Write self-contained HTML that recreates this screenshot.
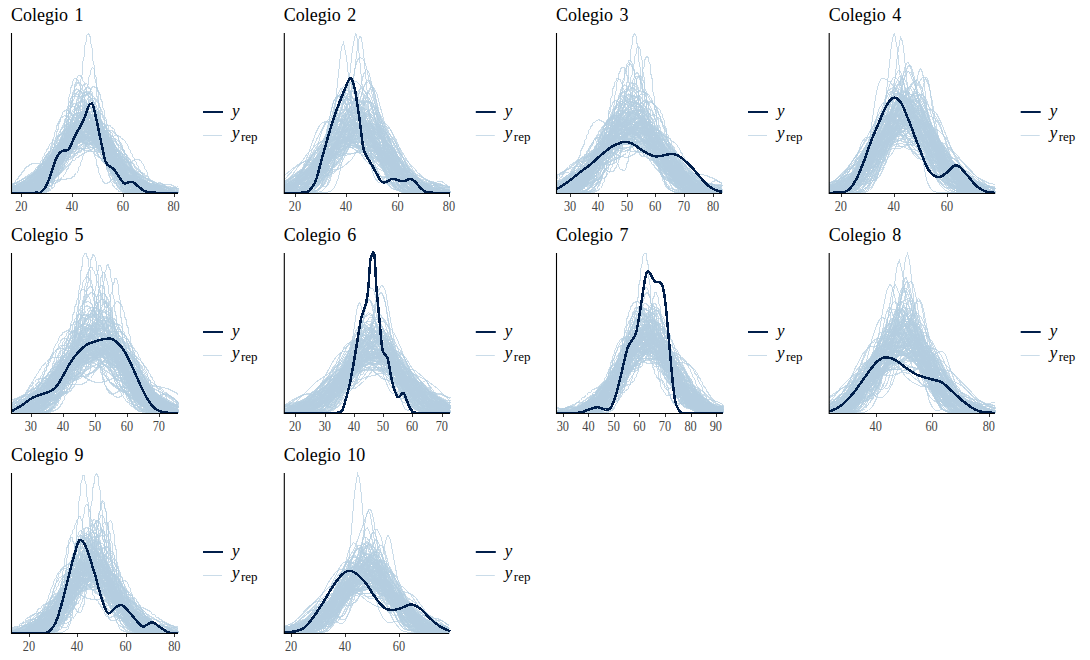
<!DOCTYPE html>
<html><head><meta charset="utf-8"><style>
html,body{margin:0;padding:0;background:#fff;width:1090px;height:660px;overflow:hidden}
svg{position:absolute;left:0;top:0}
.ti{font-family:"Liberation Serif",serif;font-size:18px;fill:#000;word-spacing:2px}
.tk{font-family:"Liberation Serif",serif;font-size:14.7px;fill:#444;text-anchor:middle;letter-spacing:0px}
.ly{font-family:"Liberation Serif",serif;font-style:italic;font-size:17px;fill:#000}
.lr{font-family:"Liberation Serif",serif;font-size:13px;fill:#000}
</style></head><body>
<svg width="1090" height="660" viewBox="0 0 1090 660">
<g fill="none" stroke="#b3cde0" stroke-opacity="0.7" stroke-width="1" shape-rendering="crispEdges" transform="translate(0.5 0.5)">
<path d="M12 186l8-3 0 1 6 0 2 1 2-1 4 0 0-1 6-1 0-1 6 0 0-1 2 0 6-3 8-12 0-3 2-2 0-3 2-3 0-4 2-3 0-3 2-4 0-4 2-4 0-3 2-5 0-4 2-5 0-5 2-7 0-6 2-8 0-8 2-9 0-9 2-9 0-8 2-6 0-5 2-2 2 4 0 5 2 7 0 9 2 9 0 9 2 9 0 9 2 8 0 6 2 6 0 6 2 4 0 4 2 4 0 4 2 3 0 3 2 3 0 3 2 3 0 3 2 2 0 3 2 2 0 3 2 2 0 2 2 2 0 2 2 2 0 2 6 9 2 1 2 3 2 0 0 1 2 0 0 1 4 0 0 1 40 0"/>
<path d="M12 192l12 0 0-1 4 0 0-1 2 0 4-2 0-1 6-4 0-2 2-1 6-9 0-2 2-1 0-2 4-6 0-3 2-2 0-2 2-2 0-2 2-2 0-2 2-2 0-2 2-2 0-2 2-2 0-2 2-1 0-2 2-3 2-1 0-2 4-3 0-2 2-1 0-2 4-6 0-4 2-3 0-5 2-5 0-5 2-5 0-5 2-5 0-3 2-3 2 2 0 4 2 5 0 7 2 8 0 8 2 8 0 9 2 8 0 7 2 6 0 6 2 5 0 5 2 4 0 4 2 3 0 3 2 2 0 3 2 2 0 2 2 1 2 3 4 0 8-4 6 0 0 1 2 0 0 1 2 1 0 1 2 1 2 3 4 2 0 1 4 1 0 1 4 0 2 1 20 0"/>
<path d="M12 192l26 0 4-1 0-1 2-1 2-3 0-2 2-2 0-3 2-3 0-3 2-3 0-4 2-3 0-3 2-3 0-3 2-3 0-3 2-4 0-4 2-4 0-4 2-5 0-5 2-6 0-4 2-5 0-4 2-3 0-2 2-2 10 0 4-2 0-1 2 0 0-1 2 1 2 3 0 3 2 4 0 4 2 4 0 4 2 3 0 2 2 2 4 1 2 3 0 3 2 4 0 4 2 6 0 5 2 6 0 5 2 5 0 5 2 4 0 4 2 3 0 3 2 2 0 2 2 1 2 3 2 0 0 1 52 0"/>
<path d="M12 192l10 0 0-1 4 0 0-1 2 0 4-2 0-1 2 0 2-3 2 0 2-3 2 0 0-1 8-7 0-2 2-1 6-10 4-3 0-2 4-3 6-9 0-2 4-8 0-3 2-3 0-3 4-8 0-3 2-3 0-2 2-4 2-2 0-2 2-1 0-1 4 0 2 1 0 2 2 1 0 2 4 8 0 4 2 4 0 4 2 4 0 5 2 4 0 5 2 5 0 4 2 5 0 4 2 4 0 4 2 4 0 3 2 3 0 2 2 2 0 2 2 3 2 1 0 1 4 2 2 0 0 1 48 0"/>
<path d="M12 191l8-1 0-1 10-3 0-1 4 0 0-1 4 0 4-1 0-1 2 0 0-1 2 0 0-1 4-3 0-2 2-1 0-2 2-2 0-2 2-2 0-2 4-6 2-7 2-2 2-7 2-2 0-2 2-1 0-2 4-6 2-1 2-3 6-3 2 0 0-1 4 0 4 1 0 1 2 0 0 1 4 3 0 2 2 1 0 2 2 2 0 2 6 13 0 3 2 3 0 2 2 3 2 7 2 2 0 2 4 6 2 1 2 3 6 3 2 0 0 1 16 0 4 1 0 1 8 2 0 1 10 2 6 0"/>
<path d="M12 192l12-3 0-1 2 0 0-1 2 0 0-1 2 0 0-1 4-1 0-1 4-2 0-1 4-3 0-2 2-1 0-2 4-8 0-3 2-3 0-3 2-3 0-3 2-3 0-3 2-3 2-7 6-8 4-2 0-1 2 0 0-1 2-1 2-3 2 0 0-1 2-1 2 0 4 2 2 3 0 2 2 1 0 3 2 2 0 2 2 3 0 2 2 3 0 2 2 3 2 7 2 2 0 2 2 2 0 2 2 1 0 2 2 1 0 2 2 1 0 1 2 1 2 3 4 2 0 1 2 1 0 1 2 1 0 1 2 1 0 1 2 1 0 1 2 1 0 1 2 1 2 3 2 0 0 1 6 3 4 0 0 1 36 0"/>
<path d="M12 192l6 0 0-1 8-1 0-1 2 0 0-1 4-2 0-1 4-3 0-2 2-1 4-7 2-1 0-2 2-1 0-2 2-1 6-9 2-1 0-1 2 0 2-3 4-2 0-1 6-4 2-4 2-1 0-2 2-1 0-2 6-9 2-1 2-3 4 0 2 1 0 1 4 3 0 2 2 1 0 2 2 2 0 3 2 2 2 7 2 2 0 3 2 2 0 3 2 2 0 3 2 2 0 2 2 2 0 2 4 6 2 1 2 3 4 2 0 1 6 1 0 1 4 0 0 1 12 0 0 1 6 0 0 1 6 1 0 1 2 0 0 1 8 2 4 0 0 1 4 0"/>
<path d="M12 189l14-4 4 0 0-1 2 0 6-3 0-1 6-5 0-2 2-1 0-2 2-1 0-2 2-2 0-2 2-2 0-2 2-2 0-2 2-2 0-2 2-2 0-2 2-1 0-2 2-1 0-2 2-1 0-1 2-1 2-3 6-3 8 0 0 1 4 1 2 3 2 0 0 1 6 5 0 2 2 1 0 1 2 1 0 1 2 1 0 1 2 1 0 1 2 1 2 3 4 2 0 1 2 0 0 1 6 3 0 1 4 1 2 3 2 0 0 1 2 1 0 1 2 1 0 1 2 1 0 1 2 1 0 1 2 1 0 1 2 1 0 1 2 1 2 3 8 4 2 0 0 1 4 0 2 1 18 0"/>
<path d="M12 192l8 0 0-1 4 0 0-1 4-1 0-1 4-2 2-3 2 0 0-1 8-7 0-2 2-1 0-2 4-6 0-3 2-2 2-7 2-2 0-2 2-2 0-2 4-6 0-3 2-2 0-2 4-8 0-3 2-3 2-7 2-2 0-2 2-1 0-2 4-2 6 1 6 8 0 3 2 3 0 3 2 3 0 4 2 4 0 4 2 5 0 4 2 5 0 4 2 5 0 4 2 4 0 4 2 3 0 3 2 3 0 3 2 2 0 2 2 1 0 1 4 3 0 1 4 0 0 1 56 0"/>
<path d="M12 191l2 0 0-1 2 0 2-1 0-1 2 0 0-1 8-7 2-4 2-1 6-9 4-3 0-2 2-1 0-2 2-1 0-2 2-1 0-2 2-2 0-2 2-1 0-2 6-9 2-1 0-1 2-1 0-1 2-1 2-3 4-2 2-3 2 0 0-1 2 0 0-1 6 0 6 5 6 9 0 2 2 2 0 2 4 6 0 3 2 2 0 3 2 2 0 3 2 3 2 7 2 2 0 3 2 2 0 2 2 1 0 2 2 1 0 2 2 1 2 3 2 0 0 1 2 0 0 1 4 0 0 1 50 0"/>
<path d="M12 189l6-3 2 0 0-1 2 0 0-1 2 0 0-1 6-1 0-1 8-2 0-1 4-2 0-1 6-5 0-2 2-1 0-2 2-2 0-2 4-6 0-2 2-3 0-2 2-2 0-2 2-2 0-2 6-8 6-3 2 0 0-1 4 0 0-1 4-1 8 0 0 1 2 0 0 1 4 3 0 2 4 5 0 3 2 2 0 2 2 3 0 3 2 2 0 3 2 3 0 3 2 2 0 3 2 3 0 2 2 2 0 2 2 2 0 2 6 8 4 2 2 0 0 1 8 0 8-2 0-1 2 0 0-1 4-1 10 0 4 1 0 1 2 0 0 1 6 1 0 1 4 0"/>
<path d="M12 192l14 0 0-1 4-1 0-1 6-5 0-2 2-1 0-2 2-1 0-2 4-2 4 0 0 1 4 1 0-1 2 0 2-3 0-2 2-4 0-4 2-4 0-5 2-6 0-5 2-6 0-6 2-6 0-6 2-5 0-5 2-5 0-4 2-4 0-3 2-3 0-3 2-1 0-2 2-1 2 1 2 3 0 3 2 4 0 4 2 5 0 6 2 6 0 6 2 6 0 6 2 6 0 6 2 6 0 5 2 5 0 4 2 4 0 4 2 3 0 2 2 2 0 2 2 1 0 1 2 0 4-2 0-1 4-3 4-6 0-2 2-2 0-2 2-2 0-2 2-1 0-1 2 0 2 1 0 2 2 2 0 3 2 3 0 4 2 3 0 3 2 2 0 3 2 1 0 2 2 1 0 1 4 1 0 1 34 0"/>
<path d="M12 192l10-1 0-1 2 0 0-1 2 0 0-1 2 0 0-1 2 0 0-1 2 0 0-1 4-1 0-1 8-2 0-1 4-3 0-2 4-5 0-3 4-6 0-3 2-2 2-7 4-5 0-2 2-1 0-2 2-1 0-2 2-1 6-9 0-2 2-1 0-2 2-2 0-2 2-1 0-2 2-3 2-1 0-2 2 0 0-1 4 0 6 9 0 3 2 3 0 3 2 3 0 3 2 4 2 10 2 3 0 4 2 3 0 3 2 3 0 3 2 2 2 7 6 9 2 1 0 1 4 3 0 1 10 4 40 0"/>
<path d="M12 191l8-1 0-1 4-1 2-3 2 0 4-6 2-1 4-7 2-1 0-2 2-1 2-4 2-1 0-1 2-1 2-3 2 0 0-1 2 0 0-1 4-1 12-1 0-1 2 0 4-2 0-1 2 0 12-17 0-2 2-1 2-3 4-2 4 2 4 6 0 2 2 2 0 3 2 2 0 3 2 2 0 3 2 3 0 2 2 3 2 7 2 2 0 2 2 2 0 2 2 1 0 2 2 1 0 1 2 1 2 3 4 2 0 1 4 1 0 1 16 5 4 0 2 1 18 0"/>
<path d="M12 192l8-1 8-4 2-3 2 0 0-2 6-5 2-4 2-1 0-1 2-1 0-1 2-1 0-1 10-9 6-9 0-2 4-5 0-2 2-2 0-2 2-2 0-2 2-1 0-2 2-1 0-2 6-4 2 0 4 2 0 1 6 5 0 2 2 1 2 4 2 1 0 2 2 1 2 4 2 1 0 2 2 1 0 2 2 1 0 2 2 1 0 2 6 9 2 1 0 2 2 1 0 1 2 1 0 1 2 1 2 3 4 2 0 1 4 2 0 1 2 0 0 1 4 2 0 1 2 0 0 1 2 0 0 1 6 1 0 1 4 0 2 1 22 0"/>
<path d="M12 190l16-5 8 0 0-1 4 0 0-1 2 0 0-1 8-7 0-2 2-1 0-2 2-1 0-2 6-8 0-2 2-1 0-2 2-1 0-2 2-1 8-12 2-1 2-3 4-2 0-1 2 0 0-1 2 0 0-1 2 0 0-1 4 0 2-1 2 1 4 0 0 1 4 1 0 1 6 5 0 2 6 9 0 2 2 3 0 2 2 2 2 7 2 2 2 7 4 5 0 2 2 1 0 2 2 1 0 1 2 1 2 3 2 0 0 1 4 1 0 1 4 0 2 1 28 0"/>
<path d="M12 192l26 0 10-4 0-1 4-3 0-2 2-1 0-2 4-6 0-3 2-2 0-3 2-2 0-3 2-3 0-3 2-3 0-3 2-3 0-3 2-3 0-3 2-2 0-3 2-3 0-2 2-2 0-2 2-2 0-2 2-1 0-2 4-2 4 1 0 1 4 3 0 2 4 5 0 2 6 9 0 2 2 1 2 4 6 5 0 2 4 3 0 2 2 1 0 2 2 1 0 2 2 1 2 4 2 1 0 1 2 1 2 3 2 0 0 1 4 2 0 1 2 0 0 1 2 1 0 1 2 0 0 1 2 1 2 3 4 2 0 1 6 3 2 0 0 1 4 0 0 1 16 0"/>
<path d="M12 192l18 0 0-1 4 0 0-1 2 0 2-3 2 0 2-3 4-2 6 0 0 1 2 0 6-3 0-2 2-1 4-6 0-2 2-1 0-2 2-2 0-2 2-2 0-2 2-3 0-3 2-4 0-4 2-4 0-4 2-5 0-4 2-5 0-5 2-4 0-5 2-4 0-4 2-3 0-3 4-8 4 1 4 8 0 3 2 4 0 4 2 5 0 4 2 5 0 6 2 5 0 5 2 5 0 5 2 4 0 5 2 4 2 10 2 3 0 2 2 2 0 2 2 1 2 3 10 0 4 2 0 1 4 2 0 1 2 0 0 1 4 0 0-1 2 0 0-1 4-2 0-1 4-1 0-1 2 0 0 1 4 1 0 1 6 4 0 1 8 2"/>
<path d="M12 190l6-1 0-1 2 0 0-1 2 0 2-1 0-1 2 0 0-1 4-2 0-1 6-5 2-4 2-1 0-2 2-1 0-2 2-1 0-2 2-1 0-2 2-1 0-2 2-1 2-4 2-1 2-3 2 0 0-1 4-1 4 0 0 1 10 0 10-5 0-1 2 0 0-1 4 0 0-1 2 0 0 1 2 0 4 2 0 1 6 5 0 2 2 1 2 4 2 1 0 2 2 1 0 2 4 3 0 2 2 1 0 1 2 1 2 3 2 0 2 3 2 0 0 1 8 4 2 0 0 1 2 0 0 1 2 0 0 1 2 0 0 1 10 3 0 1 6 1 0 1 4 0 0 1 12 1"/>
<path d="M12 192l0-1 6 0 0-1 2 0 10-6 0-1 2-1 0-2 4-3 0-2 2-1 0-2 2-1 0-2 2-1 0-2 2-1 0-2 2-1 2-4 2-1 2-3 6-3 4-1 10 0 0-1 4-1 0-1 6-4 2-4 2-1 0-1 2-1 2-3 2 0 0-1 4-1 0 1 2 0 4 2 2 4 2 1 0 2 2 1 0 2 4 5 0 2 4 5 0 2 2 1 0 2 4 6 2 1 0 2 2 1 2 4 2 1 0 1 2 1 0 1 2 1 0 1 2 1 2 3 2 0 0 1 8 4 8 1 0 1 22 0"/>
<path d="M12 192l12 0 0-1 4 0 8-4 0-1 4-3 8-12 0-2 6-9 0-2 8-11 4-2 0-1 2 0 0-1 2 0 8-4 0-1 2 0 0-1 6-3 2 0 0-1 8 0 4-1 0-1 2 0 0-1 6 0 4 3 0 2 4 6 0 3 2 2 0 3 2 3 0 3 2 4 0 3 4 8 0 3 2 2 0 2 2 4 6 8 2 0 0 1 2 0 0 1 4 0 0 1 34 0"/>
<path d="M12 184l24-12 0-1 2 0 0-1 4-2 0-1 4-2 0-1 2 0 0-1 4-2 0-1 2 0 0-1 4-2 0-1 4-1 2-3 2 0 0-1 4-2 2-3 2 0 2-3 2 0 0-1 6-3 2 0 0-1 6 0 4 1 0 1 2 0 0 1 4 2 0 1 6 5 0 2 2 1 10 16 2 1 0 2 4 3 2 4 2 0 0 1 6 4 0 1 2 0 0 1 2 0 0 1 2 0 0 1 14 4 6 0 2 1 14 0"/>
<path d="M12 192l8 0 8-2 0-1 6-5 12-21 2-1 2-3 8-2 4-2 0-1 2 0 0-2 2-1 14-23 2-1 2-3 2 0 0-1 4 0 0 1 4 3 0 2 2 2 2 4 0 2 2 2 2 7 2 2 0 2 2 2 0 2 2 1 2 4 2 0 0 1 2 0 0 1 4 0 4 1 0 1 2 0 4 6 2 1 0 2 6 9 2 1 0 2 2 1 2 3 2 0 0 1 4 1 0 1 4 0 0 1 26 0"/>
<path d="M12 192l12-1 0-1 4-1 0-1 6-4 0-2 4-3 0-2 2-1 0-2 2-1 0-2 4-3 0-2 2-1 0-1 2-1 2-3 4-2 2-4 2-1 0-2 2-1 0-2 4-5 0-2 2-2 0-2 2-2 0-2 6-8 6 0 0 1 8 7 2 4 4 3 0 2 4 3 2 4 2 1 2 4 2 1 0 2 2 1 0 2 2 1 0 1 2 1 0 1 2 1 0 1 2 1 2 3 4 2 0 1 2 0 0 1 6 3 0 1 2 0 0 1 2 0 0 1 2 0 0 1 2 0 0 1 12 3 0 1 8 2 0 1 2 0 0 1 10 1 0 1 6 0"/>
<path d="M12 185l4-6 2-1 0-2 2-1 2-4 2-1 0-2 2-1 0-1 2 0 0-1 4-2 14 1 4-2 0-1 2 0 2-4 2-1 0-2 2-1 0-2 2-2 0-2 2-1 0-2 2-2 0-2 2-2 0-2 2-1 0-2 2-1 2-3 4-1 4 1 0 1 4 3 0 2 2 1 4 6 0 2 2 1 0 2 2 1 0 2 2 1 0 2 2 1 0 2 2 1 2 4 2 1 0 1 2 1 0 1 2 1 2 3 2 0 0 1 2 1 2 3 2 0 2 3 2 0 0 1 4 2 0 1 2 0 0 1 2 0 0 1 2 0 0 1 2 0 0 1 2 0 0 1 2 0 0 1 2 0 0 1 2 0 0 1 8 2 4 0 2 1 22 0"/>
<path d="M12 189l8-2 0-1 4 0 0-1 10-1 0-1 4-1 0-1 6-5 2-3 0-2 2-2 0-2 2-2 0-2 2-2 0-3 2-2 0-3 2-2 0-3 2-3 2-7 4-6 0-2 4-3 4 0 0 1 4 3 4 7 2 1 0 2 6 3 6-3 0-1 2 0 0-1 4-1 0-1 2 0 0 1 4 1 6 9 0 2 4 6 2 7 2 2 0 2 2 2 0 2 2 2 0 2 2 1 0 2 2 3 2 1 2 4 2 0 2 3 2 0 0 1 4 1 4 0 0 1 32 0"/>
<path d="M12 191l6-1 0-1 2 0 0-1 2 0 8-4 2 0 0-1 2 0 0-1 4-2 4-6 0-2 2-2 0-3 2-3 0-3 2-3 0-4 2-3 0-4 2-4 0-4 2-3 0-4 2-3 0-3 4-8 4-3 4 2 0 1 4 3 0 2 4 3 0 2 8 7 0 2 2 1 0 1 2 1 0 1 2 1 0 1 2 1 2 3 2 0 2 3 2 0 0 1 4 2 0 1 4 3 0 2 2 1 0 2 2 1 0 2 4 5 0 2 2 2 0 2 2 1 0 2 2 3 2 1 0 2 6 4 0 1 8 2 40 0"/>
<path d="M12 192l12-1 0-1 2 0 6-3 0-1 6-5 4-6 0-2 2-1 0-2 2-2 0-2 2-2 0-2 2-2 0-2 2-2 0-2 6-9 2-1 0-1 2-1 0-1 2-1 2-3 2 0 0-1 2 0 0-1 4-1 0-1 10-1 0-1 2 0 4-2 6 0 4 3 4 6 0 2 2 2 0 2 2 2 0 2 2 2 0 2 2 2 0 2 2 1 0 2 2 2 0 2 2 1 0 2 6 8 0 2 2 1 0 2 2 1 2 4 2 1 2 3 2 0 0 1 2 0 0 1 2 0 0 1 4 0 0 1 34 0"/>
<path d="M12 192l10 0 4-1 0-1 2 0 6-8 2-7 2-2 0-3 2-2 0-3 2-2 0-2 2-3 4-3 2 0 4 2 4 0 2-2 4-8 0-3 2-4 0-3 2-4 0-4 2-3 0-4 2-3 0-3 2-3 0-2 2-4 4-3 0 1 2 0 2 3 0 2 2 2 0 3 2 3 0 4 2 3 0 4 2 4 0 3 2 3 0 3 2 3 0 2 2 2 0 2 2 1 0 1 4 3 0 1 2 1 0 1 2 1 0 1 2 1 0 1 2 1 0 1 2 1 2 3 2 1 0 2 2 1 0 2 2 1 0 2 8 11 8 3 40 0"/>
<path d="M12 190l6-1 0-1 2 0 0-1 2 0 0-1 2 0 0-1 4-1 2-3 2 0 0-1 10-9 2-4 2-1 2-4 2-1 0-2 2-1 2-4 2-1 0-1 2-1 0-1 2-1 2-3 2 0 0-1 10-5 4-1 8 0 0 1 2 0 0 1 4 1 0 1 4 2 0 1 2 0 0 1 22 10 0 1 4 3 0 2 2 1 12 18 2 1 2 3 4 2 0 1 12 3 20 0"/>
<path d="M12 192l18 0 6-3 6-9 0-2 2-3 2-1 2-3 2 0 0-1 4 0 0-1 4-3 0-2 2-3 0-3 2-3 0-4 2-4 0-5 2-5 0-5 2-6 0-6 2-6 0-7 2-6 0-6 2-5 0-5 2-4 0-3 2-3 2 0 0 1 2 1 0 3 2 2 0 3 4 11 0 4 4 14 0 5 2 5 0 4 2 5 0 4 2 4 0 4 2 3 0 3 2 2 0 2 2 2 0 2 2 2 0 2 2 2 0 2 2 1 0 3 2 2 0 2 2 2 0 3 2 2 0 2 2 1 0 2 2 1 2 3 4 1 52 0"/>
<path d="M12 191l2 0 0-1 4 0 0-1 2 0 0-1 8-2 0-1 2 0 0-1 2 0 0-1 2 0 0-1 2 0 0-1 2 0 0-1 2 0 0-1 2 0 8-4 0-1 2 0 0-1 8-7 0-2 2-1 0-2 4-5 0-2 2-2 0-2 2-2 0-2 2-2 0-2 2-1 0-2 4-6 2-1 2-3 2 0 0-1 2 0 0-1 8 0 0 1 4 0 0 1 2 0 0 1 6 4 2 4 2 1 0 2 2 2 0 2 2 2 0 2 4 6 0 3 4 6 0 3 2 2 0 2 2 2 0 2 2 1 0 2 2 3 2 1 0 2 2 1 0 1 2 0 0 1 4 2 2 0 0 1 8 0 0-1 4 0 6-2 14 0 0 1 4 0 0 1"/>
<path d="M12 192l12 0 2-1 4 0 0-1 2 0 4-2 0-1 2 0 0-1 4-3 0-2 2-1 4-6 0-2 2-1 0-2 2-2 0-2 2-1 0-2 6-9 2-1 0-1 2-1 0-1 2-1 2-3 2 0 2-3 2 0 2-3 2 0 2-3 2 0 0-1 4-1 0-1 2 0 6 3 0 1 2 1 2 4 2 1 2 4 2 1 2 3 2 0 0 1 4 0 0 1 10 0 0 1 2 0 0 1 6 5 0 2 2 1 6 10 2 1 0 2 2 1 0 1 2 1 0 1 2 1 0 1 2 1 2 3 2 0 0 1 10 4 4 0 2 1 10 0"/>
<path d="M12 191l2 0 0-1 2 0 8-4 0-1 6-5 2-4 2-1 0-2 2-1 0-2 2-1 0-2 4-5 0-2 2-1 0-2 2-1 0-2 2-1 4-6 2 0 0-1 4-2 8-1 0-1 4 0 0-1 2 0 0-1 2 0 0-1 2 0 0-1 8-2 4 1 6 3 0 1 2 0 0 1 4 3 2 4 2 1 8 13 2 1 0 2 2 1 0 1 2 1 0 1 2 1 0 1 2 1 2 3 2 0 0 1 4 2 0 1 2 0 0 1 4 2 0 1 2 0 0 1 2 0 0 1 6 3 2 0 0 1 4 1 4 0 2 1 20 0"/>
<path d="M12 191l6-1 0-1 2 0 0-1 4-2 0-1 4-3 0-2 2-1 2-4 2-1 0-2 2-1 0-1 2-1 0-1 2-1 2-3 4-2 0-1 2 0 0-1 4-2 0-1 4-3 6-9 0-2 4-5 0-2 2-2 0-2 2-1 0-2 2-3 2-1 2-3 4-1 0 1 2 0 0 1 4 3 2 3 0 2 4 5 0 2 4 5 0 2 2 1 0 2 2 1 0 2 4 3 0 2 2 1 2 4 2 1 0 2 2 1 2 4 2 1 0 1 2 1 0 1 2 1 2 3 4 2 0 1 4 2 0 1 2 0 0 1 2 0 0 1 10 5 2 0 0 1 4 0 2 1 26 0"/>
<path d="M12 191l8-1 0-1 8-2 0-1 8-2 0-1 2 0 0-1 4-1 10-15 0-3 2-2 0-2 2-3 0-2 2-3 2-7 4-6 0-2 2-3 2-1 0-1 4-2 2 0 14 8 4 0 0-1 2 0 6-3 4 1 0 1 4 3 0 2 2 2 0 2 6 13 0 3 2 2 0 3 2 2 0 2 2 2 0 2 6 8 2 0 0 1 12 6 2 0 0 1 6 1 0 1 6 0 0 1 22 0"/>
<path d="M12 191l6-1 0-1 2 0 0-1 2 0 0-1 2 0 0-1 8-1 0-1 8 0 6-4 2-3 0-2 2-2 0-2 2-2 0-3 2-2 0-3 4-8 0-3 4-8 0-3 2-2 0-2 2-2 0-2 2-2 0-2 2-1 2-3 6 0 0 1 8 5 12-1 0 1 2 1 0 2 2 1 0 2 2 3 0 3 2 3 0 3 2 3 0 3 2 3 0 3 2 3 0 3 2 2 0 2 4 6 2 0 0 1 4 0 0 1 4 0 6 3 0 1 2 1 2 3 2 0 2 3 2 0 0 1 4 1 0 1 4 0 0 1 26 0"/>
<path d="M12 189l0-1 2 0 0-1 2 0 0-1 2 0 0-1 2 0 0-1 2 0 0-1 2 0 0-1 4-2 0-1 2-1 0-1 10-9 0-2 4-3 0-2 2-1 2-4 2-1 0-1 2-1 0-1 2-1 2-3 4-2 0-1 2 0 0-1 16-8 4 0 0-1 2 0 0 1 4 0 0 1 2 0 0 1 4 2 0 1 4 3 0 2 2 1 14 22 2 1 0 2 2 1 0 1 2 1 2 3 2 0 0 1 6 3 8 2 4 0 12 3 0 1 8 2 4 0 0 1 12 1"/>
<path d="M12 184l0-1 4 0 2-1 10 0 8-3 0-1 6-5 6-9 0-2 4-5 0-2 8-12 2-1 0-1 6-3 4 0 4 1 0 1 2 0 0 1 2 0 0 1 6 1 0 1 12 1 0 1 2 0 0 1 4 1 0 1 4 3 2 4 2 1 4 7 2 1 0 2 4 3 0 2 2 1 2 3 8 5 0 1 2 0 0 1 2 0 0 1 2 0 0 1 2 0 0 1 2 0 0 1 2 0 0 1 6 1 0 1 4 0 0 1 8 0 0 1 14 0"/>
<path d="M12 191l0-1 4 0 0-1 2 0 0-1 2 0 0-1 4-1 0-1 4-2 0-1 2 0 0-1 2-1 2-3 2 0 2-3 2 0 2-3 4-1 0-1 8-4 0-1 2 0 0-1 4-2 0-1 8-7 0-2 2-1 0-1 2-1 0-1 2-1 0-1 2-1 0-1 2-1 0-1 2-1 2-3 2 0 0-1 4-1 0-1 8 0 6 3 0 1 10 9 2 4 2 1 2 4 2 1 0 2 2 1 0 2 2 1 2 4 2 1 0 2 4 3 2 4 2 1 0 1 2 1 0 1 2 1 2 3 2 0 0 1 8 4 2 0 0 1 6 0 0 1 18 0"/>
<path d="M12 192l16 0 2-1 4 0 0-1 2 0 0-1 4-1 0-1 4-2 2-3 2 0 6-8 0-2 2-2 0-3 2-3 0-3 2-4 0-4 2-4 0-5 2-5 0-5 2-6 0-5 2-5 0-5 2-5 0-5 2-4 0-4 2-2 0-3 2-1 0-1 4 3 0 3 2 3 0 4 2 4 0 4 2 5 0 4 2 5 0 4 2 4 0 3 2 3 0 3 2 2 0 2 2 3 2 1 0 1 2 0 0 1 2 0 0 1 8 2 0 1 6 5 0 2 2 1 0 2 4 5 0 2 2 2 0 2 2 2 0 2 4 6 2 1 2 3 2 0 0 1 2 0 0 1 4 0 0 1 36 0"/>
<path d="M12 192l30 0 0-1 2 0 6-4 4-6 0-3 2-2 0-3 2-3 0-3 2-3 0-3 2-3 0-3 2-3 0-3 2-3 0-2 2-3 0-3 2-2 0-3 2-2 0-3 2-3 0-3 2-3 0-3 2-4 0-4 2-3 0-4 2-4 0-3 2-3 0-2 2-1 0-1 4 1 0 2 2 2 0 3 2 2 2 10 2 3 0 3 4 11 0 4 2 4 0 4 2 4 0 4 2 4 0 4 2 4 0 4 2 3 0 4 2 3 0 3 2 2 0 2 2 3 2 1 0 1 10 0 4 2 2 3 2 0 2 3 2 0 0 1 4 0 0 1 32 0"/>
<path d="M12 192l2-1 4 0 0-1 2 0 0-1 4-1 0-1 6-5 0-2 2-1 0-2 2-1 0-2 2-1 0-2 6-9 2-1 2-3 8-4 2 0 0-1 2 0 0-1 2 0 0-1 2 0 0-1 2 0 0-1 4-2 0-1 2 0 2-3 2 0 2-3 4-2 0-1 2-1 2-3 4-2 0-1 6 0 0 1 4 3 0 2 2 2 0 2 4 6 0 2 2 3 0 2 2 2 0 3 2 2 0 2 2 2 0 2 2 1 0 2 2 1 2 3 4 2 2 0 0 1 8 1 0 1 2 0 8 4 0 1 2 0 0 1 12 6 2 0 0 1 6 0 0 1 14 0"/>
<path d="M12 190l6-1 0-1 8-2 0-1 6-1 0-1 2 0 0-1 2 0 2-1 0-1 4-1 0-1 2-1 0-1 2-1 0-1 2-1 0-1 2-1 0-1 2-1 2-3 2 0 0-1 2-1 0-1 2-1 0-1 2-1 0-1 10-9 0-2 2-1 0-1 2-1 0-1 2-1 2-3 2 0 0-1 2 0 0-1 2 0 0-1 18 0 6 3 0 1 4 3 2 4 2 1 0 2 2 1 0 2 2 1 0 2 2 1 2 4 2 1 0 2 2 1 2 4 4 3 0 2 2 1 0 1 2 1 0 1 2 1 0 1 2 1 2 3 2 0 2 3 2 0 0 1 2 0 0 1 4 0 0 1 4 0 2 1 14 0"/>
<path d="M12 192l16 0 0-1 4 0 0-1 2 0 0-1 4-3 0-2 2-1 0-2 2-2 0-3 2-2 0-3 2-2 0-3 2-3 0-3 2-3 0-3 2-2 0-3 2-2 0-3 2-2 2-7 2-2 0-3 4-8 0-3 2-2 0-3 2-2 0-2 2-3 2-1 2 0 0 1 2 1 8 14 10 9 0 2 2 2 0 2 2 2 0 2 2 3 0 3 2 3 0 3 2 2 0 3 2 3 0 2 2 2 0 3 2 1 0 2 2 3 2 1 0 2 2 1 0 1 2 1 0 1 2 1 2 3 2 0 2 3 10 4 42 0"/>
<path d="M12 192l10-2 0-1 2 0 0-1 4-1 0-1 8-7 0-2 2-1 0-2 2-1 0-2 2-1 0-2 2-1 0-2 2-1 0-2 2-1 0-2 2-1 0-1 2-1 2-3 4-2 8 0 0 1 4 1 6 0 0-1 4-1 0-1 2-1 0-1 2-1 0-1 2-1 0-1 2-1 2-3 4-2 4 0 4 2 0 1 4 3 0 2 2 1 2 4 2 1 2 4 2 1 2 3 2 0 2 3 2 0 0 1 12 8 0 1 2 1 2 3 2 0 2 3 4 2 0 1 4 2 0 1 2 0 0 1 2 0 0 1 2 0 0 1 8 2 12 1"/>
<path d="M12 192l10 0 8-2 0-1 2 0 0-1 4-2 0-1 12-8 0-1 6-5 0-2 2-1 8-12 0-2 2-1 0-2 2-2 0-2 2-2 0-2 2-2 0-2 2-2 0-2 2-2 0-2 2-2 0-2 2-1 0-2 2-1 2-3 6-3 4 0 4 2 0 2 2 1 0 2 2 2 0 3 2 3 0 3 2 3 0 3 2 3 0 3 2 3 0 3 2 2 0 2 2 2 0 2 2 1 2 3 12 6 0 1 4 3 0 2 4 3 0 2 2 1 0 1 2 1 2 3 10 4 24 0"/>
<path d="M12 190l2 0 0-1 2 0 10-5 0-1 2 0 2-3 2 0 0-1 2-1 2-3 2 0 0-1 2-1 2-3 2 0 0-1 6-4 0-1 2 0 0-1 2 0 0-1 2 0 0-1 6-1 0-1 6-1 0-1 4-1 0-1 4-2 0-1 2-1 0-1 2-1 2-3 4-2 0-1 2-1 2-3 6-3 6 0 0 1 2 0 0 1 4 2 2 4 2 1 10 16 2 1 0 2 2 1 0 1 2 1 0 1 2 1 0 1 2 1 0 1 2 1 2 3 4 2 0 1 2 0 0 1 6 3 0 1 2 0 0 1 2 0 0 1 8 2 0 1 8 2 10 1"/>
<path d="M12 192l14 0 0-1 8-1 0-1 4-1 0-1 4-2 0-1 4-2 0-1 6-3 0-1 2 0 0-1 2 0 0-1 4-2 8-12 0-3 2-2 0-2 2-3 0-2 2-3 0-2 2-3 2-7 2-2 0-2 2-1 0-2 2-1 2-3 2 0 0-1 4 0 0 1 2 0 2 1 0 1 2 0 0 1 4 3 0 2 4 3 0 2 2 1 2 4 2 1 0 2 2 1 0 1 2 1 0 2 6 5 0 2 4 3 0 2 2 1 4 6 4 3 0 2 2 1 0 1 2 1 2 3 4 2 2 3 4 2 0 1 2 0 0 1 4 1 0 1 8 1 0 1 12 0"/>
<path d="M12 187l4-2 0-1 4-1 0-1 8-4 0-1 2 0 0-1 4-1 0-1 4-2 0-1 2 0 2-3 2 0 0-1 2-1 0-1 2-1 0-1 2-1 2-3 2 0 0-1 10-9 2-4 2 0 0-1 2-1 0-1 2-1 0-1 2-1 2-3 2 0 2-3 2 0 0-1 4-1 6 0 6 3 0 1 4 3 6 9 0 2 2 2 0 2 2 2 0 2 2 2 0 2 2 2 0 2 2 2 0 2 2 2 0 2 2 1 0 2 4 6 2 1 0 1 2 1 2 3 2 0 0 1 2 0 0 1 2 0 0 1 4 0 2 1 34 0"/>
<path d="M12 188l10-3 8 1 0 1 4 0 2 1 8-3 0-1 4-3 4-6 0-2 2-1 0-2 2-2 0-2 2-2 0-2 2-2 0-2 2-2 0-2 2-2 0-2 2-2 0-2 2-1 0-2 2-1 2-4 2-1 0-1 2-1 0-1 2-1 0-1 2-1 0-1 2-1 0-1 2-1 0-1 2-1 0-1 2-1 2-3 2-1 4 0 0 1 4 3 0 2 2 2 0 2 4 8 0 3 2 3 0 3 2 2 0 3 2 3 2 7 2 2 0 2 2 1 0 2 2 1 2 3 2 0 0 1 2 0 0 1 6 1 0 1 4 2 0 1 2 0 0 1 2 1 0 1 2 1 2 3 2 0 0 1 8 4 4 0 0 1 20 0"/>
<path d="M12 192l0-1 8-1 0-1 2 0 2-3 2 0 2-4 2-1 2-3 0-2 2-1 0-2 2-2 0-2 2-2 0-2 2-2 0-2 2-2 0-2 2-2 0-2 2-2 0-2 2-1 0-2 2-3 2-1 0-2 2-1 2-3 2 0 0-1 4-2 10 0 0 1 4 1 0 1 4 2 0 1 4 3 0 2 2 1 0 1 2 1 0 1 2 1 0 1 2 1 2 3 4 2 0 1 2 0 0 1 2 0 0 1 2 0 6 3 0 1 2 0 2 3 2 0 0 1 2 1 0 1 2 1 0 1 2 1 2 3 4 2 0 1 4 2 0 1 2 0 0 1 2 0 0 1 2 0 0 1 4 2 2 0 0 1 2 0 0 1 2 0 0 1 8 2 6 0 0 1 16 0"/>
<path d="M12 192l18 0 0-1 4 0 8-4 0-1 4-2 2-3 2 0 0-1 4-3 0-2 2-1 0-2 4-6 0-2 2-3 0-3 2-2 0-3 2-3 0-3 2-3 0-3 2-3 0-2 2-3 2-7 2-2 0-2 2-2 0-2 2-2 0-2 6-9 2-1 4 0 6 9 0 3 2 3 0 3 2 3 0 4 2 3 0 4 2 3 0 4 2 4 0 3 2 3 0 3 2 3 0 2 2 2 0 3 2 1 0 2 2 3 2 1 0 2 4 3 2 4 2 1 2 3 6 3 4 0 10-5 6 0 0 1 2 0 0 1 2 0 0 1 6 3 2 0 0 1 10 1"/>
<path d="M12 185l2-1 0-1 2 0 0-1 6-3 0-1 2 0 0-1 4-2 0-1 2 0 0-1 4-2 0-1 6-4 0-1 2-1 0-1 2-1 0-1 2-1 0-1 2-1 0-1 2-1 0-1 2-1 2-3 2 0 0-1 4-2 0-1 2 0 0-1 2 0 0-1 8-4 2 0 0-1 2 0 0-1 2 0 0-1 4 0 0-1 8 0 0 1 4 1 0 1 6 5 6 9 0 2 2 1 0 2 8 12 2 1 0 2 2 1 2 3 2 0 2 3 2 0 0 1 2 0 0 1 2 0 0 1 2 0 0 1 2 0 0 1 2 0 0 1 14 4 6 0 0 1 20 0"/>
<path d="M12 192l10-1 0-1 2 0 4-2 0-1 2 0 0-1 6-5 6-9 0-2 2-1 0-2 4-6 2-7 2-2 0-2 2-3 0-2 2-2 0-2 2-2 0-2 4-6 4-2 6 0 2 1 4 0 0 1 8 0 2 1 0 1 2 0 4 6 2 1 0 2 2 1 0 2 2 1 0 2 2 1 2 4 10 9 2 4 4 3 0 2 4 3 2 4 2 1 0 1 2 1 0 1 2 1 2 3 2 0 0 1 6 3 2 0 0 1 4 0 2 1 28 0"/>
<path d="M12 191l0-1 4 0 0-1 6-1 0-1 2 0 0-1 2 0 0-1 2 0 0-1 4-2 0-1 8-7 12-19 2-1 0-2 2-1 0-1 2-1 2-3 4-1 0-1 10 1 0 1 2 0 0 1 2 0 0 1 2 0 4 2 4 0 0 1 6 0 10 2 0 1 2 0 10 5 0 1 2 0 0 1 4 2 0 1 2 0 0 1 4 2 0 1 2 0 0 1 6 3 0 1 2 0 0 1 2 0 0 1 18 9 2 0 0 1 2 0 0 1 2 0 0 1 6 1 0 1 4 0 0 1 4 0"/>
<path d="M12 192l12 0 0-1 8-1 0-1 2 0 0-1 4-1 0-1 8-7 0-2 2-1 0-2 6-9 0-3 2-2 0-2 2-3 0-3 2-2 0-3 2-3 0-2 2-3 2-7 4-6 0-2 6-4 6 4 4 6 0 2 2 1 0 2 4 5 0 2 2 1 4 6 8 4 8 1 0 1 2 0 8 5 4 6 2 1 0 2 2 1 0 2 2 1 0 2 2 1 4 7 2 1 2 3 8 4 4 0 0 1 22 0"/>
<path d="M12 192l10 0 0-1 8-1 0-1 2 0 0-1 2 0 0-1 4-2 4-6 2-1 0-2 2-1 0-2 2-1 0-2 2-1 0-2 4-5 0-2 2-1 0-2 2-1 0-2 2-1 0-2 2-1 2-4 2-1 2-3 6-3 6 0 4 1 0 1 4 2 2 0 0 1 8 0 0-1 2 0 0-1 4-2 0-1 4-1 0-1 2 0 4 2 0 1 2 1 0 2 2 1 0 2 2 2 0 2 2 3 0 2 2 2 0 3 2 2 0 3 2 2 0 2 2 2 0 2 4 6 2 1 2 3 10 3 8 1 0 1 4 0 0 1 8 2 10 1"/>
<path d="M12 189l4-2 2 0 0-1 2 0 0-1 12 0 0-1 2 0 6-4 0-2 2-1 0-2 4-6 0-3 2-2 2-7 2-2 0-2 2-2 0-2 2-2 0-2 2-1 0-2 4-5 0-2 2-2 0-2 2-2 0-2 2-2 0-2 2-2 0-2 4-6 4-1 2 1 0 1 2 1 2 3 0 2 2 2 0 2 2 2 0 2 2 2 0 2 2 2 0 2 2 2 0 2 2 2 0 2 2 1 0 2 2 1 0 2 2 1 0 2 2 1 2 4 2 1 0 2 2 1 0 2 2 1 0 2 6 8 0 2 2 1 0 2 2 1 0 2 2 1 0 1 2 1 2 3 2 0 0 1 2 0 0 1 4 0 2 1 40 0"/>
<path d="M12 192l2 0 0-1 2 0 6-3 0-1 4-3 2-4 2-1 0-2 2-1 2-3 2 0 0-1 6 0 0 1 2 0 0 1 2 0 0 1 4 0 4-3 0-2 2-1 0-3 2-2 0-3 2-4 0-3 4-11 0-4 2-3 0-4 2-3 0-3 2-2 0-3 4-6 2-1 0-1 4-1 0-1 6 0 4 2 0 2 2 1 0 3 2 2 0 3 2 3 0 3 4 11 0 4 2 4 0 4 2 4 0 4 2 3 0 4 2 3 2 7 2 3 2 1 0 1 4 0 4-2 0-1 6-3 2 0 6 3 0 1 2 1 0 1 2 1 0 1 2 1 2 3 2 0 0 1 2 0 0 1 4 0 0 1 26 0"/>
<path d="M12 192l8 0 0-1 8-1 0-1 2 0 0-1 6-4 0-2 2-1 4-6 0-2 4-5 0-2 2-2 0-3 2-2 0-2 2-2 0-2 2-1 0-2 2-2 0-2 2-1 0-2 2-1 0-1 2-1 2-3 4-1 0-1 10 2 0 1 2 0 0 1 8 0 0-1 2 0 6-3 6 0 0 1 2 0 0 1 2 1 0 2 2 1 0 2 2 1 0 2 4 6 0 3 2 2 0 2 2 2 0 2 2 2 0 2 2 2 0 2 4 6 2 1 2 3 4 2 0 1 10 5 2 0 0 1 4 1 4 0 2 1 22 0"/>
<path d="M12 190l2 0 0-1 2 0 0-1 4-1 2-3 2 0 0-1 6-5 2-4 6-5 0-2 2-1 0-1 2-1 0-1 2-1 0-1 2-1 2-3 4-2 2-3 4-2 2-3 2 0 0-1 4-2 0-1 2 0 0-1 2 0 0-1 2 0 0-1 2 0 0-1 2 0 0-1 8-1 4 1 0 1 2 0 0 1 2 0 0 1 4 3 4 7 2 1 0 2 2 1 0 2 2 1 0 2 2 1 0 2 2 1 0 1 2 1 0 1 2 1 2 3 2 0 0 1 2 0 0 1 2 0 0 1 2 0 0 1 6 1 0 1 2 0 0 1 2 0 0 1 8 2 0 1 2 0 0 1 6 1 0 1 4 0 0 1 8 2 0 1 4 0 0 1 4 0 0 1 6 0 2 1"/>
<path d="M12 191l0-1 4 0 0-1 6-1 0-1 8-2 0-1 2 0 0-1 2 0 0-1 4-1 2-3 2 0 0-1 2-1 0-2 4-3 0-2 2-1 0-2 2-1 0-2 10-15 2-1 0-1 2-1 2-3 6-3 2 0 0-1 12-1 0-1 4 0 2-1 8 0 0 1 2 0 0 1 4 3 6 9 0 2 2 2 0 2 2 2 0 2 2 2 0 2 4 5 0 2 2 1 0 2 2 1 0 1 2 1 0 1 2 1 2 3 6 3 0 1 2 0 0 1 2 0 0 1 8 2 0 1 10 1 0 1 16 0"/>
<path d="M12 192l8-1 0-1 2 0 4-2 0-1 2 0 0-1 6-4 0-1 2-1 0-1 2-1 2-3 2 0 2-3 2 0 0-1 6-5 6-9 0-2 2-2 0-2 2-3 0-2 2-2 0-2 2-2 0-2 2-1 0-2 2-1 2-3 6 0 0 1 2 0 2 3 2 0 0 1 2 0 0 1 6 0 8-4 2 0 4 2 4 6 0 2 2 2 2 7 2 2 0 3 2 2 0 3 2 2 0 2 2 2 0 2 2 2 0 2 2 1 0 2 2 1 0 1 2 1 0 1 2 1 2 3 2 0 0 1 2 0 0 1 4 1 0 1 2 0 0 1 10 2 24 0"/>
<path d="M12 192l30 0 4-1 0-1 2 0 0-1 2-1 2-3 0-2 2-2 0-3 2-4 0-3 2-5 0-5 2-5 0-6 2-6 0-7 2-6 0-7 2-7 0-7 2-6 0-6 2-6 0-4 2-4 0-3 2-3 2 0 0 1 2 1 0 3 2 3 0 4 2 4 0 4 2 5 0 5 2 4 0 4 2 5 0 3 2 3 0 3 2 3 0 2 2 1 2 4 4 3 4 6 0 2 2 1 0 2 2 2 0 2 2 2 0 2 2 1 0 2 6 9 4 3 0 2 2 1 0 1 2 1 0 1 2 1 0 1 2 1 2 3 2 0 0 1 2 0 0 1 4 0 0 1 38 0"/>
<path d="M12 192l10 0 2-1 4 0 4-1 0-1 2 0 0-1 2 0 0-1 4-2 0-1 8-7 2-4 2-1 0-2 2-1 2-4 2-1 0-2 2-1 14-22 2-1 0-2 2-1 0-1 4-2 2 0 0-1 2 0 0 1 2 0 2 1 0 1 2 0 0 1 4 2 0 1 20 9 0 1 6 5 2 4 2 1 0 2 2 1 0 2 2 1 0 2 2 1 2 4 4 3 0 2 2 1 2 3 2 0 0 1 6 4 0 1 2 0 0 1 10 4 4 0 2 1 10 0"/>
<path d="M12 192l20 0 8-3 0-1 4-3 0-2 2-1 0-2 2-2 0-2 6-13 0-3 4-8 0-3 2-2 0-3 2-3 0-2 2-3 2-7 2-2 0-3 2-2 0-3 2-2 0-2 2-2 0-2 2-3 2-1 0-1 4 0 0 1 2 0 0 2 2 1 0 2 4 6 0 3 2 2 0 3 2 2 0 3 2 2 0 3 2 2 0 3 2 3 0 2 2 3 2 7 2 2 0 2 4 6 4 2 8 0 0 1 2 0 12 18 4 2 0 1 2 0 0 1 4 0 0 1 32 0"/>
<path d="M12 192l10 0 2-1 4 0 0-1 2 0 4-2 0-1 2 0 0-1 4-3 2-4 2-1 0-2 2-1 2-4 2-1 4-6 2 0 0-1 4-1 0-1 10-2 0-1 4-2 0-1 2 0 2-3 2 0 2-3 2 0 2-3 2 0 0-1 6-5 0-2 2-1 2-4 2-1 0-2 6-5 4 0 0 1 4 3 0 2 4 6 0 3 2 2 0 3 2 2 0 3 2 3 0 2 2 2 0 3 2 2 0 2 2 2 0 2 2 1 0 2 2 1 0 1 2 1 2 3 4 2 0 1 2 0 0 1 6 3 0 1 2 0 0 1 2 0 0 1 4 1 0 1 6 1 0 1 6 0 0 1 8 0"/>
<path d="M12 192l12-1 0-1 2 0 8-5 0-1 4-3 0-2 4-3 0-2 2-1 0-2 2-1 0-2 2-1 0-2 2-1 2-4 2-1 0-2 6-4 0-1 6-3 0-1 4-3 2-3 0-2 2-2 0-2 4-8 0-3 4-8 0-3 2-2 0-2 2-1 0-2 2-1 4 1 2 3 0 2 2 2 0 3 2 3 0 3 2 3 0 4 2 3 0 3 2 4 0 3 2 3 0 3 2 3 0 3 2 3 2 7 2 2 0 2 2 3 2 1 0 2 2 1 2 3 4 2 0 1 4 2 0 1 2 0 0 1 2 0 0 1 6 3 2 0 0 1 4 0 2 1 30 0"/>
<path d="M12 192l20 0 0-1 4 0 6-3 0-1 6-5 0-2 2-1 0-2 4-5 0-2 2-2 0-2 2-2 0-2 2-2 0-2 4-5 0-2 2-1 0-2 2-3 2-1 0-2 2-1 6-9 4-3 2-4 4-2 0-1 2 0 0-1 4 0 0 1 2 0 0 1 4 3 0 2 2 1 0 2 2 1 0 2 4 6 0 3 2 2 0 3 2 2 0 3 2 2 0 3 2 2 2 7 2 2 0 2 2 1 0 2 4 2 4 0 0-1 2 0 0-1 2 0 0-1 4-1 0-1 2 0 0 1 4 1 0 1 4 3 0 2 4 3 2 4 4 2 0 1 2 0 0 1 2 0 0 1 4 0 0 1 12 0"/>
<path d="M12 187l4-1 10 0 2 1 4 0 4-1 0-1 4-2 0-2 2-1 2-3 0-2 2-2 0-2 2-2 0-2 2-3 0-2 2-3 2-7 2-2 0-3 4-6 0-2 2-1 0-2 2-1 2-3 2 0 0-1 6 0 4 1 0 1 2 0 0 1 2 0 0 1 2 0 0 1 2 0 0 1 2 0 0 1 2 0 0 1 4 2 2 3 2 0 0 1 2 1 0 1 2 1 2 3 2 0 2 3 2 0 0 1 4 2 0 1 2 0 0 1 6 5 2 4 2 1 0 2 2 1 0 2 2 1 2 4 2 1 0 2 2 1 2 3 4 2 0 1 2 0 0 1 4 1 4 0 0 1 26 0"/>
<path d="M12 192l8 0 8-3 0-1 2-1 0-1 2-1 2-3 0-2 4-6 0-3 2-2 0-3 2-2 2-7 2-3 2-1 0-2 2 0 0-1 4 0 0 1 4 1 4 0 2-1 0-1 2-1 0-2 2-1 0-2 4-5 0-2 2-3 2-1 2-3 2 0 0-1 2 0 0 1 2 0 8 4 2 0 0 1 2 0 0 1 2 0 0 1 2 0 0 1 2 0 0 1 8 7 0 2 2 1 0 2 2 2 0 2 4 6 0 2 2 3 0 2 2 2 2 7 4 5 0 2 2 1 2 3 10 4 36 0"/>
<path d="M12 192l32 0 4-1 0-1 2 0 0-1 4-3 0-2 4-6 0-3 4-8 2-10 2-3 0-3 2-3 0-3 2-3 0-3 2-3 0-4 2-3 0-4 4-11 0-4 2-4 0-4 2-3 0-3 2-2 0-2 2-1 2 0 0 2 2 1 0 3 2 2 0 3 4 11 0 4 2 4 0 4 4 11 0 4 2 3 0 4 2 3 2 10 2 3 2 7 2 1 0 2 4 2 8-4 0-1 4 0 0 1 2 0 0 1 4 3 4 6 4 2 10 0 0 1 4 1 0 1 4 2 0 1 4 1 0 1 4 0 0 1 8 0"/>
<path d="M12 192l14 0 4-1 4-2 0-1 4-3 0-2 2-1 0-2 4-5 0-2 2-2 0-2 2-1 0-2 2-1 2-4 2 0 2-3 2 0 6-8 0-2 2-2 0-3 2-2 0-3 2-3 0-3 2-3 0-3 2-3 0-3 2-2 0-3 2-2 0-2 4-3 2 0 4 3 0 2 2 2 0 2 4 8 0 3 2 3 0 3 2 3 0 3 2 3 0 2 2 2 0 3 2 1 0 2 2 3 6 4 0 1 4 1 0 1 6 5 2 4 2 1 0 2 2 1 0 2 2 1 2 4 2 1 0 1 2 1 2 3 8 3 32 0"/>
<path d="M12 192l14-1 0-1 2 0 4-2 0-1 2 0 0-1 4-3 2-4 2-1 6-10 2-1 0-2 2-1 0-1 2-1 2-3 4-2 0-1 2 0 0-1 4-2 0-1 2 0 0-1 10-9 0-2 2-1 2-3 6-3 4 0 0 1 4 1 0 1 2 1 0 1 2 1 0 1 2 1 0 1 2 1 0 1 2 1 0 1 2 1 0 1 2 1 0 1 2 1 0 1 2 1 2 3 4 2 0 1 2 1 0 1 2 1 0 1 10 9 2 4 2 1 2 3 4 2 0 1 2 0 0 1 2 0 0 1 18 1 0 1 12 3"/>
<path d="M12 192l8-1 0-1 2 0 8-4 0-1 4-2 2-3 2 0 2-3 6-3 0-1 2 0 4-2 0-1 2 0 0-1 4-3 0-2 2-1 0-2 2-2 0-2 2-3 0-2 2-2 0-3 2-3 2-7 4-6 0-2 6-4 2 0 6 3 0 1 2 0 0 1 4 1 0 1 6 1 6 3 0 1 4 3 4 6 0 2 2 2 0 2 2 2 0 2 2 2 0 3 2 2 0 2 2 2 0 2 2 2 0 2 2 2 0 2 2 1 0 2 2 1 0 2 2 1 2 3 2 0 0 1 4 2 2 0 0 1 4 0 2 1 28 0"/>
<path d="M12 192l20 0 0-1 2 0 4-2 0-1 2-1 0-1 2-1 0-1 2-1 2-3 8-4 0-1 2-1 2-3 0-2 2-1 0-3 2-2 0-2 2-3 0-3 2-4 0-4 2-4 0-5 2-5 0-5 2-6 0-5 2-5 0-5 2-4 0-4 2-3 0-3 4-6 0-2 4-2 4 6 0 3 2 3 0 4 2 4 2 10 2 3 0 2 2 2 0 3 2 2 0 3 2 3 0 4 2 4 0 4 2 5 0 5 2 5 0 5 2 4 0 5 2 4 0 3 2 3 0 3 2 3 2 1 0 1 4 1 0 1 54 0"/>
<path d="M12 192l10-2 0-1 2 0 10-5 0-1 4-1 0-1 4-2 0-1 6-5 4-6 0-2 2-1 0-2 2-2 0-2 2-1 0-2 6-9 0-2 2-1 0-2 2-1 2-4 2-1 0-2 2-1 0-1 2-1 2-3 4-2 0-1 6 0 0 1 2 0 0 1 6 5 0 2 2 1 0 2 2 1 4 7 2 1 0 2 2 1 0 2 2 1 4 7 2 1 0 2 2 1 2 4 2 1 0 2 2 1 0 1 2 1 0 1 2 1 0 1 2 1 0 1 2 1 0 1 2 1 0 1 2 1 2 3 2 0 0 1 8 4 2 0 0 1 4 0 2 1 22 0"/>
<path d="M12 192l6 0 0-1 8-1 0-1 4-2 0-1 2 0 2-4 2-1 4-6 0-2 2-2 0-2 2-2 0-2 2-2 0-2 2-2 0-2 2-2 0-2 2-2 0-2 6-9 2-1 2-3 2 0 0-1 8 0 0 1 4 1 0 1 6 3 0 1 2 0 0 1 6 3 0 1 2 0 0 1 2 0 0 1 2 0 0 1 2 0 0 1 2 0 0 1 2 0 0 1 2 0 0 1 2 0 2 1 0 1 2 0 0 1 4 1 0 1 4 2 0 1 2 0 2 3 4 2 2 3 4 2 0 1 2 1 0 1 2 1 2 3 2 0 0 1 2 1 2 3 2 0 0 1 10 5 4 1 4 0 2 1 12 0"/>
<path d="M12 192l14 0 0-1 4 0 0-1 2 0 4-2 0-1 2 0 0-1 2-1 10-15 2-7 2-2 0-3 2-2 0-3 2-2 0-3 2-2 0-3 2-2 0-2 2-2 0-2 2-2 0-2 2-1 2-3 18 1 0 1 8 1 0 1 2 0 0 1 4 2 0 1 2 1 0 2 2 1 2 3 0 2 4 6 2 7 2 2 0 3 2 2 0 2 2 2 0 2 4 6 2 1 0 2 2 0 2 3 8 4 0 1 2 0 0 1 2 0 0 1 6 1 0 1 4 0 2 1 24 0"/>
<path d="M12 192l0-1 4 0 8-4 0-1 2 0 0-1 4-3 2-4 4-3 2-4 2-1 0-1 2-1 0-1 2-1 0-1 2-1 0-1 2-1 0-1 2-1 2-3 4-2 0-1 2-1 0-1 2-1 2-3 6-4 0-2 4-3 0-2 2-1 0-2 2-1 0-2 2-1 0-2 2-1 0-1 2-1 2-3 4 0 0 1 4 3 4 6 0 2 2 2 0 2 2 2 0 2 2 2 0 2 10 15 0 2 2 1 0 2 2 1 0 2 2 1 0 2 2 1 0 2 2 1 0 1 2 1 2 3 2 0 0 1 2 0 0 1 2 0 0 1 6 1 0 1 6 1 0 1 2 0 0 1 8 2 4 0 2 1 18 0"/>
<path d="M12 189l0-1 2 0 0-1 4-2 0-1 2 0 2-3 2 0 2-3 2 0 2-3 2 0 2-3 2 0 2-3 2 0 0-1 6-4 0-1 2-1 2-3 2 0 0-1 4-2 0-1 2 0 0-1 2 0 0-1 2 0 0-1 8-2 0-1 4-2 0-1 2 0 0-1 6-5 0-2 2-1 0-1 2-1 2-3 2 0 0-1 4-1 4 2 0 1 4 3 2 3 0 2 2 1 0 2 2 2 0 2 4 5 0 2 2 2 0 2 4 5 0 2 2 1 0 2 2 1 0 2 2 1 6 9 2 1 0 1 2 0 2 3 2 0 0 1 2 0 0 1 2 0 0 1 8 1 0 1 28 0"/>
<path d="M12 190l0-1 2 0 0-1 2 0 0-1 2 0 0-1 2 0 0-1 6-3 2 0 0-1 6-1 0-1 4 0 0-1 2 0 0-1 2 0 0-1 4-1 0-1 2-1 0-1 10-9 0-2 4-3 0-2 2-1 6-9 0-2 2-1 0-2 2-1 0-2 2-1 0-2 2-1 0-1 2-1 0-1 2-1 2-3 2 0 0-1 2 0 0-1 6 0 0 1 2 0 0 1 6 5 0 2 2 1 0 2 2 2 0 2 2 2 0 2 2 2 0 2 4 6 0 2 2 3 0 2 2 2 0 2 4 5 0 2 2 1 0 2 2 1 2 3 6 3 2 0 0 1 4 0 0 1 6 1 0 1 10 3 0 1 6 0 0 1 16 0"/>
<path d="M12 192l28 0 0-1 2 0 4-2 2-3 0-2 2-2 0-3 2-3 0-3 2-4 0-4 2-4 0-4 2-4 0-4 2-4 0-4 2-4 2-10 2-3 0-3 2-3 0-4 2-3 0-3 2-3 0-4 2-3 0-2 2-4 2-1 0-1 2 0 0 1 2 1 0 2 2 3 0 3 2 3 0 3 2 3 0 3 2 3 0 3 10 15 0 3 2 2 0 4 2 3 0 4 2 4 0 5 2 4 0 4 2 3 0 3 4 8 10 2 0 1 2 0 0 1 2 1 2 3 6 3 2 0 0 1 40 0"/>
<path d="M12 186l2 0 0-1 2 0 0-1 2 0 0-1 8-2 0-1 4 0 2-1 16 0 4-1 0-1 4-1 2-3 2 0 0-1 2-1 0-1 2-1 0-1 2-1 0-1 2-1 0-1 2-1 2-3 2 0 2-3 2 0 0-1 4-2 0-1 2 0 0-1 2 0 0-1 2 0 0-1 2 0 0-1 2 0 0-1 4-1 0-1 4-2 0-1 2 0 2-3 2 0 0-1 4-2 0-1 8-1 0 1 2 0 0 1 4 3 4 6 0 2 2 2 0 2 2 2 0 2 2 2 0 2 2 2 0 2 2 2 0 2 2 2 0 2 2 1 0 2 4 6 2 1 0 1 2 1 2 3 2 0 0 1 4 2 8 1 0 1 12 0"/>
<path d="M12 192l6 0 0-1 4 0 0-1 4-1 0-1 2-1 0-1 2-1 0-1 2-1 0-1 2-1 0-1 2-1 2-3 2 0 0-1 10-4 0-1 4-3 0-2 2-1 0-2 4-6 2-7 2-2 0-3 2-2 2-7 2-2 0-2 2-2 0-2 2-2 0-2 2-3 2-1 0-2 2 0 0-1 2-1 4 0 0 1 2 0 0 1 4 3 2 4 2 1 0 2 2 1 0 2 2 2 0 2 2 2 0 2 2 2 0 2 4 8 0 3 2 3 0 3 2 2 0 3 2 3 0 3 2 2 0 3 2 2 0 2 2 3 2 1 0 2 2 0 0 1 2 1 4 0 4-1 0-1 10 0 0 1 2 0 0 1 2 0 0 1 2 0 0 1 2 0 4 2 4 0 0 1 18 0"/>
<path d="M12 192l6 0 0-1 2 0 2-1 0-1 2 0 2-4 2-1 0-2 2-2 0-2 2-2 0-2 2-2 0-2 2-3 2-1 0-1 2 0 4 2 4 6 4 0 0-1 2-1 2-3 0-3 2-3 0-3 2-4 0-4 2-4 0-5 2-5 0-5 2-5 0-5 2-4 0-4 2-3 0-3 2-2 0-2 2-1 2 0 0 1 2 1 0 2 2 1 0 3 2 2 0 2 2 3 0 2 2 3 2 7 2 2 0 2 2 2 0 2 2 2 0 2 2 1 0 2 2 1 0 2 2 1 2 4 2 1 0 1 10 9 0 2 4 5 0 2 2 2 0 2 2 2 0 2 2 2 0 2 2 1 2 3 4 2 2 0 0 1 44 0"/>
<path d="M12 192l14-1 0-1 2 0 0-1 2 0 0-1 4-2 8-12 0-2 2-2 0-2 2-2 0-2 2-2 0-2 4-5 0-2 2-3 2-1 0-2 2-1 2-4 2-1 2-3 4-2 0-1 4-1 0-1 6 0 0-1 8 0 2-1 6 0 0 1 2 0 0 1 2 0 0 1 2 1 0 2 2 1 0 2 2 1 0 2 2 1 0 2 2 2 0 2 2 1 0 2 4 6 2 1 0 2 2 1 0 2 2 1 0 2 2 1 8 13 2 1 0 1 2 1 2 3 4 2 2 0 0 1 4 0 0 1 32 0"/>
<path d="M12 191l2 0 12-6 2 0 0-1 10-1 6-3 2-4 2-1 0-2 4-5 0-2 6-9 2-1 0-1 2-1 2-3 2 0 0-1 6-5 0-2 4-6 0-3 2-3 0-3 2-3 0-3 2-4 0-3 2-3 0-3 2-2 0-2 2-2 0-2 4-1 0 1 2 1 2 3 0 2 2 3 0 3 2 3 2 10 2 3 0 4 2 3 0 4 2 3 0 3 2 4 0 3 2 3 2 10 2 2 0 3 2 3 2 7 2 1 0 2 2 1 0 2 2 1 0 1 2 0 0 1 2 0 0 1 4 1 44 0"/>
<path d="M12 192l20 0 0-1 4 0 0-1 4-2 4-6 0-2 2-3 0-3 2-3 0-3 2-4 0-4 4-14 0-5 2-4 0-5 2-4 0-4 2-4 0-3 2-3 0-2 4-3 4 3 2 4 2 1 2 3 2 1 8 0 0 1 2 0 4 6 0 2 2 2 0 2 2 2 0 2 2 2 0 2 2 1 0 2 2 1 2 4 2 1 0 2 2 2 0 2 4 6 0 3 2 3 2 7 2 2 0 3 2 1 0 2 2 3 2 1 0 1 4 2 2 0 0 1 48 0"/>
<path d="M12 191l2 0 0-1 2 0 2-1 0-1 2 0 0-1 4-2 0-1 2 0 0-1 14 0 4-1 0-1 2 0 0-1 6-4 0-2 2-1 0-2 2-2 0-2 4-8 0-4 2-3 0-3 2-4 0-4 2-3 0-4 2-3 0-3 2-3 0-3 2-3 0-2 2-3 2-1 0-1 4 0 0 1 4 2 0 1 6 5 0 2 2 1 2 3 0 2 2 1 0 2 4 5 0 2 2 1 0 2 2 1 0 2 2 1 0 2 4 5 0 2 2 2 0 2 2 2 0 2 6 9 2 1 2 4 2 1 0 1 2 1 0 1 2 1 0 1 2 1 2 3 4 2 0 1 2 0 0 1 4 0 0 1 34 0"/>
<path d="M12 187l0-1 8 0 0-1 4 0 0-1 2 0 0-1 2 0 0-1 4-1 0-1 2-1 2-3 2 0 0-1 2-1 2-4 6-5 0-2 2-1 0-1 2-1 0-1 2-1 0-1 2-1 2-3 4-2 0-1 2 0 0-1 4-1 20 0 0-1 4 0 6-2 10 0 6 3 0 1 4 3 0 2 2 1 6 9 0 2 2 1 0 2 2 1 0 2 2 1 0 2 2 1 0 2 2 1 0 1 2 1 0 1 4 3 0 1 4 2 0 1 6 1 0 1 6 0 0 1 20 0"/>
<path d="M12 192l12 0 0-1 4 0 0-1 4-1 0-1 6-5 0-2 2-1 0-2 4-5 0-2 4-6 2-1 2-3 4-1 0-1 6 0 0-1 2 0 2-1 0-1 2 0 0-1 2-1 0-2 2-1 0-2 2-1 0-2 2-2 0-2 2-3 0-2 2-2 0-3 2-2 0-2 2-2 0-2 4-6 2 0 0-1 2 0 0-1 2 0 0 1 4 1 0 1 6 5 0 2 2 1 0 2 4 6 0 2 6 13 0 3 2 3 0 3 2 3 0 2 2 3 0 3 2 2 2 7 2 1 0 2 2 1 0 2 2 1 2 3 2 0 0 1 2 0 0 1 4 0 0 1 36 0"/>
<path d="M12 190l0-1 4 0 0-1 8-2 4 0 0-1 16-1 0-1 2 0 6-3 0-1 2 0 0-1 4-3 0-2 2-1 0-2 2-1 0-2 2-1 0-2 2-2 0-2 4-5 0-2 4-6 2-1 0-1 2-1 2-3 2 0 0-1 18 0 0-1 10 0 6 3 0 1 4 3 2 4 2 1 0 2 2 1 2 4 2 1 0 2 4 3 0 2 2 1 0 1 2 1 0 1 2 1 0 1 2 1 0 1 2 1 2 3 2 0 0 1 6 4 0 1 10 5 2 0 0 1 10 1 0 1 2 0"/>
<path d="M12 192l14-1 0-1 6-1 0-1 2 0 0-1 8-2 0-1 2 0 0-1 2 0 6-3 0-1 6-5 0-2 2-1 0-2 2-2 0-2 2-1 0-2 2-2 0-2 2-2 0-2 2-2 0-2 2-2 0-2 2-1 0-2 2-1 0-2 2-1 0-2 2-1 0-1 2-1 0-1 2-1 2-3 2 0 0-1 4-1 4 0 0 1 2 0 10 5 0 1 4 1 0 1 6 5 4 6 0 2 2 1 0 2 2 2 0 2 2 2 0 2 2 2 2 7 4 5 0 2 4 6 2 1 0 1 2 1 2 3 4 2 2 0 0 1 4 0 2 1 20 0"/>
<path d="M12 192l12-1 0-1 2 0 6-3 0-1 2 0 2-3 2 0 0-1 6-5 2-4 2-1 0-2 2-1 0-2 2-1 0-2 2-1 0-2 2-1 0-2 6-5 0-2 2-1 0-1 2-1 0-2 2-1 0-2 4-6 0-3 2-2 0-3 2-3 0-3 2-2 0-3 2-2 0-2 2-1 0-2 2-1 4 0 0 1 2 1 0 2 2 1 0 2 2 2 0 2 4 5 0 2 2 2 0 2 4 6 0 2 2 3 0 2 2 3 0 2 2 3 0 2 2 3 0 2 2 3 2 7 4 6 2 1 2 3 20 10 2 0 0 1 4 0 2 1 26 0"/>
<path d="M12 191l6-1 0-1 2 0 0-1 2 0 0-1 4-2 0-1 8-7 2-4 2-1 0-1 2-1 2-3 6-3 2 0 0-1 10 0 6-3 8-11 0-2 2-2 0-2 2-2 0-2 2-1 0-2 4-6 6-4 6 0 2 1 0 1 2 0 4 6 2 1 0 2 6 9 0 3 4 6 0 2 2 3 0 2 2 2 0 2 4 5 0 2 2 1 4 6 4 2 0 1 2 0 0 1 8 4 2 0 0 1 6 1 0 1 6 0 0 1 20 0"/>
<path d="M12 192l18 0 0-1 4 0 0-1 4-1 0-1 6-5 0-2 2-1 0-2 2-2 0-2 4-6 2-7 2-2 0-3 2-2 0-2 2-3 2-7 2-2 0-2 2-2 0-2 2-2 0-2 2-1 0-2 2-1 2-3 2 0 0-1 2 0 0-1 8 0 4 2 0 1 4 3 4 6 0 2 2 2 0 2 4 5 0 2 2 1 0 2 2 1 0 1 2 1 0 1 2 1 2 3 2 0 0 1 4 3 6 9 0 2 2 1 0 2 2 2 0 2 2 1 0 2 2 1 0 2 6 4 0 1 2 0 0 1 4 0 0 1 32 0"/>
<path d="M12 189l0-1 2 0 0-1 2 0 0-1 4-2 2-3 2 0 0-1 2-1 2-3 4-2 0-1 24-11 0-1 4-2 2-3 2 0 2-3 4-2 2-3 2 0 0-1 2-1 0-1 2-1 2-3 4-2 0-1 2-1 2-3 2 0 0-1 2 0 0-1 4 0 0 1 2 0 0 1 4 3 4 6 0 2 4 5 0 2 2 2 0 2 2 2 0 2 2 1 0 2 2 1 0 2 2 1 0 1 2 1 0 1 2 1 2 3 2 0 0 1 4 2 0 1 2 0 0 1 4 1 0 1 4 2 0 1 2 0 0 1 10 5 10 2 14 0"/>
<path d="M12 192l8-1 0-1 2 0 4-2 0-1 8-7 0-2 2-1 0-2 2-1 0-2 2-1 2-4 2-1 0-1 2-1 2-3 4-2 0-1 6-4 6-9 0-2 2-2 0-2 2-2 0-2 2-2 2-7 6-9 0-2 6-4 4 2 2 3 0 2 4 6 0 3 2 3 0 3 2 2 2 10 2 3 0 3 2 2 0 3 2 3 0 2 2 2 0 3 4 5 0 2 2 1 0 1 2 1 2 3 2 0 0 1 2 0 0 1 2 0 0 1 2 0 16 8 2 0 0 1 4 0 2 1 28 0"/>
<path d="M12 192l14 0 0-1 4 0 0-1 2 0 2-1 0-1 2 0 0-1 4-3 0-2 2-1 0-2 2-1 0-2 2-2 0-2 2-2 0-2 2-2 0-2 2-2 0-2 2-2 0-2 2-2 0-2 2-1 0-2 2-3 2-1 0-2 2-1 0-1 2-1 0-1 2-1 0-1 2-1 0-1 2-1 0-1 2-1 2-3 2 0 0-1 4-2 0-1 4-1 4 0 0 1 2 0 0 1 2 0 0 1 2 1 6 9 0 2 2 2 0 3 4 6 0 3 2 2 0 2 2 2 0 2 2 2 0 2 2 1 0 2 2 1 0 1 2 1 2 3 8 2 0 1 2 0 6 3 0 1 4 2 0 1 4 2 0 1 6 3 2 0 0 1 4 0 2 1 18 0"/>
<path d="M12 192l22 0 4-1 0-1 2 0 0-1 4-3 2-3 0-2 2-2 0-2 2-2 0-3 2-2 0-3 2-3 0-3 2-3 0-3 2-2 0-3 2-3 0-3 2-2 0-3 2-3 0-2 2-2 0-2 2-2 0-2 6-8 4-2 0-1 4-2 2-3 2 0 0-1 2-1 4 0 4 6 0 2 2 3 0 3 2 3 0 3 2 3 0 3 2 3 0 3 2 3 0 3 2 3 0 3 2 2 0 3 2 2 0 3 2 2 0 3 2 2 0 2 2 3 0 2 2 2 0 2 4 6 2 1 2 3 2 0 0 1 4 0 0 1 44 0"/>
<path d="M12 192l10 0 0-1 4 0 0-1 4-1 0-1 4-3 0-2 2-1 4-6 0-2 6-9 2-1 0-1 8-4 2 0 0-1 4-3 4-6 0-2 4-5 0-2 2-1 0-2 2-1 0-1 4-1 0-1 2 0 0 1 6 0 0 1 2-1 4 0 0-1 8 0 10 6 0 2 2 1 0 1 2 1 0 2 2 1 0 2 4 6 0 3 2 2 0 2 2 3 2 7 2 2 0 2 2 2 0 2 6 8 10 4 32 0"/>
<path d="M12 192l8 0 4-1 0-1 4-1 0-1 8-5 6 0 0 1 2 0 0 1 4 0 2-1 2-3 0-2 2-2 0-3 2-3 0-4 2-3 0-4 2-4 0-4 2-4 0-4 2-4 0-3 2-3 2-7 2-2 0-2 4-6 0-3 2-2 0-3 2-2 0-3 2-3 2-7 2-1 0-1 2 0 4 6 0 3 2 3 0 4 2 4 2 10 2 3 0 3 2 2 2 7 2 2 0 2 4 8 0 4 2 3 0 4 2 3 0 4 2 3 0 3 2 4 0 2 4 8 2 1 2 3 4 1 50 0"/>
<path d="M12 192l4 0 0-1 8-1 0-1 2 0 4-2 0-1 2 0 0-1 2 0 0-1 2 0 0-1 2 0 0-1 4-1 0-1 8-7 0-2 2-1 4-7 2-1 0-1 2-1 2-3 4-2 0-1 6-4 2-4 2-1 0-2 2-1 0-2 2-1 0-2 2-2 0-2 2-1 0-2 2-2 0-2 2-2 0-2 2-1 0-2 2-1 0-2 6-4 4 2 2 3 0 2 2 2 0 2 2 3 0 3 2 3 0 3 2 3 2 10 2 3 0 4 2 3 0 3 2 2 0 3 2 2 0 2 2 2 0 2 4 6 2 1 0 1 2 1 2 3 4 2 0 1 2 0 0 1 4 1 4 0 0 1 30 0"/>
<path d="M12 191l6-1 0-1 2 0 0-1 2 0 0-1 4-1 2-3 2 0 2-3 4-2 0-1 8-7 0-2 2-1 0-2 2-1 0-2 2-2 0-2 2-2 0-2 2-2 0-2 2-1 0-2 2-2 0-2 2-1 0-1 2-1 2-3 6 0 4 1 0 1 8 0 0-1 2 0 0-1 4-2 0-1 2 0 0-1 2 0 0-1 4 0 6 4 0 2 6 9 0 3 4 6 0 3 2 2 0 2 2 2 0 2 6 9 2 1 2 3 2 0 0 1 14 7 2 0 0 1 6 1 0 1 6 0 2 1 20 0"/>
<path d="M12 188l0-1 2 0 0-1 2 0 0-1 2 0 0-1 2 0 4-2 4 0 2-1 10 1 0-1 2 0 4-2 8-12 0-2 2-3 0-2 4-8 0-3 2-2 0-3 2-2 0-3 2-2 0-2 2-1 0-2 2-1 0-1 4-1 6 3 2 3 2 0 0 1 2 0 0 1 8 0 0-1 6 0 0 1 2 0 0 1 6 5 0 2 4 5 0 2 2 2 0 2 2 1 0 2 2 2 0 2 6 9 2 1 0 2 4 3 2 4 2 0 0 1 6 4 0 1 2 0 0 1 2 0 0 1 10 2 24 0"/>
<path d="M12 192l22 0 2-1 4 0 0-1 4-1 0-1 6-5 4-6 0-2 2-2 0-2 2-2 0-2 2-3 0-2 6-13 0-3 2-2 0-3 2-2 0-3 2-2 0-2 2-2 0-2 2-3 4-3 0-1 4 0 0 1 2 0 0 1 4 2 0 1 12 8 8 12 2 1 0 2 2 1 2 3 4 2 0 1 4 1 0 1 6 5 0 2 2 1 0 2 4 5 0 2 6 9 2 1 2 3 10 4 22 0"/>
<path d="M12 192l10 0 2-1 4 0 0-1 2 0 4-2 0-1 2 0 0-1 8-7 0-2 4-3 2-4 4-3 0-2 4-3 0-2 2-1 2-4 2-1 0-2 4-3 2-4 4-2 0-1 2 0 0-1 4-1 0-1 6-1 0-1 2 0 0-1 2 0 0-1 2 0 0-1 4-1 4 0 4 2 0 1 6 5 0 2 2 1 0 2 4 5 0 2 2 1 0 2 6 9 0 2 2 1 0 2 4 3 0 2 4 2 0 1 8 2 8 0 4 1 0 1 2 0 0 1 6 3 0 1 2 0 0 1 4 1 0 1 10 2"/>
<path d="M12 187l0-1 2 0 0-1 2 0 0-1 8-1 0-1 6 0 0-1 2 0 6-3 0-1 2 0 2-3 4-2 4-6 4-3 0-2 2-1 0-2 4-5 0-2 2-2 0-2 2-3 2-7 2-2 0-3 2-2 0-2 6-8 4 0 4 2 0 1 6 5 6 9 0 2 4 6 2 7 2 2 0 2 2 2 0 2 2 2 0 2 2 1 0 1 2 1 2 3 16 8 0 1 4 2 0 1 4 2 0 1 4 2 0 1 4 1 0 1 8 2 24 0"/>
<path d="M12 192l16-3 0-1 2 0 8-4 2 0 0-1 2 0 0-1 6-3 0-1 8-7 0-2 2-1 0-2 4-5 0-2 4-6 0-3 2-2 0-2 2-2 0-2 2-2 0-2 4-6 2-1 2-3 6 0 4 2 0 1 2 0 2 3 4 2 0 1 4 2 0 1 2 0 2 3 4 2 0 2 4 3 8 12 0 2 2 1 0 2 2 1 0 2 2 1 0 1 2 1 0 2 6 4 0 1 2 0 0 1 4 1 0 1 8 2 14 0 0 1 6 0 0 1 8 2"/>
<path d="M12 191l8-2 0-1 4-2 0-1 2 0 0-1 6-5 18-27 2-1 0-2 2-1 2-3 6-3 2 0 0-1 12 0 6-2 4 0 0-1 4 0 0 1 2 0 6 4 2 4 2 1 0 2 2 1 0 2 2 1 0 2 10 15 2 1 2 3 2 0 0 1 6 3 10 1 0 1 4 0 0 1 6 1 0 1 2 0 0 1 2 0 0 1 2 0 0 1 2 0 0 1 6 1 0 1 10 1 0 1 6 0"/>
<path d="M12 192l16 0 4-1 6-4 4-6 0-2 4-8 0-3 2-2 0-3 2-3 0-2 2-3 2-7 6-9 0-2 4-5 0-2 2-1 0-2 2-1 2-3 4 0 2 1 4 0 2-1 8-12 4 1 2 3 0 3 2 2 0 3 2 3 0 4 2 3 0 4 2 3 0 4 2 3 0 3 2 4 0 3 2 3 0 3 2 3 0 3 2 3 2 7 2 2 0 2 2 1 0 2 2 1 2 3 2 0 0 1 4 0 0 1 48 0"/>
<path d="M12 191l2 0 0-1 2 0 0-1 4-2 4-6 2-1 2-4 6-4 10 0 0 1 6 1 0 1 6 0 0-1 2 0 6-8 0-3 2-2 0-2 4-8 0-3 2-2 0-2 2-3 0-2 2-2 0-2 2-1 0-2 4-3 0-2 2-1 2-3 4-2 0-1 4-1 0 1 2 0 0 2 2 1 0 2 2 2 0 2 2 3 0 3 2 3 0 3 2 3 0 3 2 3 0 3 2 2 0 3 2 2 0 2 4 6 2 0 0 1 10-1 0 1 4 1 6 9 2 1 0 2 2 1 2 4 4 2 0 1 2 0 0 1 4 0 0 1 24 0"/>
<path d="M12 191l8-2 0-1 2 0 0-1 4-1 0-1 4-2 2-3 2 0 0-1 4-3 0-2 4-3 4-7 2-1 0-2 2-1 0-2 2-1 0-2 2-1 0-2 2-1 0-2 2-1 0-2 2-1 0-2 2-1 0-2 2-1 0-1 2-1 0-1 2-1 2-3 6-1 0 1 2 0 4 2 0 1 4 2 0 1 2 0 0 1 6 3 2 0 0 1 2 0 0 1 2 0 0 1 2 0 0 1 6 5 0 2 2 1 0 2 2 1 0 2 2 1 0 2 8 12 2 1 2 3 4 2 0 1 2 0 0 1 2 0 0 1 6 1 0 1 2 0 0 1 12 3 0 1 4 0 0 1 20 1"/>
<path d="M12 192l0-1 10-1 0-1 2 0 0-1 2 0 0-1 2 0 4-2 0-1 2 0 0-1 2 0 0-1 2 0 0-1 2 0 0-1 4-1 0-1 4-2 0-1 4-3 0-2 2-1 0-2 2-1 0-2 2-2 0-2 4-6 0-3 4-6 0-2 2-3 0-2 2-2 0-2 2-1 0-2 2-1 0-2 2-1 2-3 2 0 0-1 4 0 6 3 0 1 2 1 0 1 2 1 0 1 2 1 0 1 10 9 10 15 0 2 2 2 0 2 2 2 0 2 2 2 0 2 2 2 0 2 4 6 2 1 2 3 2 0 0 1 20 0 0 1 10 2 0 1 14 2"/>
<path d="M12 192l26 0 0-1 4 0 0-1 4-1 0-1 6-5 0-2 2-1 0-2 4-5 0-2 4-6 0-3 2-2 0-2 2-3 2-7 2-2 0-3 2-2 0-2 2-3 0-2 2-2 0-2 2-1 0-2 4-6 2-1 0-1 2-1 2-3 2 0 0-1 4 0 0 1 2 0 0 1 2 1 4 6 0 2 2 2 0 2 2 2 0 2 2 2 0 3 2 2 0 2 2 2 0 2 4 6 0 2 4 6 2 1 0 1 10 9 2 4 2 1 2 4 2 1 4 6 2 0 0 1 10 4 22 0"/>
<path d="M12 188l6-1 0-1 6-1 0-1 2 0 0-1 4-1 0-1 8-7 4-6 0-2 2-1 0-2 2-1 0-2 4-6 2-1 0-2 2-1 2-3 2 0 0-1 4-2 0-1 2 0 0-1 2 0 0-1 2 0 0-1 2 0 0-1 8-4 6 0 4 2 0 1 10 9 4 6 2 0 0 1 2 1 2 3 2 0 2 3 2 0 0 1 2 1 2 3 4 2 0 1 2 1 0 1 2 1 0 1 2 1 0 1 2 1 0 1 2 1 2 3 4 2 0 1 4 2 0 1 2 0 0 1 2 0 0 1 2 0 0 1 10 1 0 1 20 0"/>
<path d="M12 192l10 0 0-1 4 0 0-1 2 0 0-1 4-1 0-1 4-3 0-2 2-1 4-6 0-2 2-1 0-2 2-1 0-2 2-1 0-2 2-1 0-2 2-1 0-1 2-1 0-1 10-9 2-4 2-1 0-2 2-1 0-2 6-9 6-4 8 1 0 1 2 0 0 1 2 0 0 1 4 1 0 1 6 5 0 2 2 1 0 2 4 5 0 3 2 2 0 2 2 2 0 2 2 2 0 2 2 2 0 2 2 2 0 2 2 1 0 2 2 1 0 2 2 1 0 2 2 1 0 1 2 1 0 1 2 1 0 1 2 1 2 3 2 0 0 1 2 0 0 1 8 1 0 1 30 0"/>
<path d="M12 192l18 0 0-1 2 0 6-4 4-6 0-2 2-2 2-7 2-2 0-2 4-7 2-1 0-1 6-3 0-1 2-1 2-3 0-3 2-3 0-4 2-4 0-4 2-4 0-5 2-4 0-5 2-3 0-4 2-3 0-2 2-3 2-1 4 3 0 2 4 8 0 3 2 4 0 3 4 11 0 4 2 3 0 4 2 3 0 3 2 3 0 3 2 3 0 2 2 2 0 2 2 1 0 2 2 1 0 1 2 1 0 1 2 1 0 1 2 1 0 1 2 1 2 3 6 3 2 0 0 1 2 0 4 2 0 1 2 0 0 1 4 2 0 1 4 1 4 0 0-1 2 0 0-1 2 0 0-1 8-4 2 0 6 3 0 1 2 0 0 1 10 4"/>
<path d="M12 192l20 0 0-1 4 0 0-1 6-4 0-2 2-1 0-2 2-1 0-2 2-1 0-2 2-1 0-2 2-1 0-1 6-5 2-4 2-1 0-2 4-6 0-3 2-2 0-3 2-3 0-3 2-4 0-3 2-4 0-4 2-3 0-4 2-4 0-3 2-3 0-3 2-3 0-2 2-3 2 0 0-1 2 1 0 1 2 1 2 3 0 2 2 2 0 2 2 3 2 7 2 2 0 3 2 2 0 2 4 8 0 3 2 3 0 4 2 3 0 4 2 4 0 4 2 4 0 4 2 4 0 3 2 3 0 3 4 8 2 1 2 3 4 1 48 0"/>
<path d="M12 192l10-1 0-1 6-1 0-1 2 0 0-1 2 0 0-1 16-3 0-1 2 0 0-1 4-3 4-6 0-2 2-2 0-2 4-8 0-3 2-3 0-3 2-3 0-3 2-3 0-3 4-8 0-3 2-2 0-3 2-2 0-2 2-1 0-2 4-2 2 0 4 3 0 2 2 1 0 2 2 1 0 2 6 9 2 1 0 2 2 1 0 1 4 3 0 2 2 1 0 2 4 5 2 7 2 2 0 3 2 2 0 3 2 2 0 3 2 2 0 2 2 2 0 2 2 1 0 2 2 1 0 1 4 3 0 1 4 1 0 1 4 0 0 1 18 0 0-1 8-1 0-1 10-3"/>
<path d="M12 186l0-1 4 0 0 1 4 0 0 1 8 2 4 0 4-1 0-1 2 0 0-1 4-2 0-1 6-5 0-2 2-1 0-2 2-1 0-2 2-2 0-2 4-6 0-2 2-3 0-2 2-3 0-2 6-13 0-3 2-2 0-2 2-2 0-2 2-3 2-1 0-1 4-1 2 1 0 1 2 1 0 2 2 1 0 2 2 2 0 3 2 2 0 3 2 2 0 3 2 2 0 3 2 2 2 7 4 6 2 1 2 3 4 1 0-1 4 0 4-1 0-1 4 0 0 1 4 1 0 1 2 1 0 1 2 1 0 1 2 1 0 1 2 1 0 1 2 1 0 1 2 1 2 3 2 0 0 1 4 1 0 1 4 0 0 1 6 1 0 1 10 3 0 1 12 2"/>
<path d="M12 192l18 0 0-1 4 0 6-3 0-1 2 0 0-1 4-3 0-2 2-1 2-3 0-2 2-1 0-2 2-2 0-2 2-2 0-2 2-2 0-2 2-2 0-2 2-2 0-2 2-2 0-2 2-2 0-2 2-3 2-1 0-2 4-2 4 0 4 2 0 1 4 2 0 1 2 0 0 1 6 0 0-1 2 0 0-1 6-5 0-2 2-1 0-1 2 0 0-1 2-1 4 0 0 1 2 1 0 1 2 1 2 3 0 2 4 6 0 3 2 2 0 3 2 2 0 3 2 2 2 7 2 2 0 2 2 2 0 2 2 2 0 2 2 1 0 2 2 1 0 1 2 1 2 3 4 2 2 0 0 1 4 0 2 1 22 0"/>
<path d="M12 192l4-1 4-2 0-1 2 0 0-1 2-1 0-1 2-1 0-1 2-1 0-1 2-1 2-3 4-1 4 1 0 1 2 0 0 1 4 2 8 0 0-1 4 0 0-1 8 0 0-1 4 0 2-1 0-1 2 0 0-2 2-1 2-3 0-3 2-2 0-3 2-3 0-3 2-3 0-4 4-11 0-4 2-3 0-4 2-3 0-2 2-2 0-2 2-1 4 1 0 2 2 1 0 2 2 2 0 2 2 2 0 2 2 2 0 2 4 5 0 2 2 1 0 2 2 2 0 2 2 1 0 2 2 2 0 2 2 1 0 2 2 1 0 1 2 1 4 0 2-1 0-1 2 0 0-1 4 0 2 1 4 6 0 2 2 2 2 7 6 8 2 0 0 1 4 0 0-1 4-1 6 0 6 3 0 1 2 0"/>
<path d="M12 192l18 0 4-1 0-1 4-2 0-2 2-1 0-2 2-2 0-2 2-2 0-2 2-2 0-2 2-2 0-2 2-1 2-3 4-1 0-1 2-1 2-3 0-3 2-3 0-4 2-4 0-6 2-5 0-6 2-6 0-5 2-6 0-5 2-4 0-3 2-2 0-2 4 1 2 3 0 2 2 2 0 3 2 2 0 2 2 2 0 2 2 2 0 2 4 6 0 3 2 2 0 3 2 2 0 3 2 3 0 3 2 3 0 3 2 3 0 3 2 3 2 7 6 9 4 2 2 0 0 1 4 2 0 1 2 1 0 1 2 1 0 1 2 1 0 1 2 1 0 1 2 1 2 3 2 0 0 1 4 0 0 1 38 0"/>
<path d="M12 189l4-1 0-1 6-1 0-1 10 0 4-1 4-2 0-1 2 0 0-1 4-3 0-2 4-3 0-2 2-1 2-4 2-1 0-1 2-1 0-1 2-1 0-1 2-1 0-1 10-9 2-4 2-1 0-2 6-9 2-1 0-2 2-1 2-3 4-2 4 0 4 2 0 1 4 3 0 2 2 1 0 2 2 2 0 2 4 6 0 3 2 2 0 3 2 2 0 3 2 2 0 3 2 2 0 3 2 2 0 2 2 2 0 2 2 1 0 2 2 1 2 3 8 3 6 0 8 2 0 1 2 0 0 1 8 2 4 0 0 1 12 0"/>
<path d="M12 189l0-1 6-3 0-1 4-2 0-1 4-2 0-1 2 0 0-1 2 0 0-1 2 0 0-1 2 0 8-4 0-1 2 0 0-1 8-7 0-2 6-5 2-4 8-7 0-2 6-5 0-2 2-1 0-1 2-1 2-3 2 0 0-1 6 0 0 1 4 3 0 2 2 1 0 2 2 2 2 7 2 2 0 3 2 2 0 2 2 3 0 2 2 2 0 2 2 2 0 2 4 6 2 1 2 3 2 0 0 1 6 0 8-4 2 0 0-1 6 0 0 1 4 1 0 1 2 1 0 1 2 1 2 3 2 0 2 3 4 2 0 1 2 0 0 1 8 1 0 1 10 0"/>
<path d="M12 192l2 0 0-1 4 0 0-1 2 0 4-2 0-1 2 0 0-1 4-2 0-1 4-1 0-1 4-2 0-1 4-3 4-6 0-2 4-5 0-2 2-1 2-4 2-1 0-1 2 0 2-3 2 0 0-1 6-5 0-2 2-1 0-2 4-8 0-3 2-3 0-3 2-3 2-7 2-2 0-2 2-1 2 0 4 6 0 3 2 3 0 3 2 3 0 3 2 2 0 3 2 2 0 3 4 5 0 2 2 1 0 2 2 1 0 2 2 1 0 2 2 2 0 2 2 2 0 2 2 2 0 2 2 2 0 2 6 9 2 1 0 2 2 1 2 3 2 0 2 3 2 0 0 1 2 0 0 1 4 0 2 1 36 0"/>
<path d="M12 192l2 0 0-1 4 0 6-3 0-1 2 0 0-1 2-1 0-1 2-1 0-1 2-1 2-3 4-2 0-1 2 0 0-1 2 0 0-1 2 0 0-1 4-1 0-1 2-1 0-1 2-1 2-3 0-2 2-2 0-2 2-2 0-2 2-2 0-2 2-2 0-2 6-9 8-5 0-1 4-3 2-4 2-1 2-4 2 0 0-1 4 1 4 5 0 2 2 2 0 2 2 3 0 3 2 3 0 3 2 2 0 3 2 3 0 3 2 2 0 3 2 2 0 2 2 2 0 2 2 2 0 2 2 1 0 2 2 1 2 4 2 1 2 3 2 0 2 3 8 4 8 0 4-2 2 0 0-1 10-1 0 1 6 1 0 1 2 0 0 1 2 0 0 1 8 1"/>
</g>
<path d="M11.5 193.0L12.4 193.0 13.5 193.0 14.8 193.0 16.3 192.9 17.9 192.9 19.7 192.9 21.5 192.9 23.4 192.9 25.3 192.9 27.1 192.8 29.0 192.8 30.7 192.8 32.4 192.8 33.9 192.8 35.3 192.7 36.5 192.7 37.5 192.7 40.3 193.0 40.6 192.5 41.9 191.3 43.5 189.7 45.1 187.6 46.7 184.9 48.2 181.3 49.8 176.8 51.3 172.3 52.7 168.2 54.3 163.6 55.8 159.5 57.3 156.1 59.0 153.7 60.8 152.0 62.6 150.8 64.5 150.5 66.5 150.6 68.6 149.3 70.2 146.6 72.0 142.9 73.7 138.7 75.5 134.9 77.0 132.1 78.6 129.5 80.1 126.8 81.6 124.1 83.0 121.3 85.1 116.0 87.0 110.6 88.5 106.5 89.7 104.1 90.6 103.8 91.7 103.4 93.0 105.0 94.4 110.3 96.1 118.2 97.5 124.7 99.0 132.1 100.6 139.5 102.2 147.2 103.7 154.8 105.2 160.7 107.1 164.4 109.0 166.0 110.5 167.0 112.1 167.8 114.2 169.7 115.5 171.5 117.1 173.8 118.8 176.4 120.4 178.9 122.0 181.1 123.3 182.6 125.2 183.5 126.6 183.1 128.0 182.5 130.1 181.9 132.4 181.9 133.9 182.8 135.5 184.1 137.3 185.6 139.0 187.0 140.7 188.3 142.3 189.6 144.1 190.8 146.1 191.7 147.3 192.1 148.6 192.3 149.8 192.5 151.2 192.6 152.8 192.7 154.6 192.7 156.7 192.8 157.9 192.8 159.4 192.9 160.9 192.9 162.6 192.9 164.4 192.9 166.2 193.0 168.0 193.0 169.7 193.0 171.5 193.0 173.1 193.0 174.6 193.0 175.9 193.0 177.0 193.0 177.9 193.0" fill="none" stroke="#011f4b" stroke-width="2.5" stroke-linejoin="round" shape-rendering="crispEdges"/>
<path d="M11.5 33V193.5H177.9" fill="none" stroke="#000" stroke-width="1.1"/>
<path d="M21.5 194v3M72.5 194v3M123.5 194v3M174.5 194v3" stroke="#333" stroke-width="1"/>
<text transform="translate(21.3 211) scale(0.84 1)" class="tk">20</text>
<text transform="translate(72 211) scale(0.84 1)" class="tk">40</text>
<text transform="translate(122.9 211) scale(0.84 1)" class="tk">60</text>
<text transform="translate(173.6 211) scale(0.84 1)" class="tk">80</text>
<text x="11" y="20.6" class="ti">Colegio 1</text>
<path d="M203 112h20" stroke="#011f4b" stroke-width="2"/>
<path d="M203 135.5h19" stroke="#b3cde0" stroke-opacity="0.7" stroke-width="1"/>
<text x="232" y="116" class="ly">y</text>
<text x="232" y="137.8" class="ly">y</text><text x="241" y="141" class="lr">rep</text>
<g fill="none" stroke="#b3cde0" stroke-opacity="0.7" stroke-width="1" shape-rendering="crispEdges" transform="translate(0.5 0.5)">
<path d="M284 190l2 0 7-3 10-7 6-6 1 0 12-14 5-9 5-20 8-77 1-7 2-5 3 15 6 57 4 17 3 3 8-3 7 0 2 1 6 6 4 6 18 33 3 4 9 8 2 0 3 2 5 0 1 1 23 0"/>
<path d="M284 189l9-5 14-13 8-6 11-11 15-20 4-17 7-69 3-15 1 1 2 13 7 73 2 12 4 10 3 3 3 1 8 6 23 23 1 0 6 6 7 5 12 5 16 1"/>
<path d="M284 190l4-2 6-6 11-16 11-13 15-30 3-4 5-3 6-1 3-5 4-21 5-43 2-10 1 0 1 2 2 14 8 85 3 15 6 14 10 15 7 7 6 3 4 0 1 1 42 0"/>
<path d="M284 192l11 0 8-3 6-6 8-13 7-7 4-2 5-1 5-4 6-12 11-31 15-26 2 0 2 4 10 54 4 12 3 5 11 12 4 3 7 3 12 9 5 2 3 0 1 1 16 0"/>
<path d="M284 192l2 0 1-1 5 0 1-1 5-1 18-9 4-4 6-11 13-39 5-10 4-4 5 0 2 1 11 11 8 12 18 32 9 13 6 6 6 3 7 0 15-6 6 0 1 1 5 1 3 2"/>
<path d="M284 186l5-1 10-6 23-22 11-8 10-4 12 0 1 1 3 0 6 3 2 0 23 11 24 16 13 7 2 0 3 2 2 0 10 4 4 0 2 1"/>
<path d="M284 191l3-1 4-3 7-7 4-2 3 0 1-1 5-1 12-9 4-7 2-6 10-40 4-12 4-8 3-3 2 0 2 3 3 9 7 29 5 14 12 18 11 20 5 4 4 0 9-7 5 0 9 8 4 2 3 0 1 1 18 0"/>
<path d="M284 192l20 0 1-1 3 0 3-2 2-3 6-15 12-63 2-7 3-5 2 0 5 6 3 2 2 0 6-3 4 5 3 11 10 51 3 9 4 5 3-1 7-8 4-3 6 0 4 2 16 17 4 2 2 0 1 1 25 0"/>
<path d="M284 186l2-1 5 0 1-1 13 0 8-4 8-9 17-32 7-10 6-4 7 0 15 6 10 9 4 6 16 31 10 11 4 2 7 1 1 1 25 0"/>
<path d="M284 192l16 0 1-1 3 0 8-7 21-39 7-18 15-30 5-6 3 2 4 10 9 40 6 19 4 8 7 7 7 4 6 6 7 4 3 0 1 1 33 0"/>
<path d="M284 183l6-6 17-24 10-10 8-4 10 0 12 5 14 10 10 5 10 2 1 1 3 0 3 2 2 0 6 4 15 14 9 6 2 0 3 2 10 1 1 1 14 0"/>
<path d="M284 181l6 4 3-1 3-4 8-17 2-2 3 0 13 24 1 1 3 0 1-1 3-6 4-18 11-73 3-7 1 0 3 5 10 34 9 18 9 26 4 8 4 4 4 2 9 10 8 4 41 0"/>
<path d="M284 192l27 0 8-3 5-5 6-12 11-31 6-11 3-2 5 0 1 1 5 0 1 1 1-1 5 0 1-1 4 0 5-2 8 0 4 3 6 11 9 23 5 10 11 12 12 6 4 0 1 1 12 0"/>
<path d="M284 188l3-1 8-8 11-16 20-26 8-7 6-1 9 4 11 8 26 27 10 7 7 3 7 5 14 7 9 1 1 1 16 0"/>
<path d="M284 192l14 0 1-1 4 0 7-4 3-3 5-7 5-10 15-39 4-8 4-4 3 1 3 3 8 14 4 4 5-1 9-9 4 0 3 3 4 8 14 40 3 5 6 6 2 1 4 0 1 1 31 0"/>
<path d="M284 192l9 0 1-1 3 0 4-2 7-7 7-12 12-25 10-25 4-7 3-3 2 0 3 2 12 19 4 4 7 4 4 4 23 35 10 10 6 3 4 0 1 1 30 0"/>
<path d="M284 179l11-12 9-6 2 0 1-1 13 0 2 1 1-1 4 0 4-2 22-24 5-2 3 0 6 3 7 6 10 13 14 22 5 6 6 5 9 4 6 0 1 1 25 0"/>
<path d="M284 192l12 0 1-1 6-1 3-2 5-6 4-8 5-14 14-49 3-6 2-2 2 0 3 2 5 10 9 23 5 8 4 3 11 1 2 1 7 7 10 15 8 8 7 5 11 5 4 0 1 1 22 0"/>
<path d="M284 175l12-10 12-6 3 0 5-2 5 0 1-1 5 0 1-1 6 0 1-1 18-1 1-1 6 0 1-1 6 0 1-1 9 0 1 1 3 0 7 4 28 28 3 2 11 5 12 1 1 1 7 0"/>
<path d="M284 191l1-1 6-1 12-7 18-16 1 0 19-19 9-5 10 0 13 5 3 0 1 1 7 0 1 1 6 0 3 2 2 0 3 2 16 16 1 2 9 8 14 8 11 3"/>
<path d="M284 192l11-2 8-5 10-12 14-22 4-5 6-5 5-2 5 0 1 1 4 0 1 1 14 0 7-3 7 0 4 2 4 4 16 25 12 13 6 4 9 4 10 1 1 1 7 0"/>
<path d="M284 192l12 0 1-1 3 0 2-1 9-10 11-24 10-28 10-32 4-6 3 1 5 10 7 20 12 43 4 8 4 4 5 1 9-6 4 0 4 4 8 12 6 4 2 0 1 1 30 0"/>
<path d="M284 192l2 0 1-1 5 0 1-1 5-1 11-6 8-7 1 0 11-14 18-30 7-7 4-2 6 0 1 1 2 0 10 5 6 6 18 36 8 9 3 2 8 2 13 6 9 1 1 1 7 0"/>
<path d="M284 191l7-2 8-5 10-11 12-17 8-8 8-3 2 0 1 1 5 0 1 1 12 0 7-3 2-2 8-4 5 0 4 2 5 5 15 24 4 5 7 6 10 5 2 0 3 2 2 0 4 2 3 0 5 2 6 0"/>
<path d="M284 190l6-3 18-18 8-11 16-33 5-5 4 0 2 1 10 10 5 3 7 2 6 6 8 15 8 18 4 6 5 4 10 0 1-1 5 0 19 7 5 0 1 1 13 0"/>
<path d="M284 189l5-2 4-3 23-24 16-10 9-9 11-14 3-2 5 0 6 5 15 25 9 9 7 4 20 19 6 3 2 0 1 1 5 0 1 1 18 0"/>
<path d="M284 192l20 0 1-1 4 0 5-3 7-9 6-12 14-34 6-11 4-3 10 0 6-3 4 0 4 4 5 11 12 36 6 9 2 1 4 0 4-2 7 0 17 15 6 1 1 1 11 0"/>
<path d="M284 192l10-1 5-2 4-3 5-6 9-15 7-9 3-2 12 0 4-2 6-8 13-26 6-5 3 1 6 7 18 43 8 12 7 7 7 5 8 3 4 0 1 1 20 0"/>
<path d="M284 184l6-4 13-12 6-4 5-2 2-2 11-5 21-14 10-4 8 0 1 1 3 0 5 3 8 8 19 26 13 10 4 2 2 0 3 2 3 0 5 2 18 1"/>
<path d="M284 192l43 0 1-1 2 0 4-4 4-10 4-18 12-89 2-8 2-4 2-1 3 2 3 8 6 29 3 9 4 8 3 11 10 49 6 15 3 3 2 0 1 1 46 0"/>
<path d="M284 192l6-1 4-2 13-16 4-2 7 0 2-2 3-6 3-11 9-49 2-8 3-7 2 0 2 2 10 31 3 6 4 4 5 2 2 2 5 9 7 19 4 8 7 10 7 7 5 3 3 0 1 1 43 0"/>
<path d="M284 192l14 0 7-3 2-2 6-10 11-25 6-7 5-9 9-26 3-6 2-2 3 0 5 6 9 18 7 10 15 33 6 8 1 0 12 10 8 4 3 0 1 1 31 0"/>
<path d="M284 190l2 0 10-5 5-4 12-6 4-1 7-5 6-8 17-33 6-5 6 0 14 6 5 5 16 31 7 9 4 3 7 3 2 2 7 3 2 2 4 1 3 2 2 0 1 1 5 0 1 1 11 0"/>
<path d="M284 192l5-1 4-2 9-8 3-2 2 0 7-6 19-38 9-29 3-7 3-3 4 1 7 10 8 17 17 49 6 11 6 6 5 1 1 1 48 0"/>
<path d="M284 192l23 0 7-3 7-7 12-15 12-18 5-11 13-51 2-5 2-2 2 0 1 1 3 7 15 63 2 7 5 11 8 8 1 0 10 11 5 3 3 0 1 1 27 0"/>
<path d="M284 191l8-2 10-9 7-11 13-25 9-10 8-3 7 0 8 3 14 11 8 4 2 0 9 5 7 8 12 19 7 7 4 2 7 1 1 1 25 0"/>
<path d="M284 189l16-8 10-9 9-17 6-15 9-16 3-3 4-2 5 0 9 8 7 14 9 23 3 6 5 6 4 1 4-2 7-6 5-1 4 2 9 8 5 3 5 1 15 7 13 3"/>
<path d="M284 192l9-2 10-6 11-11 11-18 6-6 2-1 10 1 3-2 4-7 10-35 4-11 2-2 2 0 2 3 3 9 12 51 4 12 6 11 9 9 9 4 4 0 1 1 32 0"/>
<path d="M284 186l20-16 4-2 8-2 3-2 2 0 2-2 6-3 8-7 7-4 7-1 1-1 7 0 1-1 16 0 1 1 5 1 8 5 21 22 8 6 6 3 2 0 10 4 3 0 4 2 6 1"/>
<path d="M284 192l28 0 5-2 4-5 11-32 8-17 11-49 3-6 2 0 4 4 10 15 5 20 8 46 5 17 3 5 5 1 9-8 5-1 13 11 3 0 1 1 23 0"/>
<path d="M284 192l9-1 9-4 27-26 5-7 14-28 5-6 2 0 1-1 6 4 14 23 3 3 4 2 9 1 5 3 9 11 8 12 9 9 9 4 5 0 1 1 12 0"/>
<path d="M284 187l3-1 7-5 11-11 15-19 11-11 6-3 7 0 7 3 2 2 9 5 2 0 5 3 2 0 6 3 8 7 1 0 15 14 10 5 14 4 8 4 2 0 4 2 3 0 1 1 3 0 1 1 3 0"/>
<path d="M284 192l5 0 1-1 9-1 8-4 2 0 11-6 4-4 1 0 5-6 12-19 8-8 6-3 18-16 5 0 6 4 12 16 19 31 8 9 4 3 9 4 13 1"/>
<path d="M284 184l6-2 9-8 15-23 10-11 6-3 7 0 7 3 2 2 11 6 2 0 4 2 10 1 5 2 7 5 16 19 6 6 7 5 2 0 3 2 3 0 1 1 5 0 1 1 21 0"/>
<path d="M284 192l16 0 1-1 4 0 5-2 7-7 7-13 14-32 7-11 6-6 4-2 5 1 4 4 15 25 12 13 19 14 10 5 3 0 1 1 8 2 12 6 6 1"/>
<path d="M284 184l12-12 10-6 10-10 5-7 9-18 2-3 4-3 4 2 7 8 10 4 3 3 7 12 5 6 2 1 11 0 2 1 16 17 12 8 6 3 6 1 1 1 22 0"/>
<path d="M284 190l2 0 8-4 4-3 8-9 6-13 10-32 3-6 2-2 2 0 3 3 8 14 2 2 3 0 2-1 4-6 6-12 5-4 4 3 3 6 16 47 3 6 6 8 7 4 4 0 1 1 44 0"/>
<path d="M284 191l9-4 14-10 10-4 9-8 7-13 6-15 6-12 6-5 1 1 2 0 15 16 10 6 8 8 15 25 7 7 2 0 1 1 13 0 1 1 3 0 3 2 5 1 3 2 9 1 1 1"/>
<path d="M284 191l2 0 4-2 11-10 7-2 5-5 9-17 4-4 6-3 5-13 9-36 2-3 3 0 2 2 3 6 5 15 14 51 4 9 3 3 4-3 9-20 1-1 2 0 4 6 8 21 2 3 4 3 2 0 1 1 31 0"/>
<path d="M284 191l8-3 9-9 12-17 24-29 5-3 5-1 1 1 3 0 7 4 34 35 6 4 10 2 8 4 7 6 9 5 2 0 1 1 5 0 1 1 9 0"/>
<path d="M284 191l1-1 3 0 7-4 8-8 17-27 10-11 7-3 22-1 1 1 2 0 7 5 12 11 3 1 9 6 8 8 6 8 12 11 6 3 9 1 1 1 15 0"/>
<path d="M284 190l10-7 2 0 1-1 4 0 1 1 7 1 7-6 17-31 19-39 3-3 3 0 2 2 3 6 9 26 4 8 4 5 6 4 5 5 14 22 6 6 8 3 31 0"/>
<path d="M284 192l10 0 1-1 4 0 4-2 10-8 5-2 4-3 4-6 4-10 11-36 5-10 3-3 5-2 8 0 4 4 13 28 15 27 6 8 7 7 1 0 8 7 6 1 1 1 27 0"/>
<path d="M284 192l12 0 1-1 5-1 6-6 14-21 6-15 10-43 4-9 4 0 1 1 17 26 9 11 5 11 11 34 3 6 5 5 5 2 48 0"/>
<path d="M284 192l11 0 1-1 6-1 3-2 6-7 5-10 3-9 13-57 2-6 3-4 2 0 3 3 13 24 15 20 15 28 8 11 6 6 7 4 4 0 1 1 39 0"/>
<path d="M284 188l11-5 11-8 19-20 16-22 6-5 5 0 6 5 14 21 7 6 4 2 11 2 9 4 15 10 3 3 15 8 6 1 1 1 7 0"/>
<path d="M284 184l7-3 4-3 8-9 9-13 9-9 8-3 8 0 1-1 4 0 12-5 7 0 4 2 8 8 20 27 6 6 7 5 10 4 14 0 1-1 4 0 1-1 4 0 1-1 7 0 2-1"/>
<path d="M284 180l23-10 9-10 13-26 4-6 4-4 5-1 8 6 22 30 12 11 17 7 2 2 18 10 2 0 4 2 6 0 1 1 16 0"/>
<path d="M284 192l1-1 6-1 5-3 11-12 11-15 7-15 11-37 3-6 2-2 3 1 2 3 7 17 6 11 6 5 5 2 5 5 4 8 8 22 5 10 4 5 8 3 46 0"/>
<path d="M284 191l5-2 8-9 6-13 12-34 4-8 3-3 4-1 7 6 8 11 11 10 10 4 12 1 1 1 5 1 3 2 9 11 7 11 9 9 4 2 7 1 1 1 30 0"/>
<path d="M284 191l9-3 12-11 7-10 20-34 5-5 2-1 4 0 8 7 10 14 7 6 4 2 2 0 3 2 8 2 28 14 13 10 11 6 13 2"/>
<path d="M284 182l9-8 5-2 8 0 1-1 2 0 5-4 8-15 7-18 5-10 5-5 4 0 5 4 9 12 5 5 11 6 5 5 15 28 9 10 4 2 4 0 1 1 39 0"/>
<path d="M284 191l3 0 1-1 5-1 6-4 5-5 7-10 15-26 9-10 10-5 7 0 5 2 26 27 9 6 16 13 12 8 14 6 16 1"/>
<path d="M284 185l9 0 7-3 5-5 15-25 8-9 23-12 4 0 1-1 1 1 3 0 5 3 9 10 15 22 12 12 9 6 8 4 2 0 4 2 3 0 1 1 6 0 1 1 15 0"/>
<path d="M284 192l34 0 1-1 2 0 5-5 6-17 11-54 4-6 4 2 3-2 2-5 7-30 3-5 2 2 3 11 9 54 5 22 6 16 7 12 4 4 5 2 43 0"/>
<path d="M284 189l6-3 14-14 7-9 18-17 16-9 6-1 1-1 8 0 7 3 4 4 1 0 17 20 12 12 10 7 14 7 2 0 4 2 3 0 1 1 7 0 1 1 7 0"/>
<path d="M284 191l4-1 3-2 11-11 1 0 5-5 7-10 6-6 1 0 3-4 5-13 10-46 2-6 3-3 4 7 11 43 6 19 5 13 7 13 4 4 5 0 9-9 5-1 6 5 8 10 5 3 3 0 1 1 26 0"/>
<path d="M284 192l12 0 1-1 3 0 4-2 5-5 5-9 11-29 5-10 4-6 15-15 5 0 4 4 11 22 5 8 3 3 11 4 7 7 12 20 6 6 4 2 4 0 1 1 28 0"/>
<path d="M284 192l12-1 9-4 12-12 19-25 11-11 4-3 14-6 9 0 4 2 7 7 11 15 9 9 15 20 6 5 4 2 7 1 1 1 12 0"/>
<path d="M284 181l22-10 6-4 23-23 5-3 7-1 14 6 4 0 1 1 7 0 1-1 2 0 1 1 4 0 4 2 7 7 16 23 10 9 8 3 5 0 1 1 18 0"/>
<path d="M284 191l10-4 9-9 22-36 8-8 5-2 3 0 5 2 10 10 1 2 10 10 2 1 8 0 3-2 2 0 4-2 4 0 6 3 8 9 10 14 9 8 10 4 5 0 1 1 11 0"/>
<path d="M284 190l1-1 5-1 3-2 18-5 2-2 3-1 10-11 14-23 7-9 5-3 3 0 1-1 10 0 4-2 7 0 6 5 9 17 10 22 8 11 5 3 10 0 5-2 9 0 11 4"/>
<path d="M284 192l9 0 1-1 4 0 8-4 5-5 6-9 8-15 6-9 8-7 2 0 1-1 23 1 6-3 4-4 7-4 5 1 4 4 4 6 15 31 6 9 5 5 5 3 7 1 1 1 16 0"/>
<path d="M284 192l8 0 1-1 4 0 5-2 6-5 5-7 4-8 10-28 7-15 5-5 7-3 8-6 2 0 1-1 4 2 4 6 15 41 6 10 3 3 11 5 14 10 7 3 4 0 1 1 24 0"/>
<path d="M284 192l17 0 1-1 3 0 6-4 6-11 10-35 5-13 1-1 3 0 9 10 2 0 3-3 9-22 3-6 4-5 4 0 3 4 5 16 10 46 3 10 5 10 5 4 3 0 1 1 45 0"/>
<path d="M284 189l6-3 8-6 10-5 2 0 4-2 4 0 1-1 6 0 6-3 8-9 14-26 8-12 8-8 5-1 4 3 3 5 12 36 4 10 4 7 7 7 12 8 2 0 4 2 4 0 1 1 19 0"/>
<path d="M284 192l22 0 1-1 5-1 4-3 5-6 3-5 4-10 11-51 4-14 2-3 5 1 4 4 5 1 4 4 5 14 6 25 3 9 4 7 4 2 2 0 3 2 14 4 5 5 4 6 10 9 3 0 1 1 23 0"/>
<path d="M284 191l6-3 14-12 14-2 6-5 31-61 5-6 2 0 2 2 3 6 9 31 7 18 6 7 7 5 11 15 5 4 6 1 1 1 31 0"/>
<path d="M284 191l5-1 7-4 13-12 1 0 11-11 15-8 7-8 15-27 5-5 5-1 2 1 3 4 3 6 11 30 6 12 4 6 4 4 7 4 2 0 10 5 4 3 2 0 4 2 4 0 1 1 15 0"/>
<path d="M284 185l3-2 5-6 12-11 5-2 3 0 1-1 4 0 6-3 7-9 12-22 5-5 5 0 6 6 9 13 4 4 11 6 7 7 13 20 8 8 4 2 7 1 1 1 28 0"/>
<path d="M284 189l6-3 4-4 17-26 3-4 7-6 5-2 3 0 1-1 14-1 1-1 3 0 10-4 8 0 7 5 15 20 17 17 12 9 8 3 6 0 1 1 18 0"/>
<path d="M284 189l11-4 11-2 6-3 9-9 7-10 9-10 19-10 15-13 4-2 3 0 2 1 7 8 16 34 4 6 5 5 5 3 2 0 7 3 3 0 10 4 11 1"/>
<path d="M284 187l13-12 6-4 7-1 13 5 6 0 5-3 5-6 4-7 13-31 6-12 3-4 3-2 2 0 6 5 4 8 15 46 6 13 5 6 4 2 9 0 16-6 7 1 8 3"/>
<path d="M284 187l4-2 5 0 1-1 12 0 1-1 3 0 9-5 4-4 7-10 13-23 3-4 4-3 2-1 8 0 1 1 9 1 1-1 4 0 1-1 8 0 2 1 7 8 16 33 4 6 7 7 4 2 7 1 1 1 18 0"/>
<path d="M284 192l14 0 1-1 3 0 6-3 7-7 13-19 14-27 13-14 7-17 4-7 2 0 1 1 3 8 11 52 2 7 4 8 4 3 4 0 1-1 2 0 4-3 6 0 15 17 8 3 17 0"/>
<path d="M284 191l3 0 1-1 5-1 8-4 2-2 9-5 6-6 7-11 10-20 4-6 4-4 2-1 13 0 6-4 6-3 2 0 4 2 4 5 22 48 4 6 4 4 6 3 4 0 1 1 29 0"/>
<path d="M284 192l30 0 1-1 2 0 5-5 3-5 9-21 4-4 5-1 3-3 3-6 18-52 4-7 2 0 3 5 8 30 8 18 8 27 7 19 5 5 2 0 1 1 35 0"/>
<path d="M284 191l7-2 3-2 14-13 5-3 2 0 1-1 11 0 4-2 12-13 8-12 15-26 5-5 4 0 4 3 5 9 17 46 4 8 5 7 5 4 5 2 3 0 1 1 26 0"/>
<path d="M284 186l1-1 4 0 1-1 7 0 7-3 7-7 17-25 8-7 8-4 11-3 12-6 6-1 4 2 6 8 17 39 3 5 6 6 6 3 5 0 1 1 29 0"/>
<path d="M284 187l28-20 21-19 15-9 13-11 4-2 5 0 2 1 7 8 21 44 8 9 4 2 7 1 1 1 30 0"/>
<path d="M284 183l17-13 2 0 4-2 10 0 1 1 6 0 1 1 7 0 1-1 4 0 6-3 8-7 15-22 7-7 2-1 6 0 2 1 9 10 22 37 9 9 5 3 6 1 1 1 15 1"/>
<path d="M284 192l2 0 1-1 5 0 1-1 5-1 8-5 18-17 8-11 8-9 7-4 8-1 7-3 11-11 1-2 5-4 5 0 5 5 5 11 11 31 6 12 6 7 3 2 7 1 1 1 22 0"/>
<path d="M284 185l18-11 12-10 1 0 6-6 1 0 22-26 6-3 4 0 1 1 5 1 12 6 7 7 18 31 3 4 10 9 4 2 9 1 1 1 26 0"/>
<path d="M284 192l19 0 1-1 3 0 4-2 9-9 7-9 5-10 10-31 6-14 6-7 12-9 3 2 3 6 15 53 4 9 7 10 9 9 8 3 8-1 7-4 7-6 4 0 2 1 7 6"/>
<path d="M284 188l3-1 10-10 19-31 7-7 4-2 7-1 1 1 6 0 12 5 18 15 22 10 17 12 14 7 2 0 3 2 6 1 1 1 14 2"/>
<path d="M284 192l9 0 1-1 4 0 4-2 6-6 7-15 11-33 5-10 5-4 4 0 4 2 5 0 9-5 3 0 4 3 6 12 13 36 7 13 6 6 4 2 9 0 1-1 5-1 5-3 9-1 1 1 5 1 3 2 2 0 3 2 6 1"/>
<path d="M284 192l18 0 1-1 3 0 5-3 10-12 3-6 4-12 10-50 3-10 3-5 5 1 11 14 3 6 8 26 5 13 3 4 8 2 3 3 12 24 4 4 5 2 39 0"/>
<path d="M284 192l20 0 1-1 5-1 5-5 11-21 10-11 3-5 16-52 4-7 2-1 3 2 3 6 22 67 6 12 6 9 5 5 8 3 36 0"/>
<path d="M284 192l10 0 1-1 6-1 8-5 9-9 5-7 24-51 5-8 3-2 3 0 4 4 8 11 7 7 8 15 14 32 4 6 6 6 5 2 3 0 1 1 32 0"/>
<path d="M284 189l4-1 4-3 12-5 6-6 4-7 16-42 4-5 4-1 9 6 16 7 6 6 12 16 16 28 9 8 6 1 1 1 37 0"/>
<path d="M284 186l13-7 2 0 12-6 20-14 10-4 5 0 1-1 7-1 6-3 14-12 4-2 6 0 4 2 6 6 16 24 7 9 6 6 10 6 6 1 1 1 10 1"/>
<path d="M284 191l4-2 9-8 5 0 7 5 4 1 2-1 11-12 3-2 2 0 4-2 2-2 6-14 8-29 12-37 2-5 3-2 3 4 3 11 12 69 5 14 1 1 6 0 1-1 17 0 11 10 4 2 2 0 1 1 16 0"/>
<path d="M284 192l8-1 8-5 21-26 5-3 9 0 5-4 5-10 10-33 3-7 3-3 4 3 2 4 16 52 8 18 5 4 7 0 15 7 5-1 6-4 6-1 1 1 2 0 8 6 4 1"/>
<path d="M284 190l7-3 5-5 1 0 9-8 4-2 5-5 7-16 13-50 3-6 2-1 4 5 9 33 4 12 3 6 3 2 3 0 3-2 6 0 2 1 6 8 11 21 7 8 3 2 6 1 1 1 39 0"/>
<path d="M284 192l26 0 8-3 4-4 8-16 16-48 5-10 2-3 3-2 2 0 3 2 12 21 3 4 7 5 5 6 12 24 7 9 24 13 7 1 1 1 11 0"/>
<path d="M284 189l10-6 20-21 7-4 10-1 7-4 5-6 11-17 5-5 4-2 5 0 4 2 7 8 7 13 14 31 4 6 5 5 6 3 5 0 1 1 29 0"/>
<path d="M284 192l14 0 1-1 4 0 7-4 8-11 13-26 10-16 4-5 5-4 2-1 4 0 1-1 5 1 4 2 12 11 12 9 8 12 10 19 4 6 5 5 6 3 4 0 1 1 22 0"/>
<path d="M284 192l12 0 1-1 7-1 9-5 3-3 7-4 4-4 3-4 5-10 13-37 5-10 7-6 2 0 4 2 4 5 7 14 11 28 4 7 3 3 3 2 6 1 4 2 8 9 11 10 6 1 1 1 16 0"/>
<path d="M284 186l4 0 1 1 10 0 8-3 7-6 16-21 9-8 7-3 10-2 9-5 7-6 7-2 1 1 2 0 5 5 6 10 11 22 9 11 5 3 2 0 4 2 8 1 1 1 3 0 1 1 3 0 5 2 4 0 1 1"/>
<path d="M284 190l8-4 4-4 1 0 13-14 13-19 8-8 8-5 5-5 11-15 3-2 2 0 4 3 5 9 10 26 6 13 10 16 7 7 6 3 4 0 1 1 37 0"/>
<path d="M284 190l9-5 2-2 11-4 6-5 7-13 11-31 7-16 5-5 4 0 2 1 4 5 18 36 5 5 9 5 7 7 5 8 9 11 7 4 4 0 1 1 33 0"/>
<path d="M284 192l8 0 1-1 3 0 4-2 5-5 12-22 12-16 15-32 6-7 3 0 4 4 12 24 7 7 1 0 4 5 17 38 5 5 5 1 1 1 41 0"/>
<path d="M284 190l8-2 8-5 11-12 18-28 5-5 4-2 5 0 6 3 12 11 13 8 2 0 4 2 3 0 4 2 7 1 3 2 7 2 6 3 2 2 18 9 2 0 4 2 3 0 4 2 7 1"/>
<path d="M284 190l2 0 4-2 8-9 6-11 12-29 9-17 6-6 5 0 5 4 4 6 17 30 4 5 5 4 13 6 15 10 6 1 1 1 9 0 1 1 3 0 8 4 2 0 3 2 3 0 1 1 14 1"/>
<path d="M284 192l21 0 1-1 2 0 5-5 4-9 12-48 6-19 4-9 5-4 8 4 3 3 3 6 4 14 7 33 2 6 3 4 2 0 9-8 3 0 5 4 10 20 6 7 5 2 36 0"/>
<path d="M284 192l22 0 1-1 5-1 6-6 15-33 4-6 7-6 4-6 9-19 2-3 3-2 3 1 2 2 13 24 9 11 14 23 13 14 7 5 5 2 4 0 1 1 17 0"/>
<path d="M284 188l3-1 8-6 12-13 14-18 13-12 2 0 1-1 5 0 1 1 10 2 14-7 4 0 4 3 4 6 16 31 3 4 9 8 5 3 2 0 3 2 3 0 1 1 6 0 1 1 22 0"/>
<path d="M284 187l10-5 9 1 1-1 2 0 5-4 19-26 17-34 9-8 4 0 3 2 4 6 11 26 18 36 6 8 5 3 3 0 1 1 39 0"/>
<path d="M284 191l4-1 5-3 19-20 9-5 5-5 4-6 11-20 6-6 2-1 5 0 5 3 23 23 4 3 9 11 11 16 7 7 5 3 7 1 1 1 24 0"/>
<path d="M284 192l23 0 1-1 5-1 5-5 4-7 8-22 5-10 3-3 5-2 3-3 3-5 9-21 4-4 4 1 7 7 4 6 7 14 11 27 4 6 7 7 1 0 11 11 7 4 4 0 1 1 20 0"/>
<path d="M284 192l14 0 1-1 3 0 2-1 6-7 5-11 10-27 10-20 11-37 4-6 2 1 5 13 14 57 4 12 4 9 4 6 10 9 6 0 10-7 6 0 11 8 2 0 1 1 3 0 1 1 17 0"/>
<path d="M284 185l4-2 2 0 3-2 5-1 8-4 2-2 4-2 2 0 3-2 2 0 5-3 4-5 10-23 6-11 3-3 7 0 4 2 6 1 6 5 5 8 8 17 6 8 3 2 2 0 4 2 3 0 4 2 17 15 8 4 5 0 1 1 14 0"/>
<path d="M284 192l11 0 1-1 4 0 8-4 9-10 12-21 6-9 6-6 6-3 9 0 1-1 3 0 14-8 4 0 2 1 6 6 19 32 11 11 12 8 4 1 3 2 9 1 1 1 5 0"/>
<path d="M284 184l2 0 3-2 4-1 6-4 15-13 4-2 10-2 3-2 5-5 9-14 6-7 4-2 5 0 15 7 9 8 6 9 11 20 5 7 6 6 6 3 7 1 1 1 24 0"/>
<path d="M284 192l8 0 1-1 7-1 8-7 6-10 11-28 5-10 2-3 3-2 5 1 6 7 10 9 6 0 12-9 4-2 4 0 4 2 7 9 14 28 4 6 7 7 6 3 5 0 1 1 20 0"/>
<path d="M284 192l26 0 1-1 5-1 4-4 7-14 14-43 9-23 5-6 4 0 3 2 9 0 3 3 4 11 11 46 4 12 5 10 6 6 5 1 1 1 40 0"/>
<path d="M284 192l1-1 7-1 7-4 4-4 1 0 8-9 9-16 12-32 6-11 3-2 3 1 3 3 16 30 8 11 3 2 7 0 4-2 5 0 2 1 4 4 13 21 6 6 4 2 4 0 1 1 25 0"/>
<path d="M284 191l5 0 1-1 5-1 5-3 4-3 23-24 15-9 9-8 1 0 7-7 8-4 3 0 5 2 8 8 17 25 8 8 9 4 3 0 1 1 3 0 1 1 5 1 13 7 7 2"/>
<path d="M284 192l19 0 8-3 5-5 5-8 13-27 6-7 7-4 7-7 10-16 3-4 5-4 4 1 5 8 13 43 3 8 5 10 3 4 9 8 5 2 3 0 1 1 27 0"/>
<path d="M284 192l9 0 1-1 7-1 7-5 9-11 5-4 5-2 7-1 7-8 13-29 5-5 6-1 6-3 2-2 5 0 3 3 4 8 6 17 5 10 3 4 11 8 7 10 7 8 7 4 4 0 1 1 14 0"/>
</g>
<path d="M284.3 193.0L285.3 193.0 286.6 193.0 288.1 193.0 289.8 193.0 291.7 193.0 293.5 193.0 295.4 192.9 297.1 192.9 298.7 192.9 300.0 192.8 302.1 192.7 303.8 192.5 305.3 192.3 306.5 192.1 307.6 191.7 309.5 190.4 311.0 188.5 313.1 185.8 315.2 182.2 316.9 177.4 318.5 171.5 320.3 164.6 322.7 155.7 324.0 151.0 325.5 145.7 327.1 140.0 328.7 134.4 330.3 129.2 331.8 124.4 333.3 119.7 334.9 115.1 336.4 110.7 337.9 106.5 339.5 102.3 341.2 98.0 342.8 94.0 344.3 90.4 345.5 87.5 347.1 83.5 348.0 81.5 349.1 79.3 350.2 78.1 351.2 78.5 352.3 80.5 353.6 84.1 354.9 89.4 356.2 96.6 357.5 105.5 359.1 116.2 360.6 127.3 361.8 137.6 363.0 146.3 364.2 151.3 365.9 155.1 367.7 158.4 369.8 161.7 371.8 165.0 373.5 168.0 375.1 171.0 376.7 173.8 378.4 176.8 380.0 179.7 381.7 181.7 383.3 182.4 384.9 182.2 386.6 181.7 388.5 180.8 390.4 179.5 392.5 178.8 394.2 179.0 395.9 179.6 397.7 180.2 399.4 180.7 401.5 180.9 403.4 180.9 405.3 180.7 407.0 180.0 408.6 179.1 410.2 178.8 411.9 179.3 413.5 180.3 415.2 181.7 416.8 183.5 418.4 185.6 420.1 187.6 422.0 189.3 424.1 190.9 426.0 192.1 427.2 192.6 428.3 192.7 430.9 192.7 432.0 192.7 433.5 192.8 435.1 192.8 436.9 192.8 438.7 192.9 440.7 192.9 442.6 192.9 444.4 192.9 446.1 193.0 447.6 193.0 448.8 193.0 449.8 193.0" fill="none" stroke="#011f4b" stroke-width="2.5" stroke-linejoin="round" shape-rendering="crispEdges"/>
<path d="M284.3 33V193.5H449.8" fill="none" stroke="#000" stroke-width="1.1"/>
<path d="M295.5 194v3M346.5 194v3M398.5 194v3M449.5 194v3" stroke="#333" stroke-width="1"/>
<text transform="translate(294.9 211) scale(0.84 1)" class="tk">20</text>
<text transform="translate(345.9 211) scale(0.84 1)" class="tk">40</text>
<text transform="translate(397.6 211) scale(0.84 1)" class="tk">60</text>
<text transform="translate(448.9 211) scale(0.84 1)" class="tk">80</text>
<text x="283.8" y="20.6" class="ti">Colegio 2</text>
<path d="M475.8 112h20" stroke="#011f4b" stroke-width="2"/>
<path d="M475.8 135.5h19" stroke="#b3cde0" stroke-opacity="0.7" stroke-width="1"/>
<text x="504.8" y="116" class="ly">y</text>
<text x="504.8" y="137.8" class="ly">y</text><text x="513.8" y="141" class="lr">rep</text>
<g fill="none" stroke="#b3cde0" stroke-opacity="0.7" stroke-width="1" shape-rendering="crispEdges" transform="translate(0.5 0.5)">
<path d="M556 192l10 0 2-1 4 0 0-1 4-1 0-1 6-4 6-9 0-2 2-2 0-2 2-2 0-3 2-2 0-3 2-2 0-3 2-3 0-3 2-3 0-3 2-3 0-3 2-3 0-3 2-3 0-3 2-3 0-3 2-2 0-2 4-6 2 0 0-1 4-1 4-6 0-4 2-5 0-7 2-8 0-8 2-9 0-9 2-7 0-6 2-4 2 3 0 5 2 8 0 10 2 10 0 12 2 10 0 11 2 8 0 8 2 6 0 5 4 13 2 2 0 2 2 2 0 2 2 2 0 2 2 2 0 2 2 1 0 2 2 2 0 2 2 1 2 4 4 2 0 1 2 0 0 1 6 1 4 2 0 1 2 0 0 1 4 2 0 1 6 4 0 1 6 3 2 0 0 1 4 0 2 1 14 0"/>
<path d="M556 191l4 0 0-1 2 0 8-4 0-1 2 0 0-1 2 0 0-1 2 0 0-1 2 0 0-1 2 0 0-1 2 0 0-1 4-1 0-1 4-2 0-1 8-7 6-9 0-2 4-6 2-7 2-2 0-2 2-2 0-2 2-2 0-2 2-2 0-2 2-1 2-4 6-5 2-4 2-1 0-2 2-1 0-2 2-3 0-3 2-4 0-4 2-5 0-6 2-6 0-6 2-5 0-5 2-4 2 1 0 3 2 5 0 7 2 8 0 9 2 9 0 9 2 8 0 8 2 7 0 6 2 5 0 5 2 3 0 4 2 2 0 3 2 2 0 2 2 1 0 2 4 6 2 1 0 2 2 1 0 2 4 3 0 2 2 1 0 1 2 1 2 3 2 0 0 1 2 0 0 1 2 0 0 1 4 0 2 1 24 0"/>
<path d="M556 190l4-2 0-1 4-3 0-2 2-1 0-2 2-1 2-4 4-2 2 0 4 2 0 1 6 3 2 0 4-2 0-1 4-3 0-2 4-5 0-3 2-2 0-3 2-3 0-4 2-3 0-4 2-4 0-4 2-5 0-4 2-5 0-4 2-4 0-4 2-4 0-3 2-3 0-2 2-2 0-2 8-6 0-2 2-3 0-4 2-5 0-5 2-6 0-5 2-5 0-4 2-2 2 3 0 5 2 7 0 8 2 10 0 10 2 9 0 10 2 8 0 8 2 6 0 6 2 5 0 5 2 4 0 4 2 3 0 4 2 3 0 3 2 2 0 3 2 2 0 2 2 1 2 3 10 2 0 1 2 0 0 1 4 2 0 1 8 4 4 1 28 0"/>
<path d="M556 192l6 0 8-2 0-1 4-2 0-1 2-1 0-1 2-1 0-1 2-1 0-1 10-9 0-2 2-1 2-3 0-2 2-2 0-2 2-3 0-3 2-3 0-3 2-4 0-4 2-4 0-5 2-4 0-4 2-4 0-4 2-4 0-3 2-3 0-2 2-1 0-1 4 1 2 3 0 2 6 9 6 0 0-1 4 0 2 1 0 2 2 1 0 3 2 2 2 10 2 3 0 4 2 3 0 4 2 3 0 3 4 6 0 2 2 1 2 3 4 2 2 0 0 1 4 2 0 1 6 5 0 2 4 3 0 2 2 1 2 3 8 4 4 1 28 0"/>
<path d="M556 192l14 0 0-1 4 0 0-1 2 0 2-1 0-1 2 0 0-1 4-3 0-2 2-1 6-10 2-1 0-2 2-1 0-1 8-7 0-2 2-1 0-2 4-6 0-3 2-2 0-3 2-3 0-3 2-3 0-4 2-3 0-3 2-2 0-3 6-9 4 0 0 1 6 5 16 24 2 1 0 1 2 0 2 3 6 4 0 2 2 1 2 3 0 2 2 1 0 2 2 2 0 2 2 1 0 2 2 2 0 2 2 2 0 2 2 1 0 2 6 9 2 1 2 3 2 0 0 1 4 1 0 1 4 0 0 1 22 0"/>
<path d="M556 185l4 0 0-1 6-1 0-1 2 0 0-1 4-1 2-3 2 0 0-1 2-1 0-1 2-1 0-1 10-9 0-2 2-1 0-1 4-2 2-3 10-5 4-1 10 0 0-1 8 0 8-2 0-1 2 0 0-1 2 0 4-2 8-1 0 1 2 0 4 2 0 1 2 0 0 1 4 3 0 2 4 3 0 2 2 1 6 9 2 1 0 1 2 1 0 1 2 1 0 1 2 1 2 3 4 2 0 1 2 0 0 1 6 3 0 1 2 0 0 1 10 3 0 1 10 2"/>
<path d="M556 190l8-4 0-1 2 0 0-1 2-1 0-1 2-1 0-1 2-1 0-1 2-1 0-1 2-1 0-1 2-1 0-1 2-1 0-1 2-1 2-3 2 0 0-1 4-2 0-1 2 0 0-1 4-2 0-1 2 0 0-1 2-1 0-1 2 0 0-1 2-1 0-1 2-1 2-3 2 0 0-1 6-4 2-3 2 0 0-1 2-1 0-1 2-1 0-1 2-1 0-1 2-1 0-1 2-1 0-1 2-1 0-1 2-1 2-3 2 0 0-1 4 0 0 1 2 0 0 1 2 1 4 6 0 2 2 2 0 2 4 6 0 2 2 3 0 2 2 2 0 2 2 2 0 2 4 6 2 1 0 2 2 1 0 1 4 2 0 1 2 0 0 1 2 0 0 1 2 0 0 1 2 0 0 1 2 0 0 1 2 0 0 1 2 0 0 1 4 1 0 1 4 2 0 1 2 0 0 1 2 0 0 1 6 3 2 0 0 1 14 2"/>
<path d="M556 192l4 0 0-1 4 0 4-1 0-1 2 0 0-1 2 0 0-1 4-2 0-1 6-5 2-4 4-3 0-2 2-1 0-1 10-9 2-4 2-1 0-2 2-1 0-2 2-1 0-2 2-2 2-7 2-2 0-2 2-3 0-2 2-2 0-2 2-2 0-2 2-3 4-3 0-1 2 0 2 1 0 1 2 0 0 2 2 1 2 3 0 2 2 1 0 2 6 9 0 2 2 1 4 6 2 0 0 1 2 0 0 1 2 0 0 1 8 2 2 3 2 0 0 1 2 1 0 2 2 1 6 9 0 2 2 1 0 2 6 9 2 1 0 2 2 1 2 3 2 0 0 1 4 2 2 0 0 1 4 0 2 1 16 0"/>
<path d="M556 192l4 0 0-1 2 0 4-2 0-1 2-1 0-1 2-1 2-3 2 0 0-1 2 0 0-1 4 1 0 1 4 2 0 1 2 0 0 1 2 0 4-3 0-2 2-1 0-3 2-2 0-2 2-3 0-3 2-3 0-2 2-3 0-3 2-3 0-3 2-3 0-4 2-3 0-4 2-4 0-5 2-4 0-5 2-4 0-4 2-4 0-4 2-3 0-2 2-3 2-1 0-1 2 0 0-1 2 0 6-4 2 1 2 3 0 3 2 4 0 4 2 5 0 5 2 6 0 6 2 6 0 5 2 5 0 5 2 3 0 3 2 2 0 2 2 1 0 1 4 1 0 1 4 3 4 6 0 2 2 1 0 2 2 1 2 3 2 0 6 3 0 1 2 0 2 4 2 1 2 3 2 0 0 1 2 0 0 1 4 1 28 0"/>
<path d="M556 189l2 0 0 1 2 0 0 1 4 0 2 1 14 0 4-1 0-1 2 0 0-1 2 0 0-1 2-1 4-6 0-2 2-2 0-2 2-2 0-2 2-3 0-3 2-2 0-3 2-3 0-3 2-3 0-4 2-3 2-10 2-3 0-4 2-3 0-3 2-3 0-3 2-3 0-2 6-9 4-2 2 0 4 1 0 1 4 3 0 2 2 1 0 2 6 13 0 3 2 3 0 2 2 3 2 7 2 2 0 2 2 2 0 2 2 1 0 2 2 1 0 2 2 1 0 2 2 1 0 2 2 1 0 2 2 2 0 2 2 2 0 2 2 1 0 2 2 2 0 2 4 6 2 1 0 1 2 1 2 3 2 0 0 1 4 0 0 1 32 0"/>
<path d="M556 192l34 0 0-1 2 0 4-2 2-3 2-4 0-2 2-3 0-4 2-4 0-4 2-6 0-5 2-7 0-7 2-7 0-7 2-8 0-8 2-7 0-7 2-7 0-6 2-5 0-4 2-4 0-2 2-1 2 0 0 2 2 2 0 3 2 4 0 3 2 4 0 3 2 3 0 3 2 3 0 2 2 3 2 1 0 1 6 4 0 2 2 2 0 2 2 4 0 3 2 4 0 4 2 5 0 5 2 5 0 5 2 5 0 5 2 4 0 4 2 4 0 3 2 3 0 3 2 2 0 2 2 3 6 4 6 1 0-1 8-1 0-1 2 0 0-1 4-2 0-1 4-1 0-1 6 0 6 3 0 1 2 0 0 1 2 0 0 1 4 1 0 1 4 0 0 1 2 0"/>
<path d="M556 191l4-1 0-1 2 0 0-1 2 0 0-1 8-7 0-2 2-1 0-2 2-1 0-2 4-5 0-2 2-1 0-2 2-1 0-2 2-1 0-1 2-1 2-3 6-3 2 0 0-1 2 0 0-1 2 0 0-1 2 0 0-1 6-5 0-2 2-1 2-4 2-1 4-6 2 0 0-1 8-3 10 4 0 1 4 3 0 2 2 1 2 3 0 2 2 1 0 2 4 5 0 2 6 9 0 2 2 1 0 2 2 3 2 1 0 2 2 1 4 6 2 0 2 3 2 0 0 1 2 0 0 1 2 0 0 1 2 0 0 1 2 0 8 4 2 0 0 1 2 0 0 1 6 1 0 1 6 0 0 1 12 0"/>
<path d="M556 191l8-1 0-1 2 0 4-2 0-1 2 0 0-1 10-9 0-2 2-1 8-12 0-2 2-1 0-2 4-5 0-2 2-1 0-2 2-1 0-2 2-1 0-2 4-3 0-2 4-2 0-1 8-3 10 2 0 1 4 1 0 1 4 2 0 1 2 0 0 1 6 4 0 1 2 1 0 1 2 1 2 3 4 2 0 1 2 1 0 1 2 1 2 3 4 2 0 1 4 2 0 1 2 0 0 1 12 6 0 1 4 1 0 1 4 2 0 1 4 2 0 1 2 0 2 3 2 0 0 1 6 3 0 1 10 3 4 0"/>
<path d="M556 189l4-2 0-1 2 0 0-1 2-1 0-1 2-1 0-1 2-1 0-1 2-1 2-3 2 0 0-1 2 0 0-1 4 0 0-1 2 1 4 0 0 1 6 0 4-2 4-6 0-2 2-2 0-3 2-3 0-3 2-3 0-3 2-4 0-4 2-3 0-4 2-4 0-4 2-3 0-4 2-3 0-3 2-3 0-2 2-4 4-3 2 1 4 5 0 2 4 8 0 3 2 3 0 3 2 3 0 3 2 2 0 3 2 3 0 2 2 2 0 3 2 2 0 2 2 1 0 2 2 3 2 1 0 2 2 1 2 3 4 2 0 1 2 0 0 1 4 1 0 1 2 0 6 3 2 0 0 1 2 0 0 1 8 5 0 1 2 1 0 1 2 1 2 3 4 2 0 1 2 0 0 1 4 1 0 1 4 0 2 1 14 0"/>
<path d="M556 191l10-2 0-1 2 0 0-1 2 0 0-1 4-1 0-1 4-2 0-1 2 0 0-1 6-4 4-6 4-3 0-2 2-1 2-4 2-1 0-2 2-1 2-4 2-1 0-2 2-1 0-1 2-1 0-1 2-1 2-3 4-2 0-1 4-2 0-1 2 0 0-1 8-4 4 0 0-1 2 1 4 0 0 1 2 0 4 2 0 1 2 0 0 1 8 5 0 1 2 1 0 1 2 1 0 1 10 9 2 4 2 1 2 4 2 1 6 9 4 3 0 2 2 1 0 1 2 1 2 3 2 0 2 3 2 0 0 1 2 0 0 1 6 1 0 1 12 1"/>
<path d="M556 191l6-1 0-1 2 0 6-3 0-1 2 0 2-3 2 0 0-1 4-2 0-1 6-3 0-1 2 0 2-3 2 0 0-1 6-5 0-2 2-1 0-2 2-2 0-2 2-2 0-2 4-6 0-3 2-2 0-2 2-3 0-2 2-2 0-2 2-2 0-2 2-3 4-3 0-1 4 0 4 2 0 1 2 1 0 1 2 1 0 1 2 1 2 3 2 0 0 1 4 2 0 1 2 0 0 1 4 1 0 1 4 2 0 1 4 3 0 2 2 1 6 9 0 2 2 1 0 2 2 1 0 2 2 1 0 2 2 1 0 1 2 1 0 1 2 1 0 1 2 1 2 3 4 2 0 1 2 0 0 1 6 3 0 1 2 0 0 1 2 0 0 1 4 2 2 0 0 1 2 0 0 1 10 1 0 1 6 0"/>
<path d="M556 189l2 0 0-1 4-1 2-3 2 0 0-1 2-1 0-1 2-1 2-3 2 0 0-1 2-1 2-3 2 0 0-1 12-6 0-1 4-1 0-1 4-2 0-1 10-9 0-2 4-3 0-2 2-1 0-1 2-1 0-1 2-1 0-1 2-1 0-1 2-1 0-1 2-1 0-1 2-1 2-3 4-2 0-1 4-2 0-1 4-1 0-1 6 0 0 1 2 0 0 1 4 3 0 2 2 1 0 2 2 2 0 3 2 2 0 2 2 3 0 3 2 2 0 3 2 3 0 3 2 3 0 2 2 3 0 3 2 2 2 7 4 5 0 2 2 1 0 1 2 1 2 3 4 2 2 0 0 1 4 0 2 1 26 0"/>
<path d="M556 192l14 0 0-1 4 0 0-1 4-1 0-1 4-3 0-2 2-1 0-2 2-2 0-2 2-2 0-2 2-2 0-2 2-2 0-2 2-2 0-2 2-2 0-2 2-1 0-2 2-1 0-1 10-5 0-1 6-5 0-2 2-1 0-2 2-2 2-7 2-2 0-3 4-8 0-3 2-2 2-7 2-1 0-2 2-1 0-1 4 0 4 6 0 3 2 3 0 3 2 3 0 4 2 3 0 4 4 11 0 4 2 3 0 4 2 3 0 3 2 3 0 3 2 3 2 7 2 2 0 2 2 2 0 2 2 1 0 2 2 1 0 1 2 1 2 3 2 0 0 1 8 0 0-1 2 0 0-1 4-1 8 0 0 1 2 0 4 2 0 1 2 0 0 1 6 1 0 1 4 0 0 1 4 0"/>
<path d="M556 192l10-2 10-5 0-1 2 0 0-1 10-9 2-4 2-1 0-2 4-5 0-2 2-1 0-2 2-2 0-2 2-2 0-2 2-2 0-2 4-5 0-2 4-6 2-1 2-4 2 0 2-3 2 0 0-1 4-1 4 0 0 1 4 1 0 1 6 5 2 4 2 1 0 2 2 1 2 4 2 1 0 1 2 1 0 1 2 1 2 3 2 0 0 1 2 0 0 1 2 0 0 1 2 0 0 1 2 0 0 1 4 2 0 1 8 7 2 4 4 3 0 2 2 1 0 1 2 1 0 1 2 1 2 3 4 2 0 1 2 0 0 1 6 3 2 0 0 1 10 2 6 0"/>
<path d="M556 191l10-1 0-1 6-1 0-1 2 0 0-1 4-2 0-1 2 0 0-1 6-5 2-4 2-1 0-2 2-1 0-2 8-12 0-2 2-2 0-2 2-1 0-2 2-3 2-1 0-2 6-4 0-1 4-1 16 0 2-1 10 0 0 1 2 0 0 1 6 4 0 2 2 1 4 7 2 1 0 2 2 1 0 2 2 1 2 4 2 1 2 3 4 2 0 1 2 0 0 1 4 1 0 1 2 0 0 1 2 0 0 1 2 0 0 1 2 0 0 1 2 0 0 1 2 0 0 1 2 0 0 1 4 2 0 1 2 0 0 1 4 2 0 1 2 0 0 1 8 4 2 0 0 1 4 1"/>
<path d="M556 192l14-1 0-1 2 0 0-1 2 0 0-1 4-2 8-12 0-2 2-3 0-2 2-2 0-2 2-3 2-7 2-2 0-2 2-2 0-2 2-3 2-1 2-3 4-1 0-1 4 0 0-1 2 0 0-1 4-3 6-9 0-2 2-1 0-2 2-1 2-3 4 0 6 5 0 2 4 5 0 2 6 9 0 2 4 5 0 2 2 1 0 2 2 1 0 2 2 1 0 2 2 1 4 7 2 1 0 2 2 1 2 4 2 1 0 2 2 1 2 4 2 1 4 6 4 2 0 1 4 2 2 0 0 1 4 0 2 1 22 0"/>
<path d="M556 190l4-1 0-1 6-5 4-6 0-2 4-5 0-2 2-2 0-2 2-1 0-2 2-3 4-3 0-1 4-1 8 3 2 0 4-2 0-1 4-3 0-2 2-1 0-2 2-2 0-2 2-1 0-2 6-8 2 0 0-1 8 0 0 1 2 0 8 4 0 1 2 0 0 1 6 5 0 2 4 3 0 2 2 1 0 2 2 1 2 4 4 3 2 4 6 4 0 1 2 1 2 3 2 0 2 3 2 0 0 1 6 3 2 0 0 1 2 0 0 1 6 1 0 1 8 2 0 1 2 0 0 1 2 0 0 1 2 0 0 1 6 1 0 1 6 0 0 1 2 0"/>
<path d="M556 192l6 0 0-1 8-1 0-1 2 0 0-1 2 0 0-1 4-2 0-1 6-5 0-2 2-1 4-6 0-2 2-1 0-2 2-2 0-2 2-2 0-3 2-2 0-3 2-2 0-3 4-8 0-3 2-3 0-2 2-3 2-7 2-2 0-2 2-1 0-2 2-1 0-1 2 0 0-1 4 0 4 2 0 1 8 7 0 2 2 1 4 7 2 1 0 2 2 1 0 2 2 1 8 12 0 2 2 1 0 2 2 1 0 2 8 12 2 1 2 4 2 0 2 3 2 0 0 1 4 2 2 0 0 1 2 0 0 1 2 0 14 7 2 0 0 1 10 2 10 0"/>
<path d="M556 187l2 0 0-1 2 0 0-1 2 0 12-6 0-1 2 0 0-1 4-2 0-1 10-9 0-2 6-5 0-2 6-5 0-2 2-1 0-1 2-1 0-1 2-1 0-1 2-1 0-1 2-1 2-3 4-2 0-1 2 0 0-1 2 0 0-1 10 0 0 1 2 0 0 1 4 2 0 1 2 0 0 1 2 1 2 3 2 0 2 3 2 0 0 1 4 2 0 1 2 0 0 1 2 0 0 1 2 0 0 1 2 0 0 1 2 0 0 1 2 0 0 1 4 2 0 1 2 1 0 1 10 9 0 2 8 7 0 2 4 2 2 3 10 5 10 2 6 0"/>
<path d="M556 192l4 0 0-1 4 0 0-1 2 0 0-1 4-3 2-4 2-1 0-2 2-1 0-2 2-1 2-3 4 0 0 1 2 0 0 1 4 3 4 0 0-1 2-1 6-21 0-6 2-5 0-7 2-6 0-6 2-7 0-6 2-6 0-6 2-5 0-5 2-4 0-3 2-2 0-2 4 1 0 2 2 3 0 3 2 3 0 4 4 14 0 5 2 5 0 5 2 5 0 4 2 4 0 4 2 4 0 3 4 8 2 1 2-1 0-1 2-1 0-2 2-2 0-2 2-2 0-2 2-3 4 0 2 3 0 2 2 2 0 3 2 3 0 3 2 3 0 3 2 3 0 2 2 3 2 7 8 11 2 0 0 1 8 3 34 0"/>
<path d="M556 191l6-1 0-1 2 0 0-1 2 0 0-1 2 0 0-1 2 0 0-1 4-1 6 0 8 3 6 0 0-1 4-3 4-6 0-3 2-2 0-2 2-3 0-3 2-3 0-3 2-3 0-3 2-3 0-3 2-3 0-2 2-3 2-7 4-6 0-2 2-1 0-2 2-1 0-1 2-1 2-3 4-2 0-1 8-2 6 3 0 1 2 1 0 2 4 5 0 3 4 6 0 3 2 2 0 2 2 3 0 2 2 2 0 2 2 2 0 2 4 5 0 2 4 5 0 2 2 1 0 2 2 1 0 2 2 1 2 4 2 1 0 2 2 1 0 1 2 1 0 1 2 1 2 3 4 2 0 1 2 0 0 1 8 1 0 1 16 0"/>
<path d="M556 186l8 0 4-1 8-4 0-1 6-5 2-4 2-1 0-2 2-1 0-2 2-1 0-2 6-9 2-1 0-2 2-1 2-3 4-2 0-1 18-2 0-1 2 0 2-3 2 0 0-1 2-1 0-1 2-1 0-1 2-1 2-3 2 0 0-1 4-1 6 3 6 9 0 2 2 2 0 2 4 6 0 3 2 2 0 2 2 2 0 2 2 2 0 2 2 1 0 2 4 6 2 1 0 1 2 1 2 3 2 0 0 1 2 0 0 1 2 0 0 1 2 0 0 1 12 3 0 1 8 2 4 0 0 1 8 0 0 1 2 0"/>
<path d="M556 192l10-2 0-1 2 0 8-4 0-1 2 0 2-3 2 0 0-1 4-3 2-4 2-1 0-2 2-1 0-2 4-5 0-2 2-2 0-2 2-1 0-2 6-9 2-1 0-1 4-1 0-1 8-1 6-3 4-6 2-1 0-2 2-1 2-4 6-4 4 0 6 5 0 2 2 1 0 2 2 2 0 2 4 6 0 3 2 2 0 2 2 3 0 2 2 2 0 3 2 2 0 2 2 2 0 2 2 1 0 2 4 6 2 1 0 1 2 1 0 1 2 1 2 3 2 0 0 1 4 2 0 1 2 0 0 1 2 0 0 1 2 0 0 1 2 0 0 1 2 0 0 1 2 0 0 1 10 1 0 1 10 0"/>
<path d="M556 182l4-1 18 0 0-1 2 0 0-1 2 0 0-1 4-2 2-4 2-1 0-2 2-1 0-2 2-1 0-2 4-5 0-2 2-1 0-2 6-9 2-1 2-3 2 0 0-1 4-1 0-1 16-1 8-2 0-1 8-1 4 1 0 1 4 2 2 4 2 1 0 2 2 1 0 2 2 1 0 2 4 5 0 2 2 2 0 2 2 1 0 2 2 2 0 2 2 1 0 2 2 1 0 2 2 1 0 2 2 1 4 6 4 2 0 1 6 3 2 0 0 1 10 1 0 1 14 0"/>
<path d="M556 190l4-1 0-1 2-1 0-1 2 0 0-2 4-3 0-2 4-5 2-7 2-2 0-3 4-8 0-3 4-8 0-3 2-2 0-3 2-2 0-3 2-2 0-2 2-1 0-2 6-4 6 3 2 4 2 1 2 4 2 1 0 1 2 1 2 3 4 2 8 0 0 1 4 0 0 1 4 1 0 1 6 5 0 2 2 1 8 13 2 1 0 2 2 1 0 1 2 1 0 1 2 1 2 3 8 4 20 5 0 1 2 0 0 1 8 2 0 1 6 1 0 1 16 1"/>
<path d="M556 182l2 0 2-3 2 0 0-1 4-2 0-1 2 0 0-1 4-2 0-1 2 0 0-1 2 0 0-1 2 0 0-1 2 0 0-1 2 0 0-1 6-3 2 0 0-1 2 0 0-1 2 0 0-1 6-1 0-1 2 0 0-1 4-1 0-1 6-5 8-12 0-2 4-5 0-2 2-1 0-2 2-1 0-2 2-1 0-1 2 0 0-1 4-1 4 2 0 1 4 3 0 2 2 1 0 2 2 2 0 2 2 2 0 2 2 2 0 2 2 2 0 2 2 2 0 2 2 2 0 2 2 2 0 2 2 2 0 2 6 9 2 1 0 2 2 1 2 3 2 0 0 1 10 5 2 0 0 1 10 2 0 1 8 2 4 0 0 1 12 1"/>
<path d="M556 192l16 0 0-1 4 0 0-1 4-1 0-1 6-5 0-2 2-1 4-7 2-1 0-2 2-1 0-1 2-1 2-3 2 0 0-1 10 1 4-3 0-2 2-2 0-3 2-3 0-3 2-4 0-4 2-5 0-4 2-5 0-5 2-5 0-4 2-4 0-4 2-3 0-3 2-2 0-2 2-3 2 0 0-1 2 0 0 1 2 0 6 3 4 6 0 2 2 3 0 3 2 4 0 4 2 4 0 4 2 4 0 5 2 4 0 4 2 4 0 4 2 3 0 3 2 3 0 3 2 3 0 2 2 3 2 7 2 2 0 2 4 6 2 1 2 3 2 0 0 1 4 0 0 1 32 0"/>
<path d="M556 177l2-1 2-3 4-2 0-1 2-1 0-1 2-1 2-3 2 0 0-1 4-2 0-1 2 0 0-1 2 0 0-1 6-1 0-1 4 0 0-1 4 0 0-1 4 0 0-1 6-1 0-1 2 0 0-1 2 0 0-1 4-1 0-1 4-2 0-1 2 0 0-1 8-4 6-1 0 1 4 0 0 1 4 1 0 1 8 5 2 3 2 0 2 3 2 0 0 1 6 4 0 1 2 1 2 3 2 0 0 1 4 3 2 4 2 1 0 1 2 1 0 1 2 1 0 1 2 1 2 3 4 2 0 1 4 2 0 1 2 0 0 1 2 0 0 1 6 1 0 1 20 1"/>
<path d="M556 192l30 0 0-1 4 0 0-1 4-2 0-2 2-1 0-2 4-8 0-4 2-4 0-4 2-4 0-5 2-5 0-5 2-5 0-4 2-5 0-3 2-4 0-3 4-7 6 0 2-1 4-5 0-2 2-3 0-3 2-4 0-3 2-4 0-3 2-3 0-3 2-3 2-1 0 1 2 1 0 2 2 4 0 4 2 5 0 6 2 6 0 7 2 7 0 7 2 7 0 7 2 7 0 5 2 6 0 5 2 4 0 3 4 8 2 1 0 1 2 0 0 1 4 0 0-1 10 0 0 1 4 0 0 1 2 0 0 1 4 2 0 1 2 0 2 3 2 0 0 1 2 0 0 1 2 0 0 1 4 0 0 1 18 0"/>
<path d="M556 191l8-1 0-1 4-1 0-1 6-4 2-4 2-1 0-2 2-1 0-2 2-1 0-2 2-1 0-2 4-5 0-2 2-1 0-2 2-3 2-1 0-2 2-1 2-3 6-3 2 0 4 1 0 1 2 0 0 1 6 3 2 0 0 1 4 0 6-3 0-1 4-3 2-4 4-3 0-2 6-4 0-1 2 0 0-1 6 0 0 1 2 0 0 1 6 5 0 2 2 1 0 2 4 5 0 2 2 2 0 2 2 2 0 2 2 1 0 2 2 2 0 2 8 12 2 1 4 6 2 0 2 3 8 4 2 0 0 1 10 1 0 1 8 0"/>
<path d="M556 186l2 0 0-1 2-1 0-1 10-9 2-4 4-3 4-6 2 0 2-3 2 0 0-1 2 0 0-1 2 0 0-1 8-2 4 0 0-1 6-1 0-1 2 0 0-1 2 0 0-1 2 0 0-1 2 0 0-1 2 0 0-1 2 0 0-1 2 0 0-1 6-1 0-1 22 0 2 1 4 0 0 1 2 0 0 1 4 1 0 1 4 3 0 2 4 3 0 2 2 1 0 2 2 1 0 2 10 15 2 1 2 4 2 1 0 1 2 0 2 3 2 0 0 1 2 0 0 1 2 0 0 1 4 0 0 1 6 0 0 1 12 0"/>
<path d="M556 192l2-1 4 0 0-1 2 0 8-4 0-1 2 0 2-3 4-2 0-1 4-3 0-2 4-3 0-2 2-1 6-9 2-1 2-3 4-2 0-1 6-5 6-9 0-2 2-2 2-7 2-2 0-2 2-2 0-2 4-5 0-2 2-1 2-3 4-1 0-1 4 1 0 1 6 5 0 2 4 6 0 3 2 2 0 3 2 2 0 3 2 3 0 3 2 3 0 3 4 8 0 3 2 2 0 3 2 2 0 2 2 2 0 2 6 9 2 1 0 1 2 1 2 3 4 2 0 1 4 1 0 1 8 1 0 1 26 0"/>
<path d="M556 188l2 0 0-1 2 0 0-1 4-1 0-1 6-3 0-1 2 0 0-1 8-5 0-1 2-1 0-1 10-9 0-2 2-1 0-1 2-1 0-1 2-1 0-1 2-1 0-1 2-1 2-3 4-2 0-1 2 0 0-1 2 0 0-1 2 0 0-1 2 0 0-1 6-3 2-3 2 0 0-1 2-1 2-3 4-2 0-1 2 0 0-1 2 0 0-1 4 0 0 1 4 1 0 1 6 5 0 2 2 1 0 2 2 1 0 2 2 1 0 2 6 9 0 2 4 5 0 2 2 1 0 2 2 3 2 1 0 2 2 1 0 1 2 1 0 1 2 1 0 1 2 1 2 3 2 0 0 1 4 2 0 1 2 0 0 1 2 0 0 1 2 0 0 1 6 1 0 1 10 1 0 1 10 0"/>
<path d="M556 175l4-2 0-1 2 0 0-1 2 0 0-1 4-1 0-1 8-2 6 0 0-1 4 0 0-1 2 0 0-1 4-1 0-1 10-9 0-2 4-3 0-2 2-1 0-1 2-1 0-1 2-1 2-3 2 0 0-1 8 0 0 1 4 1 2 3 2 0 0 1 6 4 0 1 2 0 0 1 2 0 0 1 2 0 0 1 2 0 0 1 2 0 4 2 2 0 0 1 2 0 0 1 2 0 0 1 4 2 2 3 4 2 0 1 2 1 0 2 2 1 0 1 2 1 0 1 2 1 2 3 2 0 0 1 6 4 0 1 2 0 0 1 6 3 2 0 0 1 2 0 0 1 6 1 0 1 4 0 0 1 4 0 2 1 8 0"/>
<path d="M556 185l4-2 2 0 0-1 2 0 0 1 2 0 8 4 6 0 0-1 6-5 0-2 2-1 0-2 4-6 0-3 2-2 0-3 2-2 0-3 2-3 0-3 2-3 0-3 2-3 0-3 4-8 0-3 2-3 0-2 2-3 2-7 2-2 0-2 2-2 0-2 2-1 2-3 2 0 0 1 2 0 0 1 4 2 0 1 2 1 2 3 2 0 0 1 6 5 0 2 2 1 0 2 4 8 0 3 2 3 0 3 2 3 0 4 2 3 0 3 2 3 0 3 2 3 0 3 2 2 0 3 2 2 0 2 2 1 0 2 2 1 0 1 2 1 2 3 4 2 0 1 6 4 0 1 4 1 0 1 4 0 2 1 34 0"/>
<path d="M556 192l10 0 2-1 4 0 0-1 2 0 0-1 4-1 0-1 6-5 2-4 2-1 0-2 2-1 4-7 2-1 0-2 2-1 2-4 2-1 0-2 4-5 0-2 2-2 0-2 2-2 0-2 2-2 0-2 2-2 0-2 2-2 0-2 4-6 6-4 10 0 0-1 6-1 0-1 2 0 4 2 0 1 2 1 2 3 0 2 2 2 0 2 2 2 0 2 4 6 0 3 2 2 0 2 2 2 0 2 4 5 0 2 2 2 0 2 2 2 0 2 2 2 0 2 2 2 0 2 2 1 0 2 2 2 0 2 2 1 0 2 2 1 0 1 2 1 2 3 2 0 0 1 2 0 0 1 4 0 0 1 26 0"/>
<path d="M556 192l16 0 0-1 8-1 0-1 4-1 0-1 6-4 0-2 2-1 4-6 0-2 2-2 0-2 2-2 0-3 2-2 0-3 2-2 0-3 2-3 0-3 2-2 0-3 2-3 2-7 2-2 0-2 2-1 0-2 2-1 0-1 2 0 0-1 2 0 0 1 4 1 0 1 2 1 0 1 2 1 0 1 2 1 2 3 2 0 0 1 6 1 2-1 4 0 0-1 4 0 0-1 6 0 6 3 8 11 0 2 2 2 0 2 2 2 0 2 2 2 2 7 2 1 0 2 2 2 0 2 6 9 2 1 0 1 2 1 2 3 2 0 0 1 4 2 2 0 0 1 6 0 0 1 12 0"/>
<path d="M556 186l4-2 2 0 0-1 2 0 0-1 2 0 0-1 2 0 0-1 2 0 0-1 2 0 0-1 4-2 0-1 2 0 0-1 8-5 0-1 2-1 2-3 2 0 0-1 2-1 0-2 6-5 2-4 2-1 0-2 2-1 2-4 4-3 0-2 2-1 0-1 2 0 2-3 8-1 0 1 2 0 0 1 2 0 0 1 4 2 0 1 2 1 0 1 2 1 2 3 2 0 2 3 2 0 0 1 2 0 0 1 2 0 0 1 14 0 0 1 2 0 4 2 0 1 2 0 0 1 2 1 0 2 4 3 0 2 2 1 0 2 2 1 6 10 2 1 2 4 6 4 0 1 2 0 0 1 8 3 14 1"/>
<path d="M556 192l10-1 0-1 2 0 6-3 0-1 2 0 0-1 6-5 0-2 2-1 4-6 0-2 4-5 0-3 4-6 0-3 2-2 0-3 2-2 0-3 2-2 0-2 2-3 0-2 2-2 0-2 2-2 0-2 2-1 2-3 2 0 0-1 2 0 4 2 0 1 4 2 0 1 2 1 2 3 2 0 0 1 2 0 0 1 4 1 8 0 0-1 8-1 4 2 0 1 2 1 2 3 0 2 4 6 0 3 2 3 0 3 4 8 0 3 2 3 2 7 8 12 10 4 30 0"/>
<path d="M556 191l8-1 0-1 2 0 0-1 4-2 0-1 4-3 2-4 2-1 0-2 2-1 2-4 2-1 0-1 2-1 2-3 6-3 8-1 6-3 0-1 2-1 0-2 2-1 0-2 4-6 0-2 2-3 0-2 2-3 0-2 2-3 0-3 2-2 2-7 2-1 0-2 2-1 0-1 4 0 2 1 2 3 0 2 2 2 0 2 2 2 0 2 2 2 0 2 2 2 0 2 2 2 0 2 2 3 2 1 0 2 10 6 0 1 2 0 0 1 8 7 2 4 2 1 0 2 2 1 0 2 2 1 0 2 2 1 0 2 2 1 2 4 2 1 0 1 2 1 0 1 2 1 2 3 2 0 0 1 2 0 0 1 2 0 0 1 4 0 2 1 16 0"/>
<path d="M556 192l14 0 0-1 4 0 0-1 4-1 0-1 4-3 4-6 0-2 6-13 0-3 2-3 0-4 2-3 0-3 2-3 0-4 2-3 0-3 2-3 2-7 2-2 0-2 2-1 2-3 4 0 2 1 0 1 2 0 0 1 2 1 0 2 2 1 2 3 2 0 0 1 4 1 0 1 6-1 0-1 4 0 0-1 6 1 6 8 0 2 2 2 0 2 2 3 0 2 2 2 2 7 2 2 0 2 4 6 2 1 0 2 2 1 0 1 2 0 2 3 2 0 2 3 4 2 0 1 6 4 2 3 2 0 0 1 2 0 0 1 2 0 0 1 8 1 0 1 18 0"/>
<path d="M556 192l12 0 0-1 4 0 0-1 2 0 2-1 0-1 2 0 0-1 4-3 0-2 2-1 0-2 2-1 0-2 2-2 0-2 4-6 2-7 2-2 0-2 2-2 0-2 2-2 0-2 2-2 0-2 2-1 0-2 10-14 0-2 2-1 0-2 2-2 0-2 2-3 0-2 2-2 0-2 2-1 0-2 2-3 2-1 4 1 0 1 2 1 2 3 0 2 4 8 0 3 2 2 0 3 2 3 0 3 2 3 0 3 2 2 0 3 2 3 0 2 2 2 0 3 2 2 0 2 2 2 0 2 2 1 0 2 2 1 0 2 2 1 0 1 4 2 0 1 12 3 0 1 4 2 0 1 2 1 0 1 2 1 0 1 2 1 0 1 2 1 2 3 2 0 0 1 2 0 0 1 2 0 0 1 4 0 2 1 18 0"/>
<path d="M556 186l12 0 4-1 0-1 2 0 0-1 8-7 0-2 2-1 0-2 2-1 0-2 2-1 0-2 4-5 0-2 2-1 0-2 2-1 0-2 2-1 2-4 2-1 0-1 2-1 0-1 2-1 2-3 8-4 2 0 0-1 8-1 0-1 6-1 0-1 12-3 0 1 4 1 0 1 6 5 0 2 4 5 0 2 2 2 0 2 4 6 0 3 2 2 0 2 2 1 0 2 2 2 0 2 6 9 2 1 0 1 2 1 0 1 2 1 2 3 10 5 4 1 6 0 0 1 18 0"/>
<path d="M556 191l2 0 0-1 2 0 8-4 0-1 2 0 0-1 6-4 0-1 2-1 0-1 2-1 0-1 2-1 2-3 2 0 0-1 2-1 0-2 4-3 0-2 2-1 0-2 2-1 0-2 2-2 0-2 2-2 0-2 2-2 0-2 2-2 0-2 2-2 0-2 4-6 4-2 4 0 0 1 2 0 0 1 6 3 4 0 4-2 0-1 2-1 0-1 2-1 2-3 4-1 0-1 2 0 0 1 2 0 0 1 2 1 0 1 2 1 2 3 0 2 2 2 0 2 4 6 0 3 2 2 0 2 2 3 0 2 2 3 2 7 4 6 0 3 2 1 0 2 2 2 0 2 2 1 4 6 2 0 0 1 6 3 4 0 0 1 28 0"/>
<path d="M556 192l20 0 2-1 4 0 0-1 2 0 6-3 0-1 2 0 0-1 6-3 0-1 2 0 2-3 2 0 0-1 2-1 0-2 2-1 2-3 0-2 2-2 0-2 4-8 0-3 2-2 0-3 2-3 0-3 2-2 0-3 2-2 0-3 2-2 0-2 8-12 2-1 0-2 2-1 0-2 2-1 0-2 2-1 2-4 2 0 0-1 4 0 2 1 6 9 0 3 2 2 0 2 2 3 0 3 2 2 0 3 2 3 0 3 2 3 0 3 2 4 0 3 2 3 0 3 2 3 0 3 2 3 0 3 2 3 0 2 2 2 0 3 2 2 0 2 2 1 0 2 2 1 0 1 2 1 2 3 2 0 0 1 8 0 10-5 2 0 0-1 8 0 0 1 2 0"/>
<path d="M556 180l4 1 0 1 2 1 0 1 2 1 2 3 6 3 2 0 0 1 16 0 0-1 4-1 0-1 2-1 2-3 0-2 2-2 0-3 2-3 0-3 2-3 0-4 2-4 0-4 2-4 0-4 2-4 0-4 2-5 0-4 2-4 0-5 2-4 0-5 2-5 0-6 2-5 0-6 2-5 0-6 2-5 0-5 2-4 0-3 2-2 0-2 2 0 2 3 0 3 2 4 0 5 2 5 0 5 2 6 0 5 2 5 0 6 2 5 0 4 2 5 0 4 2 3 0 4 2 2 0 3 2 1 0 2 2 1 0 2 4 3 0 2 4 6 0 3 2 3 0 3 2 4 0 3 2 3 0 3 6 12 2 1 0 1 4 1 0 1 44 0"/>
<path d="M556 192l14-1 0-1 2 0 6-3 0-1 6-5 6-9 0-2 2-2 0-2 2-1 0-2 2-2 0-2 2-2 0-2 2-1 0-2 4-6 2-1 0-1 2-1 2-3 2 0 0-1 4 0 0-1 4 0 2 1 10 0 6-3 0-1 4-2 2-3 2 0 0-1 4-2 4 0 0 1 2 0 0 1 6 5 0 2 4 5 0 2 4 6 0 2 2 3 0 2 2 2 0 2 2 2 0 2 2 1 0 2 4 6 2 1 0 2 2 1 0 1 4 2 0 1 2 0 0 1 2 0 0 1 2 0 0 1 2 0 0 1 8 2 0 1 6 1 0 1 4 0 0 1 6 0"/>
<path d="M556 192l8 0 0-1 8-1 0-1 2 0 0-1 2 0 0-1 4-2 2-3 2 0 0-1 10-9 4-6 0-2 2-2 0-2 4-8 0-3 2-3 0-3 2-4 0-3 2-3 0-3 2-3 0-3 2-2 0-2 2-3 2-1 0-1 4 0 4 2 4 0 4-2 0-1 4-2 0-1 4 0 2 1 0 1 2 1 2 3 0 2 4 8 0 3 2 3 0 3 2 3 0 4 2 3 0 3 2 3 0 3 2 2 0 3 2 2 0 3 2 2 0 2 4 6 2 1 2 3 2 0 0 1 2 0 0 1 2 0 0 1 6 1 0 1 2 0 0 1 2 0 0 1 2 0 0 1 2 0 0 1 2 0 0 1 2 0 0 1 4 0 0 1 4 0 2 1 14 0"/>
<path d="M556 192l24 0 0-1 4 0 0-1 2 0 0-1 4-2 0-1 2-1 0-2 2-1 0-2 2-1 0-2 2-1 0-2 4-5 0-2 2-1 0-2 2-1 0-2 2-1 0-2 2-1 4-6 0-2 2-2 0-2 4-6 2-7 2-2 0-2 4-6 2-1 0-1 8-4 0-1 8-7 2 0 4 3 0 2 4 8 0 3 2 2 0 3 2 3 2 7 2 1 0 2 8 7 0 2 2 1 2 3 0 2 2 1 0 2 2 2 0 2 2 2 0 2 2 2 0 2 2 1 0 2 4 6 2 1 2 4 4 2 0 1 2 0 0 1 2 0 0 1 4 0 0 1 16 0"/>
<path d="M556 192l14 0 0-1 4 0 0-1 2 0 0-1 4-3 0-2 2-1 0-2 2-2 0-2 2-3 0-2 2-3 2-7 2-2 0-2 2-3 2-1 0-1 4 0 2 1 4 0 2-1 2-3 0-2 2-2 0-2 2-3 0-3 2-3 0-3 2-2 0-3 2-3 0-2 2-2 0-2 2-1 0-2 2-1 0-1 2 0 0-1 4-1 0-1 8 0 0 1 2 1 0 2 2 2 0 2 2 2 0 3 2 3 0 3 2 4 0 3 2 4 2 10 2 3 0 3 2 3 0 3 2 2 0 2 2 3 2 1 2 3 4 0 8-2 8 4 0 1 2 0 0 1 6 3 0 1 2 0 2 3 2 0 2 3 2 0 0 1 4 2 2 0 0 1 4 0 0 1 8 0"/>
<path d="M556 192l12 0 2-1 4 0 8-4 0-1 6-5 0-2 2-1 0-2 2-1 0-2 2-1 0-2 2-2 0-2 2-2 0-2 2-1 0-2 2-2 0-2 2-2 0-2 2-2 0-2 2-1 0-2 2-2 0-2 2-1 0-2 2-1 2-4 6-4 0-1 6-3 2 0 0-1 8-2 4 0 0 1 2 0 4 2 0 1 4 3 0 2 2 1 0 2 4 5 0 2 2 2 0 2 2 2 0 2 2 2 0 2 2 2 0 2 2 2 0 2 2 1 0 2 2 1 0 1 2 1 2 3 14 7 0 1 4 2 2 3 2 0 0 1 6 4 0 1 2 0 0 1 2 0 0 1 8 1 0 1 6 0"/>
<path d="M556 192l2-1 4 0 0-1 2 0 4-2 0-1 2 0 0-1 4-3 2-4 2-1 0-2 2-1 0-2 4-5 0-2 4-5 0-2 2-1 0-2 2-1 0-1 2-1 0-1 2-1 2-3 2 0 0-1 2 0 0-1 2 0 6-3 0-1 2 0 0-1 2-1 0-1 2-1 0-1 2-1 2-3 4-2 0-1 4-1 4 1 0 1 4 2 0 1 4 3 0 2 2 1 2 3 2 0 0 1 4 2 12 0 6 3 8 11 0 2 4 5 0 2 2 2 0 2 2 1 0 2 2 1 0 2 2 1 0 2 2 1 2 3 4 2 0 1 2 0 0 1 4 1 4 0 0 1 16 0"/>
<path d="M556 192l10 0 8-2 0-1 6-4 0-2 2-1 0-2 4-6 0-2 2-3 0-3 2-2 0-3 2-3 0-3 2-3 0-4 2-3 0-3 4-8 0-3 2-2 0-2 2-2 0-2 2-1 0-2 2 0 0-1 2-1 16 1 8-3 4 0 0 1 2 0 0 1 2 1 2 3 0 2 2 2 0 2 4 8 0 3 2 4 0 3 2 3 0 4 2 3 0 3 2 3 0 3 2 3 0 3 2 3 0 2 2 2 0 2 6 8 8 2 0-1 4 0 0-1 8-2 0-1 10 0 4 1 0 1 2 0 0 1 2 0 4 2 10 2"/>
<path d="M556 192l6 0 0-1 8-1 0-1 2 0 0-1 2 0 0-1 2 0 0-1 4-2 2 0 0-1 8-1 0-1 4-1 0-1 4-3 2-3 0-2 2-2 0-2 4-8 0-3 2-4 0-3 4-11 0-4 2-4 0-4 2-4 0-4 2-4 0-3 2-3 0-3 2-3 0-3 2-3 4-3 0 1 2 0 0 1 2 1 0 2 2 1 0 3 2 2 0 3 2 2 0 3 2 3 0 3 2 3 0 2 2 3 2 7 2 2 0 2 2 1 0 2 2 1 0 1 2 1 2 3 2 0 0 1 10 9 0 2 2 1 0 2 2 1 0 2 2 2 0 2 2 1 0 2 2 2 0 2 6 9 2 1 2 3 6 3 4 0 0 1 24 0"/>
<path d="M556 192l12 0 0-1 4 0 0-1 2 0 0-1 4-2 0-1 2-1 2-3 2 0 0-1 2 0 0-1 6-1 0-1 2-1 4-7 0-2 2-3 0-2 2-3 0-3 2-3 0-2 2-2 0-2 2-3 4-3 0-2 2-1 0-2 2-2 0-3 2-3 0-4 2-3 0-5 2-4 0-5 2-4 0-5 2-4 0-3 2-4 0-2 2-3 2-1 0 1 2 0 0 2 2 2 0 3 2 3 0 3 2 4 0 4 2 4 0 5 2 4 0 4 2 4 0 3 2 3 0 3 4 6 2 1 4 0 4 3 0 2 2 3 0 3 2 3 0 4 2 4 0 3 2 4 0 3 2 4 0 2 2 3 0 2 4 6 2 0 0 1 4 1 38 0"/>
<path d="M556 192l14 0 2-1 4 0 0-1 2 0 0-1 4-1 0-1 4-2 0-1 2 0 0-1 2 0 0-1 2 0 8-4 4-6 0-3 2-2 0-3 4-11 0-4 2-4 0-4 2-4 0-4 2-4 2-10 2-3 0-3 2-3 0-2 2-2 0-2 2-2 0-2 2-1 2-3 4 0 4 2 0 1 2 1 0 2 2 1 8 12 0 2 4 6 0 3 2 3 0 3 2 3 0 3 2 3 0 3 4 8 0 3 2 2 0 2 2 2 0 2 2 2 0 2 2 2 0 2 2 1 0 2 6 9 2 1 0 2 2 1 0 1 2 0 0 1 8 3 28 0"/>
<path d="M556 190l2 0 6-3 0-1 2 0 4-6 2-1 0-2 2-1 0-2 4-5 0-2 2-2 0-2 2-2 0-2 2-2 0-2 2-2 0-2 2-1 0-2 4-6 2-1 2-3 6-3 8 0 8 2 0 1 2 0 0 1 6 1 0 1 16 5 0 1 2 0 0 1 8 2 0 1 2 0 0 1 8 2 0 1 4 2 0 1 2 0 0 1 6 5 6 9 4 3 0 2 2 1 0 1 2 1 2 3 2 0 2 3 2 0 0 1 2 0 0 1 2 0 0 1 4 0 0 1 6 0 0 1 12 0"/>
<path d="M556 190l2 0 8-4 0-1 2 0 0-1 6-5 0-2 4-3 0-2 2-1 2-4 2-1 0-2 2-1 2-4 2-1 0-1 2-1 2-3 2 0 0-1 8-4 2 0 0-1 4 0 0-1 6-1 0-1 6-3 0-1 2-1 0-1 2-1 2-3 4-2 2-3 2 0 0-1 6 0 0 1 4 2 0 2 2 1 2 3 0 2 2 1 0 2 2 2 0 2 2 2 0 2 2 2 0 2 2 2 0 2 2 2 0 2 4 6 2 1 0 2 2 0 2 3 4 1 4 0 2-1 10 0 0 1 2 0 0 1 4 1 0 1 4 2 0 1 4 2 0 1 2 0 0 1 4 2 0 1 10 3"/>
<path d="M556 189l2 0 8-4 0-1 2 0 0-1 10-9 0-2 2-1 6-9 0-2 2-1 0-2 4-5 0-2 2-1 0-2 2-1 0-2 2-1 4-6 2 0 0-1 2 0 0-1 8 0 16 8 2 0 0 1 2 0 0 1 2 0 0 1 2 0 2 1 0 1 4 1 0 1 4 2 0 1 2 0 0 1 4 2 0 1 2 0 0 1 6 3 0 1 2 0 0 1 2 0 0 1 2 0 0 1 2 0 0 1 4 1 0 1 6 3 0 1 2 0 0 1 2 0 0 1 12 6 2 0 0 1 8 2 4 0 0 1 4 0 0 1 8 1"/>
<path d="M556 192l18 0 8-3 0-1 4-3 2-3 0-2 2-1 0-2 2-2 0-3 4-6 0-3 2-2 0-2 2-2 0-2 2-1 0-2 8-7 0-2 2-1 0-2 2-2 0-2 2-3 0-3 2-3 0-4 2-4 0-4 2-3 0-4 2-4 0-3 2-3 0-2 4-3 0 1 2 1 0 2 2 2 0 2 2 3 0 4 2 3 0 4 2 4 0 3 2 3 0 4 2 2 0 3 2 2 0 2 4 6 4 2 0 1 6 5 0 2 2 1 0 2 2 2 0 2 2 2 0 2 2 1 0 2 4 6 4 2 14-1 0 1 2 0 0 1 2 1 0 1 2 1 0 1 2 1 0 1 2 1 2 3 4 2 0 1 8 2 8 0"/>
<path d="M556 183l10-1 10-5 0-1 2 0 2-3 2 0 0-1 2-1 0-1 2 0 2-3 2 0 0-1 2 0 0-1 8-4 2 0 0-1 2 0 0-1 6-3 0-1 8-7 0-2 2-1 4-7 2-1 0-2 2-1 0-1 2-1 2-3 4-2 4 0 0 1 2 0 0 1 6 5 4 6 0 2 2 1 0 2 2 1 0 2 8 12 2 1 0 1 2 1 0 1 2 1 0 1 2 1 2 3 2 0 0 1 4 2 0 1 2 0 0 1 6 3 0 1 2 0 0 1 4 2 0 1 2 0 0 1 8 4 2 0 0 1 8 2 6 0 0 1 2 0"/>
<path d="M556 192l14 0 0-1 4 0 8-4 8-11 0-2 2-2 0-2 2-2 0-2 2-2 0-2 2-2 0-2 2-2 0-2 2-2 0-2 2-1 0-2 2-1 2-4 2-1 0-1 2-1 0-1 2-1 2-3 2 0 0-1 2-1 0-1 2-1 0-1 2-1 2-3 6-3 4 0 8 4 2 3 2 0 0 1 10 9 0 2 4 3 2 4 2 1 0 2 2 1 0 2 2 1 4 7 2 1 0 2 4 3 0 2 2 1 0 1 2 1 0 1 2 1 0 1 2 1 0 1 2 1 0 1 2 1 2 3 4 2 0 1 2 0 0 1 4 1 0 1 10 2 8 0"/>
<path d="M556 192l16 0 4-1 0-1 2 0 0-1 6-5 0-2 2-1 6-9 2-1 4-6 0-2 2-2 0-2 2-2 0-2 2-3 2-1 0-1 4 0 4 6 0 2 2 2 0 2 2 2 0 2 2 3 4 1 2-3 0-3 2-4 0-4 2-6 0-6 2-6 0-7 2-7 0-6 2-7 0-5 2-5 0-4 4-6 2 0 0 1 2 1 4 7 2 1 0 2 8 7 0 2 2 2 0 3 2 3 0 4 2 5 0 5 4 17 0 6 2 6 0 5 2 4 0 4 2 4 0 3 2 2 0 2 2 1 2 3 4 1 12 0 0-1 4 0 0-1 2 0 0-1 2-1 0-1 2-1 0-1 2-1 2-3 2 0 0-1 2 0 4 2 2 3"/>
<path d="M556 192l16 0 2-1 4 0 0-1 4-1 0-1 6-5 2-4 2-1 0-2 2-1 0-2 2-1 0-1 2-1 0-1 4-3 0-1 10-5 2 0 0-1 2 0 0-1 2 0 0-1 2 0 0-1 2 0 0-1 4-2 6-9 0-3 2-2 0-3 2-3 0-3 2-3 0-3 2-3 0-3 2-3 0-3 2-2 0-2 4-6 4 0 0 1 2 1 2 3 0 2 4 8 0 3 2 3 0 3 2 3 0 4 2 3 0 3 2 3 0 3 2 3 0 2 2 2 0 3 2 1 0 2 2 1 0 2 2 1 0 1 2 0 0 1 2 0 0 1 2 0 0 1 2 0 0 1 4 2 0 1 4 3 2 4 2 1 2 4 2 1 0 1 2 1 2 3 6 3 10 1"/>
<path d="M556 192l6 0 0-1 4 0 4-1 0-1 2 0 0-1 2 0 0-1 8-7 4-6 0-2 2-1 0-2 2-2 0-2 2-2 0-2 2-2 0-2 2-2 0-2 2-2 0-2 2-2 0-2 10-15 2-1 0-1 2 0 2-3 2 0 0-1 2 0 0-1 2 0 0-1 2 0 0-1 10-3 6 0 0 1 2 0 0 1 4 3 4 6 0 2 2 2 0 3 2 2 0 3 2 2 0 3 4 8 0 3 2 2 0 3 2 3 2 7 2 2 0 2 6 9 4 2 0 1 2 0 0 1 10 0 4-1 0-1 8-1 0-1 6 0 0 1 8 1 0 1 6 1 0 1"/>
<path d="M556 191l2 0 0-1 2 0 8-4 0-1 2 0 0-1 2-1 0-1 10-9 4-6 4-2 2-3 2 0 0-1 10-5 0-1 2 0 0-1 8-7 2-4 2-1 0-2 2-1 0-2 2-1 0-1 2-1 2-3 4-2 6 0 0 1 2 0 0 1 2 0 0 1 4 1 0 1 4 2 0 1 4 1 0 1 4 2 0 1 2 0 0 1 2 1 0 1 2 0 2 3 2 0 0 1 4 3 2 4 2 1 2 4 2 1 0 2 2 1 0 2 2 1 2 4 2 1 0 2 2 1 0 1 2 1 0 1 2 1 0 1 2 1 2 3 2 0 0 1 8 4 2 0 0 1 14 1"/>
<path d="M556 192l18 0 4-1 4-2 0-1 2 0 0-2 2-1 2-3 0-2 2-1 0-3 4-6 0-3 2-2 0-2 2-2 0-2 2-2 0-2 2-1 0-2 4-3 0-2 2-1 2-3 0-2 2-2 0-2 2-3 0-3 2-3 0-4 2-4 0-4 2-4 0-4 2-4 0-4 2-3 0-3 4-8 2 0 4 3 0 3 2 2 0 3 2 3 0 3 2 3 0 3 2 3 0 4 2 3 2 10 4 8 0 3 4 6 0 2 4 6 2 1 4 6 2 1 0 2 2 1 0 2 2 1 0 2 2 2 0 2 2 1 0 2 6 9 2 1 0 1 2 0 0 1 8 3 30 0"/>
<path d="M556 178l2-1 2-3 2 0 0-1 2-1 2-3 2 0 2-3 4-2 0-1 4-2 0-1 2 0 2-3 2 0 0-1 4-2 0-1 2 0 0-1 6-3 0-1 12-3 0 1 6 0 4 1 0 1 4 0 0 1 10 2 10 0 0-1 14 1 0 1 2 0 10 6 0 1 6 5 2 4 4 3 0 2 2 1 0 1 2 1 0 1 2 1 0 1 2 1 2 3 4 2 0 1 2 0 0 1 2 0 0 1 2 0 0 1 2 0 0 1 4 0 0 1 16 1"/>
<path d="M556 191l4-1 0-1 2 0 0-1 2-1 0-1 10-9 0-2 2-1 0-1 2 0 0-1 4-2 8 0 4-2 2-3 2-1 0-2 2-2 0-3 2-2 0-3 2-3 0-3 2-3 0-3 2-3 0-3 2-3 2-7 2-2 0-2 2-3 2-1 2-3 2 0 0-1 10 0 0 1 2 0 0 1 2 0 0 1 2 1 6 9 0 2 2 2 2 7 2 2 0 2 2 3 0 2 2 2 0 2 2 2 0 2 2 1 0 2 16 24 2 1 4 6 2 0 0 1 6 3 4 0 0 1 30 0"/>
<path d="M556 183l2-1 0-2 2-3 2-1 0-2 2-1 0-1 4 0 4 3 0 2 2 1 0 2 2 1 0 2 2 1 0 2 2 1 2 3 2 0 0 1 4 0 0 1 6 0 0-1 2 0 0-1 2 0 0-1 2-1 2-3 0-2 2-2 0-3 2-3 0-3 2-3 0-3 2-3 0-3 2-2 0-2 2-2 0-2 2-1 0-1 2-1 2-3 0-2 2-3 0-3 2-5 0-5 2-6 0-6 2-7 0-6 2-7 0-6 2-5 0-5 2-3 0-3 2-1 0-1 2 1 0 2 2 3 0 3 2 4 0 4 2 5 0 5 2 5 0 4 2 5 0 4 2 3 0 3 4 8 4 1 0 1 2 0 4 6 0 2 2 3 0 4 2 3 0 4 2 4 0 5 2 3 0 4 2 4 0 3 2 3 0 2 2 2 0 2 2 1 2 3 4 1 36 0"/>
<path d="M556 192l10 0 2-1 4 0 0-1 2 0 4-2 0-1 6-5 0-2 4-5 0-2 6-13 0-3 2-3 0-3 2-3 0-3 2-2 0-3 2-3 0-3 2-2 0-3 2-2 0-2 2-2 0-2 2-1 0-2 2-1 0-1 2 0 0-1 4 0 4 2 0 1 6 5 2 4 2 1 0 2 4 3 0 2 4 3 0 2 2 1 0 1 10 9 2 4 6 5 2 4 2 1 0 1 2 1 2 3 4 2 0 1 12 6 2 0 0 1 2 0 0 1 8 2 4 0 0 1 12 0 10 2"/>
<path d="M556 188l4 0 6-3 0-1 4-2 0-1 2-1 0-1 2-1 2-3 4-2 0-1 4-2 0-1 2 0 0-1 2 0 0-1 2 0 0-1 2 0 0-1 4-2 0-1 8-7 0-2 2-1 0-2 2-1 0-2 4-5 0-2 2-1 0-2 4-6 2-1 0-1 2-1 2-3 2 0 0-1 6 0 6 3 0 1 2 0 0 1 2 1 0 1 10 9 0 2 2 1 14 22 2 1 0 2 2 1 0 1 4 3 0 2 2 1 0 1 2 0 0 1 2 1 2 3 2 0 2 3 2 0 0 1 2 0 0 1 2 0 0 1 2 0 0 1 2 0 0 1 10 1 0 1 14 0"/>
<path d="M556 192l14 0 0-1 4 0 0-1 2 0 0-1 4-1 0-1 2-1 2-3 4-2 2-3 2 0 0-1 4-3 0-2 2-1 0-2 2-2 0-2 4-8 0-3 4-8 0-3 2-3 0-3 2-2 0-3 4-8 0-3 2-2 0-3 2-3 0-2 6-9 4 0 0 1 4 3 0 2 2 1 12 18 0 2 4 6 2 7 2 2 2 7 2 2 0 2 2 1 0 2 2 1 2 3 2 0 0 1 4 1 0 1 6 4 0 2 2 1 0 2 2 1 0 2 2 1 0 2 2 1 0 2 2 1 0 1 2 1 2 3 8 3 22 0"/>
<path d="M556 184l4-1 0-1 4-2 0-1 2 0 2-3 2 0 0-1 4-2 0-1 2 0 0-1 4-2 0-1 2 0 0-1 4-2 0-1 2 0 0-1 8-5 0-1 8-7 0-2 4-3 2-4 2-1 0-1 2-1 0-1 2-1 2-3 2 0 0-1 4-1 0-1 8 0 0 1 2 0 0 1 4 1 0 1 2 1 0 1 10 9 0 2 4 3 0 2 2 1 2 4 6 5 0 2 6 4 0 1 6 4 0 1 2 0 0 1 12 6 2 0 0 1 6 1 0 1 2 0 0 1 6 1 0 1 2 0 0 1 6 1 0 1 8 1"/>
<path d="M556 191l8-2 0-1 2 0 0-1 2 0 0-1 4-1 0-1 4-2 0-1 2-1 2-3 4-2 0-2 2-1 0-1 2-1 0-1 2-1 0-1 2-1 0-1 2-1 0-1 2-1 0-1 2-1 0-1 2-1 0-1 2-1 0-1 2-1 2-3 4-2 2-3 2 0 0-1 4-2 0-1 2 0 0-1 2 0 0-1 2 0 0-1 8-1 0-1 8 1 10 5 0 1 4 2 0 1 2 1 0 1 2 1 0 1 2 1 0 1 2 1 0 1 2 1 0 1 2 1 0 1 2 1 2 3 2 0 0 1 6 4 0 1 2 0 0 1 2 0 0 1 8 2 6 0 10 2 4 2 2 0 0 1 2 0 0 1 2 0 0 1 6 3"/>
<path d="M556 191l6 0 0-1 2 0 8-4 0-1 6-5 2-4 2-1 0-2 2-1 0-2 2-1 0-2 2-1 0-2 6-8 0-2 2-1 0-2 2-1 0-2 2-1 0-2 2-1 0-2 2-1 2-4 2-1 0-2 2-1 0-1 2-1 2-3 2 0 0-1 2 0 0-1 6 0 0 1 4 1 0 1 2 1 2 3 2 0 0 1 2 1 0 1 2 1 2 3 2 0 0 1 6 3 2 0 0 1 2 0 0 1 2 0 0 1 2 0 0 1 4 2 0 1 4 3 0 2 4 3 2 4 2 1 0 1 2 1 0 1 2 1 0 1 2 1 2 3 4 2 0 1 2 0 0 1 2 1 0 1 2 0 2 3 2 0 0 1 4 2 0 1 2 0 0 1 2 0 0 1 2 0 0 1 2 0 0 1 10 1 0 1 6 0"/>
<path d="M556 182l8-2 4 0 0-1 4 0 0-1 8-2 0-1 4-2 0-1 2 0 0-1 6-5 2-4 2-1 2-4 4-3 0-2 2-1 2-3 2 0 0-1 6-3 2 0 0-1 16 1 0-1 4 0 0-1 6-1 0-1 2 0 0-1 8-1 4 1 0 1 2 0 0 1 6 4 16 24 2 1 0 2 2 1 2 4 2 1 0 1 2 1 0 1 2 1 2 3 2 0 0 1 6 3 2 0 0 1 4 0 0 1 6 0 2 1 6 0"/>
<path d="M556 186l18-9 2 0 0-1 2 0 0-1 6-3 0-1 2-1 0-1 2 0 0-1 2-1 0-1 2-1 0-1 2-1 0-1 2-1 0-1 2-1 0-1 2-1 2-3 2 0 0-1 4-2 2 0 0-1 10-2 6 0 0-1 6-1 0-1 2 0 0-1 4-2 2-3 2 0 0-1 2-1 0-1 2-1 2-3 2 0 0-1 4-1 0-1 2 0 6 3 0 1 2 1 0 2 2 1 0 2 4 5 0 2 2 2 2 7 2 2 0 2 2 2 0 2 2 2 0 2 2 2 0 2 4 5 0 2 2 1 4 6 4 2 0 1 2 0 0 1 2 0 0 1 4 1 4 0 2 1 12 0"/>
<path d="M556 192l8 0 0-1 4 0 0-1 4-1 0-1 4-3 0-2 2-1 2-3 0-2 2-1 0-2 4-6 2-1 2-3 4-1 2 1 6 0 4-2 2-3 0-2 2-2 0-2 4-8 0-4 2-3 0-3 2-4 0-3 2-4 0-3 2-3 0-3 2-3 0-2 2-3 4-3 4 2 0 2 2 1 8 13 6 5 0 2 2 1 4 6 0 2 2 2 0 2 4 8 0 3 4 8 0 3 2 3 2 7 2 2 0 2 2 2 0 2 2 3 4 3 0 1 2 0 0 1 2 0 0 1 8 0 0-1 2 0 12-6 8 0 0 1 2 0 2 1 0 1 4 1"/>
<path d="M556 189l2 0 0-1 4-3 2-4 2-1 0-2 6-5 2 0 4 2 0 1 2 1 0 2 2 1 0 1 2 1 2 3 4 0 4-3 0-2 2-1 0-3 2-2 0-3 2-3 0-3 2-4 0-4 2-4 0-4 2-4 0-4 2-5 0-4 2-4 0-5 2-4 0-4 2-3 0-4 2-3 0-3 4-6 4-1 0 1 2 0 6 10 2 1 2 3 2 0 0 1 2 0 0 1 4 1 4 6 0 2 2 3 0 4 2 3 0 4 2 5 0 4 2 5 0 4 2 5 0 4 2 4 0 4 2 3 0 3 2 3 0 3 6 8 2 0 0 1 4 1 46 0"/>
<path d="M556 188l6 0 0-1 4-1 0-1 6-5 4-6 0-2 2-1 0-2 2-2 0-2 2-2 0-2 2-2 0-2 2-2 0-2 2-2 0-2 2-2 0-2 2-1 0-2 2-3 2-1 2-4 2 0 2-3 2 0 0-1 12-6 6 0 0 1 4 1 0 1 4 3 2 4 2 1 2 4 2 1 2 4 2 1 0 2 2 1 4 7 2 1 0 2 2 1 2 4 2 1 0 1 2 1 0 1 2 1 2 3 2 0 0 1 6 3 0 1 4 1 0 1 2 1 0 1 2 0 2 3 2 0 0 1 4 2 0 1 2 0 0 1 2 0 0 1 2 0 0 1 10 2 20 0"/>
<path d="M556 192l2 0 0-1 4 0 0-1 4-1 0-1 8-7 0-2 2-1 0-2 2-1 0-2 2-1 0-2 2-1 0-2 2-1 2-4 6-3 2 0 0 1 2 0 0 1 4 2 4 6 2 0 0 1 2 1 4 0 2-1 0-2 2-1 0-2 2-3 0-2 2-4 0-3 2-4 0-5 2-4 0-5 2-5 0-5 2-4 0-5 2-4 0-3 4-8 4 1 0 2 2 2 0 2 4 6 0 3 2 2 0 2 2 2 0 2 2 1 0 2 4 5 0 2 4 6 0 3 2 2 0 2 2 2 0 2 2 2 0 2 2 1 2 3 8 1 4 2 0 2 2 1 0 2 2 1 0 2 2 2 0 2 2 2 0 2 6 9 2 0 0 1 8 3 18 0"/>
<path d="M556 190l4 0 0-1 2 0 0-1 2 0 0-1 2 0 0-1 4-2 0-1 8-7 0-2 2-1 4-7 2-1 0-2 2-1 0-2 2-1 0-2 2-1 2-4 2-1 0-1 2-1 2-3 4-2 0-1 4-1 10 0 0 1 4 0 0 1 12 0 0-1 4 0 0-1 8-1 0-1 4 0 0 1 4 0 0 1 2 0 2 3 2 0 4 6 4 3 2 4 4 3 0 2 2 1 0 1 2 1 0 1 2 1 2 3 2 0 0 1 6 4 0 1 2 0 0 1 4 2 0 1 2 0 0 1 2 0 0 1 8 4 2 0 0 1 2 0 0 1 10 2"/>
<path d="M556 187l2-1 0-1 2 0 0-1 2-1 2-3 4-2 0-1 4-2 2 0 0-1 4 0 0-1 2 0 6-4 4-6 0-2 2-2 0-3 2-2 0-3 2-2 0-3 2-3 0-3 2-3 0-2 2-3 2-7 2-2 0-2 2-1 2-3 2-1 4 0 0 1 2 0 0 1 4 2 0 1 2 1 2 3 2 0 2 3 4 2 0 1 2 1 2 3 2 0 2 4 4 3 0 2 2 1 0 2 2 1 0 2 2 1 0 2 4 5 0 2 4 5 0 2 2 1 2 4 2 1 0 1 2 1 2 3 4 2 0 1 2 0 0 1 2 0 0 1 2 0 0 1 2 0 0 1 2 0 0 1 2 0 0 1 2 0 0 1 2 0 0 1 6 1 0 1 4 0 2 1 20 0"/>
<path d="M556 189l2 1 2 0 0-1 8 0 0-1 4 0 8-2 0-1 4 0 0-1 6-1 0-1 2 0 0-1 4-1 0-1 2-1 0-1 2 0 0-1 2-1 0-2 4-3 0-2 2-1 0-2 2-1 0-2 4-5 0-2 4-5 0-2 2-1 0-2 4-6 2-1 0-1 2-1 2-3 2 0 0-1 8 0 8 3 14 0 8 3 0 1 6 5 4 6 0 2 2 1 0 2 2 2 0 2 2 1 0 2 2 2 0 2 10 15 2 1 2 3 4 2 0 1 4 1 0 1 4 0 0 1 6 0 0 1 2 0"/>
<path d="M556 188l10 0 0-1 4-1 0-1 8-7 10-15 0-2 2-2 0-2 2-2 0-2 4-6 0-3 2-2 0-2 2-2 0-2 2-2 0-2 2-2 0-2 2-1 0-2 2-1 0-1 2 0 0-1 6 0 0 1 2 0 0 1 8 4 0 1 2 0 0 1 2 0 0 1 4 1 0 1 4 2 0 1 2 0 2 3 6 4 2 4 2 1 2 3 0 2 2 1 0 2 2 2 0 2 2 2 0 2 2 2 0 2 2 2 0 2 2 1 0 2 2 2 0 2 2 1 0 2 2 1 2 3 4 2 2 0 0 1 4 0 0-1 4 0 0-1 4 0 0-1 4-1 8 0 0 1 4 0 0 1 2 0 0 1 12 3"/>
<path d="M556 191l6-1 12-7 0-1 6-5 0-2 4-3 0-2 2-1 2-4 2-1 0-2 2-1 0-2 2-1 0-2 2-1 0-2 2-1 0-2 2-1 0-2 2-1 0-2 2-1 0-2 2-1 0-2 2-1 2-4 2-1 2-3 2 0 0-1 6 0 6 4 0 2 2 1 2 4 2 1 0 2 2 1 0 2 2 1 0 1 2 1 2 3 4 2 6 0 0-1 2 0 0-1 2 0 0-1 2 0 0-1 4-2 6 0 2 1 0 1 2 0 0 1 2 1 0 2 2 1 0 2 2 1 0 2 2 1 0 2 6 9 0 2 2 1 0 2 2 1 0 2 2 1 4 6 2 0 0 1 6 3 2 0 0 1 6 0 0 1 10 0"/>
<path d="M556 184l6 0 0 1 8 2 0 1 4 0 0-1 4-1 2-4 2-1 0-2 4-6 0-3 2-2 0-2 2-3 0-2 2-2 0-2 2-2 0-2 2-1 0-2 2-1 0-1 4-2 0-1 2 0 0-1 4-3 2-3 0-2 2-2 0-2 2-2 0-3 2-2 0-2 2-3 0-2 2-2 0-2 2-1 0-2 4-1 4 3 0 2 4 6 0 3 2 2 0 3 2 3 0 2 2 2 0 3 4 6 2 1 0 1 2 0 0 1 6 0 6 3 0 2 2 1 0 2 2 2 0 2 2 2 0 2 2 2 0 2 2 2 0 2 2 1 0 2 2 1 0 2 2 1 0 1 2 0 0 1 2 0 0 1 8 1 0 1 2 0 0 1 2 0 0 1 2 0 0 1 2 0 0 1 2 0 0 1 2 0 0 1 8 1 0 1 14 0"/>
<path d="M556 192l14-1 0-1 2 0 6-3 0-1 2 0 0-1 8-7 2-4 2-1 0-2 2-2 0-2 2-2 0-2 4-8 0-3 2-4 0-3 4-11 0-4 2-3 0-4 2-3 0-4 2-3 2-7 2-1 2-3 2 0 4 3 4 6 0 2 2 1 0 2 6 9 2 1 0 2 6 4 2 3 2 0 0 1 4 3 0 2 2 1 2 3 0 2 2 2 0 2 4 6 0 3 2 2 0 2 2 2 0 2 8 11 2 0 0 1 4 2 2 0 0 1 2 0 0 1 2 0 0 1 2 0 0 1 2 0 0 1 2 0 0 1 2 0 0 1 2 0 0 1 10 2 16 0"/>
<path d="M556 188l4-1 0-1 4-2 0-1 2 0 0-1 2-1 2-3 2 0 0-1 2-1 0-1 2-1 0-1 2-1 0-1 2-1 0-1 2-1 0-1 2-1 0-1 2-1 0-1 2-1 0-1 2-1 2-3 2 0 2-3 2 0 0-1 10-5 2 0 0-1 4 0 0-1 8-1 0-1 4 0 0-1 4 0 8-2 14 0 4 1 0 1 2 0 0 1 4 2 2 3 2 0 2 4 6 5 0 2 4 3 0 2 6 5 2 4 2 1 2 3 2 0 0 1 6 4 0 1 2 0 0 1 6 3 2 0 0 1 8 2 6 0"/>
<path d="M556 188l12-7 0-1 6-5 0-2 4-3 6-9 2-1 0-1 2-1 0-1 2-1 2-3 4-2 0-1 10-1 0 1 2 0 12 6 6 1 4-1 0-1 2 0 0-1 2 0 0-1 2-1 0-1 2-1 0-1 2-1 0-1 2-1 2-3 4-2 0-1 8-3 0 1 2 0 4 2 0 1 6 5 0 2 2 1 0 2 2 1 0 2 4 5 0 2 2 1 0 2 2 1 0 2 2 1 0 2 2 1 0 2 2 1 0 1 2 1 0 1 2 1 2 3 8 4 4 1 18 1"/>
<path d="M556 186l2-1 0-1 2-1 0-1 2-1 2-3 2 0 0-1 6-3 6-1 0-1 4-1 0-1 4-3 0-2 2-1 2-3 0-2 2-1 0-2 4-5 0-2 2-2 0-2 2-1 0-2 2-2 0-2 2-1 0-2 2-2 0-2 2-1 0-2 2-1 0-2 2-1 0-2 2-1 0-1 6-3 2 0 0 1 2 0 0 1 2 0 0 1 2 1 2 4 2 1 0 2 2 1 0 2 2 1 6 9 10 6 2 3 2 0 0 2 2 1 4 6 0 2 2 1 0 2 2 2 0 2 2 2 0 2 2 2 0 2 2 2 0 2 2 1 0 2 2 1 0 1 2 1 2 3 2 0 0 1 2 0 0 1 4 0 2 1 32 0"/>
<path d="M556 192l8-1 0-1 2 0 0-1 2 0 0-1 4-2 0-2 2-1 4-6 0-2 2-2 0-2 2-2 0-2 2-3 0-2 2-3 0-2 2-3 2-7 2-2 2-7 2-1 0-2 2-2 0-2 2-1 2-4 2-1 0-1 2-1 2-3 6-3 6 0 0 1 6 5 0 2 4 5 0 2 2 2 0 2 2 2 0 2 2 2 0 2 2 2 0 2 2 1 0 2 2 1 2 4 2 0 0 1 6 3 2 0 0 1 2 0 10 5 0 1 2 0 2 3 2 0 0 1 4 2 0 1 2 0 0 1 4 2 0 1 2 0 0 1 2 1 0 1 2 0 2 3 2 0 0 1 10 5 8 1 0 1 12 0"/>
<path d="M556 192l14-1 0-1 2 0 8-5 2-4 2-1 0-2 2-2 0-2 2-2 0-2 2-2 0-2 4-8 0-3 2-3 0-3 2-2 0-3 2-3 0-3 2-2 0-3 2-2 0-3 2-2 0-2 2-1 0-2 2-1 0-1 2 0 0-1 4 1 0 1 4 3 0 2 2 2 0 2 2 2 0 2 2 2 0 2 2 2 0 2 6 9 4 2 2 0 6-3 0-1 2-1 2-3 6-3 2 0 4 2 0 1 4 3 2 4 2 1 0 2 8 12 2 1 0 2 4 3 0 2 2 1 0 1 2 1 0 1 2 1 2 3 2 0 2 3 10 5 2 0 0 1 14 1"/>
<path d="M556 189l6-1 0-1 8-2 0-1 2 0 0-1 4-1 0-1 6-4 0-2 2-1 0-2 2-1 0-2 4-6 0-3 2-2 0-3 4-8 0-3 2-2 0-3 2-3 2-7 4-6 0-2 2-1 0-1 2-1 2-3 8 0 0 1 4 2 0 1 6 5 2 4 2 1 2 4 2 1 0 2 2 1 10 15 0 2 2 1 0 2 2 1 0 2 6 9 2 1 0 2 2 1 0 1 2 1 2 3 2 0 0 1 12 6 2 0 0 1 2 0 0 1 2 0 0 1 6 1 0 1 10 1 0 1 18 0"/>
<path d="M556 184l2 0 0-1 2-1 0-1 10-9 2-4 2-1 0-1 2-1 2-3 4-2 2-3 2 0 0-1 4-2 0-1 10-3 8 0 0-1 4 0 0-1 2 0 0-1 2 0 0-1 4-2 0-1 6-5 2-4 6-4 0-1 2 0 0-1 6 0 6 4 0 2 2 1 2 3 0 2 2 1 0 2 2 2 0 2 2 1 0 2 2 2 0 2 2 2 0 2 2 1 0 2 8 12 2 1 0 2 2 1 0 1 2 1 2 3 4 2 0 1 8 4 2 0 0 1 4 1 6 0 0 1 18 0"/>
<path d="M556 184l8 1 0 1 8 2 0 1 4 0 0-1 2 0 4-2 0-1 4-3 0-2 2-1 0-2 2-2 0-2 2-2 0-2 2-2 0-2 4-6 0-3 2-1 0-2 2-2 0-2 2-1 0-2 2-1 2-3 2 0 2-3 2 0 0-1 6-5 0-2 2-1 0-2 2-2 0-2 2-1 0-2 2-2 0-2 2-3 2-1 0-2 4-2 4 0 0 1 4 3 4 6 0 2 2 2 0 2 2 2 0 2 4 6 0 3 2 2 0 2 4 8 0 3 2 2 0 3 2 2 0 3 2 2 0 2 2 2 0 2 2 2 0 2 2 2 0 2 2 1 2 4 2 1 2 3 2 0 0 1 2 0 0 1 2 0 0 1 4 0 2 1 28 0"/>
<path d="M556 192l26 0 6-3 6-12 0-3 2-4 0-3 2-4 2-10 2-2 0-3 2-1 0-1 2-1 0 1 2 0 2 3 0 2 2 1 0 2 2 1 0 2 2 0 0 1 2-1 2-3 0-3 2-4 0-4 2-6 0-5 2-6 0-7 2-6 0-6 2-6 0-6 2-5 0-4 2-4 0-3 2-3 2 0 4 8 0 4 2 4 0 5 2 5 0 5 2 5 0 5 2 5 0 4 2 4 0 3 4 6 8 0 2 3 0 2 2 3 0 3 2 3 0 4 2 4 0 4 2 4 0 4 2 3 0 3 2 3 0 2 2 2 0 2 2 1 0 1 4 1 0 1 36 0"/>
<path d="M556 184l6 0 8-2 0-1 2 0 6-3 0-1 2 0 0-1 6-5 2-4 2-1 4-7 2-1 0-2 2-1 0-2 4-3 0-2 2-1 2-3 4-2 0-1 10-5 2 0 0-1 2 0 0-1 6-1 0-1 10 0 0 1 2 0 2 1 0 1 2 0 0 1 6 5 2 4 2 1 2 4 2 1 0 2 2 1 2 4 2 1 0 2 6 5 2 4 2 1 2 3 4 2 0 1 2 1 2 3 2 0 2 3 2 0 0 1 8 4 2 0 0 1 4 0 0 1 6 0 2 1 8 0"/>
<path d="M556 182l4-2 2 0 0-1 8-2 6 0 0-1 8-2 0-1 4-2 0-1 6-5 2-4 2-1 2-4 2-1 0-2 2-1 2-4 2-1 0-2 4-3 0-2 2-1 2-3 4-2 0-1 4-2 0-1 2 0 0-1 6-1 0-1 4 0 4 1 0 1 2 0 0 1 6 4 0 2 2 1 6 9 0 2 2 1 0 2 4 5 0 2 2 1 0 2 2 1 0 2 2 1 0 2 2 1 0 1 2 1 0 1 2 1 0 1 2 1 2 3 2 0 0 1 6 3 2 0 0 1 2 0 0 1 6 1 0 1 8 2 0 1 6 1 0 1 4 0 0 1 6 0 2 1"/>
<path d="M556 192l12 0 4-1 4-2 0-1 6-5 8-12 0-2 2-2 0-2 4-8 0-3 2-2 0-3 2-2 0-3 4-6 6-4 0-2 2-2 0-3 2-3 0-3 2-4 0-4 2-3 0-4 2-3 0-3 2-3 2-1 2 0 0 1 2 1 2 3 4 2 2 0 0 1 2 0 2 1 0 1 2 0 0 2 2 1 0 2 2 2 0 3 2 3 0 3 2 3 0 4 2 4 0 4 2 4 0 4 2 5 0 4 2 5 0 4 2 4 0 4 2 3 0 3 2 3 0 2 2 2 0 2 2 1 0 2 2 0 0 1 4 1 0 1 48 0"/>
<path d="M556 192l10 0 0-1 4 0 0-1 2 0 0-1 4-1 0-1 2-1 0-1 10-9 2-4 2-1 0-2 2-1 4-7 2-1 0-2 4-3 0-2 2-1 2-3 0-2 2-1 0-3 2-2 0-3 2-2 0-3 2-3 0-4 2-3 0-3 2-3 0-3 2-2 0-3 2-2 0-2 2-1 0-2 2 0 0-1 4 0 0 1 2 0 2 4 2 1 0 2 2 2 0 2 4 6 0 3 2 2 2 7 2 2 0 3 2 2 0 2 6 9 2 1 0 1 4 3 0 2 4 3 0 2 4 5 0 2 2 2 0 2 2 2 0 2 2 2 0 2 2 1 0 2 2 1 0 2 2 1 0 1 10 4 28 0"/>
<path d="M556 192l12 0 8-2 0-1 2 0 0-1 6-5 0-2 4-5 0-2 2-3 0-2 6-13 0-3 2-2 0-3 2-3 0-2 2-2 0-2 2-2 0-2 2-1 0-2 4-2 0-1 16 0 0-1 8-2 0-1 6 0 0 1 2 0 0 1 6 5 0 2 2 1 4 6 0 2 2 1 0 2 2 1 0 2 2 1 2 4 2 1 0 2 2 1 6 9 2 1 0 1 2 1 0 1 2 1 0 1 2 1 2 3 4 2 0 1 2 0 0 1 2 0 0 1 2 0 0 1 10 3 0 1 2 0 0 1 6 1 0 1 4 1 6 0 0 1 2 0"/>
<path d="M556 192l12-2 0-1 2 0 0-1 4-1 0-1 4-2 2-3 4-2 0-1 2-1 0-2 6-5 0-2 2-1 2-4 2-1 0-2 2-1 0-2 2-1 0-2 2-1 0-2 2-1 0-2 2-1 0-2 2-1 0-2 2-1 0-2 2-1 2-4 2-1 0-2 4-3 0-2 2-1 2-3 4-2 0-1 4-1 0-1 6 0 0 1 2 0 0 1 4 3 6 9 0 2 2 2 2 7 2 2 0 3 4 6 0 3 2 2 0 2 2 2 0 2 4 6 2 1 0 2 2 0 0 1 4 2 14 2 0 1 2 0 0 1 4 2 0 1 4 2 0 1 2 0 0 1 6 3 2 0 0 1 10 1"/>
<path d="M556 186l2 0 0-1 2 0 0-1 4-1 0-1 8-4 0-1 2 0 0-1 4-1 0-1 4-2 0-1 2 0 0-1 10-9 0-2 2-1 0-2 2-1 8-13 2-1 0-1 2-1 0-1 2-1 2-3 8-1 0 1 4 1 2 3 2 0 0 1 2 1 0 1 2 1 0 1 2 1 0 1 2 1 2 3 2 0 0 1 2 1 0 1 2 0 0 1 4 1 20 0 0 1 2 0 2 1 0 1 2 0 0 1 8 7 2 4 2 1 2 4 4 3 0 2 2 1 2 3 2 0 2 3 2 0 0 1 4 2 2 0 0 1 10 1 0 1 2 0"/>
<path d="M556 189l2 0 0-1 4-1 0-1 4-2 0-1 2 0 0-1 8-5 0-1 2-1 0-1 2-1 2-3 2 0 2-3 2 0 0-1 2 0 0-1 8 0 0-1 4 0 0-1 4-1 0-1 4-3 2-4 2-1 2-4 2-1 2-4 2-1 0-2 2-1 0-2 2-2 0-2 4-6 0-2 2-3 0-2 2-3 2-7 2-2 0-2 2-2 0-2 2-1 0-1 2 0 0-1 4 2 6 13 0 3 2 4 0 3 2 4 0 3 4 11 0 4 2 3 0 3 2 3 0 4 2 3 0 2 2 3 2 7 2 2 0 2 2 1 0 2 2 1 0 1 4 3 0 1 6 3 4 0 0 1 30 0"/>
<path d="M556 191l4-1 0-1 6-1 0-1 2 0 0-1 2 0 0-1 6-1 0-1 2 0 6-3 0-1 2 0 2-4 2-1 0-2 2-2 0-2 4-6 0-3 2-2 0-3 2-3 0-2 2-3 2-7 8-12 4-2 4 0 4 2 2 0 0 1 8 0 0-1 2 0 0-1 4-2 0-1 4-2 2 0 4 2 4 6 0 2 2 2 2 7 2 2 0 3 2 3 2 7 2 2 0 3 2 2 0 2 2 2 0 2 2 2 0 2 2 1 0 2 2 3 2 1 0 2 2 1 0 1 2 1 2 3 2 0 0 1 2 0 0 1 2 0 0 1 8 1 0 1 24 0"/>
<path d="M556 192l8 0 0-1 6-1 0-1 8-7 0-2 2-1 2-4 2-1 0-1 2-1 2-3 2 0 0-1 4-2 0-1 6-5 6-9 0-2 2-1 0-2 4-6 0-3 2-2 0-3 2-3 0-3 2-3 0-3 2-3 0-3 2-3 0-3 2-3 0-3 4-6 2-1 4 0 0 1 2 1 2 3 0 2 2 2 0 2 4 8 0 3 2 4 2 10 2 3 0 4 2 3 2 7 2 2 0 2 2 2 0 2 2 1 0 2 2 1 0 2 2 1 0 2 2 1 0 2 4 5 0 2 2 2 0 2 2 1 0 2 2 1 0 2 2 1 2 3 2 0 0 1 2 0 0 1 4 0 0 1 34 0"/>
<path d="M556 192l12-1 0-1 2 0 6-3 0-1 2 0 0-1 8-7 2-4 4-3 0-2 2-1 2-4 2-1 0-2 2-1 2-3 0-2 2-1 0-2 4-5 0-2 2-2 0-2 2-2 0-2 2-2 0-2 2-1 0-2 4-6 6-3 0 1 4 1 0 1 4 3 4 7 2 1 0 2 2 1 0 1 2 1 2 3 4 2 2 0 0 1 12-2 0 1 2 0 4 2 0 1 2 0 2 4 2 1 0 2 2 1 0 2 4 5 0 2 4 5 0 2 6 9 2 1 0 1 2 1 2 3 6 3 2 0 0 1 4 0 2 1 10 0"/>
<path d="M556 192l2 0 0-1 6 0 0-1 2 0 8-4 0-1 4-2 0-1 2-1 0-1 2-1 0-1 10-9 0-2 2-1 0-2 2-1 0-2 4-6 0-2 2-3 0-2 2-3 0-2 2-3 2-7 4-6 0-2 2-3 4-3 4 0 2 1 0 1 2 1 0 1 2 1 0 1 2 1 0 1 2 1 0 1 2 1 0 1 2 1 0 1 2 1 0 1 2 1 2 3 2 0 0 1 2 1 0 1 2 1 2 3 2 0 0 1 6 4 0 1 2 0 0 1 12 6 0 1 2 0 0 1 6 5 6 9 2 1 0 2 2 1 0 1 2 1 0 1 2 1 2 3 4 2 0 1 2 0 0 1 4 1 4 0 0 1 12 0"/>
<path d="M556 191l10-1 0-1 2 0 0-1 2 0 0-1 4-1 2-3 2 0 0-1 4-3 0-2 2-1 6-9 0-2 2-1 0-2 2-2 0-2 2-2 0-2 2-2 0-2 2-2 0-2 2-2 0-2 2-2 0-2 2-1 0-2 2-1 0-2 2-1 2-3 4-1 0-1 8 1 0 1 2 0 0 1 4 1 0 1 4 2 0 1 2 0 2 3 2 0 0 1 2 1 0 1 2 1 0 1 10 9 0 2 4 3 2 4 2 1 0 1 2 1 2 3 4 2 0 1 2 0 0 1 4 0 0 1 12 0 0 1 4 0 0 1 2 0 0 1 8 5 2 3 4 2 0 1 4 2 0 1 10 3"/>
<path d="M556 192l8-2 0-1 4-1 0-1 4-2 0-1 2 0 0-1 2 0 0-1 4-2 2 0 0-1 2 0 0-1 2 0 2-3 2 0 0-1 2-1 0-2 2-1 4-6 0-2 2-1 0-2 2-2 0-3 2-2 0-2 2-3 0-3 2-2 0-3 2-3 0-3 2-3 0-3 2-3 0-3 2-3 0-2 2-2 0-2 4-3 4 0 0 1 6 4 2 3 2 0 0 1 2 0 0 1 4 2 0 2 2 1 2 3 0 2 2 2 0 2 2 2 0 2 2 2 0 2 2 2 0 2 2 2 0 2 2 2 0 2 2 1 0 2 4 5 0 2 6 9 0 2 2 2 0 2 4 6 2 1 0 2 2 0 2 3 8 1 4-1 6-3 0-1 4-1 0-1 6-1 4 1 0 1 2 0 0 1 2 0 0 1 2 0 0 1 2 1"/>
<path d="M556 190l2 0 8-4 0-1 2 0 0-1 4-2 0-1 2 0 0-1 4-2 0-1 2 0 0-1 4-2 0-1 2 0 0-1 8-7 6-10 2-1 0-2 2-1 0-2 2-1 2-3 4-2 0-1 2 0 0-1 2 0 0-1 2 0 4-2 0-1 2 0 0-1 2-1 0-1 2-1 0-1 2-1 0-1 2-1 0-1 2-1 2-3 2 0 0-1 2 0 0-1 4 0 0 1 2 0 0 1 4 2 0 1 2 1 0 2 2 1 2 4 2 1 0 2 2 1 0 2 2 1 0 2 2 1 0 2 4 5 0 2 2 2 0 2 2 1 0 2 2 2 0 2 2 2 0 2 4 5 0 2 2 1 0 2 2 1 0 2 2 1 0 1 2 1 2 3 2 0 0 1 2 0 0 1 8 1 0 1 20 0"/>
<path d="M556 192l30 0 0-1 2 0 4-2 0-1 4-3 0-2 2-1 0-2 2-2 0-2 6-9 0-2 2-3 0-2 2-3 0-3 2-4 0-4 2-5 0-5 2-6 0-6 2-7 0-7 2-7 0-6 2-7 0-6 2-5 0-5 2-4 0-3 2-3 2-1 4 8 0 4 2 4 0 4 2 5 0 5 2 5 0 5 2 6 0 5 2 5 0 6 2 5 0 5 2 5 0 4 2 4 0 3 2 3 0 3 2 3 2 1 0 2 2 0 0 1 2 1 2 3 4 1 4-2 0-1 2-1 2-3 4-1 0 1 2 0 0 2 4 6 0 2 2 3 2 7 2 2 0 2 2 1 2 3 4 1 0 1 24 0"/>
<path d="M556 187l4-1 0-1 22 1 0-1 4-2 6-9 0-2 2-2 0-3 2-2 0-3 2-2 0-3 2-2 0-3 2-2 0-3 2-2 0-3 2-2 0-2 2-2 0-2 2-1 0-2 2-1 0-1 6-3 2 0 0-1 6-1 0-1 4-1 0-1 4-2 0-1 8-1 0 1 2 0 0 1 2 1 6 9 0 2 4 6 2 7 4 6 2 7 2 2 0 2 2 2 0 2 2 2 0 2 2 1 0 2 6 9 2 1 0 1 2 1 2 3 6 3 2 0 0 1 4 0 2 1 24 0"/>
<path d="M556 192l12 0 0-1 8-1 0-1 2 0 0-1 6-4 2-4 2-1 0-2 2-1 0-2 2-1 0-2 2-2 0-2 2-2 0-2 4-6 0-3 4-6 0-3 2-2 2-7 2-2 0-2 2-2 0-2 2-2 0-2 2-1 0-2 2-1 0-2 2-1 2-3 6-3 6 0 0 1 2 0 0 1 4 3 0 2 2 1 0 2 2 2 0 2 4 6 0 3 2 2 0 3 4 8 0 3 2 2 0 3 2 3 0 2 2 2 0 2 2 2 0 2 2 1 0 2 2 1 0 1 2 0 0 1 2 0 0 1 6 0 0 1 2 0 6 3 0 1 2 0 0 1 2 1 2 3 2 0 0 1 4 2 2 0 0 1 6 0 4-1 0-1 6-1 0-1 8 0"/>
<path d="M556 192l14 0 0-1 4 0 0-1 2 0 2-1 0-1 2 0 0-1 2-1 0-1 2-1 0-1 2-1 0-1 2-1 0-1 2-1 0-1 2-1 0-1 2-1 2-3 2 0 0-1 4-3 0-2 2-1 2-3 0-2 2-2 0-2 2-3 0-3 2-3 0-3 2-4 0-4 2-3 0-4 2-3 0-3 2-3 0-3 2-2 0-2 2-1 2-3 2 0 0-1 4-1 8-12 4 0 2 3 0 3 2 3 0 3 2 5 0 4 2 5 0 5 2 5 0 5 2 5 0 5 2 5 0 4 2 4 0 4 2 3 0 2 2 2 0 2 4 3 8-2 0 1 4 1 0 1 4 3 0 2 2 1 2 4 2 1 2 3 2 0 0 1 2 0 0 1 4 0 0 1 22 0"/>
<path d="M556 192l14 0 4-1 6-3 0-1 2 0 2-4 2-1 4-6 0-2 2-1 0-2 2-2 0-2 6-9 0-3 2-2 0-2 4-8 0-3 2-3 0-4 2-3 0-4 2-4 0-4 2-4 0-4 2-4 0-4 2-4 0-3 2-3 0-3 2-3 2-1 0-1 4 3 0 2 2 3 0 2 2 4 0 3 2 3 0 4 2 3 0 3 2 3 0 3 2 3 2 7 2 2 0 2 2 2 0 2 2 2 0 2 2 2 0 2 2 2 0 2 2 2 0 2 2 2 0 2 2 2 0 2 2 1 0 2 2 2 0 2 2 2 0 2 2 1 0 2 2 3 2 1 0 2 2 1 0 1 4 1 0 1 4 0 0-1 10-2 4 1 0 1 2 0 0 1 2 0 0 1 2 0 0 1 2 0 0 1 2 0 0 1 8 2 10 0"/>
<path d="M556 188l4-1 0-1 2 0 0-1 2 0 0-1 2 0 0-1 2 0 0-1 2 0 0-1 2 0 0-1 4-2 0-1 4-3 2-4 2-1 0-2 2-1 4-7 2-1 0-1 2-1 0-1 2-1 2-3 2 0 0-1 4-2 0-1 2 0 2-3 4-2 0-1 2-1 0-2 2-1 0-1 2-1 2-3 4-2 0-1 4-1 0-1 6 0 0 1 2 0 0 1 6 5 0 2 2 1 0 2 2 1 0 2 2 1 0 2 2 1 2 4 2 0 0 1 6 3 8 1 0 1 4 2 2 4 2 1 0 2 2 1 0 2 2 1 0 2 2 1 0 2 2 1 0 2 2 1 2 4 2 1 2 3 4 2 0 1 12 3 14 0"/>
<path d="M556 189l6-1 0-1 2 0 0-1 12-3 4 0 0-1 2 0 0-1 4-1 0-1 4-3 6-9 0-2 2-2 0-2 4-6 0-3 2-2 0-2 2-2 2-7 2-2 0-2 2-2 0-2 2-1 0-2 2-1 0-1 2-1 2-3 2 0 0-1 4-1 4 0 0 1 8 1 0 1 2 0 4 2 0 1 2 0 0 1 4 3 2 4 2 1 0 2 2 1 0 2 2 2 0 2 2 1 0 2 2 2 0 2 2 2 0 2 2 2 0 2 4 5 0 2 2 1 0 2 2 1 0 2 2 1 0 1 2 1 0 1 2 1 0 1 2 1 2 3 2 0 2 3 2 0 0 1 2 0 0 1 2 0 0 1 2 0 0 1 2 0 0 1 10 1 0 1 14 0"/>
<path d="M556 188l2-1 4 0 0-1 14 0 2-1 4 0 0-1 2 0 4-2 0-1 8-7 0-2 2-1 0-2 2-1 0-2 2-1 0-2 8-12 2-1 0-2 4-3 0-2 2-1 2-3 2 0 2-3 2 0 0-1 4-1 0-1 4-1 8 0 12 3 0 1 2 0 8 4 0 1 2 0 0 1 8 7 2 4 2 1 0 2 2 1 4 7 2 1 0 2 2 1 0 2 2 1 2 4 2 1 2 4 2 1 2 3 2 0 2 3 2 0 0 1 2 0 0 1 2 0 0 1 4 0 0 1 6 0 0 1 2 0"/>
<path d="M556 192l10-1 8-4 0-1 8-7 2-4 2-1 0-2 2-1 2-4 2-1 2-4 2-1 0-2 2-1 0-2 2-1 0-2 2-1 0-2 2-2 0-2 2-2 0-2 4-6 0-3 4-5 0-2 2-3 2-1 2-3 4-2 8 1 0 1 2 0 2 3 2 0 0 1 4 3 10 15 0 2 2 2 0 2 2 2 0 2 2 2 0 2 2 2 0 2 2 2 0 2 2 2 0 2 6 9 2 1 0 2 4 2 0 1 8 1 6-2 4 0 0-1 6 0 0 1 4 0 0 1 2 0 10 5 0 1 2 0 4 2"/>
<path d="M556 192l2-1 4 0 0-1 4 0 0-1 2 0 0-1 2 0 0-1 2 0 0-1 4-2 0-1 10-9 2-4 2-1 0-2 2-1 8-13 2-1 0-2 2-1 0-1 2-1 0-1 2-1 0-1 2-1 2-3 4-2 0-1 8-2 0-1 8 0 0-1 10-1 0-1 8-2 0-1 4 0 6 3 6 9 0 2 2 2 0 3 2 2 0 2 2 3 0 2 2 2 0 3 2 2 0 2 2 3 0 2 2 2 0 2 4 5 0 2 2 1 0 1 2 1 0 1 2 1 2 3 2 0 0 1 4 1 4 0 0 1 20 0"/>
<path d="M556 185l4-2 0-1 2 0 2-3 2 0 0-1 2-1 0-1 10-9 2-4 4-3 0-2 4-3 0-2 6-5 0-2 2-1 0-1 2-1 0-1 2-1 0-1 2-1 2-3 4-2 0-1 10-5 8-1 4 1 0 1 2 0 0 1 6 5 6 9 0 2 2 1 0 2 4 5 0 2 2 1 0 2 2 3 2 1 0 2 2 1 0 1 2 1 0 1 2 1 2 3 2 0 0 1 4 1 0 1 2 0 0 1 4 0 0 1 6 1 0 1 2 0 0 1 2 0 0 1 2 0 0 1 2 0 0 1 2 0 0 1 2 0 0 1 2 0 0 1 2 0 0 1 2 0 0 1 6 1 0 1 16 1"/>
<path d="M556 192l8-1 8-2 0-1 8-2 0-1 4 0 0-1 8-1 0-1 2 0 0-1 4-2 8-11 0-2 2-2 0-2 2-2 0-2 4-5 0-2 2-1 0-2 2-1 0-1 2-1 2-3 2 0 0-1 2 0 0-1 2 0 0-1 2 0 0-1 4-2 0-1 4-3 6-10 2-1 0-2 2-1 2-3 4-1 0 1 2 0 0 1 4 3 0 2 2 1 0 2 4 6 0 3 2 2 0 2 2 2 2 7 2 1 0 2 2 2 0 2 2 1 0 2 2 1 0 2 2 1 0 2 2 1 4 7 2 1 0 2 2 1 0 2 4 3 0 2 2 1 0 1 2 1 2 3 2 0 0 1 4 2 2 0 0 1 12 1"/>
</g>
<path d="M556.5 189.2L557.7 188.5 559.4 187.5 561.4 186.3 563.3 185.1 565.0 184.0 567.0 182.6 568.7 181.3 570.9 179.6 572.2 178.6 573.6 177.4 575.2 176.1 576.9 174.8 578.5 173.5 580.1 172.2 581.5 171.1 583.3 169.7 585.0 168.5 586.6 167.4 588.3 166.2 590.0 164.8 591.5 163.5 593.1 162.1 594.7 160.7 596.3 159.2 597.9 157.7 599.6 156.3 601.1 155.0 602.6 153.7 604.2 152.4 605.8 151.1 607.3 149.9 608.8 148.8 610.2 147.8 612.1 146.6 613.9 145.6 615.6 144.8 617.2 144.1 618.7 143.5 620.7 142.7 622.4 142.2 624.0 142.0 625.7 141.9 627.5 142.1 629.3 142.5 630.9 143.1 632.6 143.9 634.2 144.8 635.7 145.7 637.6 147.1 640.0 148.9 641.4 149.8 643.0 150.8 644.8 151.8 646.7 152.9 648.4 153.9 649.9 154.6 652.1 155.6 653.9 156.1 655.8 156.3 657.5 156.3 659.2 156.2 661.0 155.9 662.7 155.6 664.4 155.2 666.2 154.8 667.9 154.4 669.6 154.1 671.6 154.0 673.6 154.2 675.5 154.6 677.5 155.3 679.4 156.3 681.4 157.6 683.4 159.2 685.3 161.1 687.3 163.0 689.3 164.9 691.2 166.8 693.2 168.9 695.2 171.1 697.1 173.5 699.1 175.8 701.1 178.2 703.0 180.5 705.0 182.7 707.0 184.6 708.9 186.2 710.9 187.6 712.9 188.8 714.9 189.8 716.8 190.6 718.8 191.2 720.7 191.6 722.0 191.8" fill="none" stroke="#011f4b" stroke-width="2.5" stroke-linejoin="round" shape-rendering="crispEdges"/>
<path d="M556.5 33V193.5H722" fill="none" stroke="#000" stroke-width="1.1"/>
<path d="M570.5 194v3M598.5 194v3M627.5 194v3M655.5 194v3M684.5 194v3M713.5 194v3" stroke="#333" stroke-width="1"/>
<text transform="translate(570.1 211) scale(0.84 1)" class="tk">30</text>
<text transform="translate(598 211) scale(0.84 1)" class="tk">40</text>
<text transform="translate(627 211) scale(0.84 1)" class="tk">50</text>
<text transform="translate(655.2 211) scale(0.84 1)" class="tk">60</text>
<text transform="translate(683.9 211) scale(0.84 1)" class="tk">70</text>
<text transform="translate(713.1 211) scale(0.84 1)" class="tk">80</text>
<text x="556" y="20.6" class="ti">Colegio 3</text>
<path d="M748 112h20" stroke="#011f4b" stroke-width="2"/>
<path d="M748 135.5h19" stroke="#b3cde0" stroke-opacity="0.7" stroke-width="1"/>
<text x="777" y="116" class="ly">y</text>
<text x="777" y="137.8" class="ly">y</text><text x="786" y="141" class="lr">rep</text>
<g fill="none" stroke="#b3cde0" stroke-opacity="0.7" stroke-width="1" shape-rendering="crispEdges" transform="translate(0.5 0.5)">
<path d="M829 188l7-1 1-1 3 0 1-1 5-1 11-10 20-36 4-11 3-16 7-67 2-10 1-1 3 16 6 60 2 13 3 10 2 3 7 3 3 0 6 3 30 32 10 6 2 0 3 2 2 0 3 2 2 0 3 2 2 0 3 2 2 0 7 3"/>
<path d="M829 184l20-10 2-2 6-3 12-11 1 0 14-14 2-4 4-16 7-70 3-17 2 4 1 7 7 66 4 17 4 4 6 0 1 1 4 0 4 2 7 7 18 29 4 5 6 5 7 4 2 0 4 2 14 2"/>
<path d="M829 192l20 0 1-1 3 0 3-2 3-4 4-8 8-25 4-9 3-3 7-2 3-3 3-6 5-17 7-39 2-8 2-3 1 0 3 8 8 34 10 33 7 15 13 23 6 6 20 10 4 0 1 1 15 0"/>
<path d="M829 191l3 0 5-3 12-13 5-2 3 0 4-2 9-10 6-11 11-40 5-13 2-3 2-1 4 0 3 2 4 5 2 1 2-2 3-8 4-19 2-4 1 1 2 8 9 83 4 13 1 1 4 0 6-4 4 0 4 3 5 8 7 8 7 3 21 0"/>
<path d="M829 188l6-3 5-1 8 4 6 1 1-1 2 0 5-5 14-19 4-9 5-19 7-35 3-12 3-7 2-2 2 1 5 11 4 13 2 4 3 2 2-4 6-27 1-3 1 0 1 1 2 8 6 46 3 15 2 6 14 28 6 8 7 3 28 0"/>
<path d="M829 192l8 0 1-1 5-1 8-9 7-7 4-2 5-6 6-14 8-14 3-8 10-50 2-7 2-3 2 1 2 6 9 46 5 16 3 4 6 0 2-1 4 3 4 7 9 23 5 10 5 5 5 2 36 0"/>
<path d="M829 192l1-1 9-1 7-4 12-13 18-30 5-6 7-4 8 0 1 1 10 1 1 1 13 1 1 1 8 1 6 3 9 9 14 22 9 11 4 3 7 3 14 0 2-1"/>
<path d="M829 192l1-1 7-1 10-5 4-3 6-1 1-1 6 0 1-1 2 0 5-5 5-10 10-28 6-11 5-4 2 0 7-3 4-4 6-4 4 0 2 1 6 8 20 49 6 10 7 6 8 1 1 1 4 0 10 4 9 1 1 1"/>
<path d="M829 192l10 0 1-1 6-1 5-3 7-7 7-10 18-38 4-5 6-3 6-6 7-12 4-4 3 0 2 2 5 11 8 23 5 10 23 32 8 7 9 4 4 0 1 1 17 0"/>
<path d="M829 192l10 0 1-1 5-1 3-2 12-13 5-10 4-12 17-60 1-2 5-4 7 2 4 4 5 13 6 24 6 18 3 5 9 9 12 18 9 9 7 3 35 0"/>
<path d="M829 186l12-5 10 0 6-4 7-14 11-35 4-8 4-3 2 1 7 8 7 6 2 0 4-2 10-11 5 0 3 3 4 8 14 39 4 8 4 6 4 4 5 3 2 0 1 1 5 0 1 1 28 0"/>
<path d="M829 191l10-3 6-4 4-4 10-14 7-13 11-15 8-5 2 0 4-2 3 0 1-1 3 0 4-2 10 0 6 3 14 14 23 32 10 9 5 1 1 1 8 0 1-1 11 0 1 1 3 0"/>
<path d="M829 192l13 0 1-1 2 0 4-2 7-6 7-3 4-5 8-18 2-3 7-6 3-5 6-16 5-20 5-26 3-12 2-4 2 0 1 2 3 10 8 37 10 26 12 38 5 10 2 2 5 2 39 0"/>
<path d="M829 190l5-3 6-6 12-18 7-8 11-5 5-5 13-25 4-4 3-1 4 2 12 13 1 0 11 10 6 9 10 19 4 6 6 6 6 3 11 3 3 2 2 0 7 3 5 0 1 1 11 0"/>
<path d="M829 189l5-1 10-5 2-2 4-2 2 0 14-7 9-9 19-29 10-9 4-2 8-1 11 4 8 8 7 11 9 17 9 13 5 5 12 8 2 0 3 2 3 0 1 1 6 0 1 1 2 0"/>
<path d="M829 186l6 0 2-1 7-7 14-21 4-2 3 0 8 4 5 0 3-3 4-8 12-36 5-6 4 3 4 8 8 21 6 10 3 3 7 4 6 6 5 7 10 10 21 11 2 0 4 2 5 0 1 1 7 0"/>
<path d="M829 189l5-2 3 0 1-1 6 0 1 1 4 0 1 1 4 0 2 1 1-1 3 0 5-4 6-10 17-48 5-10 5-5 6 0 6 3 3 3 15 10 9 9 8 15 10 24 4 7 7 7 4 2 4 0 1 1 20 0"/>
<path d="M829 191l4 0 14-6 11-9 3-4 6-12 11-31 6-13 5-5 3 0 9 8 6 8 10 10 21 14 7 9 11 18 7 8 7 4 7 1 1 1 17 0"/>
<path d="M829 192l13 0 1-1 3 0 4-2 5-5 5-8 19-37 11-29 4-8 5-4 3 1 5 6 4 8 12 32 6 10 3 2 10 2 7 7 12 17 7 6 5 2 3 0 1 1 18 0"/>
<path d="M829 192l9-1 6-3 7-7 12-17 4-3 10-3 3-3 15-30 5-5 5 0 8 4 14 0 2 1 6 7 7 15 6 16 7 13 7 7 8 4 2 0 3 2 6 1 1 1 13 1"/>
<path d="M829 192l10 0 10-4 12-13 8-14 17-52 6-12 2-3 3-2 2 0 4 4 13 29 17 26 10 23 7 12 3 3 8 3 34 0"/>
<path d="M829 189l9-4 8-6 7-7 1 0 22-26 7-4 5-1 6-3 13-11 2-1 6 0 5 4 16 25 6 6 6 3 3 0 9 5 18 18 9 4 5 0 1 1 2 0"/>
<path d="M829 192l13-3 10-5 4-3 8-10 13-25 5-7 12-8 13-16 4-3 4 0 4 3 4 6 14 28 7 11 7 9 14 14 6 3 2 2 2 0 3 2 8 1 1 1 8 0"/>
<path d="M829 192l7 0 1-1 3 0 1-1 2 0 4-3 4-5 11-19 14-15 13-23 3-3 9-5 9-9 2-1 3 1 4 5 14 39 6 12 3 4 22 19 8 4 4 0 1 1 18 0"/>
<path d="M829 192l8 0 1-1 3 0 7-4 6-8 10-17 4-4 8-4 7-7 7-11 5-6 10-10 1-2 6-5 2 0 4 4 13 34 6 9 6 3 4 0 5 2 4 0 7 3 19 20 6 3 7 1"/>
<path d="M829 192l11 0 1-1 7-1 9-6 10-10 5-8 10-21 14-15 10-25 4-8 2-2 3 0 2 2 3 6 12 31 17 39 5 9 7 6 6 0 4-2 7-1 1 1 3 0 3 2 2 0 3 2 5 1"/>
<path d="M829 192l8-1 9-4 14-12 11-7 7-7 10-18 11-25 4-6 3-2 4 0 6 5 14 19 15 26 7 7 11 6 17 15 7 3 8 1"/>
<path d="M829 192l11 0 1-1 3 0 6-3 4-4 4-6 29-56 6-7 4 0 2 1 9 8 3 0 1 1 1-1 4 0 1-1 5 0 5 4 7 13 13 29 7 11 6 7 5 3 6 1 1 1 22 0"/>
<path d="M829 192l7 0 1-1 3 0 6-3 5-4 4-1 3-2 2 0 6-6 11-23 3-4 5-4 4-7 10-36 3-7 2-2 4 0 13 13 7 12 5 16 9 36 4 11 5 8 8 4 36 0"/>
<path d="M829 192l2-1 4 0 4-2 7-7 9-13 12-11 4-6 20-42 5-8 4-4 5 0 2 1 6 8 7 19 10 36 6 13 6 6 10 3 7 4 2 0 6 3 4 0 1 1 23 0"/>
<path d="M829 190l7-4 7-6 2 0 1-1 4 0 8 4 6 0 2-1 9-9 7-11 27-57 2-3 4-3 3 2 4 8 9 27 6 11 14 12 13 18 9 9 10 5 3 0 1 1 8 0"/>
<path d="M829 190l4-2 10-10 6-8 6-6 6-4 10-3 8-5 14-19 6-6 7-4 2 0 1-1 5 0 6 3 7 7 8 10 7 11 14 27 7 8 6 3 4 0 1 1 21 0"/>
<path d="M829 192l1-1 7-1 7-4 13-13 17-12 5-7 13-29 2-3 6-5 5 1 14 7 7 7 16 27 12 12 33 19 8 1"/>
<path d="M829 192l5 0 1-1 6-1 14-12 5 0 2 2 6 3 3-1 3-3 6-13 18-58 4-9 5-6 5 1 3 4 11 23 15 40 7 13 5 5 2 0 1 1 12 0 5 2 8 6 6 3 8 1"/>
<path d="M829 192l7-1 6-3 6-6 4-6 12-24 8-9 5-1 1-1 5 0 6-3 8-10 9-9 2 0 1-1 6 2 4 4 5 7 13 24 8 12 8 9 8 6 12 6 2 0 4 2 3 0 1 1 12 1"/>
<path d="M829 192l30 0 5-2 8-9 8-20 21-83 2-5 3-3 3 2 6 15 8 35 5 17 8 7 3 6 9 26 3 3 7 2 7 6 7 3 23 0"/>
<path d="M829 190l16-5 11-6 10-11 16-28 4-6 4-4 3-2 19 0 12-6 3 0 6 5 6 12 11 28 6 10 8 8 7 4 2 0 4 2 5 0 1 1 12 0"/>
<path d="M829 189l8-3 10-1 4-2 4-4 5-9 13-35 6-12 6-7 4-1 4 2 10 11 11 5 6 6 8 12 6 6 13 6 5 5 12 17 5 4 4 2 4 0 1 1 17 0"/>
<path d="M829 191l3 0 1-1 5-1 6-4 9-9 20-26 9-8 8-4 2 0 4-2 3 0 1-1 3 0 4-2 3 0 7-3 9 0 6 4 20 30 8 10 7 7 12 8 2 0 4 2 10 1"/>
<path d="M829 182l3-1 12-8 26-24 6-3 6-1 1-1 13 0 1-1 5 0 1 1 7 0 1 1 6 1 23 12 32 22 2 0 8 4 3 0 5 2 4 0 1 1"/>
<path d="M829 192l26 0 5-2 3-3 3-6 12-38 2-4 7-6 4-7 3-9 9-37 3-7 2-2 3 2 3 7 5 21 10 55 3 10 3 6 3 3 6 3 7 0 4-2 4 0 2 1 11 12 4 2 2 0 1 1 16 0"/>
<path d="M829 191l6-2 17-15 4-2 8-1 7-3 2-2 13-7 5-5 4-7 13-41 2-4 4-3 3 2 3 5 31 62 11 11 1 0 7 7 6 4 7 1 1 1 11 0"/>
<path d="M829 192l17 0 1-1 3 0 7-5 6-9 6-13 4-12 14-61 3-9 3-5 2 0 3 3 2 4 16 52 10 21 6 9 9 8 2 0 1 1 9 0 4 2 11 11 5 3 3 0 1 1 18 0"/>
<path d="M829 192l16 0 5-2 5-5 4-7 9-24 4-8 10-13 8-20 4-8 4-4 5 0 2 1 6 6 7 17 8 29 4 9 3 3 3 0 6-4 4 0 5 4 11 17 6 6 8 3 19 0"/>
<path d="M829 191l4-1 9-5 23-24 13-9 11-11 6-8 9-8 6 0 5 3 10 12 16 16 24 16 9 8 10 7 11 4"/>
<path d="M829 191l10-6 13-14 10-6 4-4 4-6 12-25 5-7 14-11 2-1 6 0 6 7 28 58 6 8 5 3 18-1 1 1 3 0 10 4 9 1"/>
<path d="M829 188l7-2 12-7 18-17 13-8 6-6 11-15 13-13 7-4 6 0 3 2 5 7 18 41 6 11 6 8 10 6 5 0 1 1 19 0"/>
<path d="M829 192l11 0 1-1 4 0 14-7 11-11 11-17 13-15 15-30 6-5 5 2 7 6 7 4 4 5 7 16 10 32 7 14 4 4 8 3 21 0"/>
<path d="M829 191l7-2 6-4 8-8 6-8 14-25 5-5 7-3 4-4 15-35 1-1 3 0 3 3 3 7 10 33 6 13 13 16 11 17 6 5 6 1 1 1 31 0"/>
<path d="M829 192l6 0 1-1 5 0 1-1 2 0 6-3 10-10 10-15 17-31 4-6 9-8 4 0 4 2 4 4 15 23 5 6 4 3 2 0 1 1 12 1 4 2 6 6 10 14 7 7 7 4 10 2"/>
<path d="M829 192l15-1 8-4 10-10 29-46 11-12 6-3 4 0 11 5 9 8 9 16 13 29 8 9 5 2 9 1 1 1 2 0 7 3 3 0 1 1 5 0"/>
<path d="M829 192l10-1 6-3 8-8 10-16 17-31 5-7 7-6 8 0 14 10 20 11 5 5 5 8 12 25 5 7 4 3 4 2 4 0 1 1 21 0"/>
<path d="M829 191l4 0 1-1 5-1 6-4 7-7 17-21 15-9 5-5 7-10 9-10 3-2 6-1 4 2 4 4 13 19 16 14 13 19 8 9 8 4 4 0 1 1 10 0"/>
<path d="M829 188l3-1 10-11 18-28 14-25 2-3 6-5 4 0 6 6 17 27 16 15 8 4 6 1 8 4 13 11 7 4 3 0 1 1 5 0 1-1 15 0 1 1 2 0"/>
<path d="M829 190l3 0 1-1 5-1 12-6 11-8 10-12 18-28 8-8 6-3 6 0 7 4 21 21 16 20 10 10 8 4 8 1 1 1 4 0 1 1 4 0 1 1 5 1"/>
<path d="M829 192l35 0 5-2 2-2 5-9 14-44 9-19 10-27 3-6 3-3 2 0 1 1 4 8 14 58 3 8 6 10 12 11 5 3 2 0 6 3 9 7 8 3 8 0"/>
<path d="M829 192l15 0 1-1 3 0 8-4 6-6 9-13 8-15 13-33 4-8 6-7 2 0 1-1 3 1 5 5 12 25 5 8 6 7 12 20 4 5 3 2 7 0 5-2 7 1 12 11 5 3 4 1"/>
<path d="M829 191l6-1 9-5 14-14 15-19 15-23 7-6 5 0 2 1 16 18 4 3 18 9 17 17 6 4 4 2 2 0 3 2 2 0 5 3 2 0 14 7"/>
<path d="M829 186l9 0 9 4 9 1 5-2 7-7 17-31 11-27 13-26 4-5 4 0 3 3 5 10 17 49 7 14 4 6 8 9 9 6 6 1 1 1 18 0"/>
<path d="M829 192l20 0 1-1 3 0 5-3 5-6 3-6 4-12 9-38 4-13 7-12 11-23 2 0 2 2 3 9 13 60 3 9 4 8 4 3 3 0 7-5 5 1 4 5 8 14 8 7 3 0 1 1 24 0"/>
<path d="M829 192l27 0 8-3 5-5 7-15 11-39 4-11 2-3 4-3 4 0 1 1 4-1 4-4 9-15 3 0 4 5 24 75 7 13 2 2 7 3 29 0"/>
<path d="M829 192l1-1 4 0 4-2 10-9 4-2 3 0 6 3 4 0 4-4 4-8 5-14 15-55 3-6 2-2 4 3 6 12 3 3 4-1 5-5 2 0 2 2 3 7 3 12 10 47 3 9 5 8 3 2 3 0 1 1 40 0"/>
<path d="M829 187l9-1 1-1 5 0 4-2 7-7 10-16 12-15 15-33 3-3 3 0 4 4 14 26 18 21 4 3 7 1 1 1 5 0 4 2 7 7 5 7 9 8 5 2 4 0 1 1 9 0"/>
<path d="M829 192l26 0 1-1 3 0 7-4 8-8 3-4 8-17 10-30 7-26 4-12 3-4 2 0 2 2 3 6 8 23 8 17 14 17 10 16 11 14 8 8 4 2 3 0 1 1 12 0"/>
<path d="M829 192l11 0 1-1 3 0 5-2 10-8 4-2 11 1 5-4 5-10 9-24 14-33 5-10 4-4 3 0 6 6 12 18 3 6 16 52 6 11 8 4 25 0"/>
<path d="M829 192l10 0 1-1 6-1 3-2 6-6 7-10 7-7 7-5 6-10 15-39 3-5 6-5 9 0 4 2 3 4 6 15 11 39 3 7 5 7 1 0 14 12 8 4 4 0 1 1 20 0"/>
<path d="M829 190l14-4 3-2 2 0 9-7 7-10 13-24 8-10 10-5 21 0 7 4 3 3 18 24 6 7 12 11 16 9 2 0 3 2 2 0 4 2 6 1"/>
<path d="M829 188l6-3 13-13 9-13 10-17 7-8 2-1 6 0 9 7 2 1 5 0 6-5 6-9 5-5 5 0 3 2 4 6 16 39 4 8 8 10 5 3 7 1 1 1 27 0"/>
<path d="M829 191l4-1 7-4 10-10 15-18 7-12 13-37 3-6 2-2 3 0 4 7 12 38 4 8 4 4 5 1 1-1 5-1 5-3 6 0 4 2 3 3 13 18 8 7 11 6 9 1 1 1 7 0"/>
<path d="M829 192l12 0 1-1 4 0 6-3 7-7 20-33 17-36 3-3 4 0 2 1 6 6 5 3 5 1 6 6 16 36 7 8 9 6 12 12 6 3 4 0 1 1 13 0"/>
<path d="M829 188l13-9 9-4 9-1 4-2 4-4 8-16 15-41 5-10 3-3 3 0 4 4 5 10 13 33 6 14 5 9 7 6 2 0 1 1 10 0 2 1 11 10 6 4 6 1 1 1 14 0"/>
<path d="M829 191l14-6 8 1 6 3 6 0 4-3 5-10 4-13 9-41 6-21 4-6 4-1 9 5 2 0 7 8 5 15 10 43 6 15 5 4 4-1 11-10 5-3 3 0 5 4 7 10 5 5 4 2 8 1"/>
<path d="M829 191l10-3 6-4 9-9 8-14 14-35 5-5 3 0 9 8 6 3 4-1 9-8 2-1 5 0 5 5 8 17 6 16 7 14 7 8 4 3 14 6 5 0 1 1 19 0"/>
<path d="M829 184l6-1 12-5 23-22 15-11 15-13 7-4 9-2 8 3 7 7 6 9 15 27 10 12 4 3 10 4 6 0 1 1 12 0"/>
<path d="M829 192l6 0 1-1 7-1 6-4 6-7 4-6 9-18 18-50 4-7 3-2 1 0 4 4 14 29 7 7 1 0 5 6 15 30 8 8 10 3 3 2 2 0 7 4 2 0 4 2 4 0 1 1 14 0"/>
<path d="M829 192l2-1 10-1 10-5 13-13 20-29 10-9 7 0 1 1 2 0 10 7 2 0 4 2 9-1 5-2 5 0 5 2 14 13 1 2 19 20 1 0 9 8 7 3"/>
<path d="M829 192l4 0 1-1 5 0 1-1 2 0 12-6 2 0 8-6 9-18 13-41 4-8 3-3 4 0 9 5 10-1 5 4 5 11 13 39 4 7 5 5 14 7 15 0 1 1 4 0 6 3 7 2"/>
<path d="M829 191l5-1 9-6 19-18 7-12 12-29 7-11 8-5 2 0 4-2 4 0 4 2 3 4 5 10 15 44 5 9 6 6 8 3 16 0 16 6 11 1"/>
<path d="M829 192l15 0 1-1 4 0 8-4 6-6 8-15 13-37 5-10 8-11 7-7 5 0 4 5 14 35 6 11 5 5 4 2 7 7 8 11 7 6 14 7 2 0 1 1 5 0 1 1 8 0"/>
<path d="M829 187l1-1 3 0 1-1 5-1 8-5 10-10 7-9 32-30 4-2 7 0 4 2 15 14 19 10 6 6 16 22 7 6 7 3 14 1"/>
<path d="M829 192l21 0 1-1 2 0 4-3 4-8 6-26 8-57 2-10 2-6 2-3 3 0 6 4 6 8 3 6 4 4 2 0 4-2 4 6 3 14 9 57 2 7 3 6 3 3 2 0 1 1 59 0"/>
<path d="M829 192l9 0 1-1 4 0 4-2 3-2 15-15 2-3 5-12 13-57 3-7 2-2 2 0 7 9 7 7 1 0 6 7 5 11 11 35 5 10 4 4 9 5 7 7 7 4 6 0 13-5 7 1 8 4"/>
<path d="M829 191l8-2 6-4 8-9 14-22 8-8 6-4 12-13 11-8 5-2 3 0 6 5 14 28 6 5 7 1 4 2 6 7 8 13 6 7 7 4 4 0 1 1 16 0"/>
<path d="M829 192l9-2 5-3 7-7 5-7 9-8 14 1 5-5 3-5 4-10 12-34 3-6 4-4 4 0 2 1 5 6 13 24 8 19 8 16 10 14 8 7 5 2 4 0 1 1 18 0"/>
<path d="M829 186l4-2 2 0 5-3 6-1 9-4 7-7 8-15 14-35 4-5 5-1 6 6 14 20 16 15 11 13 4 3 2 0 1 1 15 2 6 4 11 10 9 4 7 1"/>
<path d="M829 192l10 0 1-1 3 0 8-7 16-31 5-6 6-3 6-7 16-39 4-8 3-3 2 0 2 2 3 7 11 39 9 27 9 18 8 8 10 4 34 0"/>
<path d="M829 186l7-4 3 0 1-1 4 0 8 3 5 0 2-1 5-5 5-10 10-28 8-17 4-5 7-3 4 0 1 1 6 0 1 1 6 1 9 8 8 16 9 24 6 12 6 7 4 2 20 0 1 1 3 0 1 1 3 0 5 2 4 0"/>
<path d="M829 192l9-1 7-3 3-2 6-7 6-12 15-44 4-7 3-2 5 1 9 9 2 1 2 0 1 1 10 0 4 2 7 7 13 17 13 22 10 13 7 4 4 0 1 1 25 0"/>
<path d="M829 191l6-3 2 0 7-4 2 0 4-2 3 0 1-1 3 0 6-3 8-8 11-17 9-11 19-28 5-4 5 0 4 4 13 24 11 15 11 22 5 8 5 5 6 3 3 0 1 1 16 0"/>
<path d="M829 188l2-1 17-18 4-2 9-9 8-11 12-12 15-25 2-2 4 0 3 3 13 29 17 24 10 17 6 6 2 1 9 0 5-2 8 0 13 5 5 0 2 1"/>
<path d="M829 192l5 0 1-1 7-1 7-5 6-8 24-49 4-6 9-8 5 0 3 2 8 11 8 8 9 4 6 6 11 20 4 6 7 7 21 11 2 0 4 2 5 0 1 1 9 0"/>
<path d="M829 192l7 0 1-1 5 0 1-1 5-1 10-5 8-8 7-14 12-35 4-8 6-5 3 0 7 3 10 1 7 6 17 36 6 7 2 1 10 0 1 1 2 0 3 2 16 17 6 3 10 1"/>
<path d="M829 192l8 0 5-2 3-3 4-8 12-37 4-5 9 0 4-4 7-15 10-31 2-3 2 0 2 2 2 6 8 37 5 17 4 7 5 5 11 17 8 8 12 8 4 0 1 1 34 0"/>
<path d="M829 192l9-1 7-4 13-13 6-8 10-10 6-12 8-24 5-12 8-13 4-4 3 0 4 6 5 17 9 41 6 15 3 3 7 2 8 6 6 0 6-4 4 0 2 1 7 8 5 4 5 1 1 1 9 0"/>
<path d="M829 192l9-1 6-3 7-8 6-11 10-24 4-7 4-4 8-3 4-5 10-27 3-6 3-3 4 3 3 6 20 66 8 16 7 6 19-1 6 3 2 0 4 2 4 0 1 1 14 0"/>
<path d="M829 192l8 0 8-3 7-9 11-21 4-4 5-2 5-5 4-9 10-30 4-8 6-5 4 1 4 3 5 7 5 10 4 11 12 42 4 10 3 5 4 3 6 0 7-3 6 0 12 6 4 0 1 1 13 0"/>
<path d="M829 188l8-6 15-22 7-8 6-4 6-1 1-1 10-1 7-3 8-8 8-12 5-5 5-1 2 1 6 7 7 15 11 29 4 8 3 5 8 8 5 2 4 0 1 1 29 0"/>
<path d="M829 183l7-4 12-12 19-29 6-5 5-1 7 3 15 11 2 0 7 3 5 0 1 1 7 1 7 3 6 4 14 13 13 8 2 0 4 2 3 0 1 1 23 7"/>
<path d="M829 192l5 0 1-1 9-1 6-3 4-4 1 0 10-12 16-24 8-7 6-1 1 1 4 0 4 2 7 0 6-3 9-8 4-2 6 0 2 1 7 7 18 33 4 6 7 7 6 3 15 1"/>
<path d="M829 189l9-4 6 0 13 6 8 0 7-6 6-12 12-35 12-26 5-8 5-5 5-1 2 1 3 4 14 32 12 17 9 20 6 11 9 8 3 0 1 1 19 0"/>
<path d="M829 192l9-2 12-11 10-18 10-24 6-12 6-7 4-2 5-5 7-11 3-2 4 3 2 4 12 34 8 18 10 19 7 6 18 9 4 0 1 1 28 0"/>
<path d="M829 192l8 0 1-1 6-1 6-4 5-5 7-9 13-20 16-33 8-12 4-5 4-3 4 0 4 4 6 12 17 45 6 12 8 12 6 5 8 3 29 0"/>
<path d="M829 186l12-3 12-7 12-12 15-19 8-8 6-3 4 0 5 2 11 8 5 2 18 0 5 2 15 14 7 9 11 11 11 7 9 2"/>
<path d="M829 192l30 0 7-3 3-3 6-11 20-64 7-14 5-4 5 1 6 7 6 13 13 38 6 12 7 10 6 6 2 0 1 1 5 0 5-2 4 0 6 3 7 6 6 3 3 0"/>
<path d="M829 187l4-2 6-6 7-5 6-1 1-1 9 0 1-1 5-1 6-4 5-5 11-15 15-29 5-5 3 0 5 5 14 28 9 12 16 12 13 12 10 7 8 3 5 0 2 1"/>
<path d="M829 192l9-1 5-3 7-9 13-13 4-10 11-47 4-6 3 0 4-3 7-19 3-5 2 0 2 4 11 53 6 21 4 8 6 7 10 16 5 5 5 2 45 0"/>
<path d="M829 192l9-1 9-4 12-8 5-6 6-12 6-17 13-49 2-4 3-3 3 2 4 8 6 16 4 7 3 3 2 0 4 2 4 4 5 11 9 27 6 11 6 5 15 7 4 0 1 1 25 0"/>
<path d="M829 191l5 0 1-1 6-1 12-7 33-35 12-7 7-1 1-1 9 0 1 1 4 0 1 1 10 2 16 6 3 2 15 15 1 2 11 10 12 6 6 1"/>
<path d="M829 191l4 0 5-2 10-9 7-11 21-45 2-3 7-6 5 1 6 6 13 20 4 5 11 10 6 3 2 0 4 2 3 0 1 1 3 0 6 3 18 15 9 5 2 0 3 2 2 0 4 2 8 1"/>
<path d="M829 189l5-1 3-2 3 0 5-2 4 0 7-3 7-7 3-5 10-23 6-11 5-5 7-2 3-2 13-15 6 0 5 5 7 11 17 38 10 18 5 5 6 3 4 0 1 1 24 0"/>
<path d="M829 186l9-7 9-5 13-2 7-4 18-24 18-18 8-3 7 3 12 12 17 20 15 20 7 7 4 3 8 3 14 1"/>
<path d="M829 192l10 0 1-1 4 0 9-5 9-9 6-9 6-12 20-46 2-3 3-2 3 1 3 3 5 8 14 28 8 9 4 2 8 2 3 2 2 0 7 4 8 8 7 10 8 7 4 2 4 0 1 1 7 0"/>
<path d="M829 186l7-3 4-3 6-6 11-15 7-7 5-3 5-1 8-4 14-11 5-2 5 0 9 4 6 5 6 3 12 9 22 28 7 6 5 3 2 0 4 2 16 1"/>
<path d="M829 191l8-3 9-6 4-3 8-9 4-7 13-33 4-7 5-4 3 0 5 3 5 0 2-1 8-12 5-4 3 2 4 8 11 40 6 17 3 5 8 7 17 7 4 0 1 1 26 0"/>
<path d="M829 192l7 0 1-1 3 0 14-7 11 0 10-9 5-8 5-11 13-35 19-37 5-7 2 0 1 1 3 6 4 18 10 60 3 12 5 12 4 4 5 2 36 0"/>
<path d="M829 192l17 0 7-3 6-6 5-8 7-7 7-3 2-2 4-7 13-41 4-8 9-9 1-2 5-4 2 0 4 5 14 46 21 41 6 6 5 1 1 1 26 0"/>
<path d="M829 192l5 0 1-1 7-1 4-2 7-8 7-15 14-43 4-8 2-3 2-1 4 0 4 4 18 31 4 5 5 4 5 1 1 1 17 0 1 1 2 0 9 6 11 13 11 11 9 4 12 1"/>
<path d="M829 185l2-1 13-14 4-2 13 1 5-4 4-7 12-33 3-5 2-2 3-1 6 5 9 13 20 22 6 3 9 1 7 4 12 15 6 6 6 3 6 0 1-1 9-1 1-1 7 1"/>
<path d="M829 192l2-1 4 0 5-2 7-7 4-6 13-28 3-5 7-7 7-1 1 1 4 0 1 1 7 1 1 1 6-1 2-1 16-17 5 0 4 5 4 9 12 35 6 12 5 5 5 2 6 0 1-1 13 0 1 1 3 0 1 1 10 2"/>
<path d="M829 188l6-3 2-2 2 0 4-2 8 1 7 3 5-1 4-4 5-9 14-34 10-20 6-6 2-1 6 0 6 5 11 19 3 3 8 3 3 3 4 7 8 20 5 10 8 9 8 3 21 0"/>
<path d="M829 192l8-3 14-13 20 0 5-2 6-6 4-8 5-15 13-48 4-10 5-6 2 0 3 3 2 4 4 12 16 61 7 16 4 4 6 3 8 6 2 0 1 1 3 0 1 1 23 0"/>
<path d="M829 182l7-1 1-1 9 0 1-1 2 0 8-7 9-12 7-7 10-5 5-5 6-13 7-21 3-6 2-2 2 0 4 6 14 45 6 11 8 7 2 0 1 1 14 0 2 1 15 15 7 4 4 0 1 1 9 0"/>
<path d="M829 192l10 0 1-1 3 0 6-3 4-4 8-14 11-28 3-4 6-3 4-4 9-23 4-8 3-3 4 0 2 2 3 6 9 32 5 12 10 8 12 20 8 6 9 4 3 0 8-3 3 0 7 3 4 3 6 1 1 1"/>
<path d="M829 191l4 0 5-2 8-7 4-6 17-34 6-6 5-1 17 11 10 0 1-1 5-1 16-8 7 0 9 8 17 31 11 12 3 2 2 0 4 2 15 1"/>
<path d="M829 192l8-1 8-5 9-13 23-46 6-7 5-3 6-1 1-1 7 0 5 5 5 10 8 21 3 5 4 4 8 0 2-1 5 2 5 4 7 9 10 10 8 5 2 0 4 2 4 0 1 1 12 0"/>
<path d="M829 192l1-1 7-1 5-3 4-4 4-6 14-25 29-28 4-3 5-2 6 0 5 2 10 9 4 6 17 35 8 10 11 6 2 0 6 3 9 1 1 1 14 0"/>
<path d="M829 191l5-1 7-4 10-9 1 0 8-8 7-10 12-23 7-11 4-4 7-2 1 1 4 0 7 3 8 8 8 12 11 14 6 6 17 12 13 11 11 5 12 1"/>
<path d="M829 192l17 0 1-1 4 0 7-3 7-7 10-17 6-9 4-4 3-2 3 0 1-1 8 0 6-4 5-7 12-23 5-5 4 0 4 4 5 10 13 33 11 18 7 7 5 3 7 1 1 1 5 0 5 2"/>
<path d="M829 191l2 0 7-3 13-10 7-2 6-3 3-3 5-9 10-29 5-10 4-4 4-2 2 0 5-3 7-7 2-1 4 0 4 4 5 10 16 46 10 18 5 5 6 3 4 0 1 1 29 0"/>
<path d="M829 190l5-2 15-14 2-1 16 1 4-2 6-6 6-12 14-42 3-6 3-3 3 0 5 6 14 33 6 10 5 5 4 2 10 1 4 2 5 5 12 18 6 5 6 1 1 1 11 0"/>
</g>
<path d="M829.2 193.0L830.3 192.9 831.9 192.9 833.8 192.7 835.7 192.6 837.6 192.4 839.1 192.3 840.7 192.2 842.4 192.2 844.0 192.0 845.6 191.5 847.1 190.8 848.8 189.5 850.4 188.0 852.0 186.1 853.5 183.8 855.1 181.3 856.7 178.4 858.3 175.1 859.8 171.5 861.4 167.6 863.0 163.7 864.6 159.5 866.2 155.0 867.8 150.4 869.4 145.8 871.0 141.5 872.6 137.4 874.2 133.5 875.8 129.7 877.4 126.0 879.0 122.3 880.6 118.5 882.2 114.7 883.8 111.0 885.4 107.6 886.9 104.8 888.8 102.0 890.5 99.8 892.3 98.3 894.1 97.7 895.9 97.9 897.6 98.8 899.3 100.6 901.2 103.2 902.8 106.0 904.4 109.6 906.0 113.6 907.7 117.9 909.5 122.3 911.0 126.2 912.6 130.4 914.2 134.8 915.9 139.2 917.5 143.6 919.1 147.7 920.7 151.8 922.3 155.9 923.9 160.0 925.4 163.8 927.0 167.2 928.6 170.0 930.2 172.2 931.9 173.9 933.5 175.2 935.1 176.1 936.7 176.7 938.2 177.1 939.9 177.1 941.4 176.5 942.8 175.6 944.4 174.4 946.1 173.2 947.7 171.9 949.4 170.2 951.1 168.4 952.9 166.7 954.6 165.6 956.4 165.2 958.1 165.8 959.9 167.0 961.6 168.8 963.4 170.8 965.1 172.9 966.8 174.8 968.4 176.6 970.0 178.6 971.6 180.6 973.2 182.6 974.7 184.4 976.3 185.9 977.9 187.2 979.6 188.3 981.2 189.3 982.8 190.2 984.4 190.9 985.9 191.5 987.7 192.0 989.5 192.3 991.2 192.5 992.7 192.6 993.8 192.7 995.0 192.9 995.2 193.0" fill="none" stroke="#011f4b" stroke-width="2.5" stroke-linejoin="round" shape-rendering="crispEdges"/>
<path d="M829.2 33V193.5H995.2" fill="none" stroke="#000" stroke-width="1.1"/>
<path d="M841.5 194v3M894.5 194v3M947.5 194v3" stroke="#333" stroke-width="1"/>
<text transform="translate(840.8 211) scale(0.84 1)" class="tk">20</text>
<text transform="translate(893.7 211) scale(0.84 1)" class="tk">40</text>
<text transform="translate(946.9 211) scale(0.84 1)" class="tk">60</text>
<text x="828.7" y="20.6" class="ti">Colegio 4</text>
<path d="M1020.7 112h20" stroke="#011f4b" stroke-width="2"/>
<path d="M1020.7 135.5h19" stroke="#b3cde0" stroke-opacity="0.7" stroke-width="1"/>
<text x="1049.7" y="116" class="ly">y</text>
<text x="1049.7" y="137.8" class="ly">y</text><text x="1058.7" y="141" class="lr">rep</text>
<g fill="none" stroke="#b3cde0" stroke-opacity="0.7" stroke-width="1" shape-rendering="crispEdges" transform="translate(0.5 0.5)">
<path d="M12 412l28 0 8-2 0-1 6-4 4-6 0-2 2-2 0-2 2-2 0-2 2-3 0-3 2-3 0-3 2-3 0-4 2-5 0-5 2-5 0-7 2-7 0-8 2-9 0-10 2-11 0-11 2-10 0-10 2-8 0-6 2-5 2 0 0 2 2 4 0 6 2 6 0 7 2 7 0 6 2 5 0 5 2 5 0 3 2 3 0 3 2 2 0 2 2 2 0 2 2 1 0 2 2 1 0 2 6 9 0 2 6 13 0 3 2 3 0 3 2 3 0 3 2 3 0 3 2 3 0 3 2 3 0 2 2 2 0 3 2 2 0 2 2 1 0 2 2 3 2 1 2 3 2 0 0 1 6 0 0-1 2 0 6-3 6 0 4 2 0 1 2 0 0 1 4 2 0 1 2 0 0 1 4 1"/>
<path d="M12 412l6 0 0-1 4 0 0-1 4-1 0-1 4-3 8-13 2-1 0-2 2-1 2-3 4-2 2 0 0-1 10 0 0-1 2 0 0-1 4-3 0-2 2-1 0-2 2-2 0-2 4-8 0-4 2-3 0-4 4-14 0-6 2-6 0-6 2-7 0-7 2-8 0-7 2-8 0-8 2-6 0-6 2-4 0-2 2 1 2 7 0 6 2 8 0 9 2 9 0 10 2 9 0 9 2 8 0 7 2 7 0 6 2 5 0 5 2 4 0 4 2 3 0 4 2 3 0 3 4 6 0 2 2 1 0 1 2 0 0 1 4 0 0-1 8-2 4 1 0 1 2 0 0 1 2 0 0 1 2 0 0 1 6 1 0 1 4 0 0 1 2 0 0 1 4 2 0 1 2 1 0 1 2 1 2 3 4 2 0 1 8 2"/>
<path d="M12 409l2 0 0-1 4-1 0-1 4-2 2-3 4-2 0-1 2-1 0-2 2-1 0-1 2-1 0-1 2-1 0-1 2-1 0-1 2-1 2-3 2 0 2-3 2 0 0-1 2 0 0-1 4 0 0-1 8 0 0 1 14 0 0-1 4-1 0-1 2-1 0-2 2-1 0-2 2-3 0-4 2-5 0-6 2-7 0-8 2-10 0-11 2-11 0-11 2-10 0-8 2-6 0-4 2 0 2 7 0 7 2 9 0 9 2 9 0 8 2 7 0 7 4 14 4 6 8 7 0 2 2 1 6 10 2 1 0 2 2 1 0 2 2 1 0 2 2 1 2 4 2 1 0 2 4 3 0 2 2 1 0 1 2 1 0 1 2 1 0 1 2 1 0 1 2 1 2 3 4 2 0 1 8 4 2 0 0 1 4 0"/>
<path d="M12 412l10-2 0-1 4-1 0-1 10-9 0-2 2-1 2-3 2 0 0-1 4-1 0-1 4 0 0 1 4 0 0 1 4 1 6 0 0-1 2 0 0-1 2-1 4-6 0-2 2-2 0-3 2-2 0-3 2-3 0-3 2-3 0-3 2-3 0-3 2-2 0-3 2-3 0-2 6-9 0-2 2-1 0-2 2-3 0-3 2-4 0-5 2-6 0-7 2-7 0-8 2-7 0-6 2-5 0-3 2-1 0 2 2 4 0 6 2 7 0 9 2 9 0 8 2 8 0 8 2 6 0 5 2 5 0 4 2 3 2 7 2 2 0 2 2 2 0 2 2 1 0 2 12 18 2 1 0 2 2 1 0 2 2 1 0 2 2 1 0 2 2 1 2 4 2 1 0 1 2 1 2 3 4 2 0 1 8 1 0 1 6 0"/>
<path d="M12 412l16 0 0-1 2 0 2-1 0-1 2 0 2-4 2-1 0-2 2-1 0-2 2-1 2-3 4 0 0 1 8 1 0-1 2 0 0-1 2 0 0-1 2 0 0-1 2 0 4-2 2-3 0-2 2-3 0-4 2-5 0-6 2-6 0-7 2-8 0-9 2-9 0-9 2-9 0-9 2-8 0-7 2-6 0-6 2-4 0-2 2-2 2 0 0 2 2 2 0 2 2 3 0 4 2 3 0 4 2 3 0 4 2 3 0 4 2 2 0 3 2 1 2-1 0-2 2-4 0-5 2-5 0-5 2-4 0-3 2 0 2 7 0 7 2 10 0 12 2 12 0 12 2 12 0 11 2 9 0 8 2 7 0 6 2 5 0 3 2 3 0 2 2 2 0 2 4 2 0 1 6 0 6-4 0-2 2-1 4-7 4-1 6 5 0 2 2 1 4 6 2 0 0 1 4 1"/>
<path d="M12 412l14-2 8-4 0-1 2 0 0-1 4-2 0-1 2 0 0-1 8-4 2 0 0-1 8-1 0-1 2 0 2-1 0-1 2 0 0-1 4-3 0-2 2-1 0-2 4-5 0-2 2-2 0-2 2-2 0-2 4-5 0-2 2-1 0-2 2-1 4-6 10-9 0-2 2-1 0-1 2-1 2-3 4-2 2 0 2 1 0 1 2 0 0 2 2 1 2 3 0 2 2 2 0 2 2 2 0 2 2 2 0 2 2 2 0 2 4 5 0 2 2 1 4 7 2 1 4 7 2 1 0 2 6 8 0 2 2 1 0 2 2 1 0 2 2 1 2 4 2 1 0 1 2 0 0 1 2 1 0 1 2 0 0 1 8 1"/>
<path d="M12 412l2 0 0-1 10-1 0-1 2 0 6-3 2-3 2 0 0-1 2-1 0-2 4-3 0-2 2-1 6-9 0-2 2-1 0-2 2-1 0-2 2-1 0-2 2-1 2-4 6-4 0-1 2 0 0-1 2 0 0-1 2 0 0-1 4 0 0-1 6-1 0-1 2 0 12-6 2 0 0-1 8 0 0 1 4 1 2 3 2 0 0 1 2 1 2 4 4 3 2 4 4 3 2 4 2 1 0 1 2 1 2 3 4 2 2 3 2 0 0 1 4 2 0 1 2 0 0 1 4 2 0 1 2 0 0 1 4 2 0 1 2 0 0 1 4 2 0 1 2 0 0 1 2 0 0 1 8 4"/>
<path d="M12 412l34 0 4-1 0-1 2 0 0-1 4-3 2-3 0-2 2-2 0-3 2-3 0-3 2-3 0-4 2-4 0-4 2-5 0-4 2-5 0-4 2-5 0-4 2-5 0-4 2-4 0-3 2-4 0-3 2-3 2-7 2-1 0-2 2-1 2-3 2 0 0-1 4 0 4 2 6 9 0 2 2 3 0 3 2 3 0 3 2 3 0 4 2 3 0 4 2 3 0 4 2 3 0 4 2 3 0 3 2 3 0 3 2 3 2 7 4 6 2 1 0 1 2 1 2 3 4 2 0 1 4 1 10 0 4 2 0 1 2 1 2 3 4 2 0 1 6 3 8 1"/>
<path d="M12 412l16 0 0-1 8-1 0-1 2 0 4-2 0-1 2 0 0-1 8-5 0-1 8-7 0-2 2-1 0-2 4-6 0-3 2-2 0-3 2-3 0-3 2-4 0-3 2-3 0-4 2-3 0-4 2-3 0-3 2-3 0-3 6-9 4 1 0 1 4 3 0 2 8 12 4 2 4 0 0-1 4-1 6 0 0 1 4 3 0 2 2 1 0 2 2 2 0 3 2 2 0 2 2 3 0 3 2 2 0 3 2 2 0 3 2 2 0 2 2 2 0 2 2 2 0 2 6 9 2 1 0 1 2 1 2 3 2 0 2 3 8 2 0 1 12 1"/>
<path d="M12 412l32 0 0-1 4 0 0-1 4-2 2-3 0-2 2-1 0-3 2-2 0-3 2-3 0-3 2-3 0-4 2-3 0-4 2-4 0-4 2-4 0-5 2-4 0-4 2-4 0-4 2-4 0-4 2-4 0-3 2-3 0-3 4-6 4 1 4-1 4-8 0-3 2-3 0-3 2-3 0-2 2 0 2 2 0 4 2 4 0 6 2 7 0 7 2 8 0 8 2 8 0 7 2 7 0 6 2 5 0 4 2 3 0 3 2 3 2 1 0 1 2 0 6 3 0 1 2 1 0 2 2 1 6 9 4 1 4-2 2-3 4-1 0-1 4 1 0 1 6 5 0 2 2 1 0 1 2 0 0 1 4 2 2 0 0 1 6 0"/>
<path d="M12 411l0-1 6-1 0-1 2 0 0-1 2 0 0-1 6-3 2 0 0-1 8 0 4 1 0 1 8 0 4-2 0-1 4-3 4-6 0-2 2-2 0-2 4-8 0-3 2-3 0-3 2-3 0-3 2-3 0-4 2-3 0-3 2-3 0-3 2-2 0-3 2-2 0-2 2-3 2-1 2-3 18 0 0 1 2 0 0 1 4 3 0 2 2 2 0 2 4 6 0 3 4 8 0 3 2 3 0 3 2 3 0 2 2 3 2 7 2 2 0 2 2 2 0 2 2 3 2 1 0 1 2 1 2 3 2 0 0 1 2 0 0 1 2 0 0 1 2 0 0 1 2 0 0 1 2 0 0 1 2 0 0 1 2 0 0 1 10 5 2 0 0 1 6 0 0 1 2 0"/>
<path d="M12 412l10-2 6-3 0-1 2 0 0-1 6-5 0-2 2-1 8-12 0-2 2-1 0-2 2-1 0-2 2-1 0-2 2-1 0-1 2-1 0-1 2-1 2-3 2 0 0-1 4-1 4 0 0-1 2 0 6-3 0-1 4-3 0-2 2-1 6-9 2-1 0-1 4-1 0-1 4 0 0 1 4 1 0 1 6 4 0 2 2 1 4 6 2 1 0 2 2 1 2 4 2 1 0 2 2 1 0 2 2 1 4 7 2 1 0 2 2 1 4 7 2 1 2 4 2 1 2 4 2 1 0 1 2 1 2 3 2 0 0 1 8 4 2 0 0 1 12 1"/>
<path d="M12 406l0-1 2 0 0-1 8-7 0-2 2-1 18-29 2-1 0-1 2-1 2-3 4-2 8 0 0 1 4 1 2 3 2 0 0 1 2 1 0 1 2 1 0 1 2 1 2 3 4 2 2 3 2 0 0 1 8 4 2 0 0 1 8 0 0-1 4 0 0-1 2 0 10-5 2 0 0-1 4-1 8 0 0 1 2 0 4 2 0 1 2 0 2 3 4 2 0 1 2 1 0 2 2 1 0 1 2 1 0 1 2 1 0 1 2 1 0 1 2 1 0 1 2 1 2 3 4 2 0 1 4 2 0 1 2 0 0 1 2 0 0 1 4 1"/>
<path d="M12 412l18 0 8-2 0-1 4-2 2-4 2-1 0-2 4-6 0-3 2-2 0-3 4-8 0-3 2-3 2-10 2-3 0-3 2-2 0-3 2-3 2-7 2-2 0-2 2-2 0-2 2-1 0-2 2-1 2-3 4-2 4 0 6 3 0 1 6 5 2 4 4 3 0 2 2 1 2 4 2 1 0 2 2 1 0 2 2 1 0 2 2 1 0 2 2 2 0 2 2 2 0 2 2 2 0 2 2 2 0 2 2 2 0 2 2 2 0 2 2 2 0 2 2 2 0 2 4 5 0 2 2 1 0 2 2 1 0 1 2 1 2 3 4 2 0 1 8 1 0 1 22 0"/>
<path d="M12 412l22 0 0-1 4 0 6-3 0-1 6-5 0-2 2-2 0-2 4-6 0-2 6-13 0-3 2-2 0-3 2-2 0-3 2-2 2-7 2-2 0-2 2-2 0-2 2-2 0-2 2-2 0-2 2-1 0-2 2-1 0-1 2-1 2-3 4 0 4 2 0 1 2 1 0 2 4 3 2 4 4 2 0 1 2 0 0 1 2 0 0 1 2 0 4 2 0 1 4 3 4 6 0 2 2 2 0 2 2 2 0 2 2 2 2 7 6 9 0 2 2 1 0 2 2 1 0 2 2 1 0 1 2 1 0 1 2 1 0 1 2 1 0 1 2 1 2 3 2 0 0 1 6 3 2 0 0 1 14 1"/>
<path d="M12 411l8-2 0-1 2 0 0-1 4-1 2-3 2 0 0-1 8-7 6-9 2-1 0-2 2-1 4-7 2-1 0-2 2-1 0-1 2-1 0-1 2-1 0-1 2-1 2-3 2 0 0-1 4 0 0-1 8 1 0 1 10 0 0-1 2 0 0-1 8-7 2-4 2-1 2-3 2 0 0-1 2 0 0-1 4 0 0 1 2 0 0 1 2 1 4 6 0 2 2 2 0 2 2 2 0 2 2 2 2 7 2 2 0 2 2 2 0 2 2 2 0 2 2 2 0 2 4 6 2 1 2 3 4 2 0 1 4 1 0 1 6 1 0 1 4 0 0 1 16 5"/>
<path d="M12 412l8 0 12-3 0-1 4-2 0-1 8-7 4-7 2-1 0-2 2-1 0-2 2-1 0-2 2-1 0-2 2-1 0-2 2-1 0-2 2-1 0-2 4-5 0-2 4-5 0-2 4-5 0-2 2-1 0-2 2-1 2-4 2 0 0-1 2-1 4 0 0 1 2 0 0 1 6 5 0 2 2 1 0 1 2 1 0 1 2 1 2 3 6 3 8 1 0 1 2 0 2 1 0 1 2 0 0 1 6 5 0 2 2 1 0 2 4 5 0 2 2 1 0 2 2 2 0 2 2 1 0 2 4 6 2 1 0 1 2 1 2 3 2 0 0 1 2 0 0 1 22-1"/>
<path d="M12 412l2-1 4 0 0-1 2 0 4-2 0-1 2 0 0-1 8-7 16-24 2-1 0-1 2-1 0-1 10-9 0-2 2-1 4-6 0-2 2-1 0-2 2-2 0-2 4-5 0-2 2-3 2-1 0-2 6-3 4 2 0 1 2 1 2 3 0 2 2 1 0 2 2 2 0 2 2 2 0 2 2 2 0 2 2 2 0 2 2 2 0 2 2 2 0 2 2 1 0 2 2 2 0 2 2 1 0 2 2 1 0 2 2 1 0 2 2 1 4 6 12 7 0 1 2 0 0 1 4 1 0 1 4 2 0 1 4 2 0 1 4 2 0 1 2 0 0 1 2 0 0 1 2 0 0 1 10 2 6 0"/>
<path d="M12 405l0-1 2 0 0-1 2 0 0-1 2 0 0-1 2 0 10-5 0-1 2 0 0-1 4-2 0-1 10-9 6-9 4-3 0-2 2-1 0-1 2-1 2-3 4-2 0-1 2 0 0-1 4-1 6 0 2 1 8 0 4-1 0-1 4-2 0-1 4-2 0-1 6-3 4 0 2 1 0 1 2 0 0 1 2 1 0 2 2 1 0 2 2 1 0 2 2 2 0 2 2 2 0 2 4 6 2 7 2 2 0 2 2 2 0 2 2 2 0 2 6 9 2 1 0 1 2 1 2 3 6 3 2 0 0 1 6 0 0 1 16 0"/>
<path d="M12 412l2-1 4 0 0-1 2 0 2-1 0-1 2 0 0-1 6-5 8-13 2-1 0-2 6-4 0-1 10-1 0-1 4-1 8-12 0-3 4-6 0-3 4-6 0-3 2-2 0-2 2-2 0-2 6-9 2-1 0-1 2 0 0-1 4 0 6 5 0 2 2 2 0 2 2 2 0 2 4 8 0 3 2 3 0 3 2 3 0 3 2 3 0 3 2 3 0 3 2 3 2 7 2 2 0 2 2 1 0 2 2 1 2 3 6 3 2 0 0 1 4 0 0 1 4 0 0 1 4 0 0 1 6 0 0-1 14 0 0 1 2 0 4 2 0 1 4 1"/>
<path d="M12 410l8-2 0-1 2 0 0-1 2 0 0-1 4-1 0-1 4-2 0-1 2 0 2-3 2 0 0-1 8-7 2-4 4-3 0-2 2-1 0-1 2-1 0-1 2-1 0-1 2-1 0-1 2-1 2-3 2 0 0-1 20-10 0-1 4-2 0-1 4-2 0-1 2 0 0-1 4-2 2 0 0-1 4 0 0 1 2 0 6 4 0 2 4 3 0 2 2 1 0 2 2 1 0 2 4 5 0 2 2 1 0 2 2 1 0 2 2 1 0 2 2 1 0 2 2 1 4 6 4 2 2 3 2 0 0 1 2 0 0 1 2 0 0 1 2 0 0 1 6 1 0 1 6 1 0 1 6 1 0 1 6 1 0 1"/>
<path d="M12 412l22 0 8-2 0-1 6-5 2-3 0-2 2-2 0-2 2-2 0-2 6-13 0-3 4-8 0-3 2-2 0-3 2-2 0-3 2-2 0-3 2-2 0-2 2-3 2-7 2-2 0-3 2-2 0-2 2-2 0-2 2-2 0-2 2-1 2-3 4 0 2 1 0 1 4 3 2 4 2 1 0 2 2 1 0 2 2 1 0 2 2 1 0 2 4 6 0 3 2 2 0 3 2 2 0 3 2 3 0 3 2 3 0 3 4 8 0 3 2 2 0 2 2 2 0 2 2 2 0 2 4 6 2 1 0 2 4 3 0 2 6 4 0 1 4 2 2 0 0 1 4 0 0 1 22 0"/>
<path d="M12 410l2 0 0-1 2 0 0-1 4-1 0-1 4-2 0-1 4-2 0-1 4-2 0-1 2 0 0-1 2 0 0-1 8-4 0-1 2 0 0-1 8-7 6-9 0-2 4-5 0-2 6-9 0-2 12-18 4-3 0-2 2 0 0-1 4-2 2 0 2 1 0 1 2 1 0 1 2 1 2 3 0 2 2 2 0 2 2 2 0 2 2 2 0 2 2 2 0 2 2 2 0 2 2 2 0 2 6 8 0 2 2 1 0 2 2 1 0 2 2 1 0 2 2 1 0 2 4 5 0 2 8 12 2 1 0 1 2 1 2 3 4 2 2 0 0 1 4 0 2 1 20 0"/>
<path d="M12 411l6-1 0-1 4-1 0-1 4-2 4-6 2-1 0-2 2-1 0-2 2-2 0-2 2-2 0-2 4-6 0-3 2-2 0-3 2-2 0-3 2-2 0-3 2-3 0-2 2-3 2-7 4-6 0-2 2-3 2-1 0-2 2 0 0-1 4-1 4 2 0 1 4 3 4 7 2 1 0 2 2 1 2 4 2 1 2 3 2 0 0 1 6 3 0 1 2 0 0 1 8 7 0 2 2 1 8 13 2 1 0 2 2 1 0 1 2 1 2 3 4 2 0 1 2 0 0 1 2 0 0 1 2 0 0 1 2 0 0 1 2 0 0 1 2 0 0 1 2 0 0 1 2 0 0 1 2 0 0 1 2 0 0 1 2 0 0 1 2 0 0 1 2 0 0 1 14 3 8 0"/>
<path d="M12 412l16 0 2-1 4 0 0-1 2 0 4-2 0-1 4-3 0-2 2-1 0-2 4-6 0-3 2-3 0-3 2-3 0-3 2-3 0-4 2-3 0-4 2-3 0-4 2-3 0-4 2-3 0-3 2-3 0-2 2-2 0-2 2-3 2-1 0-1 2 0 0 1 2 0 0 1 2 1 4 6 0 2 4 5 0 2 2 1 2 3 4 2 2 0 10-5 6 0 0 1 2 0 0 1 6 5 4 6 0 2 2 1 0 2 2 2 0 2 2 2 0 2 2 1 0 2 6 9 0 2 6 9 2 1 0 2 2 1 2 3 4 2 0 1 4 1 0 1 8 1 0 1 12 0"/>
<path d="M12 404l2 0 0-1 8 0 0 1 6 1 0 1 6 1 0 1 8 0 0-1 4-1 0-1 4-2 0-1 4-3 2-4 2-1 0-1 2-1 0-1 2-1 0-1 2-1 2-3 2 0 2-3 2 0 0-1 8-5 0-1 2-1 0-1 2-1 0-1 2-1 0-1 2-1 0-1 2-1 0-1 10-9 0-2 2-1 0-1 2-1 0-1 2-1 0-1 2-1 2-3 6-3 4 0 0 1 2 0 0 1 2 1 0 1 2 1 0 1 2 1 0 1 2 1 0 1 2 1 0 1 10 9 2 4 2 1 0 2 2 1 0 2 2 2 0 2 2 1 0 2 2 2 0 2 2 2 0 2 2 2 0 2 2 2 0 2 4 6 2 1 0 2 6 4 0 1 2 0 0 1 4 1"/>
<path d="M12 412l2 0 0-1 4 0 0-1 2 0 0-1 4-2 0-1 2-1 0-2 2-1 2-4 2-1 0-2 6-5 4 0 2 1 0 1 2 0 0 1 2 1 0 2 2 0 2 3 6 0 0-1 2-1 0-2 2-1 0-2 2-1 0-2 2-2 0-2 2-2 0-2 2-2 0-2 4-6 0-3 2-2 0-3 2-3 0-3 4-11 0-4 2-4 0-5 2-4 0-4 2-3 0-4 2-3 0-3 4-5 4 1 4 6 2 7 2 2 0 2 2 2 0 2 2 2 0 2 4 6 0 2 2 3 0 3 2 3 0 3 2 3 0 4 2 4 0 4 4 11 0 4 2 3 0 3 2 3 0 2 2 2 0 2 2 1 0 1 2 0 0 1 10-2 6 3 2 3 10 6 4 0 0 1 10 0"/>
<path d="M12 412l12-1 0-1 6-1 0-1 2 0 0-1 4-2 0-1 6-4 2-4 2-1 2-4 2-1 0-2 2-1 0-2 2-1 0-2 4-5 0-2 2-1 0-2 4-5 0-2 2-1 0-2 4-5 0-2 4-5 0-2 2-1 0-2 2-1 0-2 2-1 2-4 2-1 0-1 2 0 0-1 4 0 4 2 0 1 4 3 2 4 2 1 0 1 2 1 0 1 2 1 2 3 2 0 0 1 6 3 0 1 4 3 6 9 0 2 2 2 0 2 2 2 0 2 2 2 0 2 2 2 0 2 2 2 0 2 2 2 0 2 2 1 0 2 2 1 2 3 2 0 0 1 6 2 2 0 0-1 8 0 2-1 10 2 0 1 4 1"/>
<path d="M12 412l18 0 0-1 4 0 0-1 4-1 0-1 6-5 0-2 2-1 0-2 2-1 0-2 4-5 0-2 2-1 0-2 2-1 2-4 2-1 0-1 2-1 0-1 2-1 0-1 2-1 0-1 2-1 0-1 2-1 0-1 10-9 0-2 2-1 0-2 2-2 0-2 2-2 0-2 4-8 0-3 2-2 0-3 2-3 2-7 2-2 0-2 2-1 2-3 4 0 0 1 4 3 0 2 4 6 0 2 4 8 0 3 2 3 2 10 2 3 0 4 2 4 0 3 2 4 2 10 2 3 0 3 2 3 0 3 2 3 2 7 2 1 0 2 2 3 2 1 0 1 10 4 24 0"/>
<path d="M12 405l0-1 2 0 2-3 2 0 0-1 2-1 2-3 2 0 0-1 2-1 2-3 2 0 0-1 6-3 0-1 8-2 0-1 2 0 0-1 2 0 0-1 2 0 0-1 4-1 0-1 8-7 0-2 2-1 8-13 2-1 0-2 2-1 0-1 2-1 2-3 8-2 0 1 2 0 8 4 0 1 2 0 2 3 4 1 0 1 4 2 0 1 2 0 2 3 2 0 0 1 2 1 2 4 2 1 6 9 0 2 2 1 0 2 4 5 0 2 2 1 0 2 2 1 0 2 2 1 2 4 2 1 0 1 2 1 2 3 2 0 0 1 10 4 4 0 2 1 12 0"/>
<path d="M12 412l4 0 0-1 4 0 4-1 0-1 2 0 0-1 2 0 0-1 2-1 2-3 2 0 0-1 2-1 0-1 2-1 0-1 2-1 2-3 2 0 0-1 2 0 0-1 20 1 2-1 0-1 2 0 2-4 2-1 0-2 2-2 0-2 4-8 0-3 2-3 2-10 2-3 0-4 2-3 0-3 2-3 2-7 2-2 0-2 2-1 2-3 4-2 4 0 0 1 2 0 0 1 4 1 0 1 4 3 0 2 2 1 0 2 2 1 0 2 2 2 0 2 4 6 0 2 2 3 0 2 2 3 0 2 2 3 0 2 2 3 0 2 2 3 2 7 2 2 0 3 2 2 0 2 2 2 0 2 2 2 0 2 4 6 2 1 0 1 2 1 2 3 2 0 0 1 8 2 12 0"/>
<path d="M12 412l10 0 0-1 4 0 8-4 0-1 2 0 2-3 2 0 0-1 4-2 10-1 0-1 4-2 0-2 2-1 0-2 2-2 0-3 2-2 0-3 2-3 0-3 2-3 0-4 2-3 0-4 2-3 0-4 2-3 0-4 2-3 0-3 2-3 0-3 2-3 0-3 2-2 0-3 4-6 4-3 2 0 4 3 4 6 0 2 4 5 0 2 2 2 0 2 6 9 6 4 0 1 4 3 0 2 2 1 0 2 2 2 0 3 2 2 0 3 4 8 0 4 2 3 0 3 2 2 0 3 2 3 0 2 2 2 0 2 4 6 2 1 0 1 2 0 0 1 2 0 0 1 4 0 0 1 24 0"/>
<path d="M12 408l4-2 0-1 4-1 2-3 2 0 0-1 4-2 0-1 12-6 2 0 0-1 4 0 0-1 6-1 0-1 2 0 0-1 2 0 0-1 2 0 0-1 4-2 0-1 10-9 0-2 2-1 2-4 2-1 0-2 2-1 0-2 2-1 4-7 2-1 0-1 2-1 2-3 4-2 2 0 0-1 2 0 0 1 2 0 4 2 0 1 6 5 2 4 2 1 0 2 2 1 0 2 2 1 0 2 2 1 0 2 2 1 0 2 2 1 0 2 2 1 4 7 2 1 0 2 2 1 2 4 2 1 0 1 2 1 0 1 2 1 2 3 2 0 0 1 4 2 0 1 8 2 0 1 18 0"/>
<path d="M12 412l14-2 0-1 2 0 0-1 4-1 0-1 8-7 0-2 2-1 0-2 2-1 0-2 4-5 0-2 2-2 0-2 2-2 0-2 2-2 0-2 2-2 0-2 2-2 0-2 6-9 2-1 2-3 4-2 2 0 0-1 8 1 0 1 2 0 4 2 0 1 2 0 0 1 2 1 0 1 2 0 0 1 2 1 2 3 2 0 2 3 2 0 0 1 4 2 8 0 8-3 4 0 6 3 4 6 2 1 0 2 2 1 0 2 4 5 0 2 2 1 0 2 6 9 2 1 2 4 4 2 0 1 8 4 2 0 0 1 6 0"/>
<path d="M12 411l8-1 0-1 2 0 2-3 2 0 0-1 2-1 0-2 2-1 4-6 0-2 2-1 0-2 2-2 0-3 4-6 2-7 2-2 0-3 2-2 0-2 2-2 0-2 2-2 0-2 4-6 2-1 2-3 6 0 0 1 2 0 0 1 2 1 0 1 2 1 0 1 2 1 0 1 2 1 0 1 2 1 2 3 2 0 0 1 4 0 4-2 0-1 2-1 0-1 2-1 0-1 2-1 0-1 2-1 2-3 4-1 0-1 4 1 8 11 2 7 4 6 0 3 2 2 0 2 2 3 0 2 2 2 0 2 2 2 0 2 4 5 0 2 2 1 2 4 2 1 2 3 8 4 2 0 0 1 6 0 0 1 20 0"/>
<path d="M12 411l8-1 0-1 6-1 0-1 2 0 0-1 4-1 0-1 4-2 0-1 2 0 0-1 10-9 8-12 0-2 4-5 0-2 2-2 0-2 2-2 0-2 2-2 0-2 4-5 0-2 2-1 0-2 2-1 0-2 2-1 2-3 2 0 0-1 2 0 0-1 4 0 0 1 4 1 0 1 10 9 0 2 2 1 0 1 2 1 0 1 2 1 2 3 4 2 0 1 4 2 0 1 4 1 0 1 8 5 0 1 4 3 2 4 4 3 2 4 2 1 0 1 2 1 0 1 2 1 2 3 2 0 0 1 6 3 2 0 0 1 4 0 0 1 4 0 4 1 0 1 4 0 0 1 4 1"/>
<path d="M12 411l8-1 0-1 2 0 0-1 2 0 0-1 2 0 0-1 4-1 0-1 6-3 0-1 2 0 0-1 4-1 0-1 8-7 0-2 2-1 0-2 2-1 0-2 2-1 0-2 2-1 0-2 2-1 2-3 2 0 0-1 4 0 0 1 6 1 0 1 2 0 2-1 0-1 2 0 0-2 2-1 0-2 2-2 0-2 4-8 0-3 2-3 0-3 2-3 0-3 2-3 0-2 2-2 0-3 2-1 0-2 4-2 0 1 2 0 0 1 2 1 0 2 2 1 2 7 2 2 0 3 2 2 0 3 2 2 0 3 2 2 0 2 2 2 0 2 4 6 2 1 2 3 2 0 0 1 4 2 0 1 2 0 0 1 8 7 0 2 2 1 0 2 2 1 0 2 6 9 2 1 0 2 2 1 2 3 8 4 10 1"/>
<path d="M12 412l14-2 0-1 2 0 0-1 2 0 0-1 2 0 0-1 4-2 0-1 8-7 0-2 4-3 0-2 2-1 0-2 2-1 2-4 2-1 0-2 2-1 2-4 2-1 0-1 2-1 2-3 2 0 0-1 4-2 2 0 0-1 10-1 0-1 8-1 0-1 2 0 0-1 2 0 4-2 0-1 2 0 0-1 2 0 4-2 8 0 6 3 0 1 6 5 0 2 2 1 2 4 2 1 0 2 2 1 0 2 2 1 2 4 2 1 2 4 2 1 2 3 4 2 0 1 4 2 0 1 2 0 0 1 6 3 0 1 2 0 0 1 2 0 0 1 8 4 0 1 2 0"/>
<path d="M12 412l14-1 0-1 2 0 0-1 4-1 0-1 4-2 0-1 4-2 0-1 2 0 0-1 2 0 0-1 8-1 6-3 0-1 2-1 0-2 2-1 0-2 2-2 0-2 2-2 0-2 2-3 0-3 2-3 0-3 2-3 0-3 2-3 0-4 2-4 0-3 2-4 0-4 2-3 0-4 2-3 0-3 2-3 0-2 2-2 0-2 2-3 2-1 0-1 4 0 4 2 0 1 4 3 0 2 2 1 0 2 2 1 0 2 2 2 0 2 4 6 0 3 2 2 0 3 2 2 0 3 2 3 0 3 2 3 0 3 2 3 0 4 2 3 0 3 2 3 0 3 2 3 2 7 2 2 0 2 4 6 2 0 0 1 6 0 4-1 0-1 4 0 0 1 2 0 4 2 0 1 2 0 2 3 2 0 0 1 2 0 0 1 4 1 0 1 8 1"/>
<path d="M12 412l32 0 0-1 4 0 0-1 2 0 0-1 4-3 4-6 0-2 2-2 0-3 2-2 0-2 2-3 2-7 2-2 0-2 2-3 4-3 6 0 0 1 2 0 4-2 0-1 2-1 0-2 2-1 0-2 2-2 0-3 4-6 0-3 2-2 0-2 2-2 2-7 2-2 0-3 2-2 0-3 2-3 0-3 2-3 0-3 2-3 0-2 4-6 2 0 0 1 2 1 2 4 0 2 2 3 0 4 2 4 0 4 2 4 0 4 2 5 0 5 2 4 0 5 2 4 0 5 2 4 0 4 2 4 0 4 2 4 0 4 2 3 0 3 2 3 0 3 2 2 0 2 2 2 0 2 2 1 0 1 2 1 2 3 2 0 0 1 4 0 0 1 18 0"/>
<path d="M12 412l16-3 0-1 2 0 10-5 0-1 4-1 0-1 4-2 0-1 10-9 0-2 2-1 0-2 4-5 0-2 2-1 0-2 4-5 0-2 2-1 0-2 2-1 2-4 2 0 2-3 4-1 14 0 16-8 6 0 6 3 0 1 6 5 0 2 2 1 0 2 2 1 0 2 2 2 0 2 2 2 0 2 2 2 0 2 2 2 0 2 2 2 0 2 2 2 0 2 2 1 0 2 2 2 0 2 2 1 0 2 2 1 0 2 2 1 0 1 2 1 2 3 4 2 0 1 12 3"/>
<path d="M12 408l0-1 4-1 0-1 4-2 0-1 2-1 2-3 4-2 0-2 2-1 0-1 2-1 0-1 2-1 0-1 2-1 2-3 2 0 0-1 6-4 0-1 2 0 0-1 16-8 0-1 2 0 0-1 4-2 0-1 4-2 0-1 4-2 0-1 2 0 0-1 4-2 2 0 0-1 10-1 2 1 4 0 0 1 4 0 0 1 2 0 0 1 2 0 0 1 4 1 0 1 4 2 2 3 2 0 0 1 2 1 0 2 6 5 0 2 2 1 2 4 2 1 0 2 2 1 2 4 4 3 0 2 2 1 0 1 2 1 0 1 2 1 2 3 2 0 2 3 2 0 0 1 2 0 0 1 2 0 0 1 2 0 0 1 8 2 6 0"/>
<path d="M12 412l22 0 0-1 4 0 0-1 2 0 8-4 0-1 2 0 2-3 2 0 2-3 2 0 0-1 6-5 2-3 0-2 2-2 0-2 2-2 0-3 2-2 0-3 2-3 0-3 2-3 0-4 2-3 0-3 2-3 2-7 2-2 0-2 2-1 0-2 2-1 0-1 2 0 0-1 2 0 0-1 4-1 0-1 6-5 2-4 2-1 2-3 4-2 0 1 2 0 0 1 2 1 0 2 2 2 0 2 4 8 0 4 2 3 0 3 2 4 0 3 2 4 2 10 2 3 0 3 2 2 0 3 2 2 0 2 2 2 0 2 2 2 0 2 2 1 0 2 2 1 0 2 2 1 0 2 4 3 0 2 2 1 2 3 4 2 0 1 2 0 0 1 8 1 0 1 10 0"/>
<path d="M12 412l14-1 0-1 4 0 0-1 2 0 6-3 0-1 2 0 0-1 4-2 0-1 8-7 2-4 4-3 0-2 2-1 0-1 6-5 0-2 4-2 2-3 4-2 0-1 2 0 0-1 6-3 0-1 2 0 0-1 4-1 0-1 4-2 0-1 2 0 0-1 10-5 10 0 0 1 2 0 0 1 8 5 0 1 2 1 0 1 2 1 0 1 2 1 0 1 2 1 0 1 2 1 0 1 2 1 0 1 2 1 0 1 2 1 2 3 2 0 2 3 2 0 0 1 12 8 2 3 2 0 0 1 2 1 2 3 2 0 0 1 6 4 0 1"/>
<path d="M12 412l8 0 0-1 4 0 4-1 0-1 2 0 0-1 2 0 0-1 4-2 2-3 2 0 0-1 2-1 0-1 2-1 0-1 2-1 0-1 10-9 0-2 2-1 2-3 0-2 2-1 2-7 2-2 0-3 2-2 0-3 2-2 0-3 2-3 0-3 2-2 0-3 2-2 0-3 2-2 0-2 2-2 0-2 2-1 0-2 2-1 0-1 4-1 0-1 2 0 0 1 2 0 2 1 0 1 2 0 0 1 4 3 2 4 2 1 0 2 2 1 0 2 2 1 0 2 2 1 0 2 2 2 0 2 2 2 0 2 2 1 0 2 2 2 0 2 2 2 0 2 4 5 0 2 2 1 0 2 2 1 0 2 2 1 2 4 2 1 0 2 2 1 2 4 2 1 0 2 2 1 2 4 2 1 0 1 2 1 0 1 2 1 2 3 2 0 0 1 2 0 0 1 2 0 0 1 4 0 2 1 14 0"/>
<path d="M12 412l24 0 0-1 4 0 0-1 2 0 4-2 0-1 2 0 0-1 6-5 2-4 2-1 2-4 2-1 0-2 2-1 0-2 2-1 0-2 2-1 0-2 2-1 0-2 4-5 0-2 4-6 2-7 2-2 0-2 2-3 2-7 2-2 0-3 2-2 0-2 2-2 0-2 4-6 2-1 2-3 6 0 0 1 2 0 0 1 6 3 0 1 2 0 2 3 2 0 0 2 2 1 2 3 0 2 2 2 0 3 2 2 0 4 2 3 0 3 2 4 0 4 2 4 0 4 2 4 0 3 2 4 2 10 2 3 2 7 4 6 2 1 0 1 2 0 0 1 2 0 0 1 4 0 0 1 20 0"/>
<path d="M12 411l8-2 0-1 2 0 0-1 4-2 0-1 8-7 2-4 2-1 0-2 2-1 0-2 2-1 4-7 2-1 0-1 2-1 2-3 6-3 4 0 4 1 0 1 2 0 0 1 2 0 6 3 8 0 6-3 0-1 2 0 0-1 2-1 0-1 2-1 0-1 2-1 0-1 2-1 0-1 2-1 0-1 2-1 0-1 2-1 2-3 2 0 0-1 6-3 8 1 0 1 4 2 0 1 4 3 2 4 2 1 0 2 2 1 6 9 0 2 2 1 0 2 2 1 0 2 2 1 0 2 2 1 2 4 2 1 0 2 2 1 0 1 2 1 0 1 2 1 0 1 2 1 2 3 2 0 0 1 6 3 2 0 0 1 2 0"/>
<path d="M12 412l18 0 0-1 8-1 0-1 2 0 2-3 2 0 2-4 2-1 0-2 2-1 0-2 4-6 0-2 6-13 0-3 2-3 0-3 2-3 0-3 2-3 0-3 2-3 0-3 2-3 0-3 2-3 0-2 2-2 0-3 2-1 0-2 4-3 4 0 0 1 2 1 4 6 0 2 4 5 0 2 2 1 0 2 2 1 2 3 6 1 0-1 2 0 0-1 10-1 0 1 4 3 0 2 2 1 0 2 2 2 0 2 2 3 0 2 6 13 0 3 2 2 0 3 2 2 0 2 2 2 0 2 2 2 0 2 2 3 2 1 0 2 2 1 0 1 2 0 0 1 6 3 4 0 0 1 18 0"/>
<path d="M12 412l8 0 0-1 4 0 8-4 0-1 4-3 0-2 2-1 2-3 0-2 4-5 0-3 4-6 0-2 6-13 0-3 2-2 0-3 4-8 0-3 2-2 0-3 2-2 0-3 2-2 0-2 2-2 0-2 2-2 0-2 2-1 2-3 4 0 0 1 4 3 0 2 2 1 0 2 2 2 0 3 2 2 2 7 2 2 0 2 2 2 0 2 2 2 0 2 2 1 2 3 4 2 8 1 0 1 2 0 0 1 2 0 0 1 2 1 6 9 0 2 2 2 0 2 2 2 0 2 4 5 0 2 6 9 2 1 0 1 2 1 2 3 2 0 0 1 2 0 0 1 2 0 0 1 6 0 0 1 22 0"/>
<path d="M12 408l0-1 2 0 2-3 2 0 0-1 2-1 2-3 2 0 2-3 2 0 0-1 2 0 0-1 4 0 0-1 10 1 6-3 0-1 4-3 0-2 2-1 0-2 2-1 0-2 2-1 0-2 4-5 0-2 2-1 2-4 2-1 0-1 2-1 0-1 2-1 0-1 10-9 0-2 2-1 4-6 0-2 2-1 0-2 2-1 2-4 4-2 2 0 4 3 2 3 0 2 2 2 0 2 4 8 0 3 2 3 0 3 2 3 0 3 4 8 0 3 2 2 0 2 2 2 0 2 2 2 0 2 2 1 0 2 2 1 0 1 2 1 2 3 4 2 0 1 2 0 0 1 4 2 0 1 2 0 0 1 2 0 0 1 12 6 10 2 6 0"/>
<path d="M12 407l0-1 2 0 0-1 2 0 0-1 2 0 0-1 2 0 0-1 2 0 0-1 2 0 0-1 2 0 0-1 2 0 0-1 4 0 2-1 10 0 4-1 0-1 2 0 0-1 2 0 0-1 4-3 0-2 2-1 0-2 2-1 0-2 2-2 0-2 2-2 0-2 2-2 0-2 4-5 0-2 2-2 0-2 2-1 0-2 2-1 0-2 2-1 2-3 4-2 0-1 8-2 0-1 4 0 0-1 4 0 2-1 6 0 6 3 8 11 0 2 2 2 0 2 4 6 0 3 2 2 0 2 2 2 0 2 2 2 0 2 2 2 0 2 8 12 2 1 0 1 2 1 2 3 2 0 0 1 4 2 0 1 2 0 0 1 14 3 6 0"/>
<path d="M12 412l0-1 6 0 8-2 0-1 2 0 0-1 4-1 0-1 8-5 2-3 4-2 0-1 2-1 0-1 2-1 0-1 2-1 0-1 2-1 0-1 2-1 0-1 2-1 0-1 2-1 2-3 4-2 0-1 2-1 0-1 2-1 2-3 2 0 2-3 4-2 0-1 4-2 0-1 2 0 0-1 2 0 0-1 6-3 2 0 0-1 4 0 0-1 8 0 0 1 14 0 0 1 8 0 0 1 4 1 0 1 4 3 2 4 2 1 0 2 6 9 0 2 2 2 0 2 2 2 0 2 2 2 0 2 8 12 2 1 2 3 2 0 0 1 2 0 0 1 2 0 0 1 6 1"/>
<path d="M12 411l0-1 4 0 0-1 6-1 0-1 2 0 0-1 2 0 8-4 2 0 0-1 2 0 0-1 2 0 0-1 2 0 0-1 4-2 0-1 4-3 6-9 0-2 2-1 0-2 4-6 2-7 2-2 0-2 2-1 0-2 2-2 0-2 2-1 0-2 2-1 0-1 2-1 2-3 2 0 0-1 4-1 12 3 0 1 2 0 0 1 2 0 0 1 4 1 0 1 6 3 0 1 2 0 2 3 4 2 0 1 2 1 0 1 10 9 2 4 4 3 0 2 6 5 0 2 2 1 0 1 2 1 0 1 2 1 0 1 2 1 2 3 4 2 2 3 2 0 0 1 10 5 2 0 0 1 6 1"/>
<path d="M12 412l14 0 0-1 4 0 4-1 0-1 2 0 0-1 2 0 0-1 8-7 2-4 2-1 0-2 2-1 6-10 2-1 0-2 2-1 0-2 2-1 10-15 4-2 0-1 2 0 0-1 10-1 0-1 4-1 0-1 6-5 0-2 2-1 0-2 2-1 0-2 6-9 0-2 2-1 2-3 4 0 2 1 2 3 0 2 2 2 0 2 2 3 0 3 2 4 0 3 2 4 0 3 2 4 0 4 2 4 0 4 2 3 0 4 2 3 0 3 2 4 0 2 2 3 0 3 2 2 0 2 4 6 2 1 2 3 2 0 0 1 2 0 0 1 4 0 2 1 16 0"/>
<path d="M12 412l14 0 2-1 4 0 0-1 2 0 4-2 0-1 2 0 2-3 2 0 0-1 6-4 0-1 4-1 0-1 4-2 0-1 2 0 0-1 2-1 0-2 2-1 0-2 4-6 0-3 2-3 0-3 2-3 0-4 2-3 0-4 2-4 0-4 2-4 0-4 2-4 0-4 2-4 0-4 2-3 0-3 2-3 0-2 2-1 0-2 2-1 2 0 4 3 0 2 4 5 0 2 2 2 0 2 2 1 0 2 2 1 0 2 2 1 0 1 2 0 2 3 2 0 6 8 0 2 2 2 0 3 2 3 0 3 2 3 0 3 2 3 0 3 2 4 0 3 2 3 0 3 2 3 0 3 8 16 2 1 2 3 2 0 0 1 2 0 0 1 4 0 0 1 24 0"/>
<path d="M12 412l2 0 0-1 6 0 10-3 0-1 2 0 0-1 4-2 0-1 2 0 0-1 2-1 0-1 2-1 0-1 10-9 2-4 2-1 2-4 2-1 0-2 2-1 0-1 2-1 0-2 4-3 0-2 2-1 0-1 2-1 0-1 2-1 2-3 4-2 0-1 2 0 0-1 2 0 0-1 4 0 0-1 14-1 0-1 6-1 0-1 4 0 0-1 4 0 0 1 4 1 0 1 6 5 6 9 0 2 2 1 0 2 2 1 0 2 2 1 0 2 2 1 0 2 4 3 0 2 6 5 2 4 2 1 0 1 2 1 0 1 2 1 2 3 4 2 0 1 4 2 0 1 2 0 0 1 2 0 0 1 2 0 0 1 4 0 0 1"/>
<path d="M12 411l4 0 8-2 0-1 10-3 0-1 2 0 0-1 10-2 0-1 4-1 0-1 6-5 0-2 2-1 0-2 4-6 0-3 2-2 0-3 4-8 0-3 4-8 0-3 2-2 0-3 2-2 0-2 2-2 0-2 2-1 2-3 4-1 4 2 0 1 4 3 2 4 2 1 0 2 4 3 0 2 2 1 0 1 2 1 0 1 2 1 0 1 2 1 2 3 2 0 0 1 2 0 0 1 2 0 0 1 14 0 0 1 2 0 0 1 6 5 0 2 2 1 0 2 2 1 0 2 2 2 0 2 2 2 0 2 2 2 0 2 2 1 0 2 4 6 2 1 0 2 2 1 0 1 2 0 0 1 2 1 0 1 2 0 0 1 8 1 0 1 4 0"/>
<path d="M12 405l0-1 8-5 0-1 2-1 0-1 2-1 2-3 2 0 0-1 2-1 0-1 2-1 0-1 2-1 2-3 4-2 2-3 2 0 0-1 8-4 0-1 2 0 0-1 4-1 0-1 6-3 0-1 2 0 0-1 10-5 2 0 0-1 4 0 2-1 20 0 0 1 4 0 12 7 4 6 4 3 0 2 2 1 4 7 2 1 0 2 2 1 2 4 2 1 0 2 2 1 0 1 2 1 0 1 2 1 0 1 2 1 2 3 2 0 0 1 6 3 2 0 0 1 16 2"/>
<path d="M12 412l6 0 12-3 0-1 2 0 0-1 6-3 0-1 2 0 0-1 4-2 0-1 2 0 0-1 8-7 0-2 2-1 0-2 2-2 0-2 4-6 0-3 2-2 0-3 2-2 0-2 2-3 0-2 2-2 0-3 2-2 0-2 2-2 0-2 2-1 0-2 2-1 0-2 2-1 0-2 2-1 0-1 2-1 2-3 6-3 10 0 6 3 0 1 2 1 0 2 2 1 0 2 2 2 0 2 4 8 0 3 2 3 0 3 2 3 0 3 2 3 0 3 2 3 0 2 2 3 2 7 4 5 0 2 2 1 0 1 2 1 0 1 2 1 0 1 2 1 2 3 4 2 0 1 8 4 2 0 0 1 6 0 0 1 14 0"/>
<path d="M12 412l12-1 0-1 2 0 4-2 0-1 6-5 2-3 0-2 2-1 0-2 6-9 0-2 2-2 0-2 6-8 4-1 0-1 2 0 0 1 4 1 0 1 6 4 2 3 4 1 0-1 4-1 2-3 0-2 2-2 0-2 2-3 0-3 2-3 0-4 2-4 0-4 2-4 0-4 2-4 0-4 2-4 2-10 2-3 0-2 2-3 2-1 4 3 0 2 2 2 0 3 2 3 0 3 4 11 0 4 2 3 0 4 2 4 0 3 2 3 0 4 2 3 0 2 2 3 2 7 2 2 0 2 2 1 0 2 10 15 2 1 0 2 2 1 0 1 2 1 2 3 2 0 0 1 4 2 2 0 0 1 4 0 2 1 14 0"/>
<path d="M12 412l24 0 4-1 0-1 2 0 0-1 2 0 0-1 4-3 0-2 2-1 0-2 2-2 0-2 2-2 0-2 2-2 0-2 2-2 0-2 2-2 0-2 6-4 2 0 0 1 2 0 0 1 4 0 2-1 2-3 0-2 2-2 0-3 2-3 0-4 2-3 0-4 2-4 0-5 2-4 0-4 2-4 0-4 2-4 0-4 2-4 0-3 2-4 0-2 4-8 4 0 0 2 2 1 0 3 2 3 0 3 2 4 0 5 2 4 0 5 2 5 0 5 2 5 0 5 2 4 0 4 2 4 0 4 2 3 0 3 2 3 2 1 0 1 4 0 0-1 2 0 0-1 4 0 2 1 4 6 0 2 2 3 0 2 2 3 2 7 2 2 0 2 2 3 2 1 0 2 6 3 2 0 0 1 16 0"/>
<path d="M12 412l16 0 0-1 4 0 0-1 6-4 2-4 2-1 2-3 2-1 4 0 4 2 2 0 0-1 2-1 2-3 0-2 2-3 0-4 2-4 0-4 2-5 0-5 2-6 0-5 2-6 0-5 2-6 0-5 2-5 0-4 2-4 0-4 2-3 0-3 2-3 0-2 2-1 0-2 2-3 2-1 0-2 2-1 0-2 2-1 0-1 4 1 0 2 2 2 0 4 2 4 0 5 2 5 0 6 2 5 0 6 2 5 0 5 2 4 0 3 2 2 0 2 2 1 2 3 2 0 0 1 2 1 0 2 2 1 0 3 2 2 0 3 2 3 0 3 2 3 0 4 2 3 0 3 2 3 0 3 6 12 2 1 0 1 4 2 2 0 0 1 36 0"/>
<path d="M12 412l6 0 12-3 0-1 4-2 0-1 6-5 4-7 2-1 0-2 2-1 0-2 2-1 0-2 2-1 0-2 2-1 2-4 2-1 0-1 2-1 2-3 2 0 0-1 6-3 2 0 0-1 10-1 8-2 0-1 4-1 0-1 4-2 0-1 2-1 0-1 2-1 0-1 2-1 0-1 2-1 0-1 2-1 2-3 4-2 0-1 4-1 2 0 4 2 6 8 0 2 2 2 2 7 2 2 0 3 2 3 0 2 2 3 0 2 2 3 2 7 2 2 0 3 2 2 0 2 2 1 0 2 2 3 2 1 0 2 6 4 0 1 2 0 0 1 8 1 0 1 8 0"/>
<path d="M12 412l16 0 0-1 4 0 0-1 4-1 0-1 4-3 4-6 0-2 4-6 0-3 2-2 0-2 2-2 0-2 2-2 0-2 2-1 0-2 2-1 2-3 2 0 0-1 4-2 0-1 2-1 2-3 0-2 2-2 0-3 2-3 0-3 2-3 0-4 2-3 0-4 2-4 0-3 2-3 0-3 4-6 2 0 4 3 0 2 4 6 0 3 4 6 2 1 2 3 2 0 4 2 0 1 4 3 0 2 2 2 0 2 4 8 0 3 2 2 0 3 2 3 0 3 2 3 0 3 2 2 0 3 2 2 2 7 2 2 0 2 2 1 0 2 2 3 2 1 0 1 2 1 2 3 2 0 0 1 2 0 0 1 4 0 2 1 24 0"/>
<path d="M12 412l10 0 8-2 0-1 4-2 0-1 4-3 0-2 2-1 0-2 4-5 0-2 2-2 0-3 2-2 0-2 2-2 0-2 4-5 0-2 2-1 0-1 2-1 2-3 4-2 0-1 2 0 0-1 2 0 0-1 2 0 0-1 4-2 0-1 6-5 0-2 4-3 0-2 4-3 0-2 2-1 2-3 2 0 0-1 2-1 4 0 0 1 4 1 2 4 2 1 4 6 0 2 2 2 0 2 2 1 2 7 4 6 0 3 2 2 0 2 2 3 2 7 2 2 0 2 2 2 0 2 2 2 0 2 2 3 4 3 0 1 4 1 0 1 14-2 8 2 0 1 2 0 0 1 2 0 0 1 2 0 0 1 2 0 0 1 4 1"/>
<path d="M12 407l4-1 0-1 8-2 0-1 2 0 0-1 2 0 4-2 0-1 4-1 0-1 2-1 2-3 2 0 0-2 8-7 0-2 2-1 0-1 2-1 0-1 2-1 0-1 2-1 0-1 2-1 0-1 2-1 0-1 2-1 0-1 2-1 0-1 2-1 2-3 2 0 0-1 2-1 2-3 2 0 0-1 6-4 0-1 2 0 0-1 2 0 0-1 4-1 6 0 0 1 6 1 0 1 4 2 0 1 2 0 0 1 2 1 0 1 2 1 0 1 10 9 0 2 4 3 2 4 2 1 6 9 4 3 0 2 2 1 0 1 2 1 0 1 2 1 0 1 2 1 0 1 2 1 2 3 4 2 0 1 2 0 0 1 2 0 0 1 4 1 0 1 4 0 0 1 6 0 2 1"/>
<path d="M12 411l0-1 4 0 0-1 2 0 14-7 0-1 4-1 0-1 4-2 0-1 2 0 0-1 4-1 0-1 4-2 0-1 2 0 0-1 8-7 0-2 2-1 0-2 2-1 0-2 4-5 0-2 6-9 0-2 2-2 0-2 2-1 0-2 2-1 0-1 2-1 2-3 4-1 6 3 0 1 4 3 0 2 2 1 2 4 2 1 0 2 2 1 0 2 2 1 0 1 2 1 0 1 2 1 0 1 2 1 2 3 2 0 0 1 8 4 2 0 0 1 2 0 0 1 2 0 4 2 2 0 0 1 2 0 0 1 8 2 0 1 2 0 0 1 2 0 0 1 2 0 0 1 2 0 0 1 2 0 0 1 4 1 0 1 4 2 0 1 2 0 0 1 4 2 0 1 4 2 0 1 2 0"/>
<path d="M12 412l10-2 8-4 0-1 2 0 2-3 2 0 0-1 8-7 2-4 2-1 2-4 2-1 4-7 2-1 0-2 2-1 0-2 2-1 6-10 2-1 0-2 2-1 0-2 2-1 0-2 2-1 0-2 2-1 0-2 2-1 2-4 2-1 2-3 2 0 0-1 6 0 0 1 6 5 0 2 2 1 0 2 2 1 0 2 2 1 0 2 2 1 0 2 4 3 0 2 6 4 2 3 2 0 2 3 4 2 0 1 6 5 0 2 4 3 0 2 4 3 0 2 2 1 2 4 4 3 0 2 2 1 2 3 2 0 2 3 2 0 0 1 2 0 0 1 2 0 0 1 14 2"/>
<path d="M12 411l0-1 2 0 6-3 0-1 2 0 0-1 4-3 0-2 2-1 6-9 0-2 2-2 0-2 2-2 0-2 2-2 0-2 2-2 0-2 2-2 0-2 2-2 0-2 2-2 0-2 2-2 0-2 2-1 0-2 2-1 2-3 2 0 0-1 4 0 4 2 2 3 2 0 0 1 2 1 0 1 2 1 2 3 2 0 0 1 8 0 0-1 4-1 0-1 6-3 0-1 4-1 4 0 6 3 0 1 4 3 0 2 2 1 6 9 0 2 2 1 0 2 6 8 0 2 2 1 4 7 2 1 0 1 2 1 0 1 2 1 0 1 2 1 2 3 2 0 0 1 8 4 4 1 6 0 0 1 12 0"/>
<path d="M12 410l6-1 0-1 2 0 0-1 2 0 0-1 4-1 0-1 2-1 0-1 2 0 0-1 2-1 0-1 2-1 0-1 2-1 0-1 2-1 0-1 2-1 0-1 2-1 0-1 2-1 2-3 4-2 2-3 2 0 0-1 4-2 0-1 2 0 0-1 2 0 0-1 2 0 0-1 4-1 0-1 6-3 0-1 4-1 0-1 4-2 0-1 2 0 0-1 2 0 0-1 4-2 2 0 0-1 2 0 0-1 8-2 10 0 0 1 2 0 4 2 0 1 2 0 0 1 10 9 2 4 2 1 2 4 2 1 0 2 4 3 0 2 2 1 0 1 2 1 0 1 2 1 0 1 2 1 2 3 2 0 0 1 10 5 2 0 0 1 4 0 0 1 8 2"/>
<path d="M12 412l2 0 0-1 6 0 0-1 2 0 12-7 0-1 4-3 2-4 6-5 0-2 6-5 2-4 2-1 4-6 2-1 6-9 0-2 2-1 0-2 2-1 0-2 4-6 2-1 0-1 4-3 0-1 2 0 0-1 14 0 0-1 8-2 0-1 4 0 4 2 0 2 2 1 2 3 0 2 2 2 0 3 2 2 0 3 4 8 0 3 2 3 0 3 4 8 0 3 2 2 0 2 2 3 0 2 2 2 0 2 2 1 0 2 2 1 2 4 2 0 0 1 2 1 0 1 2 0 0 1 8 1 0 1 20 0"/>
<path d="M12 412l10-1 8-4 0-1 2 0 0-1 2-1 0-1 2-1 0-1 2-1 0-1 2-1 0-1 2-1 0-1 2-1 0-1 2-1 2-3 2 0 2-3 2 0 0-1 2-1 2-4 2-1 0-2 2-2 0-2 4-6 0-3 4-8 0-3 2-3 0-2 2-3 2-7 2-2 0-2 2-1 0-2 2-1 0-1 2 0 0-1 4 0 4 1 0 1 2 0 0 1 4 2 0 1 2 0 0 1 6 5 0 2 2 1 0 2 2 2 0 2 4 8 0 3 2 3 0 3 2 3 0 3 2 3 0 3 2 3 0 3 2 2 0 3 8 12 2 0 0 1 6 0 0-1 2 0 0-1 2 0 0-1 2 0 4-2 4 0 0-1 2 1 4 0 0 1 2 0 0 1 2 0 0 1 4 1 2 3 2 0 0 1 6 3"/>
<path d="M12 412l14-2 0-1 2 0 4-2 0-1 2 0 0-1 8-7 0-2 2-1 2-3 0-2 2-1 0-2 2-2 0-2 4-6 0-3 2-2 0-3 2-2 0-3 2-2 0-3 2-2 0-3 2-2 0-2 2-3 0-2 2-2 0-2 2-1 0-2 2-1 2-3 2 0 0-1 4 0 0 1 2 0 0 1 2 1 0 1 10 9 0 2 2 1 0 1 2 1 0 1 2 1 0 1 2 1 2 3 2 0 2 3 2 0 0 1 4 2 0 1 2 0 2 3 2 0 0 1 2 1 0 1 2 1 0 1 10 9 2 4 4 3 0 2 6 5 0 2 2 1 2 3 2 0 2 3 4 2 0 1 2 0 0 1 6 1 0 1 12 1"/>
<path d="M12 412l0-1 6 0 0-1 2 0 12-7 0-1 10-9 2-4 8-7 2-4 4-3 0-2 4-3 0-2 2-1 2-4 2-1 0-2 2-1 2-4 2-1 0-2 4-3 0-2 2-1 0-1 2-1 0-1 4-3 0-1 4-2 4 0 0 1 2 0 0 1 4 3 8 12 0 2 2 1 0 2 2 1 0 2 2 1 0 2 2 1 0 2 2 1 2 4 4 3 0 2 2 1 0 1 2 1 0 1 2 1 2 3 4 2 0 1 2 0 0 1 4 2 2 0 0 1 2 0 0 1 2 0 12 6 0 1 2 0 0 1 6 3 0 1 2 0 0 1 2 0 0 1 2 0 0 1 4 1"/>
<path d="M12 412l20 0 0-1 4 0 0-1 2 0 2-1 0-1 2 0 8-12 0-3 2-2 0-3 2-3 0-3 2-3 0-3 2-3 0-3 2-3 0-4 2-3 0-3 2-3 0-3 2-2 0-3 2-2 0-2 2-3 4-3 4 0 0 1 2 0 0 1 2 1 0 2 2 1 2 3 4 2 4-2 2-3 0-2 2-2 2-7 2-2 0-3 4-6 4 0 2 3 0 2 2 2 0 3 2 3 0 3 2 4 0 4 2 4 0 4 2 5 0 4 2 4 0 4 2 4 0 4 2 3 0 4 2 3 0 3 2 3 2 7 4 6 2 1 0 1 10 4 28 0"/>
<path d="M12 412l6 0 0-1 6 0 0-1 6-1 0-1 4-2 0-1 6-5 8-12 0-2 2-2 0-2 2-2 0-2 2-2 0-2 2-2 0-2 2-2 0-2 2-2 0-2 2-2 0-2 2-1 0-2 6-9 2-1 2-3 2 0 0-1 4-1 4 1 0 1 2 0 0 1 2 0 0 1 2 1 2 3 2 0 0 1 2 1 0 1 2 1 0 1 2 1 0 1 2 1 2 3 2 0 0 1 2 1 0 1 2 0 2 3 2 0 0 1 4 2 0 1 2 0 0 1 4 2 0 1 2 0 0 1 4 2 0 1 2 0 0 1 8 5 0 1 2 1 0 1 2 1 0 1 2 1 0 1 2 1 0 1 2 1 0 1 2 1 0 1 2 1 0 1 2 1 0 1 2 1 2 3 4 2 0 1 2 0 0 1 2 0 0 1 2 0 0 1 8 1"/>
<path d="M12 409l2 0 0-1 4-1 0-1 8-5 0-1 2-1 2-3 4-2 0-1 2-1 2-3 2 0 2-3 2 0 0-1 4-2 0-1 2 0 0-1 2 0 0-1 2 0 0-1 2 0 0-1 2 0 0-1 4-1 0-1 8-5 2-4 2-1 6-9 0-2 2-1 0-2 2-2 0-2 2-1 0-2 4-6 2-1 2-3 2-1 4 0 2 1 0 1 2 0 0 2 2 1 4 6 0 2 2 2 0 2 2 1 0 2 2 2 0 2 2 2 0 2 2 2 0 2 4 5 0 2 2 1 0 2 2 1 0 2 2 1 0 2 2 1 0 2 2 1 8 12 2 1 0 1 2 1 0 1 2 1 0 1 2 1 2 3 2 0 0 1 2 0 0 1 2 0 0 1 10 2 10 0"/>
<path d="M12 410l4-1 0-1 2 0 0-1 2 0 0-1 2 0 0-1 6-3 2 0 0-1 2 0 0-1 8-1 0-1 2 0 0-1 4-1 0-1 6-5 0-2 2-1 0-2 2-1 0-2 2-2 0-2 2-2 0-2 2-2 0-2 2-2 0-2 2-2 0-2 2-2 0-2 2-1 0-2 2-3 2-1 0-2 2-1 2-3 8-5 0-1 6-4 0-1 6-3 2 0 0 1 4 1 6 9 2 7 2 2 0 3 2 2 0 3 2 3 0 2 2 2 0 3 2 2 0 2 2 2 0 2 4 6 2 1 0 1 2 1 0 1 2 1 2 3 2 0 0 1 2 1 2 3 2 0 0 1 2 1 0 1 2 1 2 3 2 0 2 3 8 4 2 0 0 1 14 1"/>
<path d="M12 412l30 0 4-1 0-1 2 0 4-6 0-2 2-3 0-3 2-3 0-4 2-4 0-4 2-5 0-5 2-5 0-5 2-5 0-5 2-5 0-4 2-5 0-5 2-4 0-4 2-5 0-4 2-4 0-4 2-4 0-3 2-3 0-3 2-2 0-2 2-1 2 0 0 1 2 1 0 2 4 6 0 3 2 3 0 3 2 3 0 3 2 3 0 3 2 3 0 4 2 3 0 4 2 4 0 4 4 11 0 4 2 4 0 3 2 3 0 3 2 3 0 2 2 1 0 2 4 2 4 0 0 1 2 0 0 1 2 1 0 2 2 1 0 2 2 2 0 2 2 3 0 2 2 2 0 2 2 2 0 2 2 1 2 3 4 2 2 0 0 1 32 0"/>
<path d="M12 410l4-1 0-1 2 0 0-1 2 0 2-3 2 0 0-1 4-3 2-4 2-1 2-4 2-1 0-2 2-1 0-2 2-1 4-7 2-1 0-1 2-1 0-1 4-3 2-3 4-2 0-1 2 0 0-1 2 0 0-1 2 0 0-1 2 0 0-1 2 0 0-1 2 0 0-1 10-3 0-1 10 0 0 1 2 0 2 1 0 1 2 0 0 1 4 2 0 1 2 1 0 1 2 1 0 1 2 1 0 1 2 1 0 1 2 1 2 3 4 2 0 1 2 0 0 1 2 0 0 1 2 0 0 1 8 2 4 0 0 1 4 0 0 1 2 0 0 1 2 0 0 1 4 1 0 1 4 2 2 3 2 0 0 1 2 1 0 1 2 1 2 3 4 2 2 3 2 0 0 1 8 4 2 0"/>
<path d="M12 411l4 0 4-1 0-1 6-1 0-1 2 0 0-1 4-1 0-1 4-2 0-1 2 0 0-1 2-1 0-1 10-9 0-2 2-1 2-4 2-1 0-2 2-1 0-2 2-1 0-2 2-1 2-4 2-1 0-1 2-1 0-1 2-1 0-1 2-1 2-3 2 0 0-1 26-13 4-1 4 0 0 1 4 1 0 1 6 5 0 2 2 1 0 2 2 2 0 2 2 1 0 2 2 2 0 2 2 2 0 2 2 2 0 2 2 2 0 2 2 2 0 2 2 1 0 2 2 1 0 2 2 1 4 6 2 0 2 3 2 0 0 1 2 0 0 1 10 5 2 0 0 1 2 0 0 1 6 1 0 1 4 0 0 1"/>
<path d="M12 411l8-1 10-5 0-1 10-9 0-2 2-1 2-4 2-1 0-2 2-1 6-9 6-4 0-1 2 0 0-1 4-1 4 0 0 1 4 0 0 1 2 0 0 1 2 0 0 1 8 2 4-1 4-2 0-1 2 0 0-1 2-1 0-2 4-3 0-2 2-1 2-4 2-1 0-2 2-1 2-3 6-3 2 0 6 3 4 6 2 1 0 2 2 1 0 2 4 5 0 2 4 5 0 2 4 5 0 2 2 1 0 2 2 1 0 2 2 1 6 9 2 1 2 3 2 0 2 3 2 0 0 1 10 4"/>
<path d="M12 407l6-3 0-1 4-2 2-3 2 0 2-3 4-2 0-1 4-2 0-1 2 0 0-1 2 0 0-1 2 0 0-1 2 0 0-1 2 0 0-1 8-2 0-1 2 0 0-1 4-1 0-1 4-2 0-1 2 0 0-1 4-2 2-3 2 0 0-1 2-1 2-3 2 0 2-3 4-2 0-1 4-2 0-1 2 0 0-1 2 0 0-1 4-1 6 0 0 1 2 0 4 2 0 1 2 0 0 1 2 1 2 3 2 0 0 1 2 1 0 1 2 1 0 1 2 1 0 1 2 1 0 1 2 1 0 1 2 1 0 1 2 1 0 1 2 1 0 1 2 1 2 3 2 0 0 1 2 1 2 3 4 2 2 3 2 0 2 3 4 2 0 1 4 2 0 1 4 2 0 1 2 0 0 1 2 0 0 1 2 0 0 1 2 0 0 1 4 1"/>
<path d="M12 412l24 0 8-3 6-8 0-2 2-2 0-2 2-2 0-2 2-2 0-2 2-1 0-2 4-2 8 1 0-1 4-3 0-2 2-2 0-3 2-3 0-3 2-4 0-4 2-4 0-4 2-4 0-4 2-5 0-4 2-4 0-4 2-3 0-4 2-3 0-4 2-3 0-3 2-2 0-3 2-2 0-2 4-3 2 0 2 3 2 4 0 3 2 3 0 3 2 4 0 4 2 5 0 4 2 4 0 5 2 4 0 4 2 5 0 4 4 11 0 4 2 3 0 3 2 3 0 3 2 2 0 3 2 2 0 2 2 2 0 2 2 2 0 2 6 9 2 1 2 3 2 0 0 1 2 0 0 1 4 0 0 1 24 0"/>
<path d="M12 411l6 0 0-1 2 0 8-4 0-1 8-7 0-2 2-1 0-2 2-1 0-2 2-1 0-2 2-1 0-2 10-15 2-1 0-2 2-1 0-1 2-1 2-3 4-2 0-1 2 0 0-1 8-4 0-1 2 0 0-1 2 0 8-4 2 0 0-1 4 0 0-1 10 1 0 1 4 2 0 1 4 3 0 2 2 1 0 2 2 1 0 2 2 2 0 2 2 2 0 2 2 2 0 2 2 2 0 2 2 2 0 2 2 2 0 2 4 5 0 2 2 1 0 2 2 1 0 1 2 1 2 3 6 3 16 1 16 5"/>
<path d="M12 411l0-1 2 0 2-1 0-1 2 0 0-1 8-7 4-6 6-3 2 0 0 1 4 1 0 1 4 2 0 1 6 3 8-2 0-1 8-7 4-6 0-2 2-2 0-2 4-6 0-3 2-2 0-3 2-2 0-3 2-2 0-3 2-2 0-3 2-2 2-7 2-2 0-2 2-1 0-2 2-2 0-2 2-1 0-2 2-3 2-1 0-2 2-1 0-1 4-1 4 3 0 2 2 2 0 3 2 3 0 3 2 3 0 4 4 11 0 4 2 4 0 3 2 3 0 3 2 3 0 3 2 2 0 3 6 9 2 1 0 1 2 0 0 1 4 2 0 1 2 0 0 1 2 0 0 1 4 2 0 1 2 1 2 3 4 2 2 3 2 0 0 1 2 0 0 1 2 0 0 1 10 1"/>
<path d="M12 412l14 0 8-2 0-1 2 0 0-1 4-2 4-6 2-1 0-2 4-5 0-2 2-2 0-2 2-2 0-2 2-2 0-2 2-2 0-2 2-2 0-2 2-1 0-2 2-1 0-1 4-1 4 2 0 1 2 0 0 1 2 1 4-1 2-3 0-2 2-2 0-3 2-3 0-3 2-4 0-4 2-3 0-4 2-4 0-3 2-3 0-3 2-3 0-2 4-3 2 0 4 6 0 2 4 8 0 3 4 8 0 3 2 3 0 3 2 2 0 3 2 3 0 3 2 2 0 3 2 3 2 7 2 2 0 3 4 5 0 2 2 1 2 3 2 0 0 1 16 0 0 1 2 0 4 2 0 1 2 0 0 1 6 4 2 3 2 0 0 1 2 0 0 1 4 1"/>
<path d="M12 412l26 0 0-1 4 0 0-1 2 0 0-1 2 0 0-1 4-2 0-2 4-3 0-2 2-1 0-2 2-1 0-2 4-5 0-2 4-6 0-2 2-3 0-3 2-2 0-3 2-4 0-3 4-11 0-4 2-3 0-4 2-3 0-3 2-3 0-3 6-9 2 0 0-1 2 0 0-1 4-1 4 0 4 3 0 2 4 8 0 4 2 3 0 4 2 4 0 4 2 5 0 4 2 4 0 4 2 4 0 3 2 3 0 3 4 8 4 3 10 0 0 1 2 0 0 1 4 2 2 3 6 3 2 0 0 1 4 0 0 1 4 1 0 1 4 2 0 1 6 4 0 1 2 0 0 1 4 1"/>
<path d="M12 410l0-1 6-1 0-1 6-1 0-1 4-1 22 1 0-1 4-1 0-1 6-5 0-2 2-1 0-2 2-1 0-2 2-2 0-2 2-2 0-2 4-5 0-2 2-2 0-2 2-1 0-2 2-1 0-2 2-1 0-1 2-1 0-1 2-1 0-1 2-1 2-3 2 0 2-3 2 0 2-3 2 0 2-3 4-2 0-1 4-2 0-1 8-2 4 1 0 1 2 0 0 1 6 5 0 2 2 1 0 2 2 2 0 2 2 1 0 2 2 2 2 7 4 6 2 7 2 2 0 2 2 2 0 2 4 5 0 2 2 1 0 2 2 1 0 2 2 1 0 1 2 1 2 3 2 0 0 1 6 3 8 1"/>
<path d="M12 412l12 0 0-1 4 0 8-4 0-1 2-1 6-9 0-2 2-2 0-2 2-2 0-3 2-2 0-3 2-2 0-3 2-2 0-2 2-3 2-7 2-2 0-3 2-2 0-2 2-2 0-2 2-2 0-2 2-2 0-2 4-6 0-3 2-2 0-2 2-2 0-2 2-1 0-2 4-3 2 0 4 3 0 2 4 6 0 3 2 2 0 3 2 3 0 3 2 3 0 2 2 3 2 7 2 2 0 2 2 2 0 2 2 1 2 4 2 0 2 3 2 0 0 1 4 1 0 1 8 5 4 6 2 1 2 4 2 1 0 2 2 1 2 4 2 1 0 2 2 1 2 3 2 0 0 1 4 2 2 0 0 1 4 0 0 1 18 0"/>
<path d="M12 412l14-1 0-1 2 0 0-1 4-1 0-1 4-2 0-1 4-2 0-1 2 0 0-1 8-4 0-1 4-3 2-3 0-2 2-2 0-2 2-2 0-3 4-8 0-3 2-3 0-3 2-3 2-7 4-6 0-2 6-9 4-3 0-2 2-1 0-1 2 0 0-1 4-2 2 0 0-1 2 0 0 1 2 0 0 1 2 0 0 1 2 1 0 2 2 1 0 2 4 6 0 2 2 3 0 3 2 2 0 3 2 3 0 4 2 3 0 3 2 3 0 3 2 3 0 3 2 3 0 3 2 2 0 2 4 7 6 4 10 0 0-1 2 0 10 2 0 1 2 0 0 1 4 2 2 3 2 0 0 1 4 2 0 1 8 2"/>
<path d="M12 407l4-2 2 0 0-1 2 0 0-1 10 0 4 1 0 1 4 0 0 1 6 0 6-3 0-1 6-5 4-6 0-2 2-2 0-2 2-2 0-2 4-6 2-7 2-2 2-7 2-2 0-2 2-2 0-2 4-6 2-1 0-1 2-1 2-3 4-2 0-1 2 0 0-1 4-1 6 0 0 1 2 0 0 1 4 3 0 2 6 9 0 3 2 2 0 2 2 3 2 7 2 2 0 3 2 2 0 2 2 2 0 2 2 2 0 2 2 2 0 2 2 1 0 2 2 1 0 1 2 1 2 3 4 2 2 0 0 1 2 0 4-1 0-1 2 0 6-3 2 0 0-1 4 0 0 1 2 0 6 3 0 1 4 3"/>
<path d="M12 412l24 0 4-1 0-1 2 0 0-1 2-1 2-3 0-2 4-6 0-3 2-2 0-2 4-8 2-1 0-1 4 0 2 1 4 0 0-1 2 0 8-12 0-2 4-6 0-3 2-2 0-3 2-3 0-4 2-3 0-4 2-5 0-5 2-5 0-5 2-6 0-5 2-5 0-5 2-5 0-3 2-2 0-2 2 0 2 4 0 4 2 4 0 6 2 6 0 6 2 6 0 6 2 6 0 5 2 5 0 4 2 4 0 3 2 3 0 3 2 2 0 3 4 6 0 3 2 2 0 2 2 2 0 2 4 5 0 2 4 5 0 2 2 1 0 2 4 6 2 1 2 3 4 2 2 0 0 1 12 0 0-1 4 0 0-1 4-2 0-1 4-3 0-2 2-1"/>
<path d="M12 412l10 0 0-1 8-1 0-1 4-1 0-1 6-5 0-2 2-1 0-2 2-1 0-2 2-2 0-2 4-6 2-7 2-2 0-2 2-2 0-2 2-2 0-2 6-8 4-2 8 0 2 1 8-1 0-1 2 0 0-1 2 0 0-1 2 0 0-1 4-2 2 0 0-1 12 0 12 3 0 1 4 3 4 6 0 2 4 6 0 3 2 2 0 3 2 2 0 2 2 3 2 7 2 2 0 2 2 2 0 2 2 1 0 2 2 1 0 1 2 1 2 3 4 2 2 0 0 1 4 0 2 1 12 0"/>
<path d="M12 403l0-1 2-1 0-1 2 0 0-1 6 0 4 1 0 1 6 0 0-1 6-1 0-1 4 0 0 1 4 1 6 0 0-1 4-3 0-2 2-2 0-2 4-8 0-4 2-3 0-4 2-4 0-4 2-4 0-4 2-4 0-5 2-4 0-4 2-4 0-5 2-4 2-10 2-3 0-3 2-2 0-2 2-3 4-1 4 3 0 2 4 8 0 3 2 3 0 3 2 4 0 4 2 4 0 4 2 4 0 4 2 4 0 4 2 4 0 4 2 3 0 4 2 3 0 3 2 3 0 2 2 2 0 3 10 15 2 1 2 3 4 2 4 0 0-1 2 0 0-1 4-2 2-3 2 0 0-1 4 0 4 2 0 1 2 1 2 3 4 2 0 1 2 0 0 1 2 0 0 1 4 0 0 1 6 0"/>
<path d="M12 410l6-3 0-1 6-5 0-2 2-1 6-9 6-4 0-1 4-1 8 0 0-1 4-1 0-1 4-3 0-2 2-1 0-2 2-2 2-4 0-2 2-2 0-3 2-2 0-3 2-2 0-3 2-3 0-3 2-3 0-2 2-3 2-7 2-3 2-1 0-1 4 0 2 3 0 2 2 2 0 3 2 3 0 3 2 4 0 4 2 4 0 4 2 5 0 4 2 4 0 3 2 4 0 3 2 4 0 2 2 3 0 2 2 1 0 2 4 2 6-3 2-4 2-1 0-1 2-1 0-1 2-1 2-3 8-3 0 1 2 0 4 2 0 1 6 5 0 2 2 1 0 2 2 1 0 2 2 1 0 2 2 1 0 2 2 1 4 6 4 2 0 1 2 0 0 1 10 2"/>
<path d="M12 403l0-1 4-2 0-1 10-5 14-2 0-1 2 0 2-3 2 0 0-1 2-1 0-2 4-3 0-2 2-1 0-2 4-5 0-2 4-6 2-7 2-2 0-2 2-2 0-2 2-2 0-2 2-2 0-2 2-1 0-2 2-1 0-1 2-1 4 0 0 1 4 3 0 2 2 2 0 2 2 2 0 2 4 6 0 2 2 3 0 2 2 2 0 2 2 2 0 2 2 1 0 2 2 3 2 1 0 2 2 1 2 3 4 2 0 1 2 0 0 1 4 0 0 1 6 0 10-3 4 0 8 4 0 1 6 5 0 2 2 1 0 1 2 1 0 1 2 1 0 1 2 1 2 3 8 4 2 0 0 1 4 0"/>
<path d="M12 412l14 0 0-1 10-1 0-1 2 0 0-1 4-1 0-1 8-7 2-4 2-1 0-2 2-1 0-2 2-1 0-2 2-1 0-2 2-1 0-2 2-1 2-4 2-1 0-1 2-1 2-3 2 0 0-1 6-3 2 0 0-1 2 0 12-6 0-1 2 0 0-1 2 0 0-1 10-5 2 0 0-1 4 0 0-1 8 1 0 1 4 1 2 3 2 0 0 2 2 1 0 1 2 1 0 2 2 1 0 2 4 5 0 2 2 2 0 2 2 1 0 2 2 2 0 2 2 2 0 2 2 1 0 2 4 6 2 1 0 2 2 1 0 1 4 2 0 1 2 0 0 1 4 1 8 0"/>
<path d="M12 408l4-1 0-1 2 0 0-1 2 0 0-1 10-5 0-1 2 0 0-1 2 0 0-1 4-1 0-1 6-3 0-1 2 0 2-3 2 0 0-1 8-7 0-2 4-3 0-2 2-1 2-4 2-1 0-2 2-1 2-4 2-1 0-1 2-1 2-3 6-3 8 0 0 1 4 0 0 1 4 0 2 1 4 0 2-1 8 1 0 1 4 2 2 4 2 1 0 2 2 1 0 2 2 2 0 2 2 2 0 2 2 1 0 2 2 2 0 2 2 2 0 2 2 1 0 2 2 1 0 2 2 1 0 1 2 1 0 1 2 1 2 3 2 0 0 1 2 0 0 1 2 0 0 1 2 0 0 1 6 1 0 1 6 1 0 1 6 1 0 1 4 1"/>
<path d="M12 412l14 0 2-1 4 0 0-1 2 0 0-1 4-1 2-3 2 0 0-1 2-1 2-4 4-3 0-2 4-3 0-2 2-1 2-4 2-1 0-2 2-1 0-2 2-1 0-2 4-6 0-2 2-3 2-7 2-2 0-3 2-2 0-3 2-2 0-2 2-1 0-2 2-1 2-3 4 0 8 4 2 0 4-1 0-1 4-2 0-1 2 0 0-1 4 0 4 2 0 2 2 1 0 2 4 6 0 2 6 13 0 3 2 2 0 3 2 2 0 3 2 2 2 7 2 2 0 2 2 2 0 2 6 9 2 1 0 2 2 1 0 1 2 0 0 1 2 1 0 1 2 0 0 1 8 1 0 1 14 0"/>
<path d="M12 412l14 0 4-1 6-3 0-1 2-1 2-3 0-2 2-2 0-2 2-2 0-3 2-3 0-3 2-3 0-4 4-11 0-4 2-4 2-10 2-3 0-3 2-2 0-2 2-1 0-1 4 0 0 1 2 1 0 2 2 1 0 2 2 1 0 2 2 1 0 2 4 2 0-1 2 0 4-6 0-2 2-3 0-3 4-8 0-3 6-9 4 1 4 7 0 2 4 8 2 10 2 3 2 10 2 3 0 4 2 3 0 3 2 3 0 3 2 3 0 3 2 2 0 3 2 2 0 3 2 2 0 2 4 6 2 1 2 3 10 4 32 0"/>
<path d="M12 402l2-3 2 0 0-1 6-3 2 0 0-1 8 0 0-1 4 0 0-1 4-1 0-1 4-3 8-12 0-2 2-1 0-2 4-6 2-1 0-2 2-1 2-4 4-3 0-2 6-5 2-4 6-4 0-1 2 0 0-1 6 0 0 1 2 0 0 1 2 1 0 2 2 1 2 3 0 2 4 5 0 2 2 2 0 2 2 2 0 2 2 2 0 2 2 2 0 2 10 15 0 2 2 1 0 2 2 1 2 4 2 1 0 2 2 1 0 1 2 1 2 3 4 2 0 1 4 1 0 1 12 0 0-1 8-2 0-1 2 0 0-1 4 0 0-1 10 1"/>
<path d="M12 412l10 0 0-1 6 0 0-1 2 0 6-3 0-1 6-4 2-4 2-1 4-6 0-2 2-1 0-2 2-2 0-2 2-2 0-2 2-2 0-2 4-6 0-3 2-2 0-2 2-2 0-2 2-2 0-2 2-1 0-2 2-1 2-3 2 0 0-1 6 0 0 1 2 0 0 1 2 0 0 1 8 1 0-1 2 0 2-3 2 0 2-4 2-1 2-3 2 0 0-1 2-1 4 0 2 1 0 1 2 1 2 3 0 2 2 2 0 2 4 8 0 3 2 3 0 3 2 3 0 4 2 3 0 3 2 3 0 3 2 3 0 3 2 2 0 3 2 2 0 2 6 9 2 0 2 3 8 2 20 0"/>
<path d="M12 412l8 0 8-2 0-1 4-2 10-14 0-2 2-1 0-2 2-1 0-2 2-1 0-1 2-1 0-1 2-1 2-3 2 0 0-1 4-3 0-2 2-1 2-3 0-2 2-2 0-2 4-8 2-10 2-3 0-4 2-3 0-3 2-3 0-3 2-3 0-2 2-2 0-2 2-1 4 1 0 2 2 2 0 3 2 2 0 4 2 3 0 4 2 4 0 4 4 11 0 4 2 3 0 3 2 3 0 3 2 3 0 2 2 2 0 2 2 3 2 1 0 1 2 1 2 3 2 0 0 1 2 0 0 1 6 3 0 1 2 0 0 1 4 0 0 1 2 0 0-1 2 0 4-2 0-1 4-2 2-3 2 0 0-1 2-1 6 0 0 1 6 5 0 2 2 1 6 10 2 1 2 3 2 0 0 1 2 1"/>
<path d="M12 412l2-1 4 0 0-1 2 0 8-4 0-1 4-3 0-2 2-1 0-2 2-1 0-2 2-1 0-2 2-2 0-2 2-2 0-2 2-1 0-2 2-2 0-2 2-2 0-2 2-1 0-2 2-1 0-2 2-1 2-3 2 0 0-1 2 0 0-1 4-1 8 0 0-1 2 0 8-4 0-1 2 0 0-1 8-4 2 0 0-1 4 0 0 1 2 0 4 2 0 1 2 0 0 1 10 9 0 2 6 5 2 4 6 5 0 2 6 5 0 2 6 5 0 2 2 1 0 1 2 1 0 1 2 1 0 1 2 1 2 3 2 0 2 3 2 0 0 1 2 0 0 1 2 0 0 1 2 0 0 1 14 2"/>
<path d="M12 409l0-1 6-1 0-1 2 0 0-1 2 0 0-1 4-1 0-1 4-2 0-1 2 0 2-3 4-2 0-1 2-1 0-1 2-1 0-1 2-1 0-1 10-9 0-2 2-1 2-3 4-2 0-1 6-4 0-1 2 0 0-1 4-2 2 0 0-1 12 0 0 1 2 0 10 5 0 1 2 0 2 3 2 0 0 1 4 2 0 1 4 2 0 1 4 2 0 1 2 0 0 1 8 4 2 0 0 1 4 0 0 1 18 0 0-1 8 0 0 1 8 1 0 1 2 0 0 1 2 0 0 1 2 0 0 1 2 0 0 1 2 1"/>
<path d="M12 412l2-1 4 0 0-1 4 0 0-1 2 0 0-1 2 0 0-1 2 0 0-1 2 0 0-1 2 0 0-1 16-4 0-1 4-1 8-11 0-2 2-2 0-2 2-3 0-2 2-2 2-7 2-2 0-2 2-1 0-2 2-3 2-1 2-3 4-2 2 0 0-1 2 0 6-3 0-1 2 0 0-1 2-1 0-2 2-1 6-9 0-2 2-1 0-2 6-5 4 1 2 3 0 2 2 2 0 2 2 3 0 3 2 3 0 4 2 3 0 4 2 4 0 3 2 4 0 4 2 4 2 10 2 3 0 3 2 3 0 2 2 2 0 3 6 9 4 2 0 1 4 1 0 1 4 0 2 1 18 0"/>
<path d="M12 412l10-1 0-1 2 0 8-4 0-1 2 0 0-1 4-3 0-2 4-3 0-2 2-1 0-2 2-1 0-2 2-1 0-2 4-5 0-2 2-1 0-2 8-12 2-1 0-1 2-1 2-3 6-3 4 0 0-1 10 2 8 0 2-1 4 0 0-1 12 0 0 1 4 1 0 1 8 7 0 2 2 1 4 7 2 1 0 2 2 1 0 2 2 1 2 4 2 1 0 2 2 1 0 1 2 1 0 1 2 1 0 1 2 1 0 1 2 1 2 3 4 2 0 1 4 2 0 1 2 0 0 1 2 0 0 1 2 0 0 1 2 0 0 1 8 2"/>
<path d="M12 412l32 0 4-1 0-1 2 0 0-1 2-1 2-3 0-2 2-2 0-2 2-3 0-4 2-3 0-5 2-4 0-5 2-5 0-6 2-5 0-6 2-5 0-6 2-5 0-4 2-5 0-3 2-4 0-2 2-2 0-2 2-1 4 1 0 2 2 1 4 6 0 2 2 1 0 2 6 5 4 0 0-1 2-1 0-1 2-1 2-3 4-2 4 3 0 2 2 3 0 2 2 4 0 3 2 4 0 4 2 5 0 4 2 5 0 4 2 4 0 5 2 4 2 10 2 3 0 3 2 3 0 2 2 3 2 1 0 2 6 3 2 0 0 1 32 0"/>
<path d="M12 406l10 1 0-1 4 0 0-1 2 0 0-1 4-2 0-1 6-5 0-2 2-1 6-9 0-2 2-1 0-2 2-2 0-2 2-1 0-2 2-2 0-2 2-2 0-2 2-1 0-2 2-2 0-2 2-1 0-2 4-6 2-1 0-1 2-1 2-3 4-2 6 0 4 2 0 1 2 0 2 3 2 0 0 1 2 1 0 1 2 1 2 3 4 2 0 1 2 1 2 3 2 0 0 1 10 9 8 12 2 1 0 2 2 1 0 2 2 1 0 2 2 1 2 4 2 1 2 4 2 1 2 3 2 0 0 1 8 4 2 0 0 1 6 0 0 1 16 0"/>
<path d="M12 411l8-2 0-1 2 0 0-1 4-2 0-1 8-7 0-2 2-1 2-4 2-1 0-2 2-1 0-2 2-1 2-4 2-1 0-2 2-1 0-1 2-1 0-1 2-1 2-3 6-3 2 0 0-1 10 1 0 1 4 1 10-1 0-1 8-7 2-4 2-1 0-2 4-3 0-2 4-2 0-1 4-1 6 3 2 4 2 1 0 2 2 2 0 2 2 2 2 4 0 2 2 2 0 2 2 2 0 2 2 2 0 2 2 2 0 2 4 6 0 2 8 12 2 1 0 1 2 1 2 3 2 0 0 1 6 3 10 2 6 0"/>
<path d="M12 412l16 0 8-2 0-1 2 0 2-3 2 0 4-6 2-1 0-2 2-1 4-6 0-2 2-1 0-2 2-2 0-2 2-2 0-2 4-6 0-3 2-2 0-3 2-3 0-3 2-3 0-3 2-4 0-4 2-3 0-4 2-4 0-4 2-3 0-4 2-3 0-3 2-3 0-2 2-2 0-2 2 0 0-1 4 2 0 2 2 2 0 2 2 2 0 2 2 2 0 2 2 2 0 2 4 6 4 3 2 3 0 2 2 2 0 2 2 2 0 3 2 3 0 4 2 3 0 4 2 4 0 4 2 4 0 4 2 4 0 3 2 3 0 3 2 3 0 3 4 6 4 2 2 0 6-3 2 0 0-1 6 0 6 3 0 1 2 0 0 1 4 2 0 1 2 0 0 1 8 1 0 1 6 0"/>
<path d="M12 412l22 0 8-3 0-1 4-3 2-3 0-2 2-2 0-2 4-8 0-3 2-3 0-2 2-3 0-3 2-2 0-3 2-2 0-2 2-1 2-3 4-1 0-1 4 0 0-1 4-1 0-1 2-1 0-2 2-1 0-2 2-1 0-2 2-2 0-2 6-13 0-3 2-3 0-3 2-3 0-3 2-2 0-3 2-2 0-2 2-2 0-2 2 0 0-1 2 0 2 3 0 2 2 2 0 4 2 3 0 4 4 14 0 5 2 5 0 5 2 5 0 5 2 4 0 5 2 4 2 10 2 3 2 7 2 2 0 2 4 6 2 1 0 1 2 1 0 1 2 1 2 3 2 0 0 1 8 2 24 0"/>
<path d="M12 412l12-2 0-1 2 0 0-1 4-1 0-1 8-7 0-2 2-1 0-2 2-1 0-2 2-1 0-2 2-1 0-2 2-1 0-2 2-1 0-2 2-1 0-2 2-1 0-2 2-1 0-1 2-1 0-1 2-1 0-1 2-1 0-1 2-1 0-1 2-1 0-1 10-9 2-4 2-1 0-1 2-1 2-3 2 0 0-1 4 0 2 1 0 1 2 0 12 18 2 1 0 1 2 1 0 1 2 1 2 3 8 2 0 1 2 0 10 5 0 1 4 2 0 1 2 1 0 1 2 1 0 1 2 1 0 1 2 1 0 1 2 1 0 1 2 1 0 1 2 1 0 1 2 1 0 1 2 1 2 3 2 0 2 3 2 0 0 1 8 4 2 0 0 1 4 1"/>
<path d="M12 412l18 0 6-3 4-6 0-2 2-1 0-2 2-2 0-2 2-1 0-1 2-1 0-1 2-1 2-3 8-28 2-2 2 1 2 3 0 2 2 1 0 1 2-1 4-17 0-8 2-8 0-9 2-8 0-8 2-7 0-6 2-6 0-4 4-6 2 1 2 4 0 3 2 5 0 6 2 7 0 8 2 9 0 9 2 10 0 9 2 9 0 8 2 6 0 6 2 4 0 4 2 2 0 2 2 1 0 1 2 1 0 1 2 1 2 3 4 1 4-2 2-3 2 0 0-1 4-1 0-1 2-1 2-3 0-2 2-2 0-2 2-1 0-2 2 0 2 1 0 2 2 3 0 3 2 3 2 10 6 12 2 0 0 1 2 0 0 1 20 0"/>
<path d="M12 412l10 0 10-2 0-1 2 0 8-5 4-6 2-1 0-2 2-1 0-2 8-12 0-2 2-2 0-2 2-1 0-2 2-1 0-2 2-1 0-2 2-1 2-3 4-2 6 0 0 1 2 0 4 2 0 1 2 0 0 1 2 0 0 1 4 1 0 1 6 0 6-3 0-1 10-9 0-2 2-1 2-3 2 0 0-1 4-2 2 0 6 3 0 2 2 1 2 3 0 2 2 2 0 2 4 6 0 3 2 2 2 7 2 2 0 3 2 2 0 2 2 2 0 2 2 2 0 2 2 1 0 2 2 1 0 2 2 1 0 1 2 1 2 3 6 3 2 0 0 1 4 0"/>
<path d="M12 412l34 0 0-1 2 0 4-2 0-1 4-3 0-2 2-2 0-2 2-3 0-3 2-3 0-3 2-3 0-4 2-3 0-4 2-4 0-4 2-4 0-4 2-4 0-4 2-4 0-5 2-4 0-5 2-4 0-5 2-4 0-5 2-4 0-5 2-4 0-3 2-4 0-2 2-4 2-1 2 1 4 10 0 4 2 4 0 5 2 4 0 5 2 4 0 5 2 4 0 3 2 3 0 3 2 2 0 2 4 6 4 3 0 2 2 1 2 3 0 2 2 1 0 2 2 2 0 2 2 2 0 3 2 2 0 2 2 3 0 3 4 8 0 3 2 2 0 2 6 10 2 0 0 1 6 2 28 0"/>
<path d="M12 409l0-1 2 0 0-1 4-1 2-3 2 0 0-1 2-1 0-1 2-1 0-1 10-9 2-4 2-1 2-4 2-1 4-7 2-1 0-2 4-3 0-2 2-1 2-3 6-3 8 0 0 1 2 0 0 1 2 0 0 1 2 0 0 1 10 1 0-1 2 0 0-1 2 0 0-1 4-2 0-1 6-4 0-1 4-2 6 0 0 1 4 2 2 4 2 1 0 2 2 2 0 2 2 1 0 2 4 6 0 2 2 3 0 2 2 2 0 2 2 2 0 2 4 5 0 2 2 1 0 2 2 1 0 2 2 1 0 1 2 1 2 3 8 4 2 0 0 1 6 0 0 1 14 0"/>
<path d="M12 402l6 0 0 1 6 1 0 1 4 1 8-1 0-1 2 0 2-3 4-2 0-1 2-1 0-1 2-1 2-3 4-2 0-1 4-2 0-1 2 0 0-1 2 0 0-1 2 0 0-1 2 0 0-1 8-4 0-1 6-5 0-2 4-6 0-2 2-3 0-3 2-3 0-3 2-3 0-3 2-3 0-4 2-3 0-3 2-3 2-7 2-3 2-1 0-1 2 0 2 1 0 1 2 1 0 2 2 1 0 2 6 13 0 3 2 3 0 3 2 3 0 3 2 3 0 3 2 3 0 3 4 8 0 3 4 6 0 3 2 1 0 2 4 6 2 1 2 3 2 0 0 1 2 0 0 1 8 2 0 1 2 0 0 1 2 0 0 1 12 6 2 0 0 1 6 0 0 1"/>
<path d="M12 412l14 0 10-4 0-1 4-3 0-2 2-1 2-4 2-1 0-2 2-1 2-3 6-3 4 0 0-1 2 0 0-1 4-3 4-6 0-2 2-1 0-2 2-2 0-2 2-1 0-2 2-2 0-2 2-1 0-2 2-2 0-2 2-2 0-3 2-2 0-3 2-3 0-3 2-3 0-3 2-3 0-4 2-2 0-3 2-2 0-2 2-2 0-2 2 0 0-1 4 1 2 3 0 2 2 2 0 2 2 3 0 3 2 3 0 3 2 3 0 3 2 3 2 7 2 2 0 2 2 2 0 2 2 1 0 2 2 1 0 2 2 1 0 2 2 2 0 2 4 8 0 3 2 2 0 3 2 3 0 3 2 3 2 7 4 6 2 1 0 1 8 3 22 0"/>
<path d="M12 412l14 0 2-1 4 0 4-1 0-1 2 0 0-1 4-2 0-1 2 0 0-1 8-7 0-2 10-9 0-2 2-1 6-9 0-2 2-2 0-2 2-2 0-2 4-6 0-2 2-3 0-2 2-2 0-2 2-1 0-2 2-1 0-2 2-1 2-3 2 0 0-1 8 0 4 2 2 0 0 1 6 3 0 1 2 0 0 1 2 1 2 3 2 0 0 1 4 3 0 2 4 3 8 12 0 2 2 1 0 2 4 5 0 2 4 5 0 2 2 1 0 2 2 3 2 1 0 2 2 1 2 4 6 4 0 1 6 3 10 2"/>
<path d="M12 412l12-2 0-1 2 0 2-1 0-1 2 0 0-1 4-2 0-1 6-5 2-4 2-1 0-1 2-1 0-1 2-1 2-3 2 0 0-1 4-1 0-1 24 1 4-1 0-1 2 0 0-1 4-3 6-9 0-2 4-6 0-3 4-6 0-3 2-2 0-2 2-2 0-2 6-9 2 0 0-1 4 0 2 1 0 1 4 3 0 2 2 1 0 2 4 6 0 3 2 2 0 2 2 3 0 2 2 3 2 7 2 2 0 3 2 2 0 2 2 2 0 2 2 2 0 2 2 1 0 2 2 1 2 4 4 2 0 1 10 5 2 0 0 1 2 0 0 1 2 0 0 1 4 1"/>
<path d="M12 409l0-1 4-2 0-1 4-3 0-2 2-1 8-13 2-1 0-2 2-1 2-3 2 0 0-1 8 0 0 1 2 0 0 1 2 0 0 1 2 0 0 1 4 0 4-2 0-1 4-3 0-2 2-2 0-2 4-6 0-3 2-2 0-3 2-2 0-3 2-2 0-2 2-2 0-2 2-2 0-2 2-1 0-2 2-1 0-1 4-1 4 2 0 1 2 0 2 4 2 1 4 6 4 3 0 2 2 1 8 12 0 2 4 5 0 2 2 2 0 2 2 2 0 2 2 1 0 2 2 3 2 1 0 2 2 1 0 1 2 1 0 1 2 1 2 3 4 2 0 1 2 0 0 1 2 0 0 1 10 5 2 0 0 1 10 1 0 1 10 0"/>
<path d="M12 412l8 0 0-1 4 0 6-3 0-1 2 0 0-1 2-1 0-2 2-1 4-6 0-2 2-2 0-2 2-2 0-2 2-2 0-2 2-1 0-2 4-6 2-1 2-3 2 0 0-1 2 0 0-1 2 0 6-3 0-1 6-5 0-2 2-1 0-2 2-1 0-2 4-6 2-1 0-2 2-1 2-3 2 0 0-1 4-1 0-1 10 1 0 1 4 1 0 1 4 3 4 6 0 2 2 2 0 2 2 2 0 2 6 13 0 3 2 2 0 3 2 2 0 3 2 2 0 3 2 2 0 2 2 2 0 2 4 6 2 1 0 2 2 1 0 1 2 0 0 1 4 2 2 0 0 1 4 0 2 1 20 0"/>
<path d="M12 399l24-6 0-1 2 0 0-1 2 0 22-11 2 0 0-1 2 0 0-1 2 0 0-1 8-2 0-1 2 0 0-1 2 0 0-1 2 0 0-1 2 0 0-1 2 0 0-1 2 0 0-1 2 0 0-1 8-4 2 0 0-1 2 0 0-1 6 0 0-1 2 0 0 1 4 0 4 1 0 1 2 0 0 1 8 5 0 1 2 1 0 1 2 1 2 3 2 0 0 1 2 1 0 1 2 1 2 3 2 0 2 3 4 2 0 1 4 2 0 1 2 0 0 1 18 10 0 1 4 1"/>
<path d="M12 412l30 0 0-1 4 0 0-1 2 0 0-1 2 0 0-1 2-1 0-2 2-1 2-3 0-2 2-2 0-3 2-2 0-3 2-3 0-3 2-3 0-3 4-8 0-3 4-6 0-2 4-2 6 3 0 1 2 0 2-1 2-3 0-2 2-3 0-3 2-4 0-4 2-4 0-5 2-4 0-5 2-4 0-4 2-3 0-3 2-2 0-2 2-1 2 0 4 8 0 3 2 4 0 4 2 4 0 4 2 5 0 5 2 4 0 5 2 4 0 4 2 4 0 4 2 3 0 3 2 3 0 2 2 2 0 2 2 3 4 2 4 0 2-1 6 0 0 1 2 0 0 1 2 1 0 2 2 1 2 3 0 2 4 5 0 2 2 1 4 6 2 0 0 1 2 0 0 1 4 0 0 1 6 0"/>
<path d="M12 412l26 0 4-1 0-1 2-1 0-1 2-1 2-3 0-2 4-8 0-3 2-3 0-3 2-2 0-2 2-2 0-2 2-1 4 0 0 1 2 0 0 1 4 0 8-5 4 1 2 3 4-1 0-3 2-3 0-6 2-6 0-8 2-9 0-10 2-11 0-10 2-10 0-9 2-7 0-6 2-4 0-2 2 0 4 14 0 6 2 6 0 7 2 6 0 7 2 6 0 6 2 7 0 6 2 6 0 6 2 5 0 5 2 5 0 4 2 3 0 3 2 3 4 1 2-1 2-3 4-2 4 0 0 1 2 1 0 2 2 1 0 3 2 2 0 2 2 3 2 7 2 2 0 2 2 3 4 3 0 1 4 1 14 0"/>
<path d="M12 407l4-2 2 0 0-1 2 0 0-1 2 0 0-1 2 0 0-1 2 0 0-1 2 0 0-1 2 0 0-1 2 0 0-1 2 0 0-1 4-1 0-1 10-5 0-1 4-1 2-3 2 0 2-3 2 0 0-1 2-1 2-3 2 0 0-1 10-9 2-4 2-1 0-1 2-1 0-1 2-1 0-1 2-1 2-3 2 0 0-1 6-3 6 0 0 1 2 0 0 1 4 1 0 1 2 1 0 1 10 9 2 4 4 3 0 2 2 1 0 1 2 1 0 1 2 1 0 1 2 1 0 1 2 1 0 1 2 1 2 3 2 0 2 3 4 1 0 1 18 9 0 1 2 0 0 1 2 0 0 1 2 0 0 1 2 0 0 1 4 1 0 1"/>
<path d="M12 407l4 2 4 0 0 1 6-1 0-1 4-1 0-1 4-3 2-4 2-1 0-2 2-1 0-2 4-5 0-2 2-2 0-2 2-1 0-2 4-6 0-3 4-6 0-3 2-2 0-3 2-2 0-3 2-2 0-3 2-2 0-2 2-2 0-2 2-3 4-3 0-1 2 0 4 2 4 6 2 1 0 2 2 1 2 4 2 1 8 12 0 2 2 2 0 2 2 2 0 2 2 2 0 2 6 9 2 1 0 1 14 7 0 1 2 1 0 1 2 1 0 1 2 1 0 1 2 1 2 3 2 0 0 1 2 1 6 0 2-1 0-1 2 0 2-3 4-2 2-3 4-1 0-1 4 0 0 1 4 1 0 1 2 1 0 1 2 0 0 1 2 1 2 3"/>
<path d="M12 412l36 0 4-1 6-3 0-1 2-1 0-2 2-1 0-2 2-2 0-3 2-2 0-3 4-11 0-4 2-4 0-5 2-4 0-5 2-5 0-5 2-4 0-5 2-4 2-10 2-2 0-2 2-3 2 0 4 3 0 2 4 8 0 3 2 3 0 3 2 2 0 3 2 2 0 2 2 2 0 2 2 1 4 0 0-1 2-1 0-2 2-1 0-2 6-9 4-1 4 3 2 3 0 2 2 2 0 2 2 3 0 3 2 2 0 3 2 3 0 3 2 3 0 3 2 3 0 3 2 3 0 3 2 2 0 3 2 2 0 3 2 2 0 2 4 6 2 1 2 3 6 3 4 1 10 0"/>
</g>
<path d="M11.5 411.3L12.6 410.7 14.1 409.8 15.9 408.9 17.8 407.8 19.7 406.6 21.5 405.5 23.2 404.3 24.9 403.1 26.6 401.8 28.3 400.5 30.0 399.3 31.6 398.3 33.4 397.3 35.2 396.6 36.9 395.9 38.6 395.3 40.3 394.7 42.0 394.1 43.8 393.6 45.6 393.1 47.3 392.5 48.9 391.8 50.8 390.8 52.6 389.8 54.3 388.6 56.1 386.8 57.9 384.4 59.7 381.6 61.5 378.4 63.3 375.3 65.1 372.1 66.9 368.7 68.7 365.3 70.5 362.3 72.3 359.7 74.0 357.3 75.8 355.1 77.7 352.9 79.3 351.2 81.1 349.4 82.9 347.8 84.6 346.3 86.4 345.0 88.1 344.0 89.8 343.2 91.6 342.5 93.3 342.0 95.0 341.4 96.7 340.8 98.4 340.3 100.2 339.9 101.9 339.5 103.6 339.2 105.3 338.9 107.1 338.7 108.8 338.6 110.6 338.7 112.3 339.2 114.0 340.1 115.8 341.4 117.6 342.9 119.3 344.6 120.9 346.4 122.8 348.9 124.6 351.6 126.3 354.6 128.1 357.9 129.9 361.5 131.7 365.5 133.5 369.6 135.3 373.7 137.1 377.7 138.9 381.8 140.7 385.8 142.5 389.6 144.3 393.2 146.1 396.6 147.9 399.7 149.7 402.5 151.4 404.8 153.1 406.7 154.9 408.3 156.9 409.7 158.4 410.5 160.0 411.1 161.7 411.6 163.5 412.1 165.2 412.4 167.0 412.7 168.6 412.9 170.4 413.0 172.2 413.0 173.9 413.0 175.6 413.0 176.9 413.0 177.9 413.0" fill="none" stroke="#011f4b" stroke-width="2.5" stroke-linejoin="round" shape-rendering="crispEdges"/>
<path d="M11.5 253V413.5H177.9" fill="none" stroke="#000" stroke-width="1.1"/>
<path d="M31.5 414v3M63.5 414v3M95.5 414v3M127.5 414v3M159.5 414v3" stroke="#333" stroke-width="1"/>
<text transform="translate(30.8 431) scale(0.84 1)" class="tk">30</text>
<text transform="translate(63 431) scale(0.84 1)" class="tk">40</text>
<text transform="translate(94.9 431) scale(0.84 1)" class="tk">50</text>
<text transform="translate(126.9 431) scale(0.84 1)" class="tk">60</text>
<text transform="translate(158.8 431) scale(0.84 1)" class="tk">70</text>
<text x="11" y="240.6" class="ti">Colegio 5</text>
<path d="M203 332h20" stroke="#011f4b" stroke-width="2"/>
<path d="M203 355.5h19" stroke="#b3cde0" stroke-opacity="0.7" stroke-width="1"/>
<text x="232" y="336" class="ly">y</text>
<text x="232" y="357.8" class="ly">y</text><text x="241" y="361" class="lr">rep</text>
<g fill="none" stroke="#b3cde0" stroke-opacity="0.7" stroke-width="1" shape-rendering="crispEdges" transform="translate(0.5 0.5)">
<path d="M284 406l16-2 1-1 3 0 4-2 3 0 1-1 11-3 10-5 4-4 1 0 4-5 4-8 2-8 8-56 1-5 2-4 1 1 2 9 6 40 3 11 3 5 5 2 5 0 1-1 4 0 1-1 4 0 1-1 7 0 7 3 10 9 16 19 1 0 6 6 8 4"/>
<path d="M284 412l33 0 1-1 4 0 7-4 5-6 7-13 14-35 4-14 6-31 3-9 1 0 2 4 5 25 5 16 4 3 4 0 5 2 4 4 4 6 16 31 5 7 8 8 6 4 2 0 3 2 5 0 1 1 2 0"/>
<path d="M284 412l35 0 7-3 3-3 3-4 16-32 11-10 3-5 6-20 8-38 2-7 3-5 2 1 2 5 11 62 10 39 4 9 3 3 3 0 4-2 4 0 4 2 4 4 5 3 3 0 1 1 9 0"/>
<path d="M284 412l13 0 1-1 4 0 5-2 9-9 18-28 6-6 10-6 7-7 8-13 6-6 2 0 5 5 29 57 9 12 3 2 6 1 1 1 24 0"/>
<path d="M284 412l14 0 1-1 4 0 7-3 9-8 8-11 9-9 6-3 2-2 5-2 10-7 3-1 18-17 6-3 6 2 3 3 4 6 16 33 8 11 6 5 8 4 2 0 4 2 6 0 1 1"/>
<path d="M284 408l5-1 20-9 23-7 26-12 2 0 7-3 7-1 4-2 3 0 5-2 4 0 1-1 12 0 1 1 3 0 18 8 12 9 12 12 1 0"/>
<path d="M284 411l7 0 1-1 6-1 10-5 11-8 4-4 9-5 6 0 1-1 1 1 7 0 8-3 4-3 7-9 13-21 7-7 2 0 1-1 5 1 6 6 20 40 5 7 6 6 6 4 13 4"/>
<path d="M284 408l6-1 6-3 2 0 1-1 17-5 3-2 2 0 11-6 18-15 10-5 17 0 1 1 6 0 1 1 8 1 12 5 2 2 19 10 2 0 3 2 2 0 4 2 3 0 10 4"/>
<path d="M284 412l18 0 1-1 3 0 5-2 8-8 13-19 12-8 26-27 4-6 8-7 1 1 2 0 3 3 5 9 15 42 5 11 5 7 4 3 6 1 1 1 21 0"/>
<path d="M284 412l26 0 1-1 3 0 6-3 7-7 9-15 19-55 3-5 4-4 4 0 7 7 4 6 9 17 13 32 8 14 10 10 6 3 3 0 1 1 23 0"/>
<path d="M284 412l11-1 12-5 2-2 12-6 15-14 4-2 5-1 7-4 5-6 4-8 11-32 2-4 3-3 3 0 3 4 19 46 8 17 8 13 4 4 6 3 4 0 1 1 17 0"/>
<path d="M284 412l32 0 1-1 4 0 4-2 6-6 6-10 10-22 16-52 2-4 3-3 3 2 3 6 14 40 5 12 4 7 4 4 2 1 4 0 4 2 5 6 7 12 5 5 8 3 14 0"/>
<path d="M284 412l15-1 8-4 6-6 6-9 14-26 8-8 5-2 7-1 7-3 3 0 1-1 6 0 6 4 4 5 13 22 7 8 6 3 3 0 1 1 10 2 17 11 10 4 3 0"/>
<path d="M284 412l6 0 1-1 9-1 11-5 4-3 2 0 6-3 6-1 7-4 6-8 15-32 3-5 6-5 5 0 5 3 14 17 12 12 11 8 16 17 8 4 4 0 1 1 8 0"/>
<path d="M284 412l34 0 4-2 5-5 4-6 9-9 3-5 4-4 3-1 2-2 3-7 2-10 8-57 2-10 3-7 3 2 3 10 9 61 3 14 2 4 2 1 6-6 3 0 2 2 19 31 4 4 5 2 19 0"/>
<path d="M284 412l21 0 1-1 3 0 6-3 5-4 8-4 4-1 8-8 7-9 5-10 11-41 3-9 3-5 3 0 2 2 14 31 12 32 7 14 5 7 4 3 4 0 12-8 7 0 11 8"/>
<path d="M284 412l17-1 1-1 8-2 12-6 6-4 9-10 10-17 8-11 5-3 14 1 5-2 9-6 4 0 6 5 15 28 5 7 5 5 1 0 9 8 6 3 2 2 9 3"/>
<path d="M284 411l3 0 1-1 7-1 10-4 3 0 1-1 5-1 7-4 9-9 15-22 8-8 7-3 11 0 1-1 3 0 9-4 5 0 7 6 16 32 4 6 4 4 4 3 4 2 2 0 3 2 2 0 7 3 3 0 1 1 4 0"/>
<path d="M284 412l5 0 1-1 5-1 15-14 5 0 2 1 9 9 2 1 2 0 3-2 4-7 3-9 14-52 8-17 2-3 4-3 3 1 4 6 4 12 11 46 4 12 3 5 3 2 8-1 1-1 4 1 10 9 8 5 3 0 1 1 15 0"/>
<path d="M284 407l14-10 6-3 19 0 1-1 4 0 1-1 5-1 8-4 9-8 12-18 8-9 3-2 7 0 4 2 9 9 14 18 11 16 9 10 6 4 2 0 4 2 10 1"/>
<path d="M284 412l12-1 7-3 21-19 8-5 9-9 1-2 24-23 7-4 6 0 1 1 2 0 9 8 8 13 13 26 4 6 7 7 9 4 5 0 1 1 12 0"/>
<path d="M284 411l16-4 3-2 8-2 9-5 6-6 7-10 18-35 4-6 4-3 4 1 5 5 8 15 6 9 5 5 7 4 12 12 6 8 9 9 6 3 4 0 1 1 2 0 1-1 5 0 1-1 3 0 1-1 5-1"/>
<path d="M284 412l15-1 1-1 5-1 12-7 9-9 4-6 16-32 8-9 6 0 15 10 10 1 4 2 7 9 13 23 9 9 8 4 2 2 4 1 3 2 2 0 4 2 9 1"/>
<path d="M284 412l13 0 1-1 6-1 16-14 2 0 1-1 9 0 4-3 5-10 13-44 3-7 4-4 5 1 6 6 10 13 7 7 7 14 9 25 5 10 4 5 5 3 3 0 1 1 27 0"/>
<path d="M284 410l16-6 12-2 6-3 14-13 16-23 9-9 8-3 11 0 8 7 9 14 12 14 7 5 11 5 14 11 9 4 4 0"/>
<path d="M284 412l14 0 1-1 5 0 7-3 9-8 13-18 10-10 7-5 12-6 2 0 5-3 2 0 5-3 3 0 1-1 6 0 7 4 6 6 24 30 8 8 13 8 6 1"/>
<path d="M284 412l19 0 1-1 5 0 12-6 7-7 7-10 8-14 6-8 8-8 10-15 6-7 5 0 4 4 20 44 7 8 8 3 10 0 1 1 2 0 5 3 9 8 6 3"/>
<path d="M284 412l15 0 1-1 5 0 10-5 6-6 18-25 13-13 10-5 7 0 1 1 19-1 4 2 8 9 13 21 7 7 8 4 2 0 1 1 5 1 3 2 2 0 3 2 5 1"/>
<path d="M284 410l3 0 1-1 2 0 7-3 3 0 1-1 5 0 1 1 4 0 1 1 7 0 1-1 2 0 4-3 10-14 11-18 17-19 10-15 6-6 4 0 3 3 4 8 11 35 3 8 6 11 6 6 11 6 2 0 3 2 3 0 1 1 13 1"/>
<path d="M284 412l13 0 1-1 5 0 1-1 5-1 5-3 2 0 3-2 2 0 10-4 7-8 15-32 5-7 19-13 6 0 7 6 13 20 16 31 4 6 5 5 3 2 6 1 1 1 12 0"/>
<path d="M284 410l4-2 2 0 16-8 3 0 1-1 10 0 1-1 4 0 6-3 11-11 10-13 11-10 10-5 11 0 10 5 12 9 10 11 12 17 8 8 7 4 7 1"/>
<path d="M284 412l31 0 8-3 4-4 6-10 15-43 3-6 4-4 10 1 12-13 3 1 3 4 4 10 10 32 7 15 9 8 2 0 1 1 5 0 1 1 5 0 16 8 7 1"/>
<path d="M284 411l6-1 8-4 4-4 1 0 18-19 7-5 4-2 2 0 5-3 2 0 21-11 2 0 4-2 12 0 6 3 7 6 12 16 10 10 11 6 2 0 8 4 5 1 3 2 6 1"/>
<path d="M284 412l24 0 1-1 2 0 9-10 2-1 3 0 8 6 3-2 4-8 8-23 3-6 3-2 6 9 2 0 1-1 3-11 7-47 4-18 2-4 2 0 1 1 3 9 12 81 3 14 4 10 3 2 4-2 3-5 6-17 2-4 3-2 2 2 3 6 8 19 4 4 2 0 1 1 5 0"/>
<path d="M284 405l1-1 2 0 4-2 4 0 1-1 5 0 1 1 10 0 5-2 9-8 6-8 13-13 1 0 14-12 9-5 6 0 10 6 15 15 12 16 8 8 9 5 21 6"/>
<path d="M284 411l9-2 10-5 33-26 9-4 5 0 1-1 5 0 1-1 2 0 8-4 7-5 5-2 5 0 5 2 8 7 1 0 13 13 1 0 11 10 16 9 2 0 3 2 2 0 4 2"/>
<path d="M284 411l5 0 10-4 7-5 9-9 10-7 2 0 4-2 5 0 1-1 3 0 5-2 8-7 10-14 5-5 4-2 2 0 4 2 17 21 6 3 11 0 7 3 7 7 5 7 11 11 6 3 2 0"/>
<path d="M284 412l5 0 1-1 8-1 6-3 21-14 7-7 4-6 13-27 2-3 6-5 4 1 9 7 7 0 3-2 3 0 1-1 3 1 6 7 16 35 6 9 5 5 5 3 7 1 1 1 17 0"/>
<path d="M284 411l6 0 1-1 6-1 3-2 7-2 9-5 9-9 8-11 26-25 7-4 7 0 6 3 15 10 9 9 16 25 9 9 3 2 2 0 4 2 4 0 1 1 8 0"/>
<path d="M284 412l16 0 1-1 5 0 12-6 10-11 18-29 4-5 4-3 3 0 1-1 1 1 4 0 4 2 8 0 11-5 6 0 7 5 7 11 11 21 8 9 4 3 10 5 11 3"/>
<path d="M284 405l2 0 4-2 5 0 1-1 13-1 1-1 6-1 8-4 13-12 10-15 8-9 5-3 7-1 1 1 7 1 6 3 4 4 1 0 17 20 10 8 12 6 2 0 5 3 2 0 7 4 2 0 5 3 2 0"/>
<path d="M284 412l2 0 1-1 5 0 1-1 5-1 7-4 7-2 5-3 6-7 4-8 11-28 5-8 15-12 5-2 3 1 5 6 18 42 8 9 7 3 3 0 1 1 5 1 20 12 2 0 1 1 5 0 1 1 8 0"/>
<path d="M284 412l11-1 1-1 5-1 10-5 2-2 17-8 8-8 17-27 4-4 7-3 3 0 1 1 5 1 9 6 14 7 4 4 1 0 28 29 9 6 10 4"/>
<path d="M284 412l17 0 1-1 4 0 14-7 13-4 7-7 11-17 10-12 14-20 5-5 5-3 5 0 5 6 12 31 6 12 3 4 26 20 5 2 3 0"/>
<path d="M284 412l31 0 1-1 3 0 5-2 8-9 6-13 13-39 4-8 6-5 9 0 1 1 3 0 7 6 7 13 6 15 6 12 6 6 7 1 7 4 5 6 11 10 5 2 3 0 1 1 5 0"/>
<path d="M284 410l3 0 1-1 8-2 5-3 11-3 3-2 2 0 4-2 12-11 6-8 31-31 5-3 5 0 2 1 6 7 12 24 7 11 15 15 13 8 9 1 1 1 5 0"/>
<path d="M284 412l10-1 6-3 9-9 5-7 15-14 6-8 12-25 4-5 4 0 4 4 6 10 6 6 8 1 6 4 6 9 11 21 8 10 4 2 9 0 5-2 8 0 1 1 5 1 3 2 5 1"/>
<path d="M284 412l7 0 1-1 4 0 1-1 5-1 6-3 5-4 5-2 2-2 5-2 8-8 11-18 6-6 4-2 2 0 5-3 3-3 11-18 4-3 4 1 4 5 5 10 11 27 6 12 6 9 9 9 4 2 2 0 1 1 5 0 1 1 13 0"/>
<path d="M284 412l15-1 11-5 15-14 14-10 5-5 13-21 3-4 5-4 6 0 11 6 7 5 9 9 18 26 7 7 5 3 3 0 1 1 11 0 1 1 4 0 2 1"/>
<path d="M284 412l5 0 1-1 10-1 3-2 2 0 6-4 6-6 15-20 8-8 3-2 2 0 4-2 32 1 1 1 7 1 13 8 9 9 1 0 9 8 6 3 6 1 1 1 6 0 1 1 7 0 2 1"/>
<path d="M284 412l8-1 9-4 4-4 1 0 10-11 7-4 16 0 4-2 3-2 17-18 14-10 7-3 6 0 4 2 10 10 9 12 13 20 7 8 8 5 2 0 1 1 6 0"/>
<path d="M284 409l24-12 2 0 5-3 2 0 8-4 4-3 22-23 7-3 7 0 1 1 17 2 1 1 5 1 14 13 5 7 8 8 7 4 14 4 10 5 3 0"/>
<path d="M284 412l10-1 10-4 26-22 16-9 22-16 5-2 8 0 1 1 2 0 20 12 16 15 13 15 8 6 4 2 5 1"/>
<path d="M284 412l24 0 1-1 4 0 8-3 6-4 6-6 1 0 9-12 22-49 2-3 4-3 4 1 3 4 18 39 8 7 13-1 4 2 5 5 5 8 9 11 7 4 3 0"/>
<path d="M284 411l7 0 1-1 4 0 1-1 5-1 16-9 10-10 21-31 7-5 6 0 6 4 12 14 12 10 2 0 4 2 5 0 1 1 10 0 1 1 5 1 7 4 14 11 3 1 4 3 2 0"/>
<path d="M284 412l13 0 1-1 4 0 16-8 11-3 3-2 6-6 3-5 4-8 14-35 7-8 5-2 9 0 4 2 6 7 4 8 16 42 5 9 4 5 7 4 4 0 1 1 19 0"/>
<path d="M284 412l10-1 7-3 8-8 15-21 7-4 6 0 8-3 6-5 11-13 5-3 4 0 4 2 15 17 15 11 23 24 12 6 10 1"/>
<path d="M284 412l28 0 1-1 4 0 4-2 5-5 4-6 11-23 4-6 6-5 10-5 9-8 8-5 6 0 4 3 17 29 29 28 5 2 4 0 1-1 6-1"/>
<path d="M284 406l5-2 3 0 1-1 11-1 1-1 6 0 1-1 4 0 1-1 7-1 1-1 5-1 5-3 5-5 4-6 12-27 4-7 3-3 5-1 6 6 10 17 7 7 2 1 4 0 1 1 8 0 4 2 8 8 7 10 7 8 7 5 2 0 4 2 5 0"/>
<path d="M284 412l16 0 1-1 4 0 13-8 5 0 10 5 4-1 5-5 7-11 6-7 4-7 5-15 8-31 4-9 2-2 5 1 8 8 4 6 6 14 10 28 13 25 4 5 6 4 3 0 1 1 12 0"/>
<path d="M284 405l7 0 5 3 2 0 3 2 4 0 1 1 7-1 8-5 13-13 6-4 6-6 5-9 12-30 3-4 4-2 3 0 1 1 7 0 5 2 2 2 6 11 9 22 8 15 8 12 7 7 5 2 3 0 1 1 15 0"/>
<path d="M284 411l5-1 9-5 20-19 14-10 2 0 3-2 4 0 1-1 8 0 5-2 6-5 9-12 6-5 5 0 6 6 12 24 10 15 1 0 4 4 6 3 2 0 13 6 15 4"/>
<path d="M284 412l21 0 1-1 4 0 7-4 5-5 19-22 5-10 13-40 5-6 5 4 16 25 15 35 4 6 4 4 17 8 7 0 5-2 7 0 6 3"/>
<path d="M284 408l2 0 22-12 10-3 15-7 2-2 5-2 18-12 3-3 9-5 3 0 1-1 3 0 7 3 11 11 1 2 11 10 11 4 6 0 1 1 7 1 14 7 2 2 2 0"/>
<path d="M284 410l14-4 14-7 7-8 9-15 7-9 7-5 2 0 13-6 9-8 4-2 6 0 4 4 8 15 7 17 7 14 4 6 4 4 6 3 7 0 1-1 8-1 1-1 10 0 1 1 6 1"/>
<path d="M284 411l6 0 1-1 7-1 7-3 10-1 8-3 8-9 10-20 8-13 7-7 11-5 5 0 8 4 9 10 26 25 16 18 6 4 13 3"/>
<path d="M284 412l12 0 1-1 4 0 7-3 9-9 15-24 6-6 2 0 1-1 11 1 6-5 11-20 2-3 4-3 4 1 6 7 18 38 10 14 10 7 11 5 9 1 1 1 6 0"/>
<path d="M284 411l5 0 6-3 2 0 2-2 6-3 8-7 10-6 10 0 1 1 7 0 2-1 6-6 4-7 15-35 2-3 4-3 2 0 4 3 16 33 3 5 9 9 7 3 2 2 6 3 15 13 6 3 6 1"/>
<path d="M284 406l9 0 1 1 3 0 5 2 10 0 6-3 7-7 17-24 11-12 7-3 8 0 1-1 2 0 9-6 6-2 2 1 7 8 12 25 8 11 10 6 5 1 11 5 3 0 1 1 5 1"/>
<path d="M284 412l24 0 1-1 3 0 4-2 5-5 8-13 4-4 5-1 6 3 5-1 4-4 5-10 14-43 2-4 3-3 4 1 5 9 6 18 8 30 4 11 3 5 2 1 4 0 8-6 4-2 3 0 4 2 8 7 2 0 4 2 4 0"/>
<path d="M284 412l28 0 8-3 5-6 15-34 4-4 9-3 5-5 12-21 6-5 4 2 5 9 12 39 6 12 4 1 8-6 3 0 5 4 8 12 5 5 8 3 6 0"/>
<path d="M284 412l2 0 1-1 5 0 8-3 7-5 16-16 11-6 7-2 8-5 17-17 6-3 9 0 12 6 9 9 20 29 8 8 10 5 10 1"/>
<path d="M284 412l43 0 1-1 5-1 6-6 10-17 6-17 11-37 7-12 6-4 2 0 3 2 4 8 20 62 4 8 3 2 9-8 2 0 3 3 8 13 3 3 5 2 5 0"/>
<path d="M284 412l12 0 1-1 6-1 3-2 9-9 13-17 4-3 7-3 4-4 4-7 9-23 5-10 2-3 3-2 1 0 4 4 2 5 11 42 5 12 3 3 3 0 4-3 4-6 5-5 3 0 3 3 10 20 6 7 3 2 3 0 1 1 13 0"/>
<path d="M284 412l37 0 1-1 6-1 5-4 3-4 6-13 18-58 4-8 2-2 4 0 3 4 15 42 7 12 5 3 13-1 5 2 5 4 11 15 6 6 6 3 4 0"/>
<path d="M284 412l2-1 4 0 13-7 7 0 6 3 2 2 6 1 1 1 5-1 3-2 5-6 5-10 13-41 4-10 2-3 3-2 8 3 12-10 5 6 16 50 4 10 5 9 5 4 6 0 8-4 7 0 9 5"/>
<path d="M284 412l13 0 1-1 5 0 9-4 9-8 15-20 10-10 14-8 2 0 5-3 3 0 1-1 7 0 5 2 16 14 19 12 20 16 6 4 4 2 2 0"/>
<path d="M284 412l13-3 15-9 10-8 15-21 4-4 6-3 8-1 5-3 10-12 5-5 4-2 4 1 5 5 3 5 14 36 7 14 7 7 4 2 4 0 1 1 22 0"/>
<path d="M284 411l8-1 11-4 10-1 1-1 5 0 10-5 12-13 20-31 7-6 6 0 4 2 12 10 13 4 6 4 8 11 9 16 7 9 8 5 9 2"/>
<path d="M284 412l16 0 1-1 4 0 8-4 21-14 8-3 5-5 5-12 10-39 3-7 3-3 2 0 3 3 12 19 14 19 22 39 5 5 4 2 3 0 1 1 16 0"/>
<path d="M284 412l31 0 5-2 4-4 4-8 12-43 4-9 3-3 7-2 13-14 3 0 4 5 13 38 3 6 8 10 11 17 6 5 6 0 8-4 8 0 4 3 9 4"/>
<path d="M284 412l15 0 1-1 4 0 11-5 2-2 12-6 8-11 10-20 9-13 9-17 4-6 5-4 4 0 6 7 8 18 13 35 9 17 5 5 8 3 23 0"/>
<path d="M284 411l7-1 6-3 6-1 1-1 4 0 1-1 8 0 7-3 6-6 6-12 10-28 5-11 5-5 5 0 10 7 11 13 23 22 12 18 5 6 7 5 2 0 1 1 4 0 1 1 13 0"/>
<path d="M284 412l23 0 1-1 7-1 9-6 5-5 5-7 15-32 12-16 8-17 2-3 2-1 2 0 2 2 4 8 6 16 20 40 11 15 1 0 4 4 6 3 4 0 1 1 16 0"/>
<path d="M284 405l7-5 12-6 10-2 1-1 3 0 15-6 15-11 8-8 9-6 9 0 4 2 4 3 20 21 12 9 10 5 6 1 1 1 20 2"/>
<path d="M284 412l12-1 11-4 11-8 11-12 6-8 8-8 6-4 10-4 12-8 2 0 4-2 5 0 1 1 5 1 3 2 8 8 19 27 11 12 8 5 13 3"/>
<path d="M284 412l11 0 1-1 3 0 7-4 12-12 5-1 1-1 7 0 4-2 12-13 21-38 4-6 4-4 3 0 2 2 4 8 13 40 8 16 6 6 5 2 7-1 5-2 11 0 8 4 2 0"/>
<path d="M284 412l24 0 1-1 5 0 7-3 8-7 23-31 9-9 1-2 14-14 2-1 6 0 6 5 31 41 9 9 13 7 7 2"/>
<path d="M284 411l10-2 1-1 3 0 1-1 11-3 11-6 9-10 15-25 6-6 2 0 1-1 4 0 19 11 6 1 15 6 21 14 3 3 7 4 3 3 3 1 7 5 8 3"/>
<path d="M284 412l12 0 1-1 10-1 1-1 5-1 3-2 5-1 3-2 2 0 5-3 7-8 7-14 13-31 2-3 6-5 3 1 5 5 10 18 4 6 6 6 6 3 12 2 7 3 8 6 15 14 6 4 2 0"/>
<path d="M284 412l11-1 9-4 13-9 8-7 6-3 4 0 8 4 5 0 5-5 2-4 12-35 5-7 4 0 6 4 12 5 4 4 20 36 13 16 9 5 10 1"/>
<path d="M284 412l11 0 1-1 9-1 12-6 7-2 9-5 7-8 7-14 9-23 5-10 2-3 4-3 5 1 4 4 26 42 10 11 2 1 18-1 5 2 10 8 3 1"/>
<path d="M284 412l17 0 1-1 4 0 1-1 5-1 6-4 18-20 7-4 10-3 6-6 14-27 6-5 6 5 15 26 15 16 13 7 2 0 10 5 2 2 8 4"/>
<path d="M284 412l12-1 11-5 12-12 5-7 12-13 12-9 8-4 11 0 24 16 3 0 1 1 8 0 1-1 4 0 1 1 4 0 4 2 7 6 13 15 8 6 5 2"/>
<path d="M284 412l40 0 5-2 4-4 4-7 8-21 5-9 3-2 6 0 2-1 4-6 5-21 6-36 2-8 2-3 1 0 2 3 2 8 12 68 4 14 3 6 2 2 4 0 2-2 5-2 4 3 7 13 6 6 2 0 1 1 13 0"/>
<path d="M284 412l31 0 1-1 6-1 3-2 5-6 4-8 10-27 6-13 4-5 7-3 6-1 9-5 4 0 2 1 5 5 20 35 8 12 9 10 1 0 4 4 6 3 7 1 1 1 7 0"/>
<path d="M284 412l12-1 6-3 6-6 11-17 6-6 5-1 4 2 7 6 4 0 2-1 4-6 10-28 5-9 2-1 3 0 4 4 11 17 5 5 4 2 7 6 13 22 6 7 5 2 2 0 1-1 12 0 9 4"/>
<path d="M284 412l12 0 1-1 5 0 1-1 3 0 3-2 2 0 6-4 6-6 6-8 14-22 6-5 6-1 1 1 5 0 1 1 10 0 1-1 3 0 1-1 7-1 1-1 10 1 8 4 9 9 15 22 9 10 7 4 7 1"/>
<path d="M284 412l13 0 1-1 9-1 4-2 6-5 20-30 10-10 15-8 3 0 1-1 6 1 3 2 8 8 5 7 13 12 5 2 4 0 1 1 8 0 1 1 6 1 7 4 9 8 8 5"/>
<path d="M284 412l12-2 7-4 7-7 10-15 13-24 3-4 6-5 8 0 7 3 8 0 8-3 1 1 3 0 6 6 5 8 16 32 9 10 6 3 5 0 1 1 25 0"/>
<path d="M284 412l31 0 1-1 3 0 4-2 12-12 1-2 16-16 2-3 6-13 11-37 6-12 3 0 4 7 12 42 5 9 8 9 12 24 5 5 5 2 14 0 5-2"/>
<path d="M284 410l2 0 10-5 12-9 14-7 15-12 20-10 8-6 6-6 6-3 5 1 4 4 5 8 10 20 4 6 5 5 7 3 15 0 1 1 5 1 12 6"/>
<path d="M284 409l1-1 3 0 5-2 4 0 1-1 12 0 1-1 4 0 7-3 10-11 14-27 4-6 3-3 4-2 6 0 16 6 7 5 5 6 18 17 13 7 20 14 8 3"/>
<path d="M284 408l11-2 14-6 21-20 9-5 3 0 5-2 4 0 1-1 3 0 1-1 3 0 5-2 20 0 1-1 5 0 1-1 11 0 4 2 6 6 13 19 9 10 8 5 8 2"/>
<path d="M284 410l7-1 10-4 5 0 1-1 10-1 6-3 10-10 22-32 16-16 3-2 5-1 7 6 7 14 9 22 8 14 5 5 6 3 6 1 16 6 7 1"/>
<path d="M284 412l19 0 1-1 7-1 6-4 8-11 13-29 7-13 5-5 11-4 5-6 8-7 4 3 3 6 15 51 6 10 3 2 8 1 1 1 2 0 7 3 3 0 1 1 5 0 11-4 7 0"/>
<path d="M284 412l28 0 1-1 5 0 6-3 7-7 7-13 11-25 4-6 4-3 6 0 7 3 7 0 11-4 6 2 4 4 4 6 11 19 7 7 8 4 2 0 20 11"/>
<path d="M284 412l12-1 17-7 3 0 5 2 9 0 3-2 5-6 6-10 23-47 2-3 5-4 3 1 2 2 14 25 14 14 11 18 5 5 5 2 14 0 1 1 7 1"/>
<path d="M284 412l22 0 1-1 7-1 3-2 7-7 4-6 16-28 11-11 1 0 11-12 4-2 5 0 5 2 5 0 1 1 2 0 4 4 4 8 12 32 5 9 7 8 10 5 4 0 1 1 14 0"/>
<path d="M284 412l11-1 1-1 3 0 1-1 3 0 1-1 3 0 5-2 4 0 1-1 8 0 8-3 11-10 17-22 13-13 7-5 8-3 4 0 7 3 5 5 18 29 9 9 18 10"/>
<path d="M284 411l10-2 8-3 14-1 7-3 8-8 16-26 7-9 5-4 2 0 1-1 6 0 7 3 9 0 5-2 4 0 4 2 5 6 12 23 6 9 9 9 3 1 2 2 11 4 5 0"/>
<path d="M284 412l40 0 1-1 6-1 3-2 6-8 5-10 16-49 5-11 3-3 3 1 2 2 8 14 5 5 2 1 7 0 7 6 6 11 11 27 5 9 6 6 4 2 3 0 1 1 11 0"/>
<path d="M284 412l27 0 1-1 3 0 9-5 14-12 9-16 12-35 4-10 4-5 4 0 7 7 5 3 5 5 3 6 11 33 4 7 6 6 8 6 6 3 14-1 6 3 2 2 2 0"/>
<path d="M284 412l19 0 1-1 4 0 7-3 12-10 5-2 4 0 4-2 4-5 3-7 13-43 3-6 3-3 2 0 3 2 18 34 15 21 6 3 1-1 3 0 6-4 5 0 8 7 11 14 6 3"/>
<path d="M284 410l3 0 9-4 13-9 11-11 13-18 6-6 6-2 1 1 3 0 10 4 4 0 10-4 8 0 1 1 2 0 12 11 12 16 11 12 13 8 2 0 4 2 12 1"/>
<path d="M284 408l2 0 1-1 17 0 1-1 4 0 7-3 12-11 7-9 11-11 6-3 2-2 2 0 6-3 4 0 1-1 10 0 1 1 4 0 1 1 7 1 13 5 7 5 25 24 13 7 2 0"/>
<path d="M284 405l1-1 1 1 4 0 6 3 9 0 11-5 11-3 16-10 5-5 4-6 11-22 6-9 11-12 3 0 5 6 11 35 6 12 2 1 4 0 8-4 4 1 5 4 12 15 4 3 6 2"/>
<path d="M284 412l22 0 10-4 17-19 8-4 3-3 7-13 6-16 5-10 6-7 5-2 1 1 2 0 5 6 15 37 4 7 6 6 10 3 7 4 6 0 1-1 5 0 1-1 1 1 3 0 9 8 1 0"/>
<path d="M284 411l5 0 1-1 5-1 6-3 6-5 12-7 4 0 1-1 12 0 4-2 4-3 4-5 13-20 4-4 4-2 7 0 8 4 8 6 20 20 7 4 2 0 1 1 13 0 1 1 4 0 8 4 2 0"/>
<path d="M284 408l3 0 5-2 5 0 1-1 5 0 8-3 9-9 8-11 12-12 16-12 8-4 7-1 1 1 5 0 1 1 2 0 7 4 9 10 17 26 11 11 11 5 15 1"/>
<path d="M284 411l9-1 10-6 8-8 6-8 18-17 10-5 2 0 3-2 2 0 4-2 3 0 1-1 9 0 1 1 2 0 5 3 16 16 3 2 7 3 3 0 1 1 8 2 15 10 8 4 2 0 7 3 3 0"/>
<path d="M284 412l36 0 8-3 7-9 3-7 13-40 6-11 3-2 5 1 7 6 6 3 13-1 3 2 3 4 11 25 4 7 6 6 8 5 11 10 6 3 7 1"/>
<path d="M284 412l41 0 5-2 3-3 14-29 5-14 11-55 2-7 3-4 2 2 3 6 6 16 8 17 6 19 6 24 4 11 2 3 2 2 6 3 7 7 5 3 2 0 1 1 22 0"/>
<path d="M284 409l10-6 21-21 16-11 11-11 8-5 6 0 5 3 5 6 15 14 15 4 7 5 12 11 17 9 2 0 3 2 7 1 1 1 5 0"/>
<path d="M284 412l20 0 1-1 5 0 1-1 2 0 7-4 9-10 17-27 6-6 7-3 7 1 3 2 4 1 2 2 6 3 2 0 4 2 7 0 1-1 4 0 1-1 4 0 1-1 4 0 1 1 5 1 9 8 13 18 10 10 3 1"/>
<path d="M284 407l10-2 12-5 10-7 6-6 1 0 14-12 6-4 11-5 10 0 1 1 2 0 18 12 7 3 19 0 1 1 4 0 3 2 2 0 6 4 14 12 9 5"/>
<path d="M284 412l2 0 1-1 6 0 1-1 4 0 1-1 5-1 27-14 7-5 18-18 1 0 4-4 7-3 28 1 1 1 5 0 1 1 2 0 5 3 22 23 7 5 11 5"/>
<path d="M284 412l12 0 1-1 5 0 1-1 5-1 13-7 8-8 4-6 19-41 2-3 5-4 4 0 3 2 10 14 7 7 17 7 7 7 14 22 7 8 7 4 4 0 1 1 10 0"/>
<path d="M284 412l4 0 1-1 3 0 5-2 3-2 16-16 8-5 2 0 1-1 6 0 1 1 7 1 6-4 9-17 14-39 3-6 2-2 2 0 4 5 15 50 4 10 10 18 6 6 6 3 3 0 1 1 24 0"/>
<path d="M284 412l13-1 8-4 5-5 11-16 8-7 4 0 14 9 7 0 2-1 8-7 16-20 9-8 7 0 7 7 12 20 9 11 19 14 7 3"/>
</g>
<path d="M284.3 413.0L285.1 413.0 286.1 413.0 287.1 413.0 288.3 413.0 289.6 413.0 290.9 413.0 292.4 413.0 293.9 413.0 295.5 413.0 297.2 413.0 298.9 413.0 300.7 413.0 302.5 413.0 304.3 413.0 306.2 413.0 308.0 413.0 309.9 413.0 311.8 412.9 313.7 412.9 315.6 412.9 317.4 412.9 319.2 412.9 321.0 412.9 322.7 412.9 324.4 412.9 326.1 412.9 327.6 412.9 329.1 412.9 330.5 412.9 331.8 412.9 333.0 412.8 334.1 412.8 335.1 412.8 336.0 412.8 340.8 412.5 339.5 412.0 341.0 411.7 342.5 410.0 344.2 405.1 346.0 398.5 347.8 392.2 350.0 383.0 351.4 375.5 353.1 366.4 354.7 356.9 356.2 348.0 358.0 337.1 359.6 326.7 361.2 318.0 363.0 312.0 364.8 307.6 366.2 303.0 367.6 294.7 368.5 285.5 369.3 273.7 370.0 263.0 370.9 257.3 372.0 254.5 373.3 252.0 374.5 254.5 375.3 267.5 376.2 285.5 378.1 305.9 380.0 325.5 381.2 340.0 382.5 350.5 384.0 353.6 385.7 354.9 387.5 358.0 389.2 365.5 390.8 374.9 392.5 383.0 394.2 389.0 396.0 393.7 397.5 396.8 399.1 397.1 400.5 395.5 402.0 393.4 403.8 393.0 405.3 396.3 407.1 401.3 408.8 405.5 410.7 409.2 412.5 411.5 412.4 412.5 416.0 412.8 416.9 412.8 418.1 412.9 419.3 412.9 420.7 412.9 422.3 412.9 423.9 412.9 425.7 413.0 427.4 413.0 429.3 413.0 431.2 413.0 433.1 413.0 435.0 413.0 436.8 413.0 438.7 413.0 440.4 413.0 442.1 413.0 443.7 413.0 445.2 413.0 446.6 413.0 447.8 413.0 448.8 413.0 449.7 413.0" fill="none" stroke="#011f4b" stroke-width="2.5" stroke-linejoin="round" shape-rendering="crispEdges"/>
<path d="M284.3 253V413.5H449.7" fill="none" stroke="#000" stroke-width="1.1"/>
<path d="M295.5 414v3M325.5 414v3M354.5 414v3M383.5 414v3M412.5 414v3M442.5 414v3" stroke="#333" stroke-width="1"/>
<text transform="translate(295.1 431) scale(0.84 1)" class="tk">20</text>
<text transform="translate(324.8 431) scale(0.84 1)" class="tk">30</text>
<text transform="translate(354 431) scale(0.84 1)" class="tk">40</text>
<text transform="translate(382.9 431) scale(0.84 1)" class="tk">50</text>
<text transform="translate(412.1 431) scale(0.84 1)" class="tk">60</text>
<text transform="translate(441.8 431) scale(0.84 1)" class="tk">70</text>
<text x="283.8" y="240.6" class="ti">Colegio 6</text>
<path d="M475.8 332h20" stroke="#011f4b" stroke-width="2"/>
<path d="M475.8 355.5h19" stroke="#b3cde0" stroke-opacity="0.7" stroke-width="1"/>
<text x="504.8" y="336" class="ly">y</text>
<text x="504.8" y="357.8" class="ly">y</text><text x="513.8" y="361" class="lr">rep</text>
<g fill="none" stroke="#b3cde0" stroke-opacity="0.7" stroke-width="1" shape-rendering="crispEdges" transform="translate(0.5 0.5)">
<path d="M556 412l10 0 8-2 0-1 2 0 0-1 2 0 0-1 4-1 12 1 0-1 2-1 0-1 2-1 2-3 0-3 2-2 0-3 2-4 0-3 4-11 0-4 2-4 0-3 2-4 0-3 2-3 0-3 2-3 0-2 4-6 8-4 0-1 2-1 0-2 2-3 0-3 2-4 0-5 2-6 0-7 2-8 0-9 2-8 0-9 2-7 0-6 2-3 2 0 0 5 2 8 0 10 2 11 0 13 2 13 0 13 2 12 0 10 2 10 0 8 2 6 0 6 2 4 0 4 6 9 4 0 0-1 2 0 4-2 4 0 0 1 2 0 0 1 2 1 0 1 2 1 0 1 2 1 0 1 2 1 0 1 2 1 0 1 2 1 2 3 2 0 0 1 2 0 0 1 2 0 0 1 4 0 0 1 17 0"/>
<path d="M556 412l12-2 0-1 10-3 0-1 2 0 0-1 2 0 0-1 6-1 0-1 6-1 0-1 4-1 0-1 8-5 2-3 4-2 0-1 2-1 0-1 2-1 0-1 2-1 0-1 2-1 0-1 2-1 0-1 2-1 0-1 2-1 0-1 2-1 0-1 2-1 0-1 2-1 2-3 4-2 4-6 0-2 2-3 0-4 2-4 0-5 2-6 0-7 2-7 0-7 2-7 0-5 2-4 0-3 2 0 0 2 2 3 0 5 2 5 0 7 2 7 0 6 2 6 0 5 2 5 0 4 2 3 0 3 2 2 0 2 4 6 2 1 0 2 2 1 4 7 2 1 0 2 2 1 0 2 2 1 0 2 2 3 2 1 0 2 2 1 0 2 4 3 2 4 4 2 2 3 2 0 0 1 10 5 2 0 0 1 3 0"/>
<path d="M556 412l36 0 4-1 0-1 4-3 12-24 2-1 0-1 6-3 0-1 2-1 2-3 0-2 2-3 0-3 2-4 0-4 2-5 0-5 2-5 0-4 2-5 0-4 2-3 0-3 2-1 0-2 2 0 0-1 4-1 2-3 0-2 2-2 0-3 2-3 2-1 2 3 0 3 2 5 0 5 2 6 0 7 2 6 0 6 2 7 0 5 2 5 0 4 2 4 0 3 2 2 0 2 2 3 4 3 0 1 4 2 0 1 2 0 2 4 2 1 0 2 2 2 0 2 2 1 0 2 2 2 0 2 2 1 2 3 6 3 23 0"/>
<path d="M556 412l8 0 0-1 4 0 0-1 2 0 0-1 4-1 0-1 4-2 0-1 4-2 0-1 4-2 0-1 4-2 0-1 2 0 0-1 4 0 0 1 4 1 2 3 4 2 4 0 4-6 0-3 2-3 0-3 2-4 0-3 2-5 0-4 2-4 0-5 2-5 0-4 2-5 0-4 2-4 0-4 2-4 0-3 2-2 0-2 2-3 4-2 0 1 2 0 2 1 0 1 2 0 0 1 4 3 4 6 0 2 2 2 0 3 2 2 0 3 2 3 0 3 2 3 0 3 2 2 0 3 2 3 2 7 2 2 0 3 6 9 0 2 6 9 0 2 2 1 0 2 4 3 0 2 2 1 0 1 2 0 0 1 8 3 25 0"/>
<path d="M556 412l8 0 10-2 0-1 2 0 10-5 0-1 2 0 0-1 4-2 0-1 2 0 2-3 2 0 0-1 8-7 0-2 2-1 0-2 4-5 0-2 2-2 0-2 2-2 0-2 2-2 0-2 2-2 0-2 2-3 2-1 0-2 2 0 0-1 2-1 4 0 0 1 2 0 2 3 2 0 0 1 6 4 0 1 4 1 14-1 0 1 4 1 0 1 8 7 2 4 2 1 0 1 2 1 0 1 2 1 0 1 2 1 0 1 2 1 2 3 2 0 0 1 4 2 0 1 2 0 0 1 4 2 0 1 4 2 0 1 2 0 2 3 2 0 0 1 4 2 0 1 2 0 0 1 2 0 0 1 2 0 0 1 3 0"/>
<path d="M556 412l18 0 0-1 6 0 8-2 0-1 2 0 0-1 2 0 0-1 2 0 8-4 0-1 2 0 0-1 4-2 0-1 8-7 2-4 2-1 0-2 2-1 2-4 4-3 0-2 2-1 0-1 2-1 0-1 2-1 2-3 2 0 2-3 2 0 0-1 4-2 2 0 0-1 10 0 0 1 6 1 0 1 4 0 0 1 16 0 0 1 2 0 4 2 0 1 4 3 4 6 0 2 2 1 0 2 2 2 0 2 4 5 0 2 2 1 0 2 2 1 0 2 2 1 0 1 2 1 2 3 4 2 0 1 2 0 0 1 1 0"/>
<path d="M556 412l30 0 0-1 4 0 0-1 4-1 0-1 4-3 2-4 2-1 0-2 2-2 0-2 2-1 0-2 2-2 0-2 2-2 0-2 2-2 0-2 2-2 0-2 2-2 0-2 2-2 0-2 2-2 0-2 2-1 0-2 4-6 2-1 0-2 2-1 0-1 4-3 0-2 2-1 0-1 2-1 0-1 2-1 2-3 4-2 0-1 6 0 0 1 4 3 0 2 4 6 0 3 2 2 0 3 2 2 0 3 2 3 2 7 2 2 0 3 2 2 0 2 2 2 0 2 2 2 0 2 2 1 0 2 2 1 2 4 4 2 0 1 2 0 0 1 6 1 0 1 2 0 4 2 0 1 2 0 0 1 4 2 0 1 10 5 7 1"/>
<path d="M556 412l30 0 0-1 4 0 0-1 4-1 0-1 2-1 0-2 2-1 0-2 2-1 0-2 2-3 0-2 2-2 0-3 2-2 0-3 2-3 2-7 4-6 0-2 2-1 2-4 8-7 0-2 2-1 0-2 2-2 0-2 2-1 0-2 4-6 2 0 0-1 4 1 4 6 0 2 2 1 0 2 2 3 2 1 0 1 4 2 4-1 0-1 2 0 0-1 4 0 4 3 0 2 2 2 0 2 4 8 2 10 2 3 0 3 2 3 0 3 2 3 2 7 6 8 10 4 21 0"/>
<path d="M556 412l36 0 0-1 4 0 0-1 2 0 0-1 2 0 0-1 2-1 6-9 0-2 2-2 0-3 2-2 0-3 2-2 0-3 2-3 0-3 2-3 0-3 2-2 0-3 2-2 0-2 2-2 0-2 2-1 2-3 2 0 0-1 6-5 0-2 2-2 0-3 2-2 0-3 2-3 0-3 2-3 0-3 2-2 0-2 4-6 4 1 0 2 2 1 0 3 2 3 0 3 2 3 0 4 2 3 0 4 2 4 0 4 4 11 0 4 2 3 0 4 2 4 2 10 2 3 0 3 2 3 2 7 4 6 2 1 0 1 16-1 0 1 10 3 0 1 4 0 0 1 7 0"/>
<path d="M556 412l14 0 2-1 4 0 4-1 10-5 0-1 2 0 0-1 8-7 0-2 4-3 0-2 2-1 2-4 2-1 0-2 2-1 0-1 2-1 0-1 2-1 2-3 2 0 0-1 10-5 0-1 2 0 0-1 2-1 0-1 2 0 0-1 2-1 0-1 2-1 0-1 2-1 2-3 4-2 0-1 4-1 0-1 4 0 0 1 2 0 0 1 6 5 0 2 2 1 0 2 4 5 0 2 2 2 0 2 2 1 0 2 2 1 0 2 2 1 2 3 4 2 8 1 0 1 2 0 6 3 0 1 2 0 0 1 2 1 0 1 2 1 0 1 2 1 0 1 2 1 0 1 2 1 0 1 2 1 2 3 4 2 0 1 2 0 0 1 1 0"/>
<path d="M556 412l34 0 8-2 0-1 2 0 0-1 4-2 0-1 4-3 0-2 2-2 2-4 0-2 2-3 0-3 2-3 0-4 2-3 0-4 2-4 0-5 2-4 0-4 2-3 0-4 2-3 0-3 2-2 0-2 2-3 4 0 2 1 0 1 2 1 2 3 4 1 4-2 2-4 4-3 4 1 2 3 0 2 2 2 0 3 2 2 0 3 2 3 0 2 2 2 0 2 2 2 0 2 4 6 2 1 0 2 2 2 0 2 2 1 0 3 2 2 2 7 2 2 0 3 2 2 0 2 2 2 0 2 2 3 2 1 0 2 4 2 0 1 2 0 0 1 4 0 0 1 19 0"/>
<path d="M556 412l14-1 4-1 0-1 8-2 0-1 2 0 0-1 2 0 0-1 2 0 0-1 4-1 0-1 8-7 0-2 2-2 0-2 4-6 0-3 2-3 0-3 2-3 0-3 2-3 0-3 2-3 0-3 2-3 2-7 4-6 2 0 0-1 2 0 0 1 4 1 0 1 2 1 2 3 2 0 0 1 2 0 0 1 8 0 0 1 2 0 4 2 0 1 4 3 0 2 2 1 0 2 2 1 0 2 2 2 0 2 2 1 0 2 2 2 0 3 2 2 0 2 2 2 0 2 2 2 0 2 2 1 0 2 6 9 2 1 0 1 2 1 0 1 2 1 2 3 2 0 0 1 2 0 0 1 4 1 6 0 0-1 12-1 8 2 1 1"/>
<path d="M556 412l36 0 0-1 2 0 6-3 0-1 4-3 4-6 0-2 2-2 0-2 2-3 0-3 2-3 0-3 4-11 0-4 2-4 0-4 2-3 0-4 2-3 0-3 2-3 0-2 2-2 0-3 2-2 0-2 2-2 0-2 2-2 0-2 2-2 0-2 2-2 0-2 2-3 4-3 4 3 0 2 2 3 0 3 2 3 0 4 2 4 0 4 2 4 0 4 2 4 0 4 2 3 0 4 2 3 0 3 2 3 0 3 2 3 2 7 2 2 0 3 2 2 0 2 2 2 0 2 2 2 0 2 2 1 0 2 2 1 2 3 4 2 8 0 0 1 2 0 10 5 4 1 13 0"/>
<path d="M556 412l18 0 2-1 4 0 4-1 0-1 6-1 0-1 4-1 2-3 2 0 8-12 0-2 6-13 0-3 2-2 0-3 2-2 0-3 2-2 0-2 2-2 0-2 2-2 0-2 2-1 0-2 2-1 0-2 4-3 0-2 4-2 0-1 2 0 0-1 4 1 0 1 4 3 4 6 0 2 4 5 0 2 2 1 0 2 2 1 0 2 2 1 0 1 2 1 0 1 2 1 2 3 8 5 0 1 2 1 0 1 2 1 0 1 10 9 0 2 2 1 0 1 2 1 2 3 4 2 0 1 4 2 0 1 2 0 0 1 6 1 0 1 8 2 0 1 7 1"/>
<path d="M556 412l24 0 0-1 4 0 0-1 4-1 2-3 4-2 2-3 4-1 0-1 6 0 0 1 4 1 6 0 0-1 2 0 4-6 0-3 2-3 0-3 2-4 0-4 2-5 0-5 2-5 0-5 2-6 0-5 2-5 0-5 2-5 0-4 2-3 0-4 4-6 4 1 6 9 0 2 4 5 0 2 6 9 0 2 6 8 0 2 2 1 0 2 2 1 0 2 2 1 0 2 2 2 0 2 2 3 0 2 6 13 0 3 2 2 0 3 2 2 0 2 2 2 0 2 4 6 2 1 0 1 2 0 0 1 2 0 0 1 4 1 19 0"/>
<path d="M556 412l24 0 0-1 4 0 0-1 2 0 8-4 0-1 2 0 0-1 6-3 0-1 2 0 0-1 8-5 6-9 0-3 2-2 0-3 2-3 0-3 2-3 0-4 2-3 0-4 2-3 0-3 2-3 0-3 2-3 0-2 2-3 2-1 0-1 4 0 6 4 0 1 12-1 0 1 4 3 0 2 2 2 0 2 2 2 0 2 2 2 0 2 2 2 0 2 2 2 0 2 2 1 0 2 2 2 0 2 2 1 0 2 2 2 0 2 2 1 0 2 2 2 0 2 2 2 0 2 6 9 2 1 0 1 2 1 2 3 2 0 0 1 8 4 2 0 0 1 13 1"/>
<path d="M556 412l14 0 2-1 4 0 0-1 6-1 0-1 12-3 0-1 2 0 0-1 2 0 0-1 4-2 16-24 0-2 2-2 0-3 2-2 0-2 4-8 0-3 4-8 0-3 2-3 0-3 2-2 0-2 2-4 2-3 2-1 4 1 2 3 0 2 2 2 0 2 2 3 0 2 2 3 2 7 4 6 0 2 10 14 0 2 4 5 0 2 2 2 0 2 8 11 2 0 0 1 4 1 0 1 8 2 0 1 6 1 0 1 16 0 0 1 5 0"/>
<path d="M556 412l28 0 0-1 8-1 0-1 2 0 0-1 4-2 0-1 4-3 0-2 2-1 0-2 2-1 0-2 2-1 0-2 2-2 0-2 2-2 0-2 4-6 0-3 2-2 0-2 2-2 0-2 2-2 0-2 2-2 0-2 2-2 0-2 2-1 0-2 2-1 0-2 2-1 0-1 2-1 2-3 2 0 0-1 4-1 2 0 0 1 2 0 2 1 0 1 2 0 0 1 4 3 0 2 2 1 2 4 2 1 0 2 2 1 0 2 2 1 0 2 2 1 0 2 2 1 0 2 2 1 2 4 2 1 0 2 2 1 2 3 2 0 2 3 2 0 0 1 2 0 0 1 6 3 0 1 4 2 0 1 2 1 2 3 2 0 0 1 2 1 2 3 2 0 0 1 6 3 0 1 2 0 0 1 7 2"/>
<path d="M556 412l8 0 0-1 4 0 0-1 2 0 8-4 6 0 0 1 10 3 0 1 6 0 0-1 2 0 0-1 4-3 0-2 2-1 0-2 2-3 0-3 2-3 0-3 2-4 0-4 4-14 0-5 2-5 0-6 2-5 0-5 2-4 0-4 2-4 0-3 2-3 0-2 2-1 2 0 2 2 2 3 0 2 2 1 0 2 2 1 0 2 2 0 0 1 8 0 0 1 2 1 0 1 2 1 2 3 0 2 4 6 2 7 2 2 0 3 2 2 0 3 2 3 0 3 2 3 0 3 2 3 0 3 2 2 0 3 2 2 0 2 2 1 2 3 8 2 0 1 2 1 0 1 2 1 0 1 2 1 2 3 2 0 0 1 4 2 4 1 17 0"/>
<path d="M556 412l10 0 2-1 4 0 8-2 0-1 4 0 0-1 10-1 6-3 6-8 0-2 2-2 0-2 2-2 0-2 2-2 0-2 2-2 0-2 4-6 4-2 4 0 4 1 0 1 4 0 4-2 0-1 4-3 0-2 4-5 0-3 2-2 0-2 2-3 0-2 2-2 0-3 2-2 0-2 4-6 2-1 0-1 2 0 0-1 4 2 0 1 2 1 0 2 2 1 0 3 2 2 0 2 2 3 0 3 2 3 0 4 2 3 0 3 2 4 2 10 2 3 0 4 2 3 0 3 2 2 0 3 2 2 0 2 2 2 0 2 2 3 2 1 2 3 6 3 4 1 15 0"/>
<path d="M556 412l20 0 8-3 0-1 4-3 4-6 0-2 2-1 0-2 2-2 0-2 4-6 2-1 0-1 2 0 0-1 4 0 0 1 2 0 2 3 2 0 0 1 4 2 4-1 0-1 2-1 0-2 4-6 0-3 2-3 0-3 2-3 0-4 2-3 2-10 2-3 0-3 2-3 2-7 4-6 4-2 4 3 2 3 0 2 2 2 0 3 2 2 0 3 2 3 2 10 2 3 0 2 2 3 2 7 6 9 2 1 2 4 2 1 0 2 2 1 2 4 2 1 0 2 4 3 0 2 2 1 0 1 2 1 2 3 2 0 0 1 2 1 0 1 2 0 0 1 8 2 11 0"/>
<path d="M556 412l18 0 2-1 4 0 0-1 2 0 0-1 2 0 0-1 2 0 0-1 4-2 0-1 2-1 2-4 2-1 4-6 0-2 2-2 0-2 2-2 0-2 4-6 0-3 2-2 0-2 2-3 0-2 2-2 0-2 2-2 0-2 2-1 0-2 2-1 0-1 4-2 4 0 6 3 0 1 2 0 0 1 4 1 4 0 0-1 6-1 0-1 8 0 0 1 2 0 0 1 4 2 4 6 2 1 0 2 8 12 0 2 2 2 2 7 4 5 0 2 2 2 0 2 2 1 0 2 2 1 0 1 2 1 2 3 4 2 2 0 0 1 4 0 0 1 17 0"/>
<path d="M556 412l12 0 8-2 0-1 8-2 0-1 6 0 0 1 4 0 2 1 4-1 0-1 2 0 0-1 8-7 4-6 0-2 2-2 0-2 2-3 0-3 2-4 0-4 2-5 0-5 2-5 0-6 2-5 0-6 2-6 0-5 2-5 0-5 2-3 0-4 2-2 0-2 2-1 2 0 2 3 0 2 2 2 0 3 2 3 0 3 2 3 0 3 2 3 0 3 2 3 0 3 2 3 0 3 2 3 2 7 2 2 0 2 2 3 2 1 2 3 2 0 0 1 2 1 0 1 2 1 2 3 0 2 2 2 0 2 2 3 2 7 2 2 0 2 2 2 0 2 2 1 0 2 4 2 2 0 0 1 20 0 0 1 2 0 11 5"/>
<path d="M556 412l34 0 8-2 0-1 2 0 0-1 2 0 0-1 2 0 0-1 2 0 0-1 4-1 0-1 4-3 0-2 2-2 0-2 2-3 0-3 2-3 0-4 2-4 0-4 2-5 0-4 2-4 0-4 2-4 2-10 2-2 0-3 2-3 0-2 2-2 0-2 2-2 0-2 2-2 0-2 2-1 2-3 4 0 0 1 2 0 0 1 6 5 4 6 0 3 2 3 0 3 2 3 0 4 2 4 0 4 2 4 0 4 2 4 0 4 2 3 0 3 2 3 0 2 2 2 0 2 2 3 2 1 0 2 4 3 0 2 2 1 0 1 2 1 2 3 8 5 0 1 2 0 0 1 2 0 0 1 4 1 0 1 4 0 0 1 13 0"/>
<path d="M556 412l28 0 4-1 4-2 0-1 2 0 0-1 2-1 8-12 0-2 2-1 0-2 2-1 0-2 2-1 0-1 2 0 0-1 2-1 12 0 0-1 2 0 6-9 0-3 2-2 0-3 2-3 0-3 2-3 0-3 2-2 0-3 2-2 0-3 2-1 0-2 2-1 0-1 4 0 0 1 2 0 0 1 2 1 0 2 2 1 2 3 0 2 2 1 0 2 2 1 0 2 2 1 0 2 4 3 0 2 12 7 0 1 2 0 0 1 2 1 6 9 0 2 2 2 0 2 2 2 0 2 4 5 0 2 2 1 0 2 2 1 2 3 2 0 0 1 2 0 0 1 13 0"/>
<path d="M556 412l30 0 0-1 4 0 0-1 2 0 2-1 0-1 2 0 0-1 2-1 0-2 2-1 4-6 0-2 2-2 0-2 4-6 0-3 4-6 2-7 2-2 0-2 2-2 0-2 2-2 0-2 2-2 0-2 2-1 0-2 2-1 0-1 4-2 2 0 0 1 2 0 0 1 4 2 0 1 2 0 0 1 4 0 0-1 6-5 0-2 2-1 2-4 2 0 0-1 4 1 2 3 0 2 2 2 0 2 2 3 0 3 2 3 0 3 2 3 0 3 2 3 0 3 2 3 2 7 2 2 0 2 2 1 0 2 2 1 0 1 2 1 0 1 2 1 2 3 4 2 0 1 4 2 0 1 4 2 0 1 8 4 2 0 0 1 11 1"/>
<path d="M556 412l30 0 4-1 4-2 0-1 2 0 6-9 0-2 2-2 0-2 2-3 0-2 6-13 0-3 2-2 0-3 4-8 0-3 4-8 0-3 2-3 2-7 6-9 4 0 2 1 10 16 2 1 2 4 2 1 0 2 4 5 0 2 2 2 2 7 2 2 0 3 2 2 0 2 2 2 0 2 2 2 0 2 2 1 0 2 2 1 0 1 6 3 2 0 0 1 2 0 6 3 0 1 2 0 0 1 2 1 0 1 2 1 2 3 2 0 2 3 8 4 4 0 0 1 9 0"/>
<path d="M556 412l10 0 0-1 6 0 0-1 6-1 0-1 2 0 0-1 8-2 0-1 2 0 0-1 4-2 0-1 6-5 2-4 2-1 0-2 4-3 0-2 2-1 2-3 2 0 2-3 2 0 0-1 6-5 4-6 0-2 2-2 0-2 2-2 0-2 2-2 0-2 2-2 0-2 2-2 0-2 2-3 4-3 4 1 2 3 2 1 0 2 2 2 0 2 2 3 2 7 2 2 0 3 2 2 2 7 2 1 0 2 2 3 4 3 0 1 6 3 16 4 2 3 2 0 2 4 4 3 2 4 2 1 0 1 2 1 2 3 2 0 0 1 4 1 0 1 4 0 0 1 1 0"/>
<path d="M556 412l22 0 2-1 4 0 0-1 2 0 0-1 2 0 0-1 4-2 4-6 2-1 4-7 2-1 0-2 2-1 2-4 2-1 0-1 2-1 0-1 2-1 0-1 2-1 0-1 2-1 0-1 2-1 0-1 2-1 0-1 2-1 0-1 10-9 8-12 0-2 2-1 0-2 4-6 6-4 0 1 4 1 2 3 0 2 2 1 0 3 2 2 0 2 4 8 0 3 2 2 0 3 2 3 2 7 2 2 0 2 2 2 0 2 2 2 0 2 4 6 2 1 0 2 2 1 0 1 2 1 0 1 2 1 2 3 2 0 0 1 2 0 0 1 2 0 0 1 14 3 0 1 6 1 0 1 3 0"/>
<path d="M556 412l24 0 4-1 6-3 0-1 4-2 2-3 2 0 0-1 6-4 0-1 2 0 0-1 2 0 0-1 6-1 0-1 4-1 0-1 4-2 0-1 6-3 2 0 0-1 4-3 0-2 2-2 0-2 2-3 0-4 2-4 0-4 2-5 0-5 2-5 0-5 2-5 0-5 2-4 0-4 2-4 0-3 2-3 0-2 2-1 0-1 4 1 2 3 0 2 4 6 0 3 2 2 0 3 2 2 0 3 2 3 0 4 2 3 0 4 2 5 0 4 2 4 0 5 2 5 0 4 2 4 0 4 2 4 0 4 2 3 0 2 2 2 0 2 2 3 2 1 0 1 2 0 0 1 8 1 12 6 4 0 0 1 7 0"/>
<path d="M556 412l32 0 0-1 4 0 0-1 2 0 4-2 0-1 2 0 0-1 4-3 0-2 2-1 0-2 2-1 0-2 2-2 0-2 4-8 0-3 2-3 0-3 2-3 0-3 2-3 0-3 2-2 0-3 2-2 0-2 4-6 2-1 0-1 2 0 0-1 4-1 0-1 12 0 0-1 2 0 0-1 2-1 0-1 2-1 0-1 2-1 2-3 4 0 0 1 2 1 0 2 2 2 0 2 2 3 0 4 2 3 0 4 2 4 0 4 2 4 0 4 2 4 0 4 2 3 0 4 2 3 2 7 2 2 0 2 2 1 2 3 2 0 0 1 2 0 0 1 4 0 0 1 6 1 0 1 8 2 0 1 13 1"/>
<path d="M556 412l24 0 0-1 4 0 0-1 4-1 0-1 6-5 0-2 2-1 0-2 4-5 0-2 2-2 0-2 2-1 0-2 6-9 0-2 2-1 0-2 2-1 0-2 2-1 2-4 10-9 2-4 2-1 0-1 2-1 2-3 6-3 8 0 4 2 0 1 2 0 0 1 2 1 0 2 2 1 2 3 0 2 2 1 0 2 2 2 0 2 2 3 0 2 2 2 2 7 4 6 0 3 4 5 0 2 6 9 2 1 4 6 2 0 0 1 2 1 0 1 2 0 0 1 8 1 0 1 17 0"/>
<path d="M556 412l22 0 10-2 0-1 2 0 0-1 4-2 0-1 8-7 2-4 4-3 0-2 2-1 0-1 4-3 2-4 2-1 4-6 0-2 2-2 0-2 2-2 0-2 2-2 0-3 2-2 0-2 2-2 0-2 2-2 0-2 4-3 4 0 6 4 0 1 2 0 0 1 14-1 0 1 4 3 4 6 0 3 2 2 0 2 2 3 0 2 2 3 2 7 4 6 0 2 2 1 0 1 4 3 0 1 2 0 0 1 2 0 0 1 2 0 6 3 0 1 2 0 2 3 4 2 0 1 4 2 0 1 2 0 0 1 4 1 3 0"/>
<path d="M556 412l14 0 4-1 10-6 0-2 4-3 0-2 4-3 0-2 6-4 0-1 4 0 0-1 4 1 8 0 0-1 2 0 0-1 4-3 4-6 0-2 2-2 2-7 2-2 0-3 2-2 0-3 4-8 0-3 2-3 0-3 2-2 0-3 2-3 2-7 2-3 2-1 0-1 2 0 0 1 2 1 2 3 0 2 2 2 0 3 2 3 0 3 2 4 0 3 2 4 2 10 2 3 0 4 2 3 0 3 2 3 0 3 2 3 0 3 2 2 0 3 4 5 0 2 2 1 2 3 2 0 0 1 2 0 0 1 12 1 0 1 2 0 0 1 2 0 0 1 2 0 0 1 2 0 0 1 2 0 0 1 2 0 0 1 2 0 0 1 11 2"/>
<path d="M556 412l12 0 0-1 6 0 0-1 6-1 0-1 2 0 0-1 2 0 0-1 2 0 0-1 4-1 0-1 10-6 0-1 4-3 2-4 2-1 0-2 2-1 0-2 4-5 0-2 4-5 0-2 2-2 0-2 2-2 0-2 2-1 0-2 2-1 0-2 2-1 0-1 2-1 2-3 2 0 0-1 4 0 8 3 10 0 0-1 4 0 0 1 4 1 0 1 4 3 4 6 0 2 2 2 0 2 2 2 0 2 2 2 0 2 2 2 0 2 2 2 0 2 2 2 0 2 2 2 0 2 2 1 0 2 2 1 2 4 4 2 0 1 2 0 0 1 4 1 0 1 2 0 0 1 6 1 0 1 8 2 5 0"/>
<path d="M556 412l28 0 4-1 6-3 0-1 2-1 0-1 2-1 0-1 2-1 0-1 2-1 0-1 2-1 2-3 10-5 4-6 0-3 2-2 0-3 2-3 0-3 2-4 0-3 2-4 0-3 2-4 2-10 2-3 0-3 2-2 0-3 2-2 0-2 4-6 2 0 0-1 4 1 0 2 2 1 0 2 4 8 0 3 2 4 0 3 2 3 0 3 2 3 2 7 2 3 2 1 0 2 2 0 2 3 6 4 2 4 2 1 0 2 2 1 0 2 2 1 6 9 6 5 0 2 2 1 0 1 2 1 0 1 2 1 2 3 2 0 0 1 2 0 0 1 2 0 0 1 4 0 0 1 9 0"/>
<path d="M556 412l16 0 0-1 8-1 0-1 2 0 0-1 8-2 8 0 0-1 2 0 4-2 6-8 0-2 4-6 0-2 2-3 0-2 2-3 2-7 4-6 0-2 2-3 2-1 0-2 6-5 4-6 0-2 2-2 2-7 2-2 0-3 4-6 4-3 2 0 4 3 6 12 0 3 4 11 0 4 2 4 0 4 2 5 0 4 2 4 0 4 2 4 0 4 2 3 0 3 2 3 0 2 2 2 0 2 6 5 8 0 8 2 0 1 6 1 0 1 13 1"/>
<path d="M556 412l28 0 2-1 4 0 0-1 2 0 0-1 2 0 0-1 4-2 0-1 2-1 0-2 2-1 2-3 0-2 2-2 0-2 4-6 0-2 2-3 0-2 2-3 2-7 2-2 0-2 2-2 0-2 2-3 2-1 2-3 2 0 0-1 2 0 0-1 6-1 0-1 4-2 0-1 4-2 0-1 4-1 0-1 6 0 4 2 0 1 2 0 0 1 6 5 2 4 2 1 0 2 2 1 0 2 2 1 0 2 2 2 0 2 2 2 0 2 2 2 0 2 4 6 0 3 2 2 0 2 2 2 0 2 2 2 0 2 2 1 0 2 2 1 0 2 2 1 2 3 8 4 4 0 0 1 13 0"/>
<path d="M556 412l32 0 4-1 0-1 2 0 0-1 4-3 0-2 2-2 0-2 2-2 0-2 2-3 0-3 2-2 0-3 2-2 0-2 2-3 2-1 2 0 0 1 2 1 2 4 2 1 0 2 4 0 2-4 0-3 2-3 0-5 2-5 0-6 2-6 0-7 2-6 0-7 2-5 0-6 4-11 2 0 0 1 2 1 0 3 2 3 0 3 2 4 2 10 2 3 0 3 2 2 0 2 2 3 2 1 0 2 2 1 2 3 2 0 2 3 2 0 0 1 6 4 0 2 2 1 0 2 4 6 2 7 4 5 0 2 2 1 0 2 2 1 0 2 2 1 0 2 4 3 0 2 2 1 2 3 6 3 2 0 0 1 15 0"/>
<path d="M556 412l18 0 2-1 4 0 0-1 2 0 4-2 0-1 2 0 0-1 2-1 0-1 2 0 0-1 2-1 2-3 2 0 2-3 4-2 0-1 2 0 0-1 6-5 4-6 0-2 2-2 0-2 4-8 0-3 4-8 0-3 2-3 2-7 6-9 4 0 2 1 0 1 2 0 0 2 2 1 8 13 2 1 0 2 6 5 2 4 4 3 0 2 4 3 0 2 6 5 2 4 2 0 0 1 6 5 2 4 2 1 0 1 2 1 2 3 2 0 0 1 6 4 0 1 2 0 0 1 6 3 2 0 0 1 9 1"/>
<path d="M556 412l36 0 0-1 4 0 0-1 2 0 0-1 4-1 0-1 6-4 6-9 0-2 2-3 0-3 2-3 0-3 2-3 0-4 2-4 0-4 2-4 0-4 2-5 0-4 2-4 0-4 2-4 0-4 2-3 0-4 2-3 2-7 2-1 2-3 4 2 0 2 2 2 0 2 2 3 0 3 2 3 2 10 2 3 0 3 2 3 0 3 2 2 0 2 2 3 6 5 0 1 4 2 0 2 2 1 0 2 2 1 0 2 2 2 0 2 4 6 0 3 6 9 0 2 2 1 0 1 2 1 2 3 2 0 0 1 2 0 0 1 2 0 0 1 2 0 0 1 2 0 0 1 2 0 0 1 2 0 4 2 4 0 0 1 9 0"/>
<path d="M556 412l26 0 2-1 4 0 0-1 2 0 4-2 0-1 2 0 0-1 4-3 2-4 2-1 0-2 4-5 0-2 2-2 0-2 2-2 0-2 2-2 0-2 4-6 2-1 2-3 2 0 0-1 8-1 6-3 0-1 4-3 0-2 2-1 0-2 2-1 0-2 4-5 0-2 2-1 2-4 4-2 2 0 0 1 4 3 0 2 2 1 0 2 2 2 2 7 2 2 0 2 2 2 0 2 2 2 0 2 2 2 0 2 2 1 0 2 2 1 0 2 2 1 0 2 2 1 14 22 2 1 0 1 2 1 2 3 2 0 0 1 4 1 0 1 4 0 0 1 7 0"/>
<path d="M556 412l38 0 0-1 2 0 4-2 0-1 4-3 0-2 2-2 0-2 4-8 0-3 2-3 2-10 2-3 2-10 2-2 0-3 2-2 0-3 4-6 4-2 6 0 4-2 2-3 0-2 2-2 0-2 2-2 0-3 2-2 0-2 2-2 0-2 2-1 2 0 4 6 0 3 2 3 0 4 2 3 0 3 2 4 2 10 2 3 0 3 2 2 0 3 2 3 0 2 2 3 0 2 2 3 0 2 2 3 0 2 2 3 2 7 2 2 0 2 2 2 0 2 2 1 0 2 2 1 0 1 2 0 0 1 2 0 0 1 4 1 25 0"/>
<path d="M556 412l26 0 4-1 2-1 0-1 2 0 0-1 6-4 0-1 2 0 0-1 4-2 0-2 2-1 0-2 4-8 0-4 2-3 0-3 2-3 0-3 2-3 0-2 2-3 0-2 2-3 0-2 2-4 0-4 2-4 0-5 2-5 0-5 2-5 0-5 2-4 0-3 2-3 0-3 2-1 0-2 4-2 2 0 0 1 2 1 0 2 2 3 0 4 2 4 0 6 2 5 0 6 2 6 0 6 2 6 0 6 2 5 0 4 2 4 0 3 2 2 0 2 4 2 0 1 2 0 2 3 0 2 2 2 0 2 2 2 0 3 2 2 0 2 2 3 2 1 0 1 12 0 6-3 0-1 2 0 0-1 4 0 0 1 2 1 2 3 6 5 0 1 4 2 2 0 0 1 9 0"/>
<path d="M556 412l18 0 0-1 8-1 0-1 2 0 0-1 2 0 0-1 4-2 0-1 4-3 2-4 2-1 2-4 2-1 0-2 2-1 2-4 4-3 2-4 2 0 2-3 8-5 0-1 8-7 0-2 2-1 4-7 2-1 0-2 2-1 2-3 4-2 2 0 0-1 4 1 0 1 4 2 6 9 0 2 2 1 0 2 2 2 0 2 2 2 0 2 2 2 0 2 2 2 0 2 2 2 0 2 2 2 0 2 2 1 0 2 2 1 0 2 2 1 2 3 4 2 0 1 2 0 0 1 8 2 0 1 2 0 0 1 2 0 0 1 2 0 0 1 2 0 0 1 2 0 0 1 2 0 0 1 2 0 0 1 2 0 7 3"/>
<path d="M556 412l34 0 4-1 0-1 2 0 0-1 8-7 0-2 2-1 0-1 2 0 0-1 4-2 0-1 4-3 0-2 4-6 0-3 2-2 2-7 2-1 0-2 2-3 2-1 0-2 2-1 0-2 2-1 0-2 4-8 0-3 2-2 0-4 2-3 0-3 2-3 0-4 2-3 0-4 2-3 0-3 2-3 0-3 2-3 2-1 2 1 0 2 2 2 0 4 2 3 0 5 2 4 0 5 2 5 0 5 2 5 0 4 2 5 0 4 2 4 0 3 2 4 0 3 2 3 0 2 2 3 2 7 4 6 0 2 4 6 2 1 2 3 2 0 0 1 10 0 0 1 2 0 0 1 2 0 0 1 6 3 4 1 7 0"/>
<path d="M556 412l18 0 2-1 4 0 0-1 10-3 0-1 16 1 0-1 6-5 0-2 4-6 0-3 2-2 0-3 4-8 0-3 2-3 2-7 2-2 0-2 2-2 0-2 2-1 0-2 2-1 0-1 2 0 0-1 6-5 0-2 2-2 0-3 2-2 0-3 2-3 2-10 2-3 0-2 2-2 0-2 2-1 0-1 4 3 0 3 2 3 0 3 2 4 0 5 2 4 0 5 2 6 0 5 2 5 0 5 2 5 0 5 2 4 0 4 2 4 0 3 2 3 0 3 2 2 0 2 2 3 2 1 0 1 4 2 2 0 0 1 4 0 6 2 12 0 0 1 6 1 0 1 2 0 0 1 2 0 0 1 1 0"/>
<path d="M556 412l14 0 10-2 0-1 2 0 8-4 0-1 2 0 0-1 4-2 0-1 4-3 0-2 2-1 0-2 2-1 0-2 2-1 0-2 2-2 0-2 2-2 0-2 2-2 0-2 4-5 0-2 2-1 0-2 2-1 0-1 2-1 0-2 6-5 0-2 10-9 6 0 6 3 2 0 0 1 2 0 0 1 2 0 0 1 4 1 0 1 4 3 0 2 2 1 0 2 2 1 0 2 2 2 0 2 2 2 0 2 2 2 0 2 2 2 0 2 2 2 0 2 2 2 0 2 6 9 2 1 0 1 2 1 0 1 2 1 2 3 2 0 0 1 4 2 0 1 2 0 0 1 2 0 0 1 2 0 0 1 4 0 0 1 4 0 2 1 7 0"/>
<path d="M556 412l34 0 0-1 4 0 0-1 2 0 0-1 6-5 0-2 4-6 0-2 2-3 0-3 2-3 0-3 2-3 0-3 2-3 0-3 2-2 0-3 2-2 0-3 4-6 4-2 6 1 0 1 2 0 0 1 6 0 2-1 0-1 4-3 0-2 2-2 0-2 2-1 0-2 2-2 0-2 6-4 0 1 2 0 0 1 4 3 0 2 2 2 0 2 4 6 0 3 2 2 0 3 2 2 0 3 2 2 0 3 2 3 0 3 2 2 0 3 2 3 0 2 2 3 2 7 2 2 0 2 2 2 0 2 2 1 0 2 2 1 2 3 2 0 0 1 2 0 0 1 4 0 0 1 19 0"/>
<path d="M556 412l16 0 2-1 4 0 0-1 2 0 4-2 0-1 2 0 0-1 4-3 2-4 2-1 0-2 4-5 0-2 6-9 0-2 2-2 0-2 6-9 2-1 0-1 2-1 2-3 2 0 0-1 4 0 0-1 8 0 0-1 4 0 6-2 6 0 4 1 0 1 2 0 0 1 8 7 2 4 2 1 2 4 2 1 6 9 8 7 2 4 2 1 2 3 2 0 0 1 6 4 0 1 2 0 0 1 4 1 19 0"/>
<path d="M556 412l12-1 0-1 6-1 0-1 2 0 0-1 2 0 0-1 2 0 0-1 2 0 0-1 10-1 0-1 6 0 0-1 4-1 0-1 8-7 0-2 2-1 0-1 8-7 2-4 2-1 4-6 0-2 2-2 0-2 2-2 0-3 2-2 0-2 2-3 0-2 2-2 0-2 2-2 0-2 4-6 2-1 0-1 2 0 0-1 4 0 0 1 4 3 0 2 2 1 0 2 2 2 0 3 4 6 0 3 2 2 0 2 2 2 0 2 2 1 0 2 2 1 2 3 4 2 0 1 8 7 0 2 2 1 0 2 2 1 0 2 10 15 2 1 2 3 2 0 0 1 2 0 0 1 2 0 0 1 4 0 0 1 9 0"/>
<path d="M556 412l14-1 10-3 4 0 0-1 10 0 0-1 2 0 6-3 0-1 2-1 0-2 2-1 2-3 0-2 2-1 0-2 2-2 0-2 2-1 0-2 2-2 0-2 4-5 0-2 4-5 0-2 2-1 0-2 2-1 2-4 2-1 2-3 2 0 0-1 2 0 0-1 8-1 0-1 4 0 0-1 8-2 6 1 0 1 6 5 0 2 2 1 0 2 4 5 0 2 2 2 0 2 2 2 0 2 2 1 0 2 2 2 0 2 2 1 0 2 6 9 2 1 2 4 2 1 0 1 2 1 0 1 2 1 2 3 2 0 0 1 8 4 2 0 0 1 7 1"/>
<path d="M556 412l24 0 0-1 4 0 0-1 10-3 0-1 2 0 0-1 2 0 0-1 4-1 0-1 4-3 0-2 4-6 0-3 2-2 0-3 2-2 0-3 2-3 0-2 2-2 0-2 2-2 0-2 2-1 0-2 2-1 4-6 0-2 4-6 0-3 4-8 0-3 6-9 4 0 0 1 4 3 0 2 2 1 0 2 2 1 0 2 2 1 0 2 4 6 0 3 2 3 0 3 2 3 0 3 2 3 0 4 2 3 0 4 2 3 0 3 2 3 0 3 2 2 0 2 2 2 0 2 2 1 0 1 4 1 0 1 10-3 0-1 4 0 0 1 2 0 0 1 8 7 2 4 2 0 2 3 6 1 0 1 5 0"/>
<path d="M556 412l32 0 0-1 4 0 0-1 2 0 2-1 0-1 2 0 0-1 4-3 6-9 0-2 2-1 0-2 2-2 0-2 2-2 0-2 2-1 0-2 4-5 0-2 2-1 0-2 2-1 0-2 2-1 0-2 2-1 2-4 2-1 0-1 2-1 0-1 2-1 2-3 2 0 2-3 2 0 0-1 6-3 4 0 0 1 2 0 0 1 6 5 0 2 2 1 0 1 2 1 2 3 10 5 0 1 2 0 8 12 2 7 2 2 0 2 2 2 0 2 2 2 0 2 4 6 2 1 0 2 2 1 0 1 4 2 0 1 2 0 0 1 8 1 0 1 5 0"/>
<path d="M556 412l16 0 0-1 10-1 0-1 8-2 0-1 2 0 0-1 2 0 0-1 4-1 0-1 8-5 0-2 4-3 0-2 2-1 0-2 4-5 0-2 2-2 0-2 2-2 0-2 2-2 0-2 2-2 0-2 2-2 0-2 2-2 0-2 2-2 0-2 2-2 0-2 2-2 0-2 2-2 0-2 2-2 0-2 2-1 2-3 4 0 0 1 2 1 0 2 2 1 0 2 4 8 0 3 2 2 0 3 2 3 0 3 2 3 0 2 2 2 0 3 2 1 0 2 2 1 0 1 4 2 6-1 0-1 6 0 0 1 2 0 0 1 6 5 0 2 2 1 0 2 2 1 0 2 6 9 2 1 2 3 10 4 9 0"/>
<path d="M556 412l16 0 0-1 4 0 10-3 0-1 2 0 0-1 4-1 0-1 4-2 0-1 2 0 0-1 8-7 10-15 0-3 2-2 0-2 2-3 0-3 2-3 0-3 2-4 2-10 2-3 0-3 2-3 0-3 2-2 0-2 4-3 2 0 0 1 2 1 2 3 0 2 2 2 2 7 2 2 0 2 2 2 0 2 2 1 0 2 2 1 0 1 2 0 0 1 4 1 0 1 2 0 2 1 0 1 2 0 0 1 4 3 2 3 0 2 2 1 0 2 2 2 2 7 2 2 0 2 2 2 0 2 2 2 0 2 6 9 2 1 2 3 2 0 0 1 6 3 2 0 0 1 4 0 2 1 13 0"/>
<path d="M556 412l18 0 0-1 8-1 0-1 2 0 0-1 2 0 0-1 4-2 2-3 2 0 0-1 4-3 2-4 6-5 2-4 2-1 0-1 2-1 0-1 2-1 2-3 4-2 0-1 2 0 0-1 8-4 0-1 2 0 0-1 4-3 2-4 2-1 0-2 2-2 0-2 2-1 0-2 2-2 0-2 2-2 0-2 6-8 4 0 2 1 6 8 0 2 2 2 0 3 2 2 2 7 2 2 0 3 2 2 0 3 2 2 2 7 2 2 0 3 6 9 0 2 2 1 0 2 2 1 0 1 2 1 2 3 2 0 0 1 2 0 0 1 2 0 0 1 6 1 0 1 6 1 0 1 4 0 0 1 5 0"/>
<path d="M556 412l36 0 10-4 8-11 0-2 4-5 0-2 2-2 0-2 4-6 2-7 2-2 0-3 2-2 0-3 2-3 0-3 2-3 0-3 2-3 0-3 2-2 0-3 2-2 0-2 4-6 4 0 4 2 2 4 2 1 0 1 2 1 0 1 2 1 0 1 2 1 2 3 2 0 0 1 6 5 4 6 0 2 2 1 0 3 4 6 0 3 2 2 0 3 2 2 0 3 2 2 0 2 2 3 0 2 2 2 0 2 2 2 0 2 2 1 0 2 2 1 0 2 2 1 2 3 6 3 4 1 15 0"/>
<path d="M556 412l28 0 2-1 4 0 0-1 2 0 0-1 2 0 0-1 2 0 0-1 2 0 0-1 2 0 0-1 2 0 0-1 2 0 0-1 2 0 0-1 4-2 4-6 2-1 0-2 6-9 0-3 2-2 0-3 2-2 0-3 2-3 0-4 2-3 2-10 2-3 0-3 2-3 0-3 2-2 0-2 2-1 0-2 4-2 2 0 0-1 8-1 0-1 2 0 0-1 4 0 0 1 4 3 0 2 2 2 0 3 2 3 0 3 2 4 0 4 2 3 0 4 2 4 0 4 2 4 2 10 2 3 0 3 2 2 0 3 2 2 0 2 2 2 0 2 2 2 0 2 2 3 2 1 0 1 2 1 2 3 2 0 0 1 4 0 0 1 21 0"/>
<path d="M556 412l20 0 8-2 0-1 2 0 0-1 4-1 0-1 6-3 0-1 2 0 0-1 6-3 2-3 2 0 0-2 4-3 0-2 2-1 0-2 2-1 0-2 10-15 0-2 2-1 0-2 2-1 0-2 4-5 0-2 2-1 0-2 2-2 0-2 2-1 0-2 2-1 0-2 2-1 2-3 4-2 4 0 0 1 4 1 0 1 6 5 0 2 4 5 0 3 2 2 2 7 2 2 0 3 2 2 0 3 2 2 2 7 2 2 0 2 2 2 0 2 2 2 0 2 2 1 0 2 2 2 0 2 2 1 0 2 2 1 2 4 4 2 0 1 4 1 0 1 4 0 0 1 15 0"/>
<path d="M556 412l24 0 0-1 8-1 0-1 2 0 0-1 8-5 2-3 2 0 0-1 2 0 0-1 2 0 0-1 2 0 0-1 2 0 6-3 6-8 0-2 4-6 0-3 2-3 0-3 2-3 0-3 2-4 2-10 2-3 0-4 2-3 0-3 2-2 0-3 4-6 2 0 4 3 0 2 2 2 0 2 4 8 0 3 2 2 0 3 2 2 0 2 2 2 0 2 2 1 0 2 6 4 0 1 4 1 0 1 6 5 0 2 2 1 0 2 2 1 0 2 4 5 0 2 2 1 0 2 2 1 0 2 2 1 2 3 4 2 0 1 2 0 0 1 2 0 0 1 2 0 0 1 2 0 0 1 2 0 0 1 2 0 0 1 11 5"/>
<path d="M556 412l42 0 0-1 4 0 0-1 2 0 0-1 6-5 0-2 4-5 0-3 4-6 0-3 2-2 0-3 4-8 0-3 2-3 0-3 2-4 0-3 2-3 0-4 2-3 0-3 2-3 0-3 2-2 0-2 4-6 6 0 0 1 2 0 0 1 4 0 0 1 2 0 6 4 4 6 0 3 2 2 0 3 4 8 0 3 2 3 0 3 2 3 2 7 6 9 10 9 0 2 2 1 2 4 4 3 0 2 10 6 4 1 9 0"/>
<path d="M556 412l12 0 2-1 4 0 4-1 0-1 2 0 0-1 4-1 2-3 2 0 0-1 4-3 0-2 4-3 0-2 2-1 0-2 2-1 0-2 2-1 0-2 6-8 0-2 2-1 0-2 2-1 0-2 2-1 0-2 2-1 0-1 2-1 0-1 2-1 0-1 2-1 2-3 2 0 0-1 2 0 0-1 2 0 0-1 4-1 10 0 0 1 4 0 4 1 0 1 2 0 0 1 2 0 0 1 4 2 0 1 4 3 0 2 2 1 4 6 0 2 2 1 0 2 2 1 0 2 2 1 0 2 2 1 0 2 2 1 2 4 2 1 0 1 2 1 2 3 4 2 0 1 4 2 0 1 4 1 0 1 8 2 0 1 6 1 0 1 4 0 0 1 4 0 0 1 1 0"/>
<path d="M556 412l26 0 0-1 4 0 0-1 2 0 2-1 0-1 2 0 4-6 2-1 0-2 4-5 0-2 2-2 0-3 4-6 0-3 2-2 0-2 4-6 0-3 2-1 0-2 2-2 0-2 2-1 2-4 4-2 6 0 0 1 2 0 0 1 4 1 0 1 2 0 6-4 0-2 2-1 2-4 2-1 2-3 4 0 4 2 0 2 2 1 0 2 2 1 0 2 4 6 0 3 2 2 0 3 2 2 0 3 2 2 0 3 4 8 0 3 2 2 0 3 2 2 0 2 2 2 0 2 2 2 0 2 2 1 2 4 4 2 0 1 8 2 19 0"/>
<path d="M556 412l32 0 0-1 4 0 6-3 0-1 6-5 0-2 2-1 0-2 2-2 0-2 2-2 0-2 4-6 0-3 2-2 0-2 2-2 0-2 4-5 0-2 2-1 0-2 4-3 0-2 4-3 0-2 4-3 0-2 2-1 6-9 6-3 0 1 4 1 0 2 2 1 0 2 4 6 0 3 2 3 0 2 2 3 2 7 2 2 0 2 2 2 0 2 4 6 2 1 2 3 2 0 0 1 4 2 2 0 0 1 8 1 0 1 2 0 4 2 0 1 6 5 0 2 4 3 0 2 2 1 2 3 2 0 0 1 4 2 3 0"/>
<path d="M556 412l22 0 0-1 4 0 6-3 0-1 2 0 0-1 2-1 0-1 2 0 0-1 2-1 2-3 2 0 0-1 2-1 0-1 2-1 0-1 2-1 0-1 2-1 0-1 2-1 0-1 2-1 0-1 10-9 0-2 2-1 2-3 0-2 2-1 0-3 2-2 0-2 4-8 0-3 2-3 0-2 2-3 0-3 2-2 2-7 2-1 0-2 2-3 2-1 0-1 2 0 0-1 2 0 0 1 2 1 2 3 0 2 2 2 0 3 2 3 0 3 4 11 0 4 2 4 0 3 2 4 2 10 2 2 0 3 4 6 2 1 2 3 8 4 2 0 0 1 2 0 0 1 2 0 0 1 4 2 2 3 2 0 0 1 2 1 2 3 8 4 9 1"/>
<path d="M556 412l24 0 0-1 2 0 6-3 0-1 2-1 0-1 2-1 0-1 2-1 0-1 2-1 2-3 2 0 0-1 2 0 0-1 6 0 4-2 2-3 0-2 2-2 0-3 2-3 0-3 2-3 0-4 2-3 0-4 2-3 0-4 2-3 0-3 2-3 0-3 4-8 0-3 2-3 0-3 2-3 0-3 2-3 0-3 2-3 0-3 4-6 2 0 0 1 2 1 0 3 2 2 0 4 2 4 0 4 2 4 0 5 2 4 0 5 2 5 0 4 2 4 0 5 2 4 0 5 2 4 0 4 2 5 0 4 2 4 0 3 2 4 0 2 2 3 0 2 2 1 0 1 4 1 0-1 2-1 0-1 2-1 2-3 4 0 2 1 4 6 2 1 2 3 2 0 0 1 2 0 8-4 0-1 6 0 0 1 4 1 0 1 3 2"/>
<path d="M556 412l48 0 4-1 0-1 2 0 0-1 4-3 4-6 0-2 2-2 0-2 2-3 0-3 2-3 0-3 2-4 0-4 2-4 0-5 2-4 0-5 2-5 0-5 2-5 0-6 2-5 0-6 2-6 0-6 2-6 0-5 2-5 0-4 2-4 2-1 2 3 0 3 2 4 0 4 2 5 0 5 2 5 0 4 2 4 0 3 2 3 0 2 2 3 2 1 4 6 0 3 2 2 0 4 2 4 0 4 2 4 0 5 2 5 0 4 2 4 0 4 2 3 0 2 2 2 0 2 2 0 0 1 2 0 0 1 4 1 0 1 4 3 0 2 2 1 2 4 2 1 0 1 2 0 0 1 4 1 19 0"/>
<path d="M556 412l32 0 4-1 0-1 2 0 0-1 2 0 6-8 0-2 2-2 0-2 2-3 0-2 2-2 2-7 2-2 0-2 2-2 0-2 2-1 0-2 2-2 0-2 2-1 0-2 2-2 0-2 2-1 0-2 2-3 6-4 4 2 2 0 0 1 2 0 0-1 2 0 0-1 2-1 0-2 4-6 0-3 2-2 0-3 2-2 0-3 4-6 4 1 0 2 2 2 0 2 2 3 0 3 2 4 0 4 2 3 0 4 2 4 0 4 2 4 2 10 2 3 0 3 2 3 0 3 2 2 0 3 2 3 0 2 2 2 0 2 2 2 0 2 2 1 0 2 2 1 2 3 8 3 23 0"/>
<path d="M556 412l30 0 10-4 0-1 4-3 0-2 2-1 0-2 2-2 2-7 2-2 0-3 2-3 0-3 2-2 0-3 2-3 0-3 2-3 0-3 2-3 0-3 2-2 0-3 2-3 0-2 2-2 0-2 2-2 0-2 2-3 4-3 4 1 0 1 4 3 0 2 2 1 0 2 2 1 2 3 2 0 0 1 8-1 4 2 4 7 0 2 2 2 0 3 2 2 0 3 2 2 0 3 2 2 0 2 2 2 0 2 2 1 0 2 2 1 2 4 2 1 0 2 2 1 2 4 2 1 0 2 2 1 0 2 2 1 0 1 2 1 2 3 10 4 17 0"/>
<path d="M556 412l18 0 0-1 4 0 10-5 0-1 4-1 0-1 4-2 0-1 2 0 0-1 4-1 0-1 8-7 0-2 2-1 0-2 2-2 0-2 6-13 0-3 2-3 0-3 2-3 2-10 2-3 2-7 4-6 4 0 0 1 4 3 0 2 2 2 0 2 2 1 0 2 2 2 0 2 4 6 2 1 0 2 6 4 0 1 2 0 0 1 4 2 0 1 4 3 8 12 0 2 2 1 0 2 2 1 0 2 2 1 0 1 2 1 0 1 4 3 2 3 4 2 0 1 2 0 0 1 8 4 0 1 2 0 0 1 4 1 0 1 11 2"/>
<path d="M556 410l2 0 0-1 4 0 0-1 4 0 0-1 6 0 8 2 0 1 4 0 0 1 10 0 0-1 2 0 2-1 0-1 2 0 0-1 4-3 0-2 2-1 2-3 0-2 4-5 0-2 2-2 0-2 2-2 0-2 2-2 0-2 2-2 0-2 2-1 0-2 8-12 2-1 2-4 2-1 0-2 4-3 0-2 2-1 0-1 2-1 0-1 2-1 2-3 4-2 6 0 6 8 0 2 4 8 0 3 2 3 0 3 2 3 0 4 2 3 0 3 2 3 0 3 2 2 0 3 2 2 0 2 2 1 0 2 2 1 2 3 2 0 0 1 8 1 0 1 2 0 14 7 2 0 0 1 4 0 0 1 4 0 0-1 1 0"/>
<path d="M556 412l26 0 2-1 4 0 0-1 4-1 0-1 6-5 2-3 0-2 2-1 0-2 2-2 0-2 2-2 0-2 2-2 0-2 2-2 0-2 2-2 0-2 2-2 0-2 2-2 0-2 2-1 0-2 2-1 0-2 2-1 0-2 6-5 0-2 6-5 2-4 2-1 2-3 2 0 0-1 2-1 4 0 0 1 2 0 0 1 4 3 0 2 2 1 0 2 2 2 0 2 2 1 0 2 6 9 0 2 2 1 0 2 2 1 0 2 2 1 0 2 2 1 0 2 2 1 0 2 2 1 0 2 2 1 2 4 2 1 0 2 6 5 0 2 2 1 0 1 2 1 0 1 2 1 2 3 4 2 0 1 4 2 2 0 0 1 15 1"/>
<path d="M556 412l18 0 0-1 8-1 0-1 4-1 0-1 4-2 0-1 2 0 2-3 4-2 2-3 2 0 0-1 6-5 0-2 2-1 4-6 0-2 2-1 0-2 2-2 0-2 2-1 0-2 6-9 2-1 0-1 2-1 2-3 2 0 0-1 2-1 0-1 2-1 0-1 2-1 2-3 6-3 2 0 6 3 0 1 2 1 0 1 2 1 0 1 2 1 0 1 2 1 0 1 2 1 2 3 4 2 0 2 4 3 0 2 4 5 0 2 2 2 0 2 2 2 0 2 2 2 0 2 2 2 0 2 2 2 0 2 2 2 0 2 2 1 0 2 2 1 0 1 2 1 2 3 8 4 4 0 0 1 11 0"/>
<path d="M556 411l22-9 14 0 2-1 4 0 0-1 2 0 10-6 2-4 2-1 0-2 2-1 0-2 2-2 0-2 4-6 0-3 2-2 0-2 2-3 0-2 2-2 0-2 2-2 0-2 4-6 2 0 0-1 4 0 2 1 0 1 2 0 0 1 2 1 0 1 2 1 2 3 16 7 0 1 4 3 0 2 2 1 8 13 2 1 2 4 2 1 0 1 2 0 2 3 2 0 0 1 2 0 0 1 4 1 0 1 2 0 0 1 14 2 0 1 2 0 7 3"/>
<path d="M556 412l12 0 0-1 4 0 0-1 4-1 2-3 2 0 2-3 2 0 0-1 2 0 0-1 6 0 0 1 2 0 0 1 2 0 0 1 6 0 0-1 2 0 6-9 0-2 4-5 0-2 2-1 0-2 2-1 2-4 2-1 6-9 0-2 2-2 0-2 4-6 2-7 2-2 0-3 2-2 0-3 2-2 2-7 6-9 4 1 6 9 0 3 2 2 0 3 2 2 0 3 2 3 0 3 2 3 0 3 2 3 0 3 2 4 0 3 2 3 0 4 2 3 0 3 2 3 0 3 2 3 0 3 2 2 0 2 2 2 0 2 2 1 2 3 2 0 0 1 10 0 10 4 2 0 0 1 11 1"/>
<path d="M556 412l24 0 2-1 4 0 0-1 2 0 2-1 0-1 2 0 0-1 4-2 0-1 4-3 2-4 2-1 0-2 2-1 0-2 2-1 0-2 2-1 0-2 2-2 0-2 2-2 0-2 4-6 0-3 2-2 0-3 2-2 0-3 2-2 0-3 2-2 0-3 2-2 0-2 4-6 4-3 4 0 4 2 0 1 2 0 0 1 4 0 0 1 8 0 0 1 4 3 0 2 2 2 0 2 2 3 0 3 2 2 0 3 2 3 0 4 2 3 0 3 4 8 0 3 2 2 0 2 2 2 0 2 2 2 0 2 2 3 6 5 0 1 4 1 14 0 0 1 6 1 0 1 9 1"/>
<path d="M556 412l8 0 10-2 0-1 4-1 0-1 4-2 0-1 2 0 2-3 4-2 0-1 10-9 0-2 2-1 8-12 0-2 2-1 0-2 2-1 0-2 2-1 0-2 2-1 0-2 2-1 0-1 2-1 2-3 2 0 0-1 2 0 0-1 2 0 0-1 16 0 0-1 6 0 0 1 2 0 4 2 0 1 4 3 4 6 0 2 2 2 0 2 2 2 0 2 2 2 0 2 2 2 0 2 2 2 0 2 4 5 0 2 2 1 0 1 2 1 2 3 4 2 0 1 2 0 0 1 10 3 0 1 2 0 0 1 2 0 0 1 2 0 0 1 15 3"/>
<path d="M556 412l44 0 6-3 6-12 0-3 2-3 0-3 2-4 0-3 2-3 0-2 2-2 0-2 8-12 0-4 2-3 0-4 2-5 0-5 2-5 0-5 2-4 0-4 2-4 0-3 4-6 4 0 0 1 4 3 4 6 0 2 2 2 0 2 2 2 0 3 2 2 0 2 2 3 0 3 2 2 0 3 4 11 0 4 2 4 0 5 2 4 0 5 2 4 0 4 2 3 0 3 2 3 0 2 2 2 0 2 2 1 0 1 2 0 0 1 8 2 0 1 4 2 0 1 4 1 0 1 4 0 0 1 19 0"/>
<path d="M556 412l18 0 0-1 4 0 4-1 0-1 2 0 0-1 2 0 2-3 2 0 0-1 8-7 2-4 2-1 0-1 2-1 2-3 2 0 2-3 4-2 0-1 8-7 4-6 0-2 2-1 0-2 2-1 0-2 4-6 2-1 0-2 2-1 0-1 8-4 4 0 2-1 8 1 6 4 0 2 2 1 0 2 2 1 0 2 2 2 0 2 2 2 0 2 2 2 0 2 2 2 0 2 2 2 0 2 2 2 0 2 2 2 0 2 8 12 2 1 0 1 2 1 0 1 2 1 2 3 4 2 0 1 8 2 0 1 11 1"/>
<path d="M556 412l24 0 2-1 4 0 0-1 2 0 0-1 4-1 0-1 10-9 2-4 10-9 2-4 2-1 0-2 4-5 2-7 2-2 0-3 4-8 0-3 2-2 0-3 2-2 0-2 2-2 0-2 2-1 2-3 4 0 0 1 2 0 4 6 16 14 0 2 2 1 0 2 2 2 0 3 2 2 0 2 2 3 0 3 4 8 0 3 2 2 0 2 4 6 0 2 2 1 2 3 2 0 0 1 14 2 0 1 2 0 0 1 2 0 0 1 2 0 0 1 6 1 0 1 7 0"/>
<path d="M556 412l22 0 2-1 4 0 0-1 2 0 8-4 0-1 2 0 0-1 8-5 0-1 4-3 4-6 0-2 2-2 0-2 4-6 0-3 2-2 0-2 2-3 2-7 2-2 0-3 6-9 0-2 4-3 0-2 2 0 0-1 4-2 4 0 0 1 4 1 0 1 4 3 0 2 2 1 4 6 0 2 2 1 0 2 2 2 0 2 2 2 0 2 2 2 0 2 2 2 0 2 4 5 0 2 2 1 0 2 4 3 0 2 2 1 0 1 2 0 0 1 6 4 0 1 4 1 0 1 6 3 0 1 2 0 0 1 4 1 0 1 17 3"/>
<path d="M556 407l2 0 0 1 4 0 0 1 8 2 6 0 0 1 4 0 0-1 4 0 4-1 0-1 2 0 0-1 8-7 0-2 2-1 0-2 2-1 4-6 0-2 2-1 0-2 2-2 0-2 2-1 0-3 2-2 0-2 4-8 0-3 2-3 0-3 2-3 0-4 2-3 0-3 2-2 0-3 2-2 0-2 2-3 2-1 0-1 4 0 0 1 4 3 0 2 2 1 0 2 2 2 0 2 10 15 2 0 2 3 2 0 0 1 8 7 0 2 2 1 0 2 2 2 0 2 2 2 0 2 2 2 0 2 2 2 0 2 2 2 0 2 2 2 0 2 2 1 0 2 2 1 0 2 2 1 2 3 4 2 0 1 2 0 0 1 8 1 0 1 19 0"/>
<path d="M556 412l12 0 8-2 0-1 4-2 2-3 10-6 4 0 0 1 8 1 0-1 2 0 4-3 4-6 0-2 2-2 0-2 2-2 0-2 2-2 0-2 2-2 0-2 2-2 0-2 4-5 0-2 4-6 0-2 2-3 0-3 2-3 0-3 2-3 2-10 2-2 0-3 2-3 4-3 2 0 0 1 4 3 0 2 2 2 0 2 2 2 0 2 2 3 0 3 2 3 0 4 2 3 0 4 2 4 0 4 2 4 0 5 2 4 0 4 2 4 2 10 2 3 2 7 2 1 0 2 6 4 4 0 2-1 10 1 0 1 10 0 0-1 4 0 2-1 5 1"/>
<path d="M556 412l32 0 0-1 6-1 0-1 4-2 0-1 2 0 2-3 2 0 0-1 4-2 0-1 4-3 6-12 0-4 2-3 0-4 4-14 0-5 2-5 0-6 2-4 0-5 2-5 0-4 2-4 0-3 2-3 0-3 4-6 4 0 2 3 0 2 2 2 0 3 2 3 0 4 2 4 0 4 2 4 0 4 2 4 0 5 2 4 0 4 2 4 0 3 2 3 0 3 2 3 0 2 2 2 0 2 2 1 2 3 6 1 6 3 0 1 6 5 2 4 2 1 0 1 2 1 2 3 4 2 8 1 6 3 0 1 2 0 0 1 9 2"/>
<path d="M556 412l32 0 4-1 0-1 2 0 0-1 2 0 0-1 4-3 0-2 2-2 2-4 0-2 2-2 0-3 2-3 0-3 2-3 0-3 2-3 0-3 2-3 0-3 2-4 0-2 2-3 0-3 2-2 0-2 2-2 0-2 4-3 10 0 0-1 6-5 2-4 2-1 4 0 0 1 2 1 2 3 0 2 2 2 0 3 4 6 0 3 2 2 0 2 2 2 0 2 2 2 0 2 2 2 0 2 2 1 0 2 4 6 0 3 2 2 0 2 2 2 0 2 2 2 0 2 6 9 4 2 0 1 10 1 0 1 4 0 0 1 6 1 0 1 8 1 0 1 5 0"/>
<path d="M556 412l40 0 0-1 2 0 4-2 0-1 2 0 0-2 2-1 2-3 0-2 2-1 0-2 2-2 0-3 2-2 0-2 4-6 0-3 4-6 0-3 2-2 0-3 2-3 0-2 2-3 0-3 2-3 0-3 2-3 0-4 2-3 0-3 2-4 0-4 2-3 0-4 2-3 0-3 4-6 4 3 0 3 2 3 0 3 2 4 0 3 2 5 0 4 2 4 0 4 2 4 0 4 2 4 2 10 2 3 0 3 2 3 2 7 2 1 0 2 4 2 2 0 0-1 4-3 0-2 2-1 0-2 2-1 0-1 2-1 2 1 4 5 0 3 2 2 0 3 2 3 2 7 4 6 0 2 2 1 0 1 4 2 2 0 0 1 13 0"/>
<path d="M556 412l28 0 0-1 4 0 0-1 4-1 0-1 4-3 2-4 2-1 0-2 2-1 0-1 2-1 0-1 2-1 2-3 2 0 0-1 4-2 0-2 2-1 2-3 0-2 2-2 0-3 2-3 0-3 2-3 0-3 2-3 0-3 2-3 2-7 6-10 2-1 0-2 2-1 0-2 2-1 0-3 2-2 0-2 2-3 0-3 2-2 0-3 2-2 0-2 2-1 2 0 0 2 2 2 0 3 2 4 0 4 2 6 0 5 2 6 0 6 4 17 0 5 2 5 0 4 2 4 0 3 2 3 0 3 2 3 0 2 2 2 0 2 2 1 0 2 2 1 0 2 2 1 2 3 2 0 0 1 6 0 4-1 0-1 6 0 4 2 2 0 0 1 2 0 0 1 2 0 0 1 11 1"/>
<path d="M556 412l36 0 0-1 4 0 0-1 2 0 2-1 0-1 4-1 0-1 6-3 0-1 4-3 0-2 2-1 0-2 4-8 0-3 2-3 0-4 2-3 0-3 2-3 0-3 2-4 0-2 2-3 0-3 2-3 0-3 2-3 0-3 2-3 0-3 2-4 0-3 2-3 0-3 2-2 0-2 2-3 2-1 2 1 2 3 0 2 4 6 0 3 2 2 0 2 2 1 2 3 4 2 0 1 4 3 0 2 2 2 0 2 2 3 0 3 2 3 0 3 2 4 0 4 2 3 0 4 2 4 2 10 2 4 0 2 2 3 0 3 4 6 2 1 2 3 4 0 0 1 25 0"/>
<path d="M556 412l38 0 0-1 4 0 0-1 2 0 4-2 0-1 2 0 0-1 4-2 0-1 2 0 0-1 6-5 0-2 2-2 0-2 4-8 0-3 2-4 0-3 2-4 0-3 2-4 2-10 2-3 0-3 2-3 0-3 2-2 0-2 2-2 0-2 2-1 0-1 4-3 0-1 4-2 2-3 4-2 0-1 4 0 4 6 0 3 2 3 0 4 2 3 0 4 2 5 0 4 2 5 0 4 2 4 0 5 2 3 0 4 2 3 0 3 2 3 0 2 2 2 0 2 2 3 2 1 0 1 2 1 0 1 2 1 0 1 2 1 2 3 2 0 0 1 2 0 0 1 8 0 4 1 8 4 2 0 0 1 3 0"/>
<path d="M556 408l4 0 14 3 6 0 0-1 4 0 0-1 2 0 4-2 2-3 2 0 2-4 2-1 2-4 2-1 0-2 2-1 0-2 2-1 0-2 2-1 0-2 2-1 0-2 2-1 2-4 2-1 0-2 4-3 0-2 2-1 0-1 2-1 0-1 2-1 0-1 2-1 0-1 2-1 0-1 2-1 0-1 2-1 2-3 2 0 0-1 2 0 0-1 6 0 4 2 0 1 2 0 0 1 2 1 2 4 4 3 0 2 4 3 2 4 2 1 0 1 2 1 0 1 2 1 2 3 2 0 2 3 4 2 0 1 4 2 0 1 2 0 0 1 4 2 0 1 2 0 0 1 4 2 0 1 4 1 0 1 4 2 0 1 2 0 0 1 6 3 0 1 2 0 0 1 2 0 0 1 2 0 0 1 2 0 0 1 1 0"/>
<path d="M556 412l16 0 0-1 8-1 0-1 2 0 0-1 4-1 0-1 4-2 0-1 2-1 2-3 4-2 2-3 2 0 0-1 8-4 2 0 0-1 2 0 0-1 2 0 2-3 2 0 0-1 4-3 0-2 4-3 0-2 2-1 4-6 4-2 0-1 8-3 10-1 0-1 2 0 10-5 2 0 0-1 4 0 6 3 0 1 4 3 2 3 0 2 2 1 0 2 2 2 0 2 2 3 0 2 2 2 2 7 2 2 0 2 2 2 0 2 2 2 0 2 4 6 2 1 0 1 2 1 2 3 11 3"/>
<path d="M556 412l38 0 0-1 2 0 4-2 0-1 2 0 0-2 2-1 2-3 0-2 2-2 0-2 6-13 0-3 4-8 0-3 2-3 0-2 2-3 0-2 2-3 0-2 2-3 2-7 2-2 0-2 2-2 0-2 2-1 0-2 6-4 2 0 4 2 0 1 2 1 0 2 2 1 0 2 2 1 0 2 2 1 0 2 2 1 2 3 2 0 0 1 6 4 2 3 0 2 2 1 0 3 4 6 0 3 2 2 0 2 2 2 0 2 2 2 0 2 2 1 0 2 2 1 0 2 10 15 2 1 0 1 2 1 2 3 2 0 0 1 4 0 0 1 17 0"/>
<path d="M556 412l22 0 0-1 4 0 6-3 0-1 6-5 0-2 2-1 2-3 0-2 2-1 0-2 2-1 4-6 16-7 0-1 4-3 0-2 2-1 4-7 2-1 0-2 2-1 0-1 2-1 0-1 2-1 2-3 4-2 0-1 2 0 0-1 2 0 0-1 4-1 2 0 6 3 0 1 2 1 0 2 2 1 2 3 0 2 2 1 0 2 4 5 0 2 2 1 0 2 2 1 0 2 2 1 0 2 4 3 0 2 2 1 0 1 2 0 2 3 6 3 0 1 2 0 2 3 2 0 0 1 2 1 0 1 2 1 0 1 2 1 0 1 2 1 2 3 2 0 2 3 7 2"/>
<path d="M556 412l12 0 0-1 8-1 0-1 2 0 4-2 0-1 2 0 0-1 10-9 2-4 2-1 0-1 2-1 0-1 2-1 2-3 4-2 12 0 0-1 2 0 2-1 0-1 2 0 2-4 2-1 0-2 4-6 0-2 2-3 0-2 2-2 0-3 2-2 0-3 2-2 0-2 4-6 4-3 2 0 4 2 0 1 2 1 0 2 2 1 0 2 2 2 0 2 2 2 0 2 4 6 0 3 2 2 0 2 2 2 0 2 2 2 0 2 2 2 0 2 2 2 0 2 2 1 0 2 2 1 0 2 2 1 0 1 2 1 2 3 4 2 0 1 8 2 0 1 2 0 8 4 0 1 2 0 0 1 2 0 0 1 9 4"/>
<path d="M556 412l38 0 0-1 2 0 6-3 0-1 2-1 0-2 2-1 0-2 4-6 0-3 2-3 0-2 2-4 0-3 2-3 0-4 4-11 0-4 2-4 0-5 2-4 0-4 2-4 0-4 2-4 2-10 4-8 4 0 4 6 0 3 2 2 0 2 2 3 0 2 2 2 0 2 2 2 0 2 2 1 0 2 2 1 0 2 2 1 2 4 2 1 4 6 0 2 2 2 0 2 2 3 0 3 2 3 0 3 2 3 0 3 2 3 0 3 2 3 0 3 2 2 0 2 2 2 0 2 2 1 0 1 2 1 2 3 4 2 0 1 2 0 0 1 4 1 0 1 4 0 0 1 23 0"/>
<path d="M556 412l14 0 0-1 8-1 0-1 2 0 0-1 4-1 2-3 2 0 0-1 10-9 2-4 2-1 0-2 4-5 0-2 2-2 0-2 2-2 0-2 2-2 0-2 2-2 0-2 2-1 0-2 4-6 2-1 0-1 2-1 0-1 2-1 2-3 8-4 4 0 0 1 2 0 0 1 6 5 0 2 2 1 0 2 2 2 0 2 2 1 0 2 8 11 4 2 0 1 2 0 0 1 2 0 0 1 4 1 0 1 8 5 0 1 2 1 0 1 2 1 2 3 4 2 0 1 2 1 2 3 2 0 0 1 2 1 2 3 2 0 0 1 4 2 0 1 2 0 0 1 2 0 0 1 11 2"/>
<path d="M556 412l28 0 2-1 4 0 0-1 2 0 12-7 0-1 2-1 0-1 10-9 0-2 6-5 0-2 2-1 4-6 0-2 4-5 0-2 2-2 0-2 2-1 0-2 4-5 0-2 2-1 2-4 2-1 0-2 2-1 2-3 2 0 0-1 2-1 4 0 0 1 2 0 0 1 6 5 2 4 6 5 2 4 2 1 4 6 0 2 2 1 0 2 2 2 0 2 2 2 0 2 4 5 0 2 2 1 0 2 2 1 0 2 4 3 0 2 2 1 0 1 2 1 0 1 2 1 0 1 2 1 2 3 4 2 0 1 2 0 0 1 4 1 3 0"/>
<path d="M556 412l10-1 8-2 0-1 8-1 0-1 10-1 0-1 2 0 12-7 0-1 6-5 0-2 2-1 0-2 2-1 0-2 4-6 2-7 2-2 0-2 2-2 0-3 4-5 0-2 4-6 2-1 0-1 2-1 0-1 2-1 2-3 2 0 0-1 6 0 4 2 0 1 4 3 0 2 2 1 0 2 4 5 0 2 2 2 0 2 2 2 0 2 2 2 0 2 2 2 0 2 2 1 0 2 4 6 2 1 0 1 2 1 0 1 2 1 0 1 2 1 2 3 2 0 2 3 2 0 0 1 14 7 2 0 0 1 2 0 0 1 2 0 0 1 2 0 0 1 2 0 0 1 2 0 0 1 3 0"/>
<path d="M556 412l28 0 2-1 4 0 0-1 2 0 0-1 4-1 2-3 2 0 0-1 4-3 2-4 2-1 0-2 2-1 0-2 2-2 0-2 2-2 0-2 4-8 0-3 2-3 0-4 2-3 0-4 2-4 0-4 2-4 0-4 2-4 0-4 2-3 0-3 4-6 2 0 4 6 0 3 2 3 0 4 2 3 0 4 2 3 0 3 4 8 4 0 2-3 0-2 2-2 0-2 2-2 0-2 2-2 0-2 2-1 0-1 2 0 0 1 2 1 0 2 2 2 0 2 2 3 0 4 2 3 0 4 2 4 0 4 2 4 2 10 2 3 0 3 2 3 0 2 4 6 0 2 2 1 0 1 2 1 2 3 4 1 0 1 4 0 0 1 21 0"/>
<path d="M556 412l4 0 14-3 0-1 2 0 0-1 2 0 0-1 6-1 0-1 4-1 10-1 0-1 2 0 4-2 0-1 2 0 0-1 8-7 0-2 6-5 2-4 4-3 0-2 2-1 2-4 2-1 2-4 2-1 0-2 6-5 0-2 4-2 2-3 2 0 0-1 2 0 0-1 4 0 0-1 4 0 0 1 4 0 0 1 4 1 0 1 8 7 0 2 2 1 0 2 2 1 0 2 4 5 0 2 2 2 0 2 2 2 0 2 2 1 0 2 2 2 0 2 2 1 0 2 4 6 2 1 0 2 2 1 0 1 2 1 2 3 4 2 0 1 4 1 0 1 9 1"/>
<path d="M556 412l12 0 0-1 4 0 4-1 0-1 2 0 0-1 2 0 2-3 4-2 2-4 2-1 0-1 2-1 0-1 2-1 2-3 4-2 0-1 2 0 0-1 2 0 0-1 2 0 0-1 2 0 8-4 0-1 2 0 2-3 4-2 0-1 10-9 2-4 2-1 0-1 2-1 0-1 2-1 0-1 2-1 0-1 2-1 2-3 2 0 0-1 4-2 2 0 0-1 6 1 0 1 2 0 0 1 2 1 6 9 0 2 2 2 0 2 4 6 0 3 2 2 0 2 2 2 0 2 2 2 0 2 2 2 0 2 2 2 0 2 2 1 0 2 2 1 0 1 2 1 0 1 2 1 2 3 2 0 0 1 2 0 0 1 4 0 0 1 8 0 0 1 6 0 0 1 3 0"/>
<path d="M556 412l10 0 0-1 4 0 0-1 2 0 8-4 10-1 4-2 10-15 4 0 2 1 0 1 2 0 0 1 4 2 4-3 0-2 2-2 0-3 2-3 0-4 4-14 0-6 2-5 0-5 2-5 0-5 2-4 0-4 2-3 0-2 2-2 0-2 2-1 2 0 0 1 4 2 0 1 2 1 2 3 4 2 6 9 0 3 2 3 0 3 2 3 0 4 2 4 0 4 2 4 0 4 2 4 0 4 2 4 0 4 2 4 0 3 2 3 0 2 2 2 0 2 4 2 2 0 0-1 2 0 0-1 2 0 0-1 6 0 0 1 2 0 0 1 2 1 0 1 2 1 2 3 6 3 2 0 0 1 13 0"/>
<path d="M556 411l10-1 0-1 4 0 2-1 24 1 0-1 2 0 6-3 0-1 6-5 4-6 0-2 2-1 0-2 2-2 2-7 2-2 0-3 2-2 0-3 2-2 0-3 2-2 2-7 2-2 0-2 4-6 2-1 0-1 2 0 0-1 4 0 0 1 2 0 0 1 4 2 0 1 2 1 0 1 2 1 0 1 2 1 0 1 2 1 0 1 2 1 2 3 4 2 0 1 2 0 0 1 10 5 0 1 2 0 0 1 6 5 2 4 2 1 0 2 2 1 0 2 2 1 2 4 4 3 0 2 2 1 0 1 4 2 2 3 2 0 0 1 4 2 0 1 2 0 0 1 2 0 0 1 2 0 0 1 3 0"/>
<path d="M556 412l34 0 8-2 0-1 4-2 18-27 4-3 0-2 4-3 0-2 2-1 0-2 2-1 0-2 2-2 0-2 2-1 0-2 2-2 0-2 2-2 0-2 2-2 0-2 2-1 0-2 2-1 2-3 4-1 4 1 0 1 4 2 0 1 4 1 0 1 8 1 0 1 4 3 2 3 0 2 2 2 0 3 2 2 0 3 4 8 0 3 2 3 0 3 2 2 0 3 2 2 0 3 2 2 0 2 2 2 0 2 2 1 0 2 2 1 0 2 6 4 0 1 8 2 9 0"/>
<path d="M556 412l22 0 0-1 2 0 2-1 0-1 2 0 14-21 2-1 0-1 2-1 2-3 2 0 0-1 4 1 0 1 6 5 0 2 4 2 4-3 0-3 2-2 0-4 2-3 0-5 2-4 0-5 2-6 0-5 2-5 0-6 2-5 0-5 2-4 0-4 2-4 0-3 2-3 0-2 2-1 0-1 4 1 4 6 0 3 2 3 0 3 2 3 0 3 2 4 0 4 4 11 0 4 2 4 2 10 2 3 0 3 2 3 0 3 2 3 2 7 4 6 2 0 0 1 8 0 4 2 0 2 2 1 2 4 2 1 2 3 2 0 0 1 4 1 17 0"/>
<path d="M556 412l40 0 10-3 0-1 6-4 0-2 2-1 2-3 0-2 2-1 0-2 2-2 0-2 2-2 0-2 2-2 0-2 2-2 0-2 2-2 0-2 2-1 0-2 2-3 2-1 0-2 6-5 0-2 2-1 2-4 2-1 0-2 8-7 4 0 6 3 2 3 2 0 2 3 4 2 0 1 4 2 0 1 2 0 0 1 4 2 0 1 2 0 0 1 4 3 4 6 0 2 2 1 2 7 4 6 0 3 2 2 0 2 2 2 0 2 4 6 2 1 0 1 2 1 2 3 7 1"/>
<path d="M556 412l28 0 4-1 6-3 0-1 2-1 4-6 0-2 2-2 0-3 2-3 0-3 2-3 0-3 2-3 0-4 2-3 0-4 2-3 0-4 2-3 2-7 2-3 4-3 6 3 2 3 2 0 0 1 2 0 0 1 6-1 0-1 4-2 0-1 2 0 0-1 6 0 0 1 6 5 0 2 4 5 0 2 2 2 0 2 2 1 0 2 4 6 10 9 2 4 4 3 2 4 2 1 2 4 2 1 0 1 2 1 2 3 4 2 0 1 4 1 0 1 8 1 0 1 9 0"/>
<path d="M556 412l14 0 0-1 6 0 0-1 4 0 0-1 2 0 0-1 2 0 0-1 2 0 0-1 2 0 0-1 4-2 0-1 6-5 0-2 2-1 2-3 0-2 2-1 0-2 2-2 0-2 2-2 0-2 2-1 0-2 2-2 0-2 4-6 2-1 0-1 2-1 2-3 2 0 0-1 2 0 0-1 4-1 2-3 2 0 0-1 2-1 2-3 4-2 0-1 6 0 6 4 2 4 2 1 0 1 2 1 0 1 10 9 0 2 4 3 0 2 2 1 0 2 2 1 0 2 2 1 0 2 2 1 0 2 2 1 4 7 2 1 2 4 2 1 0 1 2 1 0 1 2 1 2 3 2 0 0 1 8 4 13 1"/>
<path d="M556 411l2 0 0-1 4 0 0-1 8-2 10 0 0 1 4 0 0-1 4 0 0-1 2 0 2-1 0-1 2 0 0-1 6-5 2-4 2-1 18-28 2-1 0-2 2-1 0-2 2-1 0-2 2-1 0-2 4-5 0-2 2-2 0-2 2-1 0-2 2-2 0-2 2-1 0-2 2-1 2-3 4 0 2 1 4 6 0 2 4 8 0 3 2 3 0 3 2 3 0 3 2 3 0 3 2 2 0 3 2 2 0 3 2 2 0 2 2 2 0 2 2 1 0 2 4 6 2 1 2 4 2 1 0 1 2 0 2 3 2 0 0 1 2 0 0 1 2 0 0 1 8 2 0 1 2 0 0 1 10 1 0 1 7 0"/>
<path d="M556 412l18 0 8-2 0-1 2 0 0-1 4-2 0-1 2-1 2-3 2 0 0-1 6-5 0-2 2-1 4-6 0-2 2-2 0-2 4-6 0-3 2-2 0-3 2-2 2-7 2-2 0-2 2-2 0-2 2-2 0-2 2-1 0-2 2-1 0-2 2-1 2-3 4-2 0-1 2 0 0-1 4-1 0-1 4 1 6 9 0 3 2 3 0 3 2 3 0 4 2 3 0 3 2 3 0 3 2 3 2 7 2 1 0 2 2 3 2 1 0 1 2 1 0 1 2 1 0 1 2 1 2 3 2 0 2 3 2 0 0 1 4 2 0 1 2 0 0 1 4 2 0 1 4 2 0 1 8 4 4 0 0 1 13 0"/>
<path d="M556 412l28 0 8-2 0-1 4-1 0-1 4-2 2-3 2 0 0-1 2-1 0-2 2-1 2-3 0-2 2-2 0-2 4-8 0-3 2-3 0-4 2-3 0-4 2-3 2-10 2-3 0-2 2-3 2-7 2-1 0-2 2-3 6-5 4 0 0 1 2 1 0 1 10 9 4 6 2 4 0 2 2 3 0 3 2 3 0 3 2 4 2 10 2 3 0 3 2 3 0 3 2 2 0 2 2 1 0 2 2 1 0 1 2 0 0 1 8 4 0 1 2 1 0 1 2 1 2 3 2 0 0 1 6 3 4 1 15 0"/>
<path d="M556 412l14 0 0-1 6 0 0-1 2 0 0-1 2 0 2-1 0-1 2 0 2-3 2 0 0-1 8-7 0-2 2-1 2-3 2 0 2-3 4-2 0-1 4-2 0-1 4-3 8-12 0-2 2-2 0-2 2-1 0-2 6-9 2-1 2-3 2 0 0-1 2 0 0-1 6-1 0-1 6 0 0 1 2 0 0 1 6 5 0 2 2 1 0 2 2 2 0 2 4 5 0 2 2 2 0 2 2 2 0 2 2 2 0 2 2 2 0 2 4 6 0 3 2 2 0 2 2 2 0 2 2 1 0 2 6 8 4 2 0 1 2 0 0 1 4 0 2 1 17 0"/>
<path d="M556 412l6 0 10-2 0-1 2 0 0-1 4-1 0-1 4-2 0-1 2 0 0-1 4-2 0-1 2 0 0-1 4-2 0-1 2 0 2-3 2 0 4-6 2-1 0-2 2-1 0-2 2-1 0-2 2-2 0-2 2-2 0-2 2-2 0-2 2-2 0-2 2-2 0-2 2-2 0-2 2-1 2-4 4-2 2 0 6 3 0 1 2 1 0 1 2 1 0 1 2 1 2 3 2 0 0 1 6 3 2 0 0 1 4 2 0 1 2 0 4 6 4 3 0 2 2 1 0 1 2 1 2 3 4 2 0 1 2 0 0 1 2 0 0 1 2 0 4 2 0 1 2 0 0 1 4 2 0 1 2 1 0 1 2 1 0 1 2 1 0 1 2 1 2 3 2 0 2 3 2 0 0 1 2 0 0 1 8 1 0 1 1 0"/>
<path d="M556 412l50 0 4-1 0-1 2 0 0-1 2-1 0-2 4-6 0-3 2-3 0-4 2-3 0-5 2-4 0-5 2-4 0-5 2-4 0-4 2-4 0-4 2-3 0-3 2-2 0-2 2-1 0-2 6-3 0-1 2-1 2-3 0-2 2-2 0-2 2-3 0-2 2-2 0-2 4-3 0 1 2 1 2 4 0 3 2 3 0 4 2 4 0 4 2 5 0 4 2 5 0 4 2 3 0 4 2 2 0 3 2 2 0 2 8 12 0 2 2 3 0 2 2 2 0 2 2 3 0 2 2 2 0 2 4 6 2 1 0 2 2 0 0 1 4 2 2 0 0 1 19 0"/>
<path d="M556 412l10 0 0-1 6 0 0-1 2 0 8-4 0-1 2 0 0-1 10-9 2-4 2-1 0-1 2-1 0-1 2-1 0-1 10-9 4-6 0-2 2-1 0-2 2-2 0-2 2-1 0-2 4-6 2-1 2-4 4-3 2-4 2-1 0-1 2-1 2-3 4-2 4 2 2 3 0 2 2 2 0 2 2 3 0 3 2 3 0 3 2 3 0 3 2 3 0 3 2 3 0 3 2 2 0 2 2 2 0 2 2 1 0 1 2 1 2 3 2 0 0 1 2 0 0 1 4 2 4 6 2 1 0 2 2 1 0 1 2 1 0 1 2 1 2 3 10 4 17 0"/>
<path d="M556 412l20 0 2-1 4 0 0-1 2 0 8-4 0-1 2 0 0-1 4-2 2-3 2 0 0-1 2-1 0-1 10-9 0-2 2-1 0-2 2-1 0-2 2-1 0-2 4-5 0-2 2-1 0-2 4-5 0-2 2-1 0-2 2-1 0-2 2-1 0-2 4-3 0-2 2-1 0-1 2 0 0-1 4-1 0-1 4 0 0 1 2 0 4 2 0 1 2 0 0 1 4 3 0 2 2 1 4 6 0 2 2 2 0 2 2 2 2 7 2 2 0 2 2 3 0 2 2 2 0 2 2 2 0 2 6 9 2 1 0 2 2 1 0 1 2 0 2 3 2 0 0 1 2 0 0 1 4 1 4 0 13-4"/>
<path d="M556 411l4-1 0-1 2 0 0-1 6-1 0-1 8 1 0 1 2 0 0 1 6 1 0 1 4 0 0 1 8 0 0-1 4 0 0-1 2 0 0-1 4-3 4-6 0-2 2-2 0-3 2-2 0-3 2-3 2-7 2-2 0-2 2-3 4-3 6 0 0 1 2 0 4-2 0-2 2-1 0-2 2-3 0-3 2-3 0-3 2-4 0-4 2-4 0-4 2-4 0-4 2-4 0-3 2-2 0-2 2-1 0-1 2 0 2 3 0 3 2 3 0 4 2 4 0 5 2 4 0 5 2 5 0 4 2 4 0 4 2 3 0 3 2 2 0 2 2 3 10 3 0 2 2 1 2 3 0 2 4 6 0 3 2 2 0 2 2 2 0 2 2 3 2 1 0 2 2 0 0 1 4 2 2 0 0 1 13 0"/>
<path d="M556 412l12-1 0-1 6-1 0-1 10-3 0-1 6-1 0-1 2 0 0-1 8-1 0-1 4 0 6-3 6-9 0-2 2-2 0-2 2-2 0-2 2-2 0-2 2-2 0-2 2-2 0-2 2-2 0-2 2-2 0-2 2-2 0-2 2-2 0-2 4-6 0-3 4-5 0-2 2-1 2-3 2 0 4 2 2 3 0 2 4 6 0 2 2 3 0 2 2 3 2 7 2 2 2 7 4 5 0 2 6 9 2 1 0 2 2 1 2 3 2 0 0 1 4 2 0 1 2 0 10 5 0 1 2 0 0 1 4 2 0 1 2 0 0 1 8 4 2 0 0 1 3 0"/>
<path d="M556 412l30 0 4-1 0-1 2 0 0-1 2-1 4-6 0-2 2-2 0-2 2-2 0-2 2-2 0-2 4-6 2-1 4-6 2-1 6-9 0-2 4-8 0-4 2-3 0-3 2-4 0-3 2-3 0-3 2-3 0-3 2-1 0-2 2-1 0-1 4-2 4 1 0 1 2 1 0 2 2 3 0 3 2 4 0 4 2 5 0 5 2 5 0 5 2 5 0 5 2 5 0 4 2 3 0 3 2 2 0 2 2 2 4-1 0-1 2-1 0-2 2-2 0-2 4-6 4-1 2 3 0 2 2 2 0 3 2 3 0 3 2 3 0 3 2 3 2 7 2 1 0 2 2 1 0 1 2 0 0 1 4 1 19 0"/>
<path d="M556 412l20 0 2-1 4 0 0-1 4-1 0-1 6-4 0-2 4-3 0-2 2-1 2-4 2-1 0-2 2-1 2-3 4-2 0-1 6-1 0-1 4 0 0-1 2 0 0-1 4-2 4-6 2-1 0-2 2-1 0-2 2-1 2-3 0-2 2-1 0-2 4-5 0-2 2-2 0-2 2-2 0-2 2-2 0-2 2-2 0-2 2-3 4-3 4 3 0 2 2 2 0 2 2 3 0 4 2 3 0 4 2 4 0 4 4 11 0 4 2 4 0 3 2 3 0 3 4 6 0 2 6 4 10 1 0 1 4 1 2 3 2 0 0 1 6 4 0 1 2 0 0 1 4 1 4 0 0 1 1 0"/>
<path d="M556 412l42 0 0-1 2 0 6-4 2-3 0-2 2-2 0-3 2-2 2-10 2-3 0-4 2-3 0-4 2-3 0-3 2-3 0-3 2-2 0-3 2-2 0-2 2-1 0-2 10-9 0-2 2-2 0-2 2-2 0-2 2-2 0-3 2-2 0-2 2-1 0-2 4 1 2 3 0 3 2 4 0 3 2 5 0 4 2 5 0 5 2 4 0 4 2 4 0 4 2 3 0 3 2 2 0 2 2 1 2 3 4 2 0 1 2 0 0 1 6 5 4 7 2 1 0 2 2 1 0 1 2 1 0 1 2 1 0 1 2 1 2 3 8 2 0-1 6-1 0-1 2 0 0-1 7 0"/>
<path d="M556 412l42 0 0-1 2 0 2-1 0-1 2 0 6-9 0-3 2-2 0-2 2-3 0-2 2-2 0-2 2-2 0-2 2-1 0-2 6-5 2-3 0-2 2-2 0-3 2-3 0-4 2-4 0-5 4-17 0-6 2-6 0-6 2-5 0-5 2-4 0-3 2-1 0-1 2 1 0 2 2 3 0 3 2 5 0 4 2 5 0 5 2 4 0 4 2 4 0 4 2 3 0 3 2 2 0 3 2 2 2 7 2 2 0 3 2 2 0 2 4 8 0 3 2 3 0 3 2 3 0 3 2 2 0 3 2 3 0 2 2 2 0 2 2 3 2 1 12-1 0 1 2 0 0 1 2 0 0 1 2 0 0 1 4 1 0 1 4 1 9 0"/>
<path d="M556 411l8-1 0-1 2 0 6-3 0-1 2 0 2-3 2 0 0-1 2-1 2-3 2 0 0-1 2-1 2-3 2 0 2-3 2 0 0-1 2 0 0-1 2 0 0-1 2 0 0-1 2 0 0-1 2 0 0-1 2 0 0-1 4-1 0-1 10-5 0-1 2 0 0-1 4-1 0-1 6-3 0-1 8-5 2-3 4-2 0-1 4-2 0-1 4-1 0-1 4 0 4 2 0 1 6 5 0 2 2 1 0 2 4 5 0 2 4 5 0 2 2 1 0 2 4 6 2 1 0 2 2 1 0 1 2 1 0 1 2 1 0 1 2 1 0 1 2 1 2 3 2 0 0 1 4 2 0 1 4 1 0 1 6 1 0 1 4 1 5 0"/>
<path d="M556 412l14-2 0-1 12-3 0-1 2 0 0-1 2 0 0-1 4-1 0-1 4-2 0-1 4-3 0-2 2-1 14-22 2-1 0-1 2-1 2-3 8-4 2 0 0-1 4 0 0-1 22 0 0 1 6 0 0 1 2 0 6 3 0 1 8 7 2 4 2 1 0 2 2 1 0 2 2 1 6 10 2 1 0 2 4 3 0 2 2 1 2 3 4 2 0 1 6 3 2 0 0 1 6 0 0 1 3 0"/>
<path d="M556 412l4 0 0-1 4 0 8-2 0-1 4 0 0-1 8 0 0 1 6 0 0 1 4 0 0-1 4-1 0-1 6-5 0-2 2-1 0-2 4-5 0-2 6-9 2-1 0-1 2-1 2-3 4-2 0-1 8-7 0-2 2-1 0-2 8-12 2-1 0-1 4-1 0-1 4 0 8 4 0 1 2 0 2 3 4 2 2 4 2 1 0 2 2 1 0 2 2 1 0 2 2 2 0 2 4 6 0 3 2 2 0 2 2 2 0 2 2 1 0 2 2 1 0 2 2 1 2 3 4 2 0 1 2 0 0 1 2 0 0 1 2 0 0 1 2 0 0 1 2 0 0 1 2 0 0 1 2 0 0 1 4 1 0 1 5 1"/>
<path d="M556 412l24 0 0-1 6 0 0-1 6-1 0-1 2 0 0-1 2 0 0-1 4-1 0-1 8-7 0-2 2-2 0-2 2-2 0-2 2-3 0-3 2-3 0-3 2-3 0-3 2-3 0-4 2-3 0-4 2-3 0-3 2-3 0-3 4-8 4-3 2 1 0 1 2 1 2 3 0 2 2 2 0 3 2 2 2 7 2 2 0 2 2 2 0 2 2 1 2 3 6 0 0-1 2 0 0-1 2 0 0-1 2 0 0-1 2 0 0-1 6 0 0 1 2 0 0 1 6 5 0 2 4 5 0 2 2 2 0 2 2 3 0 2 2 2 0 2 2 2 0 2 4 5 0 2 4 3 0 2 2 0 2 3 2 0 0 1 2 0 0 1 13 1"/>
<path d="M556 412l38 0 4-1 0-1 2 0 0-1 2-1 0-2 2-1 0-2 2-3 0-3 2-3 0-3 2-4 0-3 2-4 0-4 2-3 0-4 2-3 0-3 2-2 0-2 8-7 2-4 0-2 2-4 0-4 2-4 0-4 2-5 0-4 2-4 0-4 2-3 0-2 2-1 2 0 0 2 2 2 0 2 2 3 0 3 2 4 0 3 2 3 0 3 2 3 2 7 2 2 0 2 2 1 0 2 4 5 0 2 4 6 0 3 2 2 0 3 2 3 0 3 2 3 0 3 2 3 0 3 2 3 0 3 2 3 0 2 4 6 2 1 12 0 8 4 2 0 0 1 4 0 0 1 13 0"/>
<path d="M556 411l2 0 0-1 2 0 0-1 8-2 0-1 6 0 0 1 6 1 0 1 6 0 0-1 2 0 0-1 6-5 0-2 4-3 0-2 2-1 2-3 6-3 4 0 0 1 2 0 6 3 4 0 0-1 4-3 0-2 2-2 0-3 2-3 0-3 2-3 0-3 4-11 0-4 2-3 0-4 2-3 0-4 2-3 2-7 2-3 2-1 0-1 4 0 0 1 2 1 0 2 4 6 0 2 4 8 0 3 2 2 0 3 2 3 0 2 2 3 0 3 2 2 2 7 6 9 2 1 0 1 2 0 0 1 8 4 0 1 2 0 0 1 8 7 2 4 2 1 0 1 2 1 2 3 6 3 7 1"/>
<path d="M556 412l12 0 0-1 8-1 0-1 2 0 8-4 2 0 0-1 2 0 0-1 6-1 0-1 2 0 0-1 2 0 2-1 0-1 2 0 0-1 4-2 0-1 4-3 0-2 2-1 2-3 0-2 2-1 0-2 2-2 0-3 2-2 0-3 4-8 0-3 2-3 0-3 2-3 0-2 2-2 0-2 2-3 2-1 0-1 2 0 0-1 2 0 0 1 2 0 0 1 2 0 0 1 4 2 10 1 6 5 0 2 4 5 0 3 2 2 2 7 2 2 0 3 2 2 0 2 2 2 0 2 2 2 0 2 4 6 2 1 0 1 4 3 2 3 2 0 0 1 8 4 2 0 0 1 2 0 0 1 8 2 0 1 6 1 0 1 3 0"/>
</g>
<path d="M556.5 413.0L557.4 413.0 558.6 413.0 560.1 413.0 561.7 413.0 563.5 413.0 565.3 413.0 567.2 413.0 569.0 413.0 570.8 413.0 572.4 413.0 573.8 412.9 575.0 412.9 577.6 412.8 579.2 412.6 580.5 412.4 582.0 412.0 583.7 411.5 585.5 410.8 587.2 410.1 589.1 409.5 590.7 409.0 592.3 408.3 594.0 407.8 595.6 407.4 597.3 407.2 599.0 407.4 600.7 408.0 602.5 408.6 604.1 409.2 605.5 409.5 607.4 409.5 608.9 409.2 610.2 408.4 611.7 406.2 613.0 403.0 614.4 399.8 616.1 394.3 617.9 387.6 619.9 379.2 622.0 370.8 623.9 362.6 625.8 354.3 627.8 347.4 629.6 343.7 631.5 340.9 633.3 338.4 634.9 335.6 636.8 329.7 638.4 321.5 639.9 312.1 641.6 300.9 643.1 291.0 644.9 279.6 646.6 272.2 648.3 271.1 650.1 273.4 651.5 275.9 653.1 279.1 654.8 281.6 656.8 282.2 658.9 282.0 660.7 282.8 662.6 286.1 664.2 293.4 666.0 308.0 667.7 326.2 669.4 346.1 671.2 366.1 672.9 384.3 674.8 399.0 676.2 404.8 677.8 408.3 679.5 410.7 680.2 412.2 681.0 412.7 685.3 412.9 686.3 412.9 687.4 413.0 688.7 413.0 690.1 413.0 691.7 413.0 693.3 413.0 695.0 413.0 696.8 413.0 698.7 413.0 700.5 413.0 702.4 413.0 704.4 413.0 706.3 413.0 708.2 413.0 710.0 413.0 711.8 413.0 713.6 413.0 715.2 413.0 716.8 413.0 718.3 413.0 719.6 413.0 720.8 413.0 721.8 413.0 722.7 413.0" fill="none" stroke="#011f4b" stroke-width="2.5" stroke-linejoin="round" shape-rendering="crispEdges"/>
<path d="M556.5 253V413.5H722.7" fill="none" stroke="#000" stroke-width="1.1"/>
<path d="M563.5 414v3M588.5 414v3M614.5 414v3M639.5 414v3M665.5 414v3M691.5 414v3M716.5 414v3" stroke="#333" stroke-width="1"/>
<text transform="translate(562.8 431) scale(0.84 1)" class="tk">30</text>
<text transform="translate(588.5 431) scale(0.84 1)" class="tk">40</text>
<text transform="translate(613.7 431) scale(0.84 1)" class="tk">50</text>
<text transform="translate(639.4 431) scale(0.84 1)" class="tk">60</text>
<text transform="translate(664.9 431) scale(0.84 1)" class="tk">70</text>
<text transform="translate(690.6 431) scale(0.84 1)" class="tk">80</text>
<text transform="translate(715.8 431) scale(0.84 1)" class="tk">90</text>
<text x="556" y="240.6" class="ti">Colegio 7</text>
<path d="M748 332h20" stroke="#011f4b" stroke-width="2"/>
<path d="M748 355.5h19" stroke="#b3cde0" stroke-opacity="0.7" stroke-width="1"/>
<text x="777" y="336" class="ly">y</text>
<text x="777" y="357.8" class="ly">y</text><text x="786" y="361" class="lr">rep</text>
<g fill="none" stroke="#b3cde0" stroke-opacity="0.7" stroke-width="1" shape-rendering="crispEdges" transform="translate(0.5 0.5)">
<path d="M829 412l11-1 4-2 7-7 8-15 11-25 15-24 4-15 7-54 1-5 2-4 3 12 6 50 3 16 7 21 10 23 5 7 3 2 2 1 5 0 1 1 3 0 5 2 13 11 7 4 7 1 1 1 15 0"/>
<path d="M829 411l3 0 7-3 11-10 12-19 16-32 4-3 5 0 3 2 2 0 2-2 3-12 7-67 1-7 2-5 2 7 6 55 4 22 2 6 8 15 15 38 6 9 9 6 4 0 1 1 31 0"/>
<path d="M829 410l6-3 11-11 15-21 7-7 18-12 4-5 4-10 9-58 1-4 1-2 1 0 3 14 6 44 4 18 10 27 8 16 8 7 8 0 5-2 12 0 12 6 13 4"/>
<path d="M829 412l7 0 1-1 3 0 8-4 6-7 15-24 7-15 9-46 3-8 1 0 2 3 6 23 3 7 4 3 3 0 1-1 8 0 5 5 10 20 10 16 13 16 6 6 4 3 7 3 4 0 1 1 19 0"/>
<path d="M829 408l7-2 3-2 2 0 11-7 6-7 16-24 14-14 5-7 6-6 2-1 4 0 2 1 6 7 19 35 11 12 14 8 15 3 16 6 7 1"/>
<path d="M829 412l2-1 4 0 9-5 14-12 1 0 4-5 6-9 8-15 3-7 13-41 2-4 3-3 3 3 2 4 10 35 4 11 11 21 5 5 4 2 7 1 10 5 2 2 9 5 3 3 8 4 4 0 1 1 14 0"/>
<path d="M829 411l6-1 3-2 2 0 15-11 12-13 17-28 7-6 6 0 15 8 2 0 3 2 2 0 5 3 10 3 8 4 8 8 14 20 9 9 9 4 13 1"/>
<path d="M829 408l6-3 2 0 7-4 5-1 13-8 9-9 11-14 24-24 1-2 6-6 5-2 4 2 6 8 18 42 8 13 7 7 9 4 4 0 1 1 20 0"/>
<path d="M829 401l3-2 2 0 4-2 3 0 1-1 7 0 5 2 7 0 6-6 10-17 12-16 15-38 3-3 2 0 3 4 2 5 14 45 7 12 6 7 13 13 7 5 2 0 3 2 5 0 1 1 23 0"/>
<path d="M829 412l8 0 1-1 6-1 9-8 4-6 7-14 9-25 8-18 4-6 3-3 4-2 5 0 8 4 7 12 9 24 4 7 5 5 5 2 7 7 7 11 8 9 8 3 30 0"/>
<path d="M829 412l19 0 5-2 5-8 9-29 3-6 2-2 4 0 2-1 3-7 2-10 8-54 2-7 2-2 4 10 7 29 10 21 11 50 2 7 3 6 3 3 4 0 3-2 7-8 2-1 4 2 8 9 5 2 27 0"/>
<path d="M829 412l8 0 1-1 4 0 6-3 6-6 4-6 17-33 5-4 10 0 4-2 5-5 4-6 12-22 3-2 2 0 2 2 3 6 6 20 9 36 3 9 6 11 3 3 8 3 35 0"/>
<path d="M829 412l22 0 8-3 4-4 5-9 4-12 11-44 3-9 4-6 3 0 2 2 12 24 3 3 2 1 5 0 1-1 6-1 4 2 4 4 14 24 6 8 14 14 6 4 2 0 3 2 5 0 1 1 12 0"/>
<path d="M829 407l9-5 11-2 8-7 6-12 9-25 4-10 3-5 6-5 15-3 3 2 3 4 8 16 9 13 12 22 10 11 4 2 6 5 7 3 4 0 1 1 28 0"/>
<path d="M829 412l2-1 4 0 7-3 7-5 5-5 13-9 8-9 12-21 4-6 5-5 5-2 7 0 1-1 7-1 1-1 4 1 5 3 6 6 7 9 5 9 13 29 8 9 8 3 22 0"/>
<path d="M829 412l12-1 12-6 8-9 6-12 10-28 5-10 5-4 10 0 9-4 4 1 4 4 15 31 6 7 6 3 6 1 3 2 20 21 4 2 7 1 1 1 13 0"/>
<path d="M829 406l3 0 5 2 7 0 8-4 18-19 7-9 13-21 8-8 5-2 10 0 1 1 5 1 7 6 21 31 16 18 1 0 4 4 11 5 5 0 1 1 10 0"/>
<path d="M829 412l14 0 1-1 3 0 6-3 4-4 13-9 3-5 5-14 12-52 5-13 3-2 4 4 12 29 7 13 5 7 7 14 6 15 5 7 11 5 6 5 6 3 9 0 15-9 3 0 1 1"/>
<path d="M829 412l9 0 1-1 2 0 4-2 10-9 7 0 1 1 1-1 2 0 6-6 7-13 5-13 5-19 10-51 2-6 3-4 2 0 2 2 5 11 4 15 9 48 4 15 8 17 5 8 6 6 5 2 41 0"/>
<path d="M829 412l20 0 5-2 3-3 5-11 12-51 5-12 3-2 6 0 1 1 6-1 6-7 4-3 3 0 2 2 5 9 8 23 12 41 5 10 4 4 5 1 1 1 45 0"/>
<path d="M829 412l11-1 7-4 4-4 17-25 18-19 14-26 2-3 7-6 2 0 4 2 7 10 3 7 15 47 7 14 5 5 8 3 35 0"/>
<path d="M829 407l3-1 8-7 8-11 11-19 8-9 7-4 2 0 10-4 10 0 1 1 3 0 4 2 3 0 1 1 5 1 6 3 8 8 18 30 9 9 6 3 2 0 1 1 5 0 1 1 26 0"/>
<path d="M829 412l8 0 1-1 4 0 10-5 6-6 7-10 16-31 8-12 6-4 9-1 5-2 8 0 7 6 15 25 13 25 4 6 7 7 5 2 3 0 1 1 23 0"/>
<path d="M829 409l22-11 16-16 1 0 12-11 14-20 13-28 3-3 3 1 3 6 11 46 5 16 3 6 5 5 7 3 44 1 4 2"/>
<path d="M829 412l14 0 1-1 4 0 4-2 6-6 6-11 17-53 2-4 4-4 2 0 5 5 12 21 5 4 6 0 8-4 6 0 5 4 8 15 10 22 4 6 4 4 6 3 4 0 1 1 22 0"/>
<path d="M829 411l7-1 7-4 8-9 17-25 18-18 10-7 8 0 1 1 2 0 11 7 10 10 16 23 11 10 8 4 2 0 11 5 2 0 3 2 3 0 5 2 6 0"/>
<path d="M829 412l16 0 1-1 5-1 7-8 9-17 3-2 2 0 7 6 3 0 3-3 2-4 10-33 8-22 6-11 4-3 2 0 4 4 6 13 15 55 6 14 2 2 2 0 1 1 8 0 14 9 4 0 1 1 15 0"/>
<path d="M829 412l24 0 1-1 3 0 5-2 7-6 4-6 6-13 16-55 3-7 3-3 2 0 4 4 11 24 7 6 7-1 5 4 3 5 10 26 8 12 10 7 8 4 7 1 1 1 11 0"/>
<path d="M829 411l3 0 1-1 5-1 3-2 2 0 17-9 12-13 22-32 8-8 7-2 1 1 5 0 1 1 12 1 4 2 3 3 7 12 11 28 4 8 6 8 7 4 4 0 1 1 20 0"/>
<path d="M829 410l5-2 4-3 9-11 7-14 13-31 5-8 4-3 4 0 6 6 16 28 3 4 7 6 9 4 20 0 1 1 4 0 3 2 2 0 15 10 12 6 5 1 3 2 3 0 1 1 5 1"/>
<path d="M829 412l5 0 1-1 3 0 5-2 8-8 9-14 5-6 4-2 4 0 1-1 4 0 2-1 5-5 13-19 9-8 1 0 12-13 4 0 2 1 6 11 14 42 5 11 4 6 4 4 8 4 4 0 1 1 23 0"/>
<path d="M829 406l5 0 7-4 3-3 18-27 16-17 11-7 2 0 1-1 10 0 9 4 10 10 5 7 15 27 9 11 7 4 7 1 1 1 30 0"/>
<path d="M829 412l13-2 9-5 11-12 15-25 7-10 5-5 6-3 5 0 5 2 9 7 18 12 3 1 5 4 18 7 8 6 6 7 11 10 5 3 7 2"/>
<path d="M829 412l12 0 1-1 2 0 3-2 10-11 2-1 7 0 4-2 6-6 6-12 6-16 4-20 6-42 2-9 2-3 1 0 2 4 9 38 14 40 4 8 6 7 7 14 4 3 4-2 5 1 9 10 5 2 23 0"/>
<path d="M829 412l1-1 5 0 1-1 5-1 12-6 2 0 6-3 6-6 7-13 12-31 6-12 3-4 3-2 5 0 5 4 12 17 12 12 25 32 10 10 8 4 5 0 1 1 14 0"/>
<path d="M829 411l8-2 7-4 16-15 10-13 15-26 7-6 6 0 1 1 5 1 3 2 7 2 7 4 6 7 14 25 4 6 4 4 7 3 13 0 1 1 5 1 11 6 2 0 4 2 3 0"/>
<path d="M829 412l13 0 1-1 4 0 7-4 7-7 7-10 12-24 4-6 6-12 6-16 4-8 3-3 3 0 6 3 2 0 5 4 4 9 10 42 3 9 2 4 4 4 11 0 14 12 6 3 3 0 1 1 18 0"/>
<path d="M829 412l21 0 1-1 2 0 2-1 11-11 6-1 2-1 2-3 15-45 10-53 2-9 3-6 2 1 2 7 9 54 3 7 3 0 2-2 2 0 3 4 11 45 5 11 3 3 2 0 1 1 41 0"/>
<path d="M829 412l9 0 1-1 3 0 7-6 13-25 5-7 7-7 10-16 7-8 5-8 7-15 2-3 3-2 3 2 5 12 12 52 3 10 4 8 3 3 10 2 15 8 4 0 1 1 27 0"/>
<path d="M829 412l16 0 1-1 3 0 8-5 8-8 1 0 3-4 3-6 3-10 14-68 3-7 2-2 4 3 9 26 3 6 11 14 10 27 5 11 14 17 6 5 2 0 4 2 33 0"/>
<path d="M829 412l9-1 7-4 4-4 7-10 12-22 14-40 2-4 3-3 3 0 1 1 8 13 3 3 5 1 4-2 3 0 3 2 5 10 14 44 5 9 5 5 6 1 1 1 42 0"/>
<path d="M829 396l9-6 15-8 21-15 12-5 7 0 1 1 3 0 8 4 2 2 13 7 8 2 13 6 14 11 14 8 2 0 7 3 11 2 1 1 4 0 1 1"/>
<path d="M829 412l10-3 8-8 9-13 12-14 9-14 15-28 7-8 4 0 2 1 7 9 6 13 17 43 5 10 6 8 3 2 6 1 1 1 39 0"/>
<path d="M829 412l1-1 3 0 5-2 6-6 8-16 12-34 5-9 2-2 2 0 1-1 1 1 2 0 4 3 6 6 9 4 9 0 9-4 5 1 3 3 5 10 14 35 8 9 8 3 38 0"/>
<path d="M829 410l9-4 16-15 18-12 7-8 9-13 5-5 4-2 4 0 17 10 14 2 8 5 8 10 10 15 6 7 1 0 5 5 3 1 2 2 2 0 7 3 11 1"/>
<path d="M829 407l3-2 6-7 16-26 7-8 8-4 11-1 1-1 4 0 1-1 3 0 5-2 10 0 6 3 6 5 16 22 13 12 16 5 3 2 2 0 3 2 2 0 3 2 2 0 4 2 15 2"/>
<path d="M829 412l13 0 1-1 6-1 9-8 7-13 16-42 7-14 6-7 4 0 3 3 17 34 12 16 3 2 14 0 2 1 5 6 9 15 6 6 8 3 18 0"/>
<path d="M829 412l9 0 1-1 4 0 7-4 11-11 9-14 13-31 4-7 20-23 4 0 2 2 3 6 16 50 8 16 6 5 11 2 16 9 4 0 1 1 17 0"/>
<path d="M829 412l1-1 5 0 9-4 16-14 12-8 5-5 15-23 5-5 2-1 6 0 7 3 7 0 11-6 4 0 2 1 5 6 13 31 6 12 6 8 4 3 5 2 4 0 1 1 15 0"/>
<path d="M829 408l9-6 16-14 21-9 11-11 1-2 13-12 2 0 1-1 10 0 1 1 4 0 1 1 6 1 5 3 9 9 20 29 8 8 9 5 9 1 1 1 9 0"/>
<path d="M829 412l7-1 9-5 22-26 19-32 8-6 2 0 5-3 10-9 4 0 3 3 3 6 16 54 4 8 4 4 2 1 19-1 15 6 14 1"/>
<path d="M829 412l20 0 1-1 2 0 4-2 12-12 4-6 5-12 11-45 5-14 2-2 2 1 6 10 2 1 4-6 4-14 4-10 3 2 2 7 11 71 4 18 4 9 4 4 2 0 1 1 47 0"/>
<path d="M829 412l14 0 6-3 3-4 4-9 9-28 4-8 7-8 2-4 10-32 4-7 2 0 3 3 3 6 11 32 3 6 10 10 2 4 8 24 7 14 4 3 2 0 1 1 47 0"/>
<path d="M829 412l12 0 1-1 3 0 4-2 4-4 6-10 11-27 11-22 5-8 3-3 4-2 4 1 7 4 6 0 3-2 3 0 4 3 4 8 14 43 5 10 7 8 3 2 6 1 1 1 35 0"/>
<path d="M829 410l5-2 5-4 5-1 1-1 5 2 7 0 6-6 6-10 14-13 6-16 10-45 2-5 2-2 3 3 9 32 4 9 2 2 3 0 3-2 4 0 4 7 9 32 6 15 5 5 5 2 35 0"/>
<path d="M829 412l2 0 1-1 5 0 9-4 10-10 32-51 9-10 6-3 2 0 4 2 7 9 21 47 4 6 5 5 4 2 8 0 1-1 5 0 1-1 12 0 1 1 6 1 8 4 3 0"/>
<path d="M829 410l7-4 22-25 7-10 13-27 5-6 4-1 8 7 4 6 6 6 16 7 8 8 18 29 8 8 6 3 4 0 1 1 29 0"/>
<path d="M829 408l10-3 3-2 2 0 7-4 5-5 23-37 7-8 6-4 8 0 3 2 7 8 13 20 12 11 3 1 4 3 2 0 3 2 2 0 4 2 8 1 1 1 3 0 1 1 3 0 1 1 8 2 13 7 4 1"/>
<path d="M829 412l10-1 7-4 4-5 7-14 9-24 7-13 6-5 11-2 4-2 8 0 4 2 14 14 6 9 14 28 8 9 2 1 18 0 1 1 6 1 6 3 14 2"/>
<path d="M829 408l6-4 4-5 13-12 5-1 8 3 5 0 2-1 7-8 11-22 5-8 5-5 4-2 4 0 6 4 10 14 7 7 9 4 7 6 14 22 5 6 4 3 5 2 4 0 1 1 15 0"/>
<path d="M829 406l8-7 15-21 5-6 5-4 7-1 8 4 6 0 2-1 6-8 9-17 5-5 4-1 2 1 8 9 22 45 6 9 4 4 5 3 7 1 1 1 31 0"/>
<path d="M829 412l19 0 1-1 2 0 6-4 6-11 5-14 6-23 9-53 3-15 3-7 2 1 3 10 7 38 4 16 8 20 7 14 2 2 3 0 9-10 3 0 4 6 10 24 6 6 3 0 1 1 34 0"/>
<path d="M829 412l13 0 1-1 6-1 6-4 8-8 7-12 11-26 5-5 9-1 5-5 5-11 9-34 4-6 3 4 2 7 14 75 5 15 4 7 3 3 8 3 38 0"/>
<path d="M829 410l3 0 8-4 14-4 8-7 4-7 18-42 6-9 3-3 5-2 6 2 9 10 7 11 15 29 5 7 5 5 10 7 2 0 4 2 14-1 1 1 7 1 3 2 2 0 4 2 3 0"/>
<path d="M829 404l12-10 9-2 9-5 5 0 2 1 11 9 5 0 5-5 5-9 6-17 9-36 4-12 4-5 3 3 2 5 11 47 4 12 3 5 5 1 6-4 4 0 5 5 10 17 5 5 8 3 14 0"/>
<path d="M829 411l4 0 9-4 7-7 5-8 18-38 6-7 5-1 1-1 1 1 6 1 14 7 6 4 22 23 11 5 2 0 6 4 18 17 9 4 5 0 1 1 10 0"/>
<path d="M829 411l9-4 8-8 19-30 7-7 5-2 3 0 8 3 9 0 16-8 7 0 4 2 10 10 19 26 10 10 4 3 12 5 16 1"/>
<path d="M829 412l20 0 1-1 2 0 7-8 6-15 6-11 3-2 5 0 2-1 3-6 3-11 8-44 2-8 2-4 2 0 2 2 2 5 12 55 3 11 2 4 2 2 3-1 7-9 3 0 4 5 9 17 3 3 8 4 8 9 8 4 18 0"/>
<path d="M829 411l5-1 7-7 13-26 3-3 2-1 1 1 2 0 7 5 2 0 3-2 4-7 7-20 6-13 4-4 5 0 2 1 7 8 16 32 7 7 5 3 14 14 1 2 8 7 5 3 7 1 1 1 22 0"/>
<path d="M829 412l10 0 1-1 4 0 8-5 4-5 16-30 17-39 5-6 4 0 7 7 10 14 16 29 10 12 10 10 15 11 2 0 3 2 4 0 1 1 19 0"/>
<path d="M829 412l34 0 5-2 4-4 4-8 4-13 11-61 3-12 3-6 5-5 5-3 2 0 2 2 3 6 12 48 6 19 3 6 7 9 12 20 8 4 33 0"/>
<path d="M829 412l6-1 4-2 4-4 4-6 7-13 6-6 2-1 4 0 6-4 14-33 6-6 3-1 9-9 2-1 3 2 3 6 13 45 4 8 6 6 11 6 2 0 10 4 8 6 6 3 4 0 1 1 18 0"/>
<path d="M829 412l7-1 4-2 6-6 9-16 6-7 5-1 4 2 4 0 3-2 6-11 12-33 4-7 2-2 2 0 1-1 1 1 2 0 4 4 4 6 6 11 9 21 9 18 10 14 6 6 9 5 4 0 1 1 26 0"/>
<path d="M829 404l3-2 15-15 7-5 7-2 13-6 18-16 6-3 5 0 6 3 10 10 1 0 8 7 4 2 2 0 3 2 2 0 11 6 15 14 1 0 8 7 9 4 12 2"/>
<path d="M829 412l15-1 7-3 10-11 17-37 6-5 1 1 2 0 9 7 4 0 2-1 5-5 9-15 8-7 3 1 4 4 3 5 17 45 7 13 6 6 4 2 4 0 1 1 22 0"/>
<path d="M829 412l13 0 1-1 3 0 5-3 13-12 2 0 1-1 8 0 4-3 5-10 15-54 4-12 4-8 3 0 3 5 3 11 7 36 5 17 3 3 3-2 3-5 4-4 3 0 4 5 8 17 4 5 6 3 11 9 6 3 3 0 1 1 8 0"/>
<path d="M829 407l9-5 24-19 5-2 2-2 2 0 5-3 2 0 14-8 16-15 8-6 2 0 1-1 6 0 2 1 7 8 19 38 6 9 4 4 10 5 5 0 1 1 16 0"/>
<path d="M829 412l10 0 1-1 3 0 4-2 6-7 6-15 13-50 4-12 3-6 2-2 4 1 2 3 9 21 5 9 6 6 7 4 4 4 16 22 21 21 6 3 4 0 1 1 29 0"/>
<path d="M829 397l4-2 8-7 12-8 4-1 5-3 2 0 25-13 7-1 1-1 7 0 1-1 12 0 7 3 7 7 17 25 11 11 6 3 6 1 1 1 6 0 1 1 16 0"/>
<path d="M829 403l2 0 6-3 7-6 24-33 5-5 5-3 6-1 8 4 21 21 12 9 6 3 7 1 1 1 10 0 1-1 9 1 10 5 7 6 6 3 2 2 8 3 3 0"/>
<path d="M829 412l27 0 1-1 3 0 5-3 6-9 14-41 3-6 5-4 3 0 5-2 9-9 2-1 2 0 4 4 9 15 5 1 6-5 4 0 3 3 15 44 3 6 6 6 5 1 1 1 20 0"/>
<path d="M829 412l2 0 1-1 5 0 9-4 7-5 6-6 1 0 9-9 5-7 5-10 12-33 3-6 3-3 4 0 2 2 13 27 5 5 5 0 6-3 2 0 3 2 5 8 12 29 3 5 6 6 4 2 4 0 1 1 23 0"/>
<path d="M829 406l3-2 8-2 11-7 9-11 14-20 7-7 14-9 2 0 1-1 7 0 8 7 13 24 4 6 4 4 8 3 10 1 12 6 2 2 4 1 7 4 2 0 8 4 3 0 5 2"/>
<path d="M829 412l14 0 1-1 3 0 1-1 2 0 6-6 3-5 4-10 14-46 5-10 4-4 6 0 8 7 17 24 13 22 9 10 6 3 6 0 1 1 6 0 1 1 2 0 12 9 7 4 2 0 1 1 5 0 1 1 6 0"/>
<path d="M829 412l21 0 1-1 5-1 4-4 5-10 3-9 11-42 4-12 3-7 3-3 2 0 3 3 5 10 5 6 4-2 5-9 3-3 2 0 1 1 2 3 4 12 11 40 8 17 7 8 8 3 36 0"/>
<path d="M829 412l25 0 1-1 5-1 5-5 4-7 5-14 11-42 6-18 6-9 2 0 3 3 3 6 7 21 4 9 3 3 4 0 3-2 4 0 2 1 6 11 4 11 7 15 5 7 5 5 8 5 6 1 1 1 21 0"/>
<path d="M829 410l6-1 12-7 11-12 13-19 9-9 3-2 2 0 7-3 3 0 10-4 9-1 7 3 4 3 9 10 17 22 9 8 11 6 2 0 8 4 10 2 1 1 3 0"/>
<path d="M829 409l22-11 6-6 5-7 13-25 8-13 4-4 4-2 7 0 7 4 18 23 8 7 5 3 27 28 10 5 5 0 1 1 16 0"/>
<path d="M829 412l5-1 4-2 4-4 10-16 4-4 4-1 9 5 2 0 6-5 5-9 14-31 9-15 5-5 4 2 4 8 10 32 3 6 4 4 5 2 6 6 11 19 7 7 6 1 1 1 24 0"/>
<path d="M829 412l6-1 4-2 9-8 10-3 3-3 11-23 3-3 5 2 3 3 3 0 4-4 5-14 9-45 4-11 2 1 2 5 8 41 4 14 16 32 4 4 4 0 1 1 11 0 4 2 8 8 5 3 3 0 1 1 14 0"/>
<path d="M829 404l1 0 20-20 4-3 6-3 17-3 9-5 10-8 8-4 6-1 1-1 4 0 1-1 5 0 1 1 5 1 6 5 7 10 7 13 9 14 7 7 7 4 3 0 1 1 5 0 1 1 15 0"/>
<path d="M829 409l5-2 10-7 10-10 5-7 13-23 14-20 7-7 2-1 4 0 2 1 7 8 6 12 12 31 4 8 6 7 5 1 1 1 1-1 13 0 20 10 9 1 1 1 9 0"/>
<path d="M829 412l13 0 1-1 4 0 6-3 5-5 7-11 23-46 9-15 5-5 5 0 6 7 5 10 11 27 6 12 5 6 3 2 11 3 12 11 9 6 7 1 1 1 12 0"/>
<path d="M829 412l6-1 6-4 8-15 7-16 3-3 2-1 6 4 4 0 2-2 4-10 9-36 5-10 5 1 9 14 8 17 12 38 4 8 4 4 2 1 5 0 8 4 8 0 3-2 6-1 1 1 2 0 10 7 6 1 1 1 10 0"/>
<path d="M829 412l23 0 5-2 4-4 6-16 8-36 4-13 4-6 6-2 4-5 7-18 4-7 2 0 2 2 2 5 12 58 4 12 5 9 6 6 5 3 4 1 9 8 7 4 3 0 1 1 29 0"/>
<path d="M829 412l12-1 7-4 7-8 7-11 8-8 7-3 6-5 3-4 15-31 3-4 3-2 4 1 4 4 18 36 12 17 5 5 4 2 11 0 1 1 2 0 4 2 11 9 4 2 8 2"/>
<path d="M829 412l4 0 1-1 7-1 5-3 6-6 7-11 15-33 5-9 4-6 5-5 4-2 6 0 6 5 18 30 4 5 10 9 13 7 16 14 9 5 7 1 1 1 13 0"/>
<path d="M829 412l9-1 8-4 9-11 12-21 6-6 2-1 8 0 1 1 1-1 3 0 5-5 4-8 8-22 5-10 3-2 4 3 4 9 15 51 7 13 4 4 8 4 5 0 1 1 2 0 1-1 14 0 1 1 3 0 10 4 3 0"/>
<path d="M829 411l5 0 1-1 5-1 10-7 14-16 16-16 6-4 17-15 8-4 8 0 7 3 9 9 19 31 13 14 6 4 8 3 14 1"/>
<path d="M829 412l18 0 1-1 5-1 4-4 4-8 10-34 6-15 3-3 4-1 6-3 2-2 5-7 11-21 3-2 3 3 2 5 13 61 3 9 7 12 8 7 7 4 4 0 1 1 36 0"/>
<path d="M829 409l7-4 4-4 9-13 12-20 7-6 7 0 13 7 10 0 5-2 12 0 1 1 5 1 3 2 2 0 5 3 5 1 5 3 4 1 6 4 24 21 3 1 4 3 2 0 4 2 3 0 1 1 3 0"/>
<path d="M829 409l3-1 6-6 4-6 13-29 8-15 5-5 2-1 5 0 5 3 10 10 1 2 12 11 6 1 1-1 2 0 9-6 6 0 2 1 4 4 4 6 12 22 3 4 7 6 5 2 5 0 1 1 25 0"/>
<path d="M829 405l12-7 10-2 1-1 3 0 8-4 8-8 19-28 9-9 2-1 7 0 5 3 13 13 12 15 27 27 4 3 11 5 15 1"/>
<path d="M829 412l7-1 4-2 4-4 8-15 11-25 6-7 7-4 7-7 11-19 5-6 3 0 3 3 4 8 11 30 14 34 4 7 6 6 2 0 4 2 45 0"/>
<path d="M829 410l13-6 9-7 3-4 6-12 7-18 7-12 3-2 7 0 1 1 6-1 2-1 13-14 5 0 3 3 3 6 12 39 5 13 3 5 4 4 2 1 17 0 12 5 9 1 1 1 13 0"/>
<path d="M829 406l4 2 8 0 12-5 11-2 4-2 5-5 7-14 15-51 3-6 3-2 4 3 14 28 18 16 6 9 11 21 7 9 7 4 4 0 1 1 22 0"/>
<path d="M829 408l11-3 17-8 8-6 18-18 7-4 23 1 6-3 9-7 5-1 1-1 5 1 3 2 6 6 17 22 9 8 11 6 2 0 4 2 3 0 1 1"/>
<path d="M829 401l4-4 8-11 11-11 15-8 6-5 7-4 10 0 3 2 6 1 1 1 6 0 1-1 4 0 1-1 6 0 1 1 2 0 7 7 18 30 5 6 7 5 2 0 4 2 5 0 1 1 25 0"/>
<path d="M829 402l6 6 2 1 5 0 11-9 3 0 3 2 5 1 6-5 5-8 9-20 6-23 10-48 3-8 3 0 2 4 3 11 11 59 3 12 3 6 2 2 4 1 4 4 6 12 6 7 5 0 9-8 5 0 12 10 3 0 1 1 10 0"/>
<path d="M829 402l11-5 4-3 8-8 16-22 8-8 3-2 2 0 4-2 4 0 1-1 13 0 10 9 13 21 10 11 17 7 11 8 6 3 2 0 1 1 5 0 1 1 16 0"/>
<path d="M829 404l18-9 22-22 6-3 12 0 1-1 4 0 4-2 19-21 2-1 4 0 6 5 4 6 19 38 5 7 5 5 10 5 5 0 1 1 19 0"/>
<path d="M829 412l17 0 5-2 4-4 3-5 4-10 11-32 16-31 8-18 2-2 2 0 3 3 10 23 8 22 12 41 6 11 8 4 47 0"/>
<path d="M829 412l13 0 1-1 6-1 5-3 7-9 15-33 8-14 3-3 4-2 13 1 6-4 5-5 2 0 1-1 1 1 2 0 5 7 14 36 5 10 4 6 4 4 6 3 11 0 19 7 6 0"/>
<path d="M829 410l9-4 4-3 24-25 10-4 7 0 1 1 9 0 1-1 2 0 6-3 16-16 5-3 4-1 5 2 5 5 23 38 10 10 5 3 6 1 1 1 13 1"/>
<path d="M829 410l2 0 7-3 12-9 19-20 18-31 6-5 5 0 5 4 10 13 4 3 4 2 3 0 8 3 10 10 14 19 9 9 12 6 5 0 1 1 12 0"/>
<path d="M829 407l5-3 2 0 6-3 7-5 6-6 7-9 16-25 6-6 2-1 5 0 13 6 12 0 4 2 7 7 17 29 3 4 6 5 5 2 12 1 1 1 3 0 1 1 6 1 8 3 6 0"/>
<path d="M829 412l9 0 1-1 7-1 9-8 7-12 17-40 11-15 9-16 4-4 3 0 2 2 3 6 18 63 3 7 6 9 6 4 6 0 5-2 8 0 16 7 4 0 1 1 11 0"/>
<path d="M829 404l9-9 4-2 3 0 1 1 9 0 7-4 8-7 6-10 11-33 4-8 2-2 3-1 7 8 7 16 8 15 4 4 4 2 5 1 9 5 4 4 11 16 7 8 10 4 23 0"/>
<path d="M829 411l6-1 6-4 35-36 8-16 11-36 3-6 4-2 4 3 7 13 6 18 12 45 3 8 5 9 3 3 8 3 45 0"/>
<path d="M829 412l9 0 1-1 4 0 5-2 4-3 6-8 20-44 6-7 2-1 13 0 11-5 4 0 2 1 5 5 15 30 4 6 20 20 7 5 7 3 5 0 1 1 15 0"/>
<path d="M829 410l13-6 2-2 9-5 27-26 8-6 9-5 13-13 1-2 7-6 4 0 2 1 4 5 6 12 11 29 6 12 7 8 7 3 9-1 5-2 13 0 1 1 2 0"/>
<path d="M829 412l12 0 1-1 3 0 4-2 6-6 12-23 7-11 18-18 14-21 6-6 4 0 4 4 3 6 16 50 9 18 7 7 4 2 4 0 1 1 31 0"/>
<path d="M829 412l8 0 1-1 4 0 7-4 7-9 17-35 6-5 13 0 2-1 3-2 13-14 2 0 1-1 6 3 3 4 16 30 11 14 1 0 7 7 8 6 11 6 2 0 1 1 5 0 1 1 10 0"/>
<path d="M829 412l11-1 1-1 5-1 6-4 9-11 16-28 6-6 4-2 8 1 14 7 2 0 4 2 3 0 1 1 4 0 1 1 10 0 1-1 10 0 1 1 2 0 4 2 26 27 4 3 13 6"/>
<path d="M829 412l13 0 1-1 3 0 9-8 11-21 4-6 9-10 4-8 10-27 5-6 4 0 2 1 5 5 12 16 8 8 6 13 9 28 5 10 4 4 5 1 1 1 36 0"/>
<path d="M829 412l15 0 1-1 3 0 5-4 6-11 7-20 4-8 2-2 4 1 5 4 4-1 4-7 13-44 4-6 3 2 3 7 10 40 5 12 6 5 4 0 8 3 5 5 10 16 6 6 8 3 21 0"/>
<path d="M829 412l10 0 1-1 7-1 3-2 5-5 4-6 17-35 4-6 6-5 3 0 6 3 5 0 2-1 3-3 7-11 5-5 4 1 4 5 14 34 8 16 7 11 7 7 6 3 4 0 1 1 23 0"/>
<path d="M829 412l24 0 5-2 5-8 7-22 4-6 2 0 1 1 6 11 2 2 2 0 2-2 4-14 10-69 3-14 2-6 2-2 1 0 2 4 2 8 9 58 5 20 2 3 5 2 3 3 7 11 11 10 3 5 6 6 2 0 1 1 26 0"/>
<path d="M829 412l1-1 6-1 3-2 6-6 15-22 6-6 5-3 9-10 6-11 12-34 5-9 3 0 4 7 15 62 4 12 8 15 6 6 4 2 4 0 1 1 43 0"/>
<path d="M829 412l9 0 10-4 14-15 5-3 3 0 4-2 4-4 6-14 12-42 4-7 2-1 2 0 6 7 14 34 5 10 3 4 3 2 11 0 3 2 5 7 9 17 7 7 5 1 1 1 19 0"/>
</g>
<path d="M829.2 411.7L830.2 411.2 831.6 410.7 833.2 410.0 835.0 409.2 836.9 408.3 838.7 407.2 840.5 406.0 842.0 404.8 843.5 403.5 845.1 402.0 846.7 400.5 848.3 398.8 849.9 397.1 851.4 395.3 853.0 393.5 854.6 391.6 856.2 389.4 857.8 387.2 859.4 384.9 861.0 382.7 862.5 380.5 864.0 378.3 865.4 376.4 867.2 374.0 868.9 371.6 870.5 369.4 872.1 367.3 873.5 365.5 874.8 363.9 876.8 361.8 878.4 360.5 880.0 359.5 881.7 358.4 883.5 357.6 885.7 357.3 887.0 357.4 888.5 357.6 890.1 358.0 891.7 358.5 893.4 359.2 895.1 360.0 896.6 360.9 898.1 361.9 899.7 363.0 901.2 364.2 902.8 365.5 904.4 366.7 906.0 367.8 907.5 368.9 909.1 369.9 910.6 371.0 912.1 372.1 913.7 373.0 915.3 374.0 916.9 374.8 918.4 375.4 919.9 376.0 921.5 376.5 923.0 376.9 924.6 377.4 926.2 377.8 927.8 378.2 929.4 378.7 931.0 379.1 932.6 379.5 934.2 379.9 935.8 380.3 937.3 380.7 938.9 381.2 940.4 381.8 941.9 382.6 943.5 383.6 945.1 384.8 946.6 386.2 948.1 387.6 949.6 389.0 951.2 390.5 952.8 392.0 954.3 393.3 955.8 394.7 957.4 396.1 958.9 397.6 960.5 399.0 962.1 400.4 963.7 401.7 965.3 402.9 966.9 404.1 968.4 405.2 969.9 406.3 971.5 407.4 973.0 408.3 974.6 409.2 976.2 410.0 977.8 410.7 979.4 411.2 981.0 411.6 982.8 411.9 984.5 412.1 986.3 412.3 987.9 412.4 989.4 412.5 990.7 412.6 991.8 412.7 994.1 412.9 994.7 412.8" fill="none" stroke="#011f4b" stroke-width="2.5" stroke-linejoin="round" shape-rendering="crispEdges"/>
<path d="M829.2 253V413.5H994.7" fill="none" stroke="#000" stroke-width="1.1"/>
<path d="M876.5 414v3M932.5 414v3M989.5 414v3" stroke="#333" stroke-width="1"/>
<text transform="translate(875.7 431) scale(0.84 1)" class="tk">40</text>
<text transform="translate(931.6 431) scale(0.84 1)" class="tk">60</text>
<text transform="translate(988.8 431) scale(0.84 1)" class="tk">80</text>
<text x="828.7" y="240.6" class="ti">Colegio 8</text>
<path d="M1020.7 332h20" stroke="#011f4b" stroke-width="2"/>
<path d="M1020.7 355.5h19" stroke="#b3cde0" stroke-opacity="0.7" stroke-width="1"/>
<text x="1049.7" y="336" class="ly">y</text>
<text x="1049.7" y="357.8" class="ly">y</text><text x="1058.7" y="361" class="lr">rep</text>
<g fill="none" stroke="#b3cde0" stroke-opacity="0.7" stroke-width="1" shape-rendering="crispEdges" transform="translate(0.5 0.5)">
<path d="M12 632l18 0 0-1 6 0 0-1 2 0 10-5 0-1 4-2 0-1 4-3 10-15 0-3 2-3 0-3 2-4 0-5 2-7 0-7 2-9 0-10 2-12 0-12 2-13 0-12 2-10 0-9 2-6 0-3 2 0 0 4 2 6 0 9 2 10 0 10 2 10 0 10 2 8 0 8 2 5 0 5 2 4 0 3 2 2 0 2 2 1 0 1 2 1 0 1 10 9 2 4 2 1 6 9 2 1 0 1 2 1 0 1 2 1 0 1 2 1 0 1 2 1 2 3 2 0 0 1 2 1 2 3 4 2 0 1 2 1 0 1 2 1 2 3 2 0 2 3 2 0 0 1 2 0 0 1 2 0 0 1 8 1 0 1 10 0"/>
<path d="M12 632l12 0 8-2 0-1 4-1 0-1 6-3 0-1 2 0 0-1 2 0 0-1 2 0 0-1 2 0 0-1 2 0 0-1 4-2 0-1 4-3 0-2 2-1 2-3 0-2 2-1 0-2 2-2 0-2 2-2 0-2 2-2 0-2 2-2 0-2 4-5 0-2 4-6 0-4 2-3 0-5 2-6 0-7 2-8 0-10 2-10 0-11 2-10 0-9 2-8 0-5 2-3 2 4 0 6 2 9 0 10 2 10 0 11 2 10 0 10 2 9 0 7 2 6 0 6 2 4 0 4 2 3 0 3 2 3 0 3 2 2 0 2 2 3 0 2 2 2 0 2 2 1 0 2 2 3 4 3 0 1 6 3 2 0 0 1 2 0 4 2 0 1 2 0 0 1 2 1 2 3 2 0 0 1 8 4 4 1 16 0"/>
<path d="M12 632l16-2 0-1 2 0 6-3 2 0 0-1 2 0 0-1 2 0 0-1 6-3 0-1 2 0 2-3 2 0 0-1 2-1 2-3 4-2 0-1 2-1 2-3 2 0 0-1 2-1 0-1 10-9 0-2 2-1 0-2 2-1 0-2 4-6 0-2 2-3 0-4 2-4 0-5 2-6 0-7 2-8 0-8 2-8 0-7 2-7 0-5 2-4 2 2 0 4 2 6 0 7 2 9 0 9 2 8 0 8 2 7 0 7 2 5 0 4 2 4 0 3 2 2 0 2 6 9 2 1 2 4 4 3 0 2 2 1 0 1 2 1 0 1 2 1 0 1 2 1 0 1 2 1 0 1 2 1 0 1 2 1 0 1 2 1 2 3 4 2 0 1 2 0 0 1 4 1 0 1 4 0 0 1 4 0 2 1 8 0"/>
<path d="M12 632l14-2 0-1 8-2 0-1 10-2 0-1 2 0 0-1 2 0 0-1 2-1 4-6 0-2 6-13 0-3 2-3 0-4 2-3 0-3 2-3 2-7 6-9 4-1 2 1 0 1 2 0 0 1 4 3 0 2 2 1 0 1 2 1 2 3 2 1 4-1 4-13 0-6 2-7 0-7 2-7 0-6 2-6 0-3 2-2 2 3 0 5 2 7 0 8 2 8 0 9 2 8 0 8 2 6 0 6 2 5 0 4 2 4 0 2 2 3 0 2 2 2 0 2 2 2 0 2 2 1 0 2 2 3 2 1 0 1 2 1 2 3 6 3 4 0 0 1 28 0"/>
<path d="M12 632l28 0 0-1 4-1 0-1 4-3 0-2 4-5 0-2 2-2 0-2 2-2 0-2 2-1 0-3 2-2 0-4 2-4 0-5 2-7 0-7 2-8 0-9 2-7 0-7 2-5 0-3 2 0 0 3 2 4 0 7 2 7 0 8 2 8 0 6 2 5 0 4 2 2 2 0 0-2 2-3 0-4 2-4 0-4 2-5 0-5 2-5 0-6 2-6 0-6 2-6 0-5 2-5 0-5 2-3 0-2 2 0 2 3 0 3 2 5 0 6 2 6 0 7 2 7 0 6 2 7 0 6 2 5 0 5 2 5 0 3 2 3 0 3 2 3 2 1 0 1 4 2 0 1 4 3 2 3 0 2 4 5 0 2 2 2 0 2 2 1 0 2 2 1 0 2 4 2 0 1 4 1 28 0"/>
<path d="M12 632l10-1 4-1 0-1 2 0 0-1 2 0 2-3 4-2 2-4 4-3 0-2 4-3 2-4 2-1 2-3 2 0 0-1 4-2 0-1 2 0 0-1 4-1 0-1 4-2 0-1 2 0 2-3 2 0 2-3 2 0 0-1 2 0 0-1 2 0 0-1 6 0 4 1 0 1 6 1 0 1 4 0 0 1 10 0 0 1 4 0 0 1 2 0 0 1 4 2 0 1 4 3 0 2 4 3 0 2 2 1 6 9 2 1 0 1 2 1 2 3 4 2 0 1 2 0 0 1 6 3 2 0 0 1 6 1 0 1 14 1"/>
<path d="M12 632l28 0 10-4 0-1 4-3 2-3 0-2 2-1 2-7 2-2 0-3 2-2 0-3 2-3 2-7 2-2 0-2 2-2 0-2 2-1 0-2 2 0 0-1 4 0 4 2 0 1 4 2 0 1 6 1 0-1 2 0 0-1 2-1 0-1 2-1 2-3 2 0 0-1 2-1 0-1 2 0 0-1 6 0 0 1 4 3 2 3 0 2 2 1 0 2 4 6 0 3 2 2 0 2 2 2 0 2 4 6 2 1 0 2 4 2 0 1 10 5 0 1 2 0 0 1 10 6 0 1 2 0 4 2 10 1"/>
<path d="M12 632l24 0 4-1 6-3 0-1 2-1 4-6 0-2 2-2 0-2 2-3 0-3 2-2 0-3 2-4 0-3 2-3 0-4 2-3 0-4 2-3 0-3 2-3 0-3 6-9 2 0 2 1 0 1 2 0 0 1 2 1 0 1 2 0 0 1 6 0 0-1 4-1 4 2 0 1 2 1 2 3 0 2 4 6 0 3 2 2 0 2 2 3 2 7 2 2 0 2 4 6 2 1 2 3 2 0 0 1 4 2 0 1 2 1 0 1 2 1 0 1 2 1 0 1 2 1 0 1 2 1 2 3 8 4 4 1 26 0"/>
<path d="M12 632l16 0 0-1 4 0 0-1 4-1 8-12 0-3 2-2 0-3 2-3 0-3 2-3 0-3 2-3 0-3 2-3 2-7 2-1 0-2 6-4 8 0 4-2 2-3 2 0 2-3 4-2 2 0 0-1 4 1 0 1 4 3 0 2 2 2 0 2 4 6 0 3 2 2 0 3 2 2 0 2 2 3 0 2 2 2 0 2 2 2 0 2 4 5 0 2 8 12 2 1 2 3 10 4 40 0"/>
<path d="M12 632l20 0 10-4 0-1 4-3 0-2 2-1 0-2 2-2 0-3 2-2 0-2 2-3 0-3 2-3 0-3 2-3 0-4 2-3 2-10 2-3 2-7 2-2 0-2 2-3 2-1 6 0 2 3 2 0 0 1 6 5 0 2 6 5 0 2 2 1 0 1 8 7 2 4 4 3 0 2 2 1 2 4 2 1 0 2 6 5 0 2 2 1 0 1 2 1 0 1 2 1 0 1 2 1 0 1 2 1 0 1 2 1 2 3 2 0 2 3 2 0 0 1 2 0 0 1 2 0 0 1 4 0 2 1 26 0"/>
<path d="M12 632l36 0 4-1 0-1 4-3 2-3 0-2 2-1 0-2 2-2 0-2 2-2 0-2 2-1 0-2 4-3 2-3 0-2 2-2 0-3 2-4 0-5 2-5 0-5 2-6 0-7 2-6 0-6 2-6 0-5 2-4 0-4 2-2 0-2 2 0 0 1 2 1 0 2 2 2 2 7 2 2 0 2 2 2 0 2 4 8 0 3 2 4 0 4 2 4 0 4 2 3 0 4 2 4 0 3 4 8 0 2 2 1 0 2 2 1 0 2 2 1 0 2 2 1 2 4 2 1 2 3 2 0 0 1 2 0 0 1 4 2 0 1 2 1 0 1 2 1 2 3 4 2 2 0 0 1 28 0"/>
<path d="M12 632l28 0 4-1 0-1 2 0 0-1 4-3 4-6 0-3 4-6 0-3 2-2 0-2 2-2 0-2 2-2 0-2 8-12 0-2 2-3 0-2 2-2 0-3 2-2 0-3 2-2 0-2 2-2 0-2 2-3 2-1 0-2 2-1 2-3 2 0 0-1 4 0 4 8 0 3 2 3 0 4 4 14 0 5 2 4 0 4 2 4 0 3 2 2 0 3 2 1 0 2 4 1 0 1 6 0 0 1 2 0 0 1 4 3 0 2 2 1 2 3 2 0 0 1 2 0 0 1 8 0 0 1 2 0 0 1 4 1 0 1 4 2 0 1 2 0 0 1 4 0 0 1 16 0"/>
<path d="M12 632l12 0 0-1 6 0 4-1 0-1 2 0 4-2 0-1 2 0 0-1 4-2 2-3 2 0 0-1 6-5 0-2 8-7 0-2 4-3 6-9 2-1 0-1 2-1 0-1 2-1 2-3 2 0 0-1 2-1 6 0 8 4 0 1 4 2 0 1 4 2 0 1 2 0 0 1 2 0 0 1 6 1 0 1 4 0 0 1 2 0 6 3 0 1 2 0 0 1 2 1 0 1 2 0 0 1 2 1 2 3 2 0 0 1 2 1 2 3 2 0 0 1 6 3 0 1 2 0 0 1 8 2 0 1 2 0 0 1 6 1 0 1 2 0 0 1 4 1"/>
<path d="M12 632l28 0 4-1 2-1 0-1 2 0 0-1 2-1 0-1 2-1 2-3 4-2 0-1 6-4 0-2 2-1 0-2 2-2 0-3 2-3 0-3 2-4 0-4 2-5 0-4 2-5 0-4 2-5 0-4 2-4 0-4 2-3 0-3 2-3 0-2 2-1 2-3 4 0 4 3 2 3 0 2 2 2 0 2 2 2 2 7 8 12 0 3 2 2 0 3 2 3 0 4 2 3 0 4 2 4 2 10 2 3 0 3 2 2 0 3 4 6 2 1 0 1 4 2 2 0 0 1 40 0"/>
<path d="M12 632l16 0 0-1 4 0 6-3 0-1 10-9 0-2 4-3 0-2 2-1 4-6 0-2 2-2 0-2 4-8 0-3 2-2 0-3 2-3 0-3 2-2 0-3 2-2 0-2 2-1 0-2 4-2 2 0 12 6 2 0 0 1 2 0 0 1 2 0 0 1 4 2 0 2 2 1 0 2 2 1 0 2 4 6 0 3 4 6 2 7 2 1 0 2 4 6 2 1 0 2 2 1 0 1 2 1 0 1 2 1 0 1 2 1 0 1 2 1 2 3 2 0 0 1 4 2 2 0 0 1 4 0 0 1 30 0"/>
<path d="M12 632l8 0 0-1 4 0 10-5 0-1 4-2 2-3 2 0 0-1 4-2 0-1 2 0 0-1 4-2 0-1 2-1 0-2 2-1 2-3 0-2 2-1 0-2 2-2 0-2 2-2 0-2 2-1 0-2 2-3 2-1 0-2 2-1 0-1 2 0 0-1 4-2 0-1 2 0 0-1 4-2 0-1 2-1 0-1 2-1 0-1 2-1 2-3 4-2 4 0 0 1 2 0 0 1 2 1 0 2 2 1 0 2 4 6 0 2 6 13 0 3 2 2 0 3 2 2 0 3 2 2 0 3 2 2 0 2 2 2 0 2 4 6 2 1 2 3 10 4 34 0"/>
<path d="M12 632l50 0 6-4 0-2 2-3 0-3 2-4 0-5 2-5 0-5 2-5 0-6 2-5 0-4 2-3 0-3 2-3 0-2 2-1 0-2 2-2 0-2 2-3 0-3 2-3 0-3 2-4 0-4 2-4 0-4 2-5 0-6 2-5 0-5 2-5 0-4 2-3 2 2 0 3 2 6 0 7 2 9 0 9 2 11 0 10 2 9 0 9 2 9 0 7 2 6 0 5 2 4 0 3 2 3 0 2 2 1 0 1 6 0 0 1 4 0 0 1 4 0 0-1 2 0 4 2 0 1 4 3 0 2 2 1 0 1 6 3 24 0"/>
<path d="M12 632l10-2 0-1 2 0 2-1 0-1 2 0 0-1 4-2 0-1 6-5 0-2 2-1 0-1 2-1 0-1 2-1 2-3 2 0 0-1 4-1 0-1 8-1 0-1 4 0 0-1 2 0 0-1 2 0 0-1 4-2 0-1 6-4 0-1 6-3 2 0 0-1 16 2 8-2 0-1 4-1 6 0 4 2 0 1 4 3 0 2 2 1 0 2 2 1 0 2 4 5 0 2 4 5 0 2 2 1 0 2 2 1 0 2 2 1 2 4 2 0 2 3 2 0 0 1 2 0 0 1 8 1 0 1 14 0"/>
<path d="M12 632l24 0 0-1 2 0 0-1 4-3 0-2 2-2 0-3 2-2 0-3 2-3 0-2 2-3 6-3 0-2 2-2 0-4 2-5 0-6 2-6 0-7 2-7 0-6 2-6 0-5 2-4 0-4 2-3 0-2 2-2 0-3 2-2 0-3 2-3 0-2 2-2 0-2 2 0 0 2 2 3 0 5 2 6 0 8 2 8 0 9 2 8 0 8 2 7 0 6 2 4 0 4 2 2 0 2 4 3 0 2 2 1 0 2 2 1 0 2 2 2 0 2 2 3 4 1 6-3 4 1 0 1 4 3 0 2 4 6 2 1 2 3 4 1 42 0"/>
<path d="M12 632l24 0 10-4 2-4 2-1 0-2 2-2 0-2 4-8 0-3 2-3 0-3 2-3 0-3 2-3 0-3 2-3 0-3 2-2 0-3 2-2 0-2 2-2 0-2 2-3 2-1 0-1 2 0 0-1 2 0 4 2 0 1 2 1 0 2 2 1 2 4 2 1 0 1 4 3 0 1 2 0 0 1 10-1 4 2 0 1 2 0 0 2 2 1 2 3 0 2 2 1 0 2 2 2 0 2 2 2 0 2 2 2 0 2 4 5 0 2 2 1 0 2 2 1 0 2 2 1 0 1 2 1 0 1 2 1 2 3 6 3 2 0 0 1 4 0 0 1 26 0"/>
<path d="M12 632l32 0 4-1 2-1 0-1 2 0 6-9 0-3 2-2 0-3 2-2 0-3 2-3 0-4 2-3 0-3 2-3 0-4 2-3 0-3 2-3 0-2 2-3 2-7 6-9 8-3 0-2 2-2 0-2 2-3 0-3 2-3 0-3 2-3 0-2 2-2 2 0 0 2 2 3 0 4 2 5 0 6 2 6 0 7 2 8 0 7 2 7 0 6 2 6 0 6 2 5 0 4 2 4 0 3 2 3 0 2 2 2 0 2 2 1 0 1 4 2 2 0 0 1 48 0"/>
<path d="M12 632l12-2 0-1 2 0 4-2 0-1 2 0 0-1 4-2 0-1 6-5 2-4 2-1 0-2 2-1 0-2 2-1 0-2 2-1 0-2 6-9 0-2 2-2 0-2 2-2 0-2 2-1 0-2 2-1 0-2 2-1 2-3 2 0 0-1 4 0 0 1 2 0 0 1 4 3 0 2 2 1 4 7 2 1 0 1 4 3 0 1 4 2 2 0 0 1 8 0 0 1 2 0 4 2 0 1 2 0 0 1 6 5 0 2 4 3 2 4 2 1 2 3 4 2 0 1 2 0 0 1 2 0 0 1 2 0 0 1 4 0 0 1 4 0 0 1 4 0 0 1 4 0 0 1 4 0 0 1 8 1 0 1 6 0 2 1"/>
<path d="M12 632l18 0 2-1 4 0 0-1 2 0 0-1 2 0 0-1 4-1 0-1 8-7 4-6 0-2 2-2 0-3 2-2 0-3 2-3 0-3 2-3 0-3 2-2 0-3 2-3 0-3 2-2 0-2 2-2 0-2 2-1 0-1 2 0 0-1 6 1 0 1 4 1 4 0 0-1 4-1 6 0 4 2 0 1 2 1 0 2 2 1 0 2 4 6 0 3 2 2 2 7 2 2 0 2 2 2 0 2 2 2 0 2 2 1 0 2 2 1 0 2 2 1 2 4 4 3 0 2 2 1 2 3 2 0 0 1 10 4 28 0"/>
<path d="M12 632l20 0 0-1 4 0 0-1 2 0 0-1 4-2 0-1 2-1 2-4 2-1 2-3 2 0 0-1 4-1 4 0 4-3 0-2 2-2 0-2 2-3 0-3 2-3 0-3 2-3 2-10 2-3 0-2 2-2 0-3 2-1 0-2 10-14 0-2 2-1 0-2 2-1 2-3 2 0 0 1 2 1 2 3 0 2 2 2 0 3 2 3 0 3 2 4 0 3 2 3 0 4 2 3 0 3 2 3 0 3 2 2 0 3 2 3 0 2 2 3 2 7 2 2 0 3 2 2 0 2 2 2 0 2 2 3 2 1 2 3 8 3 36 0"/>
<path d="M12 631l4-1 0-1 2 0 0-1 2 0 0-1 4-2 0-1 6-5 0-2 6-5 2-4 2 0 2-3 10-5 2 0 0-1 4 0 0-1 6-1 0-1 2 0 0-1 4-2 4-6 2-1 0-2 2-1 0-2 2-1 2-4 2-1 0-1 4-1 0-1 4 1 0 1 4 3 0 2 2 1 0 2 4 5 0 2 2 1 0 2 2 1 0 2 2 1 0 1 2 1 2 3 12 7 0 1 6 5 2 4 2 1 0 1 2 1 0 1 2 1 0 1 2 1 2 3 2 0 0 1 2 0 0 1 8 1 0 1 24 0"/>
<path d="M12 632l40 0 4-1 0-1 2 0 0-1 2-1 2-3 0-2 2-2 0-2 2-3 0-3 2-4 0-3 2-4 2-10 2-3 0-3 2-2 0-2 6-4 4 0 2-1 0-1 6-5 0-2 4-3 0-2 2-1 0-2 2-1 0-2 6-8 4 1 0 2 2 2 0 3 2 3 0 4 2 4 0 4 2 4 0 5 2 4 0 4 2 4 0 3 2 3 0 3 2 3 0 2 2 1 0 2 2 1 0 1 10 5 0 1 2 1 0 1 2 1 0 1 2 1 0 1 2 1 2 3 2 0 0 1 2 0 0 1 4 0 0 1 18 0"/>
<path d="M12 632l24 0 0-1 4 0 0-1 2 0 0-1 4-3 0-2 2-1 0-2 2-1 0-2 2-2 0-2 4-6 6-4 4 0 0-1 2 0 0-1 2-1 2-3 2-4 0-2 2-2 0-3 2-3 0-3 2-3 0-3 2-4 0-3 2-2 0-3 2-2 0-2 2-2 0-2 4-2 4 0 0 1 2 0 0 1 4 3 0 2 2 2 0 2 2 3 0 3 2 3 0 4 2 4 0 4 2 4 0 4 2 4 0 4 2 4 0 3 2 3 0 3 4 6 4 1 0-1 4-3 2-4 2-1 2-3 2 0 4 2 4 6 0 2 2 1 0 2 2 1 0 2 2 1 2 3 8 3 16 0"/>
<path d="M12 631l4-1 0-1 2 0 0-1 2 0 0-1 2 0 0-1 2 0 0-1 2 0 0-1 2 0 0-1 2 0 0-1 2 0 0-1 2 0 0-1 4 0 2-1 10 0 0-1 2 0 2-1 0-1 2 0 0-1 4-3 0-2 2-1 0-2 2-1 0-2 2-2 0-2 2-2 0-2 2-1 0-2 2-2 0-2 2-1 2-4 4-2 0-1 6-1 0-1 2 0 4-2 0-1 2-1 0-1 2 0 0-1 2-1 2-3 6-1 0 1 2 0 0 1 2 1 4 6 0 2 4 6 2 7 2 2 0 3 2 2 2 7 2 2 0 2 2 2 0 2 2 2 0 2 2 1 0 2 2 1 0 2 2 1 0 1 4 2 0 1 4 1 0 1 4 0 2 1 26 0"/>
<path d="M12 632l8 0 0-1 4 0 0-1 2 0 2-1 0-1 2 0 0-1 4-3 0-2 2-1 4-6 0-2 2-1 0-2 2-1 0-2 2-1 2-3 2 0 0-1 2 0 0-1 8 0 6-3 0-1 4-3 0-2 2-1 0-2 2-1 10-15 2-1 2-3 2 0 0-1 4-1 0-1 4 0 0 1 2 0 0 1 6 5 0 2 2 1 0 2 2 2 0 2 4 6 0 3 2 2 0 2 2 3 0 2 2 3 2 7 2 2 0 2 2 2 0 2 4 6 2 1 2 3 10 4 34 0"/>
<path d="M12 632l24 0 10-4 0-1 6-5 0-2 2-1 0-2 2-1 8-13 2-1 6-9 2-1 0-1 8-7 2-4 2-1 4-6 0-2 2-2 0-2 2-2 0-2 2-2 0-2 2-2 0-2 2-2 0-2 2-3 4-2 0 1 2 0 2 3 0 2 2 2 0 3 2 3 0 4 2 3 0 4 2 5 0 4 2 4 0 5 2 4 0 4 2 4 0 4 2 4 0 3 2 3 0 3 2 2 0 2 2 2 0 2 2 1 2 3 2 0 0 1 4 1 36 0"/>
<path d="M12 632l24 0 4-1 0-1 2 0 0-1 4-3 0-2 2-1 0-2 2-1 0-2 2-2 0-2 4-6 2-7 4-6 2-1 2 0 0 1 4 3 0 2 2 1 2 3 4-1 0-2 2-2 0-3 2-4 0-4 2-4 0-5 2-4 0-5 2-4 0-4 2-3 0-3 2-2 0-2 2-1 2-3 4 1 4 6 0 3 2 3 0 4 2 3 0 4 2 3 2 10 2 2 0 3 2 2 0 3 2 2 0 2 2 3 0 3 2 2 0 3 6 13 2 1 0 1 2 0 4-2 0-1 2-1 0-2 4-2 0-1 4 0 6 5 2 4 2 1 2 3 4 2 2 0 0 1 14 0"/>
<path d="M12 632l24 0 4-1 6-3 0-1 2-1 8-16 0-3 2-3 0-3 2-4 0-3 2-3 0-4 2-3 0-3 2-3 0-3 2-2 0-2 2-3 4-3 4 1 0 1 2 1 0 1 2 1 0 1 2 1 2 3 2 0 0 1 4 1 10-2 0 1 4 1 6 8 0 2 2 1 0 2 2 2 0 2 2 2 0 2 2 2 0 2 2 1 0 2 4 6 2 1 0 1 2 1 0 2 2 1 0 1 2 1 2 3 2 0 0 1 2 1 2 3 2 0 0 1 4 2 2 0 0 1 4 0 2 1 22 0"/>
<path d="M12 632l14 0 0-1 4 0 0-1 4-1 2-3 2 0 2-3 2 0 0-1 2 0 0-1 4 0 0-1 2 0 6-3 0-1 2 0 0-1 2-1 2-4 2-1 4-6 0-2 4-8 0-3 4-11 0-5 2-4 0-4 2-4 0-4 2-4 0-3 2-3 0-2 4-3 2 0 0 1 2 1 2 3 0 2 2 2 2 4 0 2 2 2 0 2 4 8 0 3 2 2 0 3 2 2 2 7 4 6 0 3 2 2 0 2 2 3 0 3 2 2 0 3 2 2 0 2 2 2 0 2 2 1 2 3 10 0 0 1 2 0 0 1 4 2 0 1 10 4 24 0"/>
<path d="M12 632l0-1 6 0 0-1 2 0 6-3 0-1 2 0 2-3 2 0 2-3 4-2 0-1 4-2 0-1 2 0 0-1 4-2 0-1 2 0 0-1 2-1 0-1 2-1 0-1 10-9 0-2 2-1 0-1 2-1 0-1 2-1 2-3 4-2 0-1 4-1 0-1 4 0 2-1 14 0 4 1 0 1 2 0 8 5 4 6 2 1 4 6 0 2 2 1 0 2 2 2 0 2 2 1 0 2 6 9 2 1 0 2 2 1 0 1 2 0 2 3 2 0 0 1 4 1 4 0 0 1 24 0"/>
<path d="M12 632l26 0 10-2 0-1 2 0 0-1 4-2 0-1 6-5 4-6 0-2 2-2 0-2 4-6 0-3 2-2 0-3 2-3 0-2 2-3 2-7 2-2 0-2 2-2 0-2 2-1 2-3 2 0 0-1 4 0 0 1 8 2 10 1 0 1 2 0 0 1 6 5 0 2 4 6 0 2 6 13 0 3 2 2 0 3 2 2 0 3 2 2 0 2 2 2 0 2 2 1 0 1 4 3 0 1 2 0 0 1 4 0 6-2 10 0 0 1 6 1 0 1 8 2"/>
<path d="M12 632l18 0 0-1 4 0 0-1 2 0 0-1 4-3 2-3 0-2 2-2 0-2 4-8 0-4 2-3 0-3 2-4 2-10 2-3 0-3 2-3 0-2 2-2 0-2 2-1 0-1 4 0 0 1 2 0 0 1 4 2 0 1 6 0 0-1 2-1 0-1 2-1 0-1 2-1 2-3 2 0 0-1 2 0 4 2 0 2 2 1 0 2 2 2 0 3 2 2 0 3 2 2 0 3 2 2 0 3 2 3 2 7 2 2 0 3 4 5 0 2 2 1 0 2 2 1 0 1 2 1 2 3 4 2 0 1 4 2 0 1 2 0 0 1 2 0 0 1 2 0 0 1 2 0 0 1 4 0 2 1 34 0"/>
<path d="M12 632l32 0 0-1 4-1 0-1 4-3 0-2 2-2 0-2 2-2 0-2 2-3 2-1 0-1 2-1 0 1 6 1 0-1 2-1 0-2 2-2 0-4 2-5 0-6 2-7 0-9 2-9 0-10 2-10 0-10 2-9 0-8 2-7 0-5 2-3 2 1 0 3 2 4 0 5 2 6 0 5 2 6 0 5 2 4 0 4 2 4 0 4 2 3 0 4 2 3 0 3 2 3 0 4 2 3 0 3 2 2 0 3 2 3 0 3 2 3 0 3 2 3 0 4 2 3 0 3 2 2 0 2 2 3 8 3 0 1 4 3 2 4 2 0 0 1 4 1 0 1 38 0"/>
<path d="M12 632l20 0 0-1 4 0 6-3 0-1 2 0 0-1 6-5 0-2 2-1 2-4 2-1 0-2 2-1 0-2 2-1 0-2 2-1 0-2 4-5 0-2 4-5 0-2 2-1 0-2 2-1 2-4 2-1 0-2 2-1 2-4 2-1 0-2 2-1 0-2 2-1 0-2 2-1 0-1 2-1 2-3 4-2 4 2 4 6 0 2 2 3 0 3 2 3 0 3 2 3 0 4 2 3 0 3 2 3 0 3 2 3 0 3 2 2 0 2 2 2 0 2 2 1 0 2 2 1 2 3 2 0 2 3 2 0 0 1 2 1 0 1 2 0 2 3 2 0 0 1 6 3 2 0 0 1 4 0 2 1 22 0"/>
<path d="M12 630l4-1 0-1 4 0 0-1 4-1 8 0 0-1 4 0 6-3 8-11 0-2 4-5 0-2 2-1 0-2 2-1 0-2 2-1 0-1 6-3 2 0 0-1 2 0 4-2 0-1 2 0 10-15 2-1 2-3 2-1 4 0 6 5 4 6 0 2 2 1 0 2 2 2 0 2 2 2 0 2 2 2 0 2 2 1 0 2 2 2 0 2 2 1 0 2 4 6 2 1 0 2 4 3 4 6 4 2 0 1 4 2 0 1 2 0 0 1 4 1 4 0 2 1 24 0"/>
<path d="M12 632l40 0 4-1 2-1 0-1 2 0 4-6 0-2 2-2 0-3 2-3 0-3 2-3 0-4 2-4 0-4 2-4 0-4 2-4 0-5 2-4 0-4 2-3 0-4 2-3 0-3 2-3 0-2 4-3 2 0 0 1 2 1 0 2 2 1 0 2 2 1 0 2 2 3 2 1 2 3 6 3 0 1 2 0 0 1 8 7 2 4 2 1 0 2 2 2 0 2 4 8 0 3 2 3 0 3 2 3 0 3 2 3 2 7 6 8 2 0 0 1 4 1 30 0"/>
<path d="M12 632l30 0 0-1 4 0 0-1 6-5 0-2 4-6 0-3 2-2 0-3 2-2 0-3 2-2 0-2 4-6 8-7 0-2 4-5 2-7 2-2 0-3 4-6 0-3 2-2 0-2 2-1 0-2 2-1 0-2 2 0 0-1 2 0 0-1 4 2 0 2 2 1 0 2 2 2 0 3 2 3 0 3 2 3 0 3 2 3 0 4 2 3 2 10 2 3 2 7 6 9 2 1 0 2 2 1 6 10 2 1 0 2 4 2 0 1 2 0 0 1 4 1 32 0"/>
<path d="M12 632l20 0 4-1 0-1 2 0 0-1 4-2 0-1 2-1 2-3 8-2 0-1 2 0 0-1 2-1 4-6 0-2 2-2 0-3 2-2 0-3 2-3 0-3 2-3 0-4 2-4 0-4 2-4 0-5 2-5 0-4 2-4 0-5 2-3 0-3 4-8 4 1 4 6 0 3 2 3 0 3 2 4 0 4 2 3 0 4 2 4 0 3 2 3 0 3 2 2 0 2 4 2 4 0 4 3 0 2 4 8 0 3 2 4 0 3 2 3 0 3 6 12 2 1 0 1 4 1 0 1 42 0"/>
<path d="M12 632l14 0 0-1 4 0 0-1 2 0 0-1 4-1 0-1 4-2 0-1 2 0 0-1 12 0 0-1 4-3 2-3 0-2 2-1 0-2 4-6 0-3 2-2 0-2 4-8 0-3 2-3 0-3 2-4 0-3 2-3 0-4 2-3 0-3 2-3 0-3 2-2 0-3 2-1 0-2 2-1 0-1 4 0 0 1 4 3 0 2 4 6 2 7 2 1 0 2 2 2 0 2 6 9 0 3 2 2 0 3 2 3 0 3 2 2 0 3 2 3 0 3 2 3 0 3 2 2 0 2 2 2 0 2 2 2 0 2 2 1 0 2 2 1 0 1 10 4 36 0"/>
<path d="M12 632l18 0 0-1 2 0 6-3 0-1 6-5 0-2 2-1 0-2 2-1 2-4 2-1 0-1 10-9 2-3 0-2 2-1 0-2 2-2 0-2 4-6 0-3 2-2 0-2 2-1 0-2 2-2 0-2 2-1 2-4 2-1 2-3 2 0 0-1 2 0 4 2 0 2 4 6 0 3 2 3 0 3 2 2 0 3 2 3 0 2 2 2 0 2 2 1 0 1 4 1 0 1 4 0 4 2 0 2 2 1 0 2 2 1 0 2 2 2 0 2 4 6 2 1 2 3 8 4 0 1 2 0 0 1 6 3 0 1 8 2 20 0"/>
<path d="M12 632l10 0 0-1 6 0 0-1 2 0 8-4 0-1 2 0 0-1 10-9 2-4 2-1 2-4 2-1 0-2 2-1 2-4 2-1 0-1 2-1 2-3 12-6 0-1 2 0 0-1 6-5 0-2 2-1 2-3 6-3 4 1 0 1 4 3 2 4 2 1 0 2 2 1 0 2 2 1 0 2 2 1 0 2 2 1 0 2 6 9 2 1 0 2 2 1 2 4 2 1 0 1 2 1 2 3 2 0 2 3 2 0 0 1 4 2 0 1 2 0 0 1 2 0 0 1 2 0 0 1 2 0 0 1 2 0 0 1 2 0 0 1 10 1 0 1 10 0"/>
<path d="M12 632l0-1 10-1 0-1 2 0 20-10 2 0 0-1 4-1 0-1 4-2 0-1 2 0 0-1 4-3 2-4 2-1 0-2 2-1 0-2 6-8 0-2 2-1 0-2 2-1 0-1 2-1 2-3 4-2 6 0 0 1 8 2 0 1 2 0 0 1 6 1 0 1 2 0 6 3 0 1 6 4 2 4 4 3 0 2 4 3 0 2 2 1 0 1 2 1 0 1 2 1 0 1 2 1 0 1 2 1 2 3 2 0 0 1 10 5 2 0 0 1 2 0 0 1 6 1 0 1 4 1 4 0 0 1 6 0"/>
<path d="M12 632l8-1 0-1 2 0 4-2 0-1 8-7 0-2 2-1 2-4 2-1 0-1 4-3 0-1 2 0 0-1 4 0 12 7 4-1 6-9 0-3 2-2 0-3 2-2 0-3 2-3 2-7 2-2 0-2 2-3 4-3 0-1 6 0 0 1 8 1 0 1 4 0 0 1 2 0 0 1 2 0 0 1 2 1 0 2 2 1 0 2 2 1 0 2 2 2 0 3 2 2 0 2 2 3 0 2 2 3 0 2 2 3 2 7 2 2 0 2 2 2 0 2 2 1 0 2 2 1 2 3 6 3 4 0 0 1 30 0"/>
<path d="M12 632l24 0 8-2 0-1 2 0 0-1 4-2 0-1 6-5 0-2 4-3 6-9 2-1 4-6 0-2 2-1 0-2 2-2 0-2 2-2 0-2 2-2 0-2 2-2 0-2 2-2 0-2 2-2 0-2 2-2 0-2 2-1 0-2 2-1 0-1 4-2 2 0 4 2 0 1 6 5 0 2 4 3 0 2 2 1 0 2 2 1 0 2 2 2 0 2 2 2 0 2 2 2 0 2 2 2 0 2 2 2 0 2 2 2 0 2 2 2 0 2 2 1 0 2 2 1 0 2 2 1 2 4 2 1 2 3 4 2 0 1 4 2 0 1 2 0 0 1 8 1 0 1 18 0"/>
<path d="M12 632l8-1 0-1 2 0 0-1 2 0 0-1 2 0 0-1 2 0 0-1 2 0 0-1 10-5 0-1 8-7 0-2 2-1 2-4 2-1 0-1 6-5 0-2 4-3 0-2 2-1 0-2 4-5 0-2 2-2 0-2 2-2 0-2 2-1 0-2 2-1 2-4 2 0 0-1 2-1 2 0 0 1 2 0 0 1 2 1 0 2 4 6 0 3 2 2 0 3 2 3 0 3 2 2 0 3 6 9 2 0 0 1 12-1 0 1 4 1 0 1 10 9 0 2 4 3 0 2 2 1 0 1 2 1 2 3 4 2 0 1 8 2 22 0"/>
<path d="M12 632l14 0 12-3 0-1 4-1 0-1 6-3 0-1 2 0 2-3 4-2 2-4 2-1 0-2 2-2 0-2 4-6 0-3 2-2 0-3 4-8 0-3 2-3 0-3 2-2 0-3 2-2 0-2 2-2 0-2 2-1 2-3 4 0 0 1 4 3 0 2 2 1 0 2 2 2 2 7 2 2 0 2 2 2 0 2 2 1 0 2 2 1 0 2 4 2 0 1 2 0 0 1 8 2 0 1 8 7 0 2 2 1 2 4 2 1 0 2 2 1 0 1 2 1 0 1 2 1 2 3 4 2 0 1 2 0 0 1 6 3 2 0 0 1 8 1 0 1 14 0"/>
<path d="M12 632l12 0 2-1 4 0 0-1 2 0 6-3 0-1 10-9 2-4 4-3 2-4 2-1 0-1 10-9 0-2 4-3 2-4 2-1 0-1 2-1 2-3 4-1 0-1 6 1 0 1 2 0 0 1 6 3 4 0 0-1 2 0 8-4 2 0 4 2 8 12 0 2 2 2 0 3 2 2 0 2 2 2 0 2 4 5 0 2 4 6 2 1 0 1 2 1 2 3 6 3 2 0 0 1 4 0 2 1 18 0"/>
<path d="M12 632l40 0 0-1 2 0 4-3 6-12 0-3 2-3 0-3 2-3 0-3 2-2 0-2 2-3 6-5 0-2 2-2 0-3 2-4 0-5 2-5 0-6 2-6 0-7 2-6 0-6 2-6 0-5 2-4 0-2 2-1 2 2 0 4 2 4 0 6 2 6 0 7 2 6 0 6 2 6 0 6 2 4 0 4 2 3 0 2 2 2 0 2 2 1 0 1 2 1 0 2 4 3 0 2 2 2 0 2 2 2 0 2 2 2 0 2 2 1 0 2 6 4 2 0 0-1 8 0 0 1 2 0 0 1 2 1 0 1 2 1 0 1 2 1 0 1 2 1 2 3 4 2 2 0 0 1 18 0"/>
<path d="M12 632l18 0 0-1 4 0 0-1 4-1 0-1 4-3 2-3 0-2 2-1 0-2 4-6 2-7 2-2 0-2 2-2 0-2 4-6 2-1 0-1 6-3 2 0 0-1 6-1 2-3 2 0 0-2 4-3 0-2 2-1 2-4 2-1 0-1 2 0 0-1 6 0 4 2 0 1 2 0 0 1 2 1 0 1 2 1 2 3 0 2 4 6 0 3 2 3 0 3 2 3 0 3 2 3 0 3 2 3 0 3 2 3 0 3 2 2 0 2 2 2 0 2 2 1 0 2 2 1 0 1 2 0 0 1 2 0 0 1 4 0 0 1 38 0"/>
<path d="M12 632l26 0 0-1 6-1 0-1 4-3 4-6 0-2 4-8 0-3 2-3 0-3 2-3 0-3 2-3 0-3 2-2 0-3 2-2 0-2 2-3 2-1 0-1 4 0 2 1 0 1 4 2 2 3 2 0 0 1 2 0 0 1 8 0 0-1 2 0 2-1 0-1 2 0 2-3 2 0 0-1 4-2 4 0 2 1 0 1 4 3 0 2 2 2 0 2 4 6 0 3 2 2 2 7 2 2 0 2 2 2 0 2 2 2 0 2 2 3 2 1 0 2 2 1 0 1 2 1 2 3 2 0 0 1 2 0 0 1 2 0 0 1 4 0 2 1 22 0"/>
<path d="M12 632l22 0 0-1 4 0 4-1 0-1 2 0 0-1 2-1 0-1 2 0 0-2 4-3 0-2 2-1 0-2 4-5 0-2 2-2 0-2 2-2 0-2 2-1 0-2 2-3 4-3 0-1 2 0 0-1 12 0 4-2 4-6 2-1 0-2 2-1 2-4 4-2 4 2 4 6 0 3 2 2 0 3 2 2 0 3 2 2 0 3 2 2 0 2 2 2 0 2 2 3 2 1 0 1 6 0 6-3 2 0 0-1 4 0 8 4 2 3 2 0 2 3 2 0 0 1 4 2 0 1 2 0 0 1 2 0 0 1 2 0 0 1 2 0 0 1 2 0 6 3"/>
<path d="M12 632l18 0 0-1 4 0 0-1 2 0 2-1 0-1 2 0 0-1 6-5 2-4 2-1 0-2 2-1 0-2 2-1 4-7 2-1 0-2 2-1 0-2 2-1 4-7 2-1 0-2 4-3 0-2 10-6 0-1 4-1 0-1 4-2 2-3 2 0 0-1 2-1 0-1 2 0 0-1 6 0 0 1 2 0 4 6 0 2 2 2 0 2 2 3 0 3 2 3 0 3 2 3 0 3 2 3 0 3 2 3 0 3 2 2 0 3 2 3 0 2 2 2 0 2 2 1 0 2 2 1 0 1 2 1 2 3 8 2 32 0"/>
<path d="M12 632l26 0 0-1 2 0 4-2 0-1 4-3 0-2 4-6 0-3 2-3 0-2 2-4 0-3 2-3 0-3 2-3 0-4 2-3 0-3 2-2 0-3 2-2 0-3 2-2 0-2 2-1 0-2 2-2 0-2 2-1 0-2 2-1 0-2 2-1 2-4 2 0 0-1 4 0 0 1 2 1 2 3 0 2 2 2 0 2 2 3 0 3 2 3 0 3 2 3 0 3 2 3 0 3 4 8 0 3 2 2 0 2 2 2 0 2 2 2 0 2 2 1 0 2 2 1 2 4 2 1 2 3 2 0 0 1 2 0 0 1 4 0 0 1 6 0 0 1 2 0 0 1 2 0 4 2 8 0 0-1 2 0 0-1 8-1 0 1 2 0 4 2 0 1 4 1 0 1 8 2"/>
<path d="M12 632l14-1 0-1 2 0 4-2 0-1 2 0 0-1 4-3 10-15 0-2 2-1 0-2 2-1 4-6 4-2 0-1 6-1 0-1 2 0 8-4 0-1 2-1 2-3 8-5 6 0 0 1 2 0 16 8 0 1 6 5 4 6 0 2 2 1 0 2 2 2 0 2 2 1 0 2 4 6 2 1 0 2 2 1 0 1 2 1 2 3 2 0 0 1 8 4 2 0 0 1 6 0 0 1 20 0"/>
<path d="M12 632l10-1 0-1 6-1 0-1 2 0 0-1 4-1 0-1 4-2 0-1 2 0 0-1 8-7 2-4 2-1 0-2 2-1 0-2 2-1 0-2 2-1 0-2 2-1 0-2 2-1 2-4 2-1 2-4 2-1 0-2 4-3 0-2 2-1 2-4 2-1 0-1 2-1 2-3 2 0 0-1 2 0 4 2 0 1 2 0 0 2 2 1 8 12 0 2 2 1 0 2 2 1 0 2 2 1 0 2 2 1 0 2 2 1 2 4 2 1 0 2 2 1 0 1 2 1 0 2 2 1 0 1 2 1 0 1 2 1 0 1 2 1 2 3 2 0 2 3 2 0 0 1 4 2 0 1 2 0 0 1 2 0 0 1 6 1 0 1 6 0 0 1 20 0"/>
<path d="M12 632l16 0 0-1 4 0 6-3 0-1 6-5 0-2 2-1 4-7 2-1 0-1 2-1 2-3 4-2 0-1 2 0 0-1 4-2 0-1 2 0 0-1 4-3 0-2 2-1 2-3 0-2 2-2 0-2 4-6 0-3 2-2 0-2 4-6 0-2 2-1 0-1 4 0 0 1 2 0 0 2 2 1 0 2 2 1 0 2 2 2 0 2 2 2 0 2 2 1 0 2 22 32 2 0 0 1 10 5 0 1 4 2 0 1 2 1 0 1 2 1 2 3 2 0 0 1 2 0 0 1 2 0 0 1 4 0 0 1 18 0"/>
<path d="M12 632l6 0 14-3 0-1 8-2 0-1 2 0 0-1 2 0 0-1 4-1 0-1 6-5 4-6 0-2 2-1 0-2 2-2 0-2 4-6 0-3 2-2 0-2 2-2 0-2 2-1 0-2 2-3 2-1 0-2 4-2 0-1 6 0 4 2 0 1 4 2 0 1 2 0 0 1 4 2 0 1 2 0 0 1 2 0 6 3 0 1 2 0 2 3 2 0 0 2 6 5 0 2 4 3 0 2 4 3 2 4 2 1 2 3 2 0 0 1 2 1 2 3 2 0 2 3 2 0 0 1 6 3 0 1 8 2 0 1 6 0 0 1 10 0"/>
<path d="M12 632l14 0 4-1 14-8 4 0 0-1 4 0 2-1 0-1 2 0 2-4 2-1 0-2 2-1 0-2 4-6 2-1 0-2 2-1 0-1 4-3 0-2 2-1 0-2 2-2 0-2 2-3 0-3 2-3 0-3 2-4 0-3 2-4 2-10 4-6 4 1 0 2 2 1 0 3 2 2 0 3 2 2 0 3 2 3 0 2 2 2 0 2 2 2 0 2 2 1 0 1 4 3 2 4 2 1 2 3 0 2 4 5 0 3 6 9 0 2 6 9 4 3 0 2 4 2 0 1 8 3 26 0"/>
<path d="M12 632l14 0 0-1 4 0 0-1 4-2 0-1 2-1 2-3 2 0 0-1 4 0 0 1 2 0 0 1 4 2 4 0 4-6 0-3 2-2 0-3 2-2 0-3 2-2 0-2 4-3 4 3 2 3 0 2 2 1 0 2 4 1 2-3 0-2 2-4 0-5 2-6 0-7 2-8 0-9 2-9 0-8 2-9 0-7 2-6 0-5 2-4 2 0 0 2 2 2 0 4 2 5 0 5 2 5 0 4 2 4 0 4 10 22 0 4 2 4 0 4 2 4 0 4 2 4 0 4 2 3 0 3 2 3 0 2 2 1 2 3 2 0 4 2 0 1 2 0 0 1 2 1 2 3 4 2 0 1 4 0 0 1 28 0"/>
<path d="M12 632l12-1 4-1 0-1 2 0 4-2 0-1 2 0 0-1 8-7 2-4 2-1 4-7 2-1 0-2 2-1 2-4 2-1 0-2 2-1 2-4 2-1 0-1 2-1 0-1 2-1 2-3 8-4 4 0 8 4 0 1 2 1 0 1 2 1 0 1 2 1 0 1 2 1 2 3 2 0 2 3 6 3 0 1 2 0 0 1 2 0 0 1 2 0 0 1 2 0 0 1 2 0 0 1 2 0 0 1 2 0 0 1 8 2 0 1 2 0 0 1 2 0 0 1 2 0 0 1 4 1 0 1 4 2 0 1 4 2 0 1 4 2 0 1 6 3 0 1 8 2 0 1 6 0 0 1 2 0"/>
<path d="M12 632l30 0 0-1 4 0 0-1 4-1 0-1 4-3 0-2 2-1 0-2 2-2 0-2 2-2 0-3 2-3 0-3 2-4 0-4 2-5 0-4 2-5 0-5 2-6 0-5 2-5 0-5 2-5 0-4 2-4 0-3 2-3 0-2 2-1 2 0 0 1 2 1 2 4 0 2 2 3 0 3 4 11 0 4 2 4 0 4 2 4 0 4 2 4 0 4 2 4 2 10 2 2 0 2 4 6 4 0 2-1 6-9 2 0 0-1 4 0 4 6 0 2 2 2 0 2 2 2 0 2 2 2 0 2 2 3 4 3 0 1 6 0 0-1 2 0 0-1 2 0 0-1 2 0 0-1 6 0 12 7 6 1"/>
<path d="M12 632l20 0 4-1 0-1 6-4 0-2 2-1 2-3 2 0 0-1 4-1 0-1 4-3 2-3 0-2 2-2 0-2 2-3 0-3 2-3 0-3 2-4 0-4 2-4 0-5 2-5 0-5 2-5 0-6 2-5 0-5 2-4 0-4 2-3 0-2 2-2 2 1 2 3 0 2 2 3 2 7 4 6 0 2 2 3 0 3 2 3 0 4 4 14 0 6 2 5 0 5 2 5 0 4 2 4 0 4 2 2 0 2 2 1 0 1 4 0 4-2 14 0 0 1 4 0 4 2 0 1 2 0 0 2 2 1 2 3 4 2 0 1 4 1 24 0"/>
<path d="M12 632l24 0 6-2 0-1 4-3 2-3 0-2 2-2 0-2 2-2 0-3 2-2 0-3 2-2 0-3 2-2 0-3 2-2 2-7 2-1 0-2 2-2 0-2 4-3 0-2 6-5 0-2 4-6 0-2 2-3 0-3 2-3 0-3 2-3 0-3 4-6 2 1 2 3 0 2 2 4 0 4 2 4 0 5 2 5 0 5 2 5 0 5 2 5 0 4 2 3 0 3 2 3 0 2 6 4 0 1 2 0 0 1 2 1 2 3 0 2 2 1 0 2 2 2 0 2 2 2 0 2 2 3 2 1 2 3 2 0 0 1 4 1 40 0"/>
<path d="M12 632l12 0 0-1 4 0 0-1 2 0 0-1 6-5 6-10 2-1 2-3 2 0 0-1 10 1 4-2 0-1 2-1 0-2 2-1 0-2 2-1 0-2 2-2 0-2 4-5 2-7 2-2 0-2 2-2 0-3 6-9 0-2 2-1 2-3 2 0 0-1 2 0 0-1 2 0 4 2 4 5 0 2 2 2 0 2 2 3 0 3 2 3 0 3 2 3 0 3 2 3 0 3 2 3 2 7 2 2 0 2 2 2 0 2 2 2 0 2 6 9 2 1 2 3 10 4 34 0"/>
<path d="M12 629l6-3 2-3 2 0 0-1 2-1 2-3 4-2 0-1 2 0 0-1 2 0 0-1 4 0 0-1 8-1 0-1 2 0 4-2 0-1 2 0 0-1 4-3 0-2 2-1 6-9 0-2 2-1 0-2 2-1 0-2 4-3 0-2 2-1 0-1 2 0 0-1 4-2 2 0 0-1 2 0 4 1 0 1 4 2 0 2 2 1 2 3 0 2 2 1 0 2 2 2 0 2 2 2 0 2 2 2 0 2 2 1 0 2 2 1 0 2 2 1 0 1 2 1 2 3 2 0 0 1 2 0 0 1 10 2 0 1 2 0 6 3 0 1 2 0 0 1 4 2 0 1 2 0 0 1 4 2 0 1 2 0 0 1 12 3 14 0"/>
<path d="M12 631l6-1 0-1 2 0 0-1 2 0 0-1 4-1 0-1 8-5 2-3 2 0 0-1 2-1 0-1 2-1 0-1 10-9 2-4 2-1 0-1 2-1 0-1 2-1 0-1 2-1 2-3 4-2 0-1 2 0 0-1 2 0 0-1 2 0 0-1 2 0 0-1 2 0 6-3 6-1 0 1 2 0 4 2 0 1 4 3 2 4 2 1 0 2 2 1 2 4 2 1 0 1 2 1 2 3 2 0 2 3 2 0 0 1 8 5 0 1 2 1 0 1 2 1 2 3 2 0 0 1 4 2 0 1 6 1 0 1 4 0 0 1 4 0 12 3 0 1 4 0 0 1 6 0 2 1"/>
<path d="M12 632l28 0 4-1 6-4 0-2 2-1 0-2 2-2 0-2 2-2 0-2 2-2 0-2 2-2 0-2 4-6 0-3 2-3 0-3 2-3 0-4 2-4 0-5 2-4 0-5 2-5 0-5 2-4 0-4 2-3 0-3 2-2 0-2 2-1 2 0 0 1 6 5 0 2 2 1 2 3 0 2 2 2 0 2 2 2 0 3 2 2 0 3 2 3 0 4 2 3 0 3 2 3 0 3 2 3 0 3 2 3 0 3 2 3 0 3 2 2 0 3 2 2 0 2 4 6 2 1 0 1 2 1 0 1 2 1 0 1 2 1 0 1 2 1 2 3 2 0 0 1 2 0 0 1 4 0 0 1 38 0"/>
<path d="M12 632l26 0 4-1 8-4 0-1 2-1 2-4 2-1 0-2 2-2 0-2 4-6 0-3 2-2 0-3 2-3 2-10 2-3 0-4 2-3 0-3 2-3 2-7 4-6 4-2 4 0 0 1 2 0 6 3 0 1 2 1 4 6 0 2 2 2 0 2 2 2 0 2 2 2 0 2 2 1 0 2 2 1 0 2 6 5 6 9 0 2 2 2 0 3 2 2 0 2 2 2 0 2 2 2 0 2 6 8 2 0 0 1 6 2 32 0"/>
<path d="M12 632l10 0 2-1 4 0 0-1 6-1 0-1 2 0 0-1 2 0 0-1 6-1 0-1 8 0 12-3 0-1 6-5 0-2 4-6 0-2 2-3 0-3 2-3 0-3 2-3 0-4 2-3 0-3 2-3 0-3 2-3 0-2 2-2 0-2 2-1 0-2 2 0 0-1 4 0 0 1 2 0 0 1 4 2 2 0 0 1 10 1 0 1 4 3 2 3 0 2 2 2 0 2 6 13 0 3 2 2 0 3 2 3 2 7 2 2 0 2 2 2 0 2 2 3 2 1 0 2 2 1 0 1 2 0 0 1 6 3 4 0 0 1 22 0"/>
<path d="M12 632l14 0 0-1 4 0 0-1 2 0 4-2 0-1 6-5 4-6 0-2 2-1 0-2 2-1 0-2 4-6 2-1 2-4 2-1 2-3 2 0 0-1 6-5 2-4 4-3 0-2 2-1 2-3 6-3 4 0 0 1 6 1 0 1 2 0 0 1 2 0 4 2 0 1 2 0 0 1 4 3 0 2 2 1 0 2 2 1 0 2 2 2 0 2 2 2 0 2 2 2 0 2 2 2 0 2 2 2 0 2 2 2 0 2 2 1 2 4 4 2 0 1 12 6 2 0 0 1 2 0 0 1 4 0 0 1 6 0 0 1 18 0"/>
<path d="M12 632l34 0 4-1 0-1 2 0 0-1 4-3 0-2 2-2 0-2 2-3 0-2 2-4 0-3 2-4 0-4 2-4 0-4 2-4 0-4 2-4 0-4 2-4 0-4 2-3 0-3 2-3 0-3 2-2 0-3 2-2 0-2 2-1 0-2 4-3 4 1 0 2 4 6 0 3 2 3 0 4 2 3 2 10 2 3 0 3 4 6 0 2 4 6 2 1 2 4 2 1 0 2 2 1 0 2 2 2 0 2 2 2 0 2 4 5 0 2 4 6 4 2 6 0 0-1 2 0 0-1 2 0 0-1 6 0 0 1 2 0 0 1 2 0 0 1 2 0 0 1 2 0 0 1 4 1 0 1 4 0 0 1 12 0"/>
<path d="M12 632l10-1 10-5 0-1 4-3 2-4 2-1 6-10 2-1 0-2 2-1 0-2 2-1 2-4 2-1 0-1 2-1 0-1 2-1 2-3 2 0 0-1 4-1 0-1 14-2 0-1 8-2 0-1 10 1 0 1 4 2 0 1 4 3 0 2 2 1 2 4 2 1 0 2 2 1 0 2 2 1 0 2 2 1 0 2 2 1 0 2 2 1 0 1 2 1 0 1 2 1 0 1 2 1 2 3 2 0 0 1 2 0 0 1 2 0 0 1 2 0 0 1 2 0 0 1 2 0 0 1 2 0 0 1 8 2 0 1 14 3 10 0"/>
<path d="M12 631l4 0 0-1 2 0 10-5 0-1 2 0 2-3 2 0 0-1 4-2 0-1 2 0 0-1 4-2 0-1 2 0 0-1 4-2 0-1 6-5 2-4 2-1 0-2 2-1 4-7 4-3 2-4 2-1 0-1 10-9 0-2 2-1 0-1 2-1 2-3 4-2 2 0 6 5 0 2 2 2 0 2 4 8 0 3 2 3 0 3 4 8 0 3 2 3 0 2 2 3 2 7 6 9 2 1 2 3 2 0 0 1 4 1 0 1 4 0 2 1 36 0"/>
<path d="M12 632l38 0 6-3 6-12 0-4 2-4 0-4 2-5 0-5 2-4 0-5 2-5 0-5 2-5 0-4 2-4 0-4 2-4 0-4 2-4 2-10 2-3 0-2 2-2 0-2 2-1 2 1 0 2 2 2 0 2 2 4 0 3 2 3 0 4 2 3 0 3 2 3 0 3 2 2 0 3 2 2 0 3 2 3 0 3 2 3 0 3 2 3 0 4 2 3 0 4 2 3 0 3 4 6 0 2 2 1 2 3 2 0 0 1 4 2 4 6 2 1 0 1 2 1 2 3 4 2 4 1 34 0"/>
<path d="M12 632l14 0 2-1 4 0 0-1 2 0 12-6 8-1 6-3 0-1 2 0 0-1 10-9 0-2 2-1 2-3 0-2 4-6 0-3 4-8 0-3 2-4 0-3 4-8 0-3 2-2 0-2 2-3 4-3 4 0 0 1 4 2 0 1 4 2 0 1 2 0 0 1 4 3 0 2 4 6 0 3 2 2 0 4 2 3 0 3 2 4 0 4 2 4 2 10 2 3 0 3 2 3 0 2 2 2 0 2 2 3 2 1 0 1 8 3 30 0"/>
<path d="M12 632l16 0 0-1 2 0 6-3 0-1 4-3 0-2 8-7 4 0 0 1 2 0 0 1 2 0 0 1 4 1 2 0 0-1 4-1 4-6 0-2 2-2 0-3 2-3 0-3 2-4 0-4 2-3 0-4 2-4 0-4 2-3 0-4 2-4 0-4 2-3 0-4 2-4 0-3 2-3 0-3 2-3 2-1 0-1 4 3 0 3 2 3 0 3 2 3 0 3 2 4 2 10 2 3 0 3 2 2 0 3 2 3 0 3 2 2 0 3 2 4 0 3 2 3 0 3 2 4 0 3 2 3 0 3 2 2 0 3 2 2 0 2 2 1 0 2 2 1 0 1 6 0 4-2 0-1 4-1 0-1 6 0 12 7 4 1 12 0"/>
<path d="M12 631l0-1 4-1 0-1 4-2 2-3 4-2 0-1 2 0 0-1 8 0 0 1 2 0 0 1 8 2 4-1 0-1 2 0 0-1 2 0 0-1 2 0 0-1 2 0 0-1 4-3 2-3 0-2 2-2 0-3 2-3 0-3 2-3 0-4 2-4 0-4 2-4 0-4 2-4 0-3 2-4 0-3 2-4 0-2 2-3 0-2 2-2 0-2 4-1 2 1 4 8 0 3 2 4 0 4 2 4 0 4 2 4 0 4 2 3 0 4 2 3 0 2 2 2 0 2 2 1 2 3 6 1 0 1 6 5 0 2 2 1 0 2 2 1 0 2 2 1 0 2 4 2 0 1 10 1 0 1 2 0 2 3 2 0 0 1 6 3 4 1 20 0"/>
<path d="M12 632l22 0 0-1 2 0 4-2 0-1 4-3 0-2 2-1 0-2 2-1 0-1 2-1 0-1 2-1 2-3 4-2 2-4 4-3 0-2 2-1 0-1 4-2 0-1 4-3 0-2 2-1 0-3 2-2 0-3 2-4 0-4 2-4 0-5 2-5 0-5 2-5 0-5 2-6 0-4 2-4 0-4 2-3 2 1 4 14 0 7 2 6 0 7 2 7 0 7 2 6 0 5 2 6 0 4 2 4 0 4 2 3 0 3 2 2 0 3 2 2 0 2 2 2 0 2 2 3 4 3 4-2 0-2 4-6 2-7 2-3 2-1 0-1 2 0 2 1 0 2 2 1 0 3 2 2 2 7 6 9 2 0 0 1 2 0 0 1 22 0"/>
<path d="M12 632l14-1 0-1 2 0 0-1 2 0 0-1 2 0 0-1 4-2 0-1 2-1 0-2 4-3 0-2 2-1 0-2 2-1 0-2 6-8 0-2 2-1 0-2 2-1 4-6 2 0 0-1 4-2 16 0 0-1 2 0 12-6 8 0 4 2 0 1 6 5 8 12 0 2 2 1 0 2 2 1 0 2 2 1 0 2 2 1 0 1 2 1 0 2 2 1 2 3 2 0 2 3 2 0 0 1 10 5 2 0 0 1 4 0 0 1 6 0 0 1 14 0"/>
<path d="M12 632l22 0 0-1 4 0 0-1 4-1 0-1 6-5 0-2 2-1 0-2 4-5 0-2 2-2 0-3 2-2 0-2 2-2 0-2 2-2 0-2 2-2 0-2 2-1 0-2 2-3 2-1 0-2 2-1 0-1 2-1 2-3 2 0 0-1 4-2 0-1 2 0 0-1 4-2 0-1 2 0 0-1 6-3 4 1 0 1 2 1 2 3 0 2 2 2 0 2 4 8 0 3 2 3 0 3 2 3 2 7 6 9 14 7 0 1 2 0 0 1 2 1 2 3 2 0 2 3 2 0 0 1 4 2 2 0 0 1 4 0 2 1 18 0"/>
<path d="M12 632l18 0 0-1 4 0 0-1 4-1 0-1 6-5 0-2 2-1 2-4 2-1 0-1 2-1 2-3 6-1 6-3 4-6 0-2 2-2 0-2 2-2 0-3 2-2 0-3 2-2 0-3 2-2 0-3 2-2 0-3 2-2 0-2 2-2 0-2 2-2 0-2 2-3 2-1 0-1 2 0 0-1 2 1 0 1 2 1 2 3 0 3 2 3 0 3 2 3 0 3 2 4 0 3 2 4 2 10 2 2 0 3 4 6 2 0 0 1 10-1 0 1 6 5 0 2 4 5 0 2 4 6 2 1 2 3 2 0 0 1 2 0 0 1 4 1 24 0"/>
<path d="M12 632l28 0 8-2 0-1 8-5 0-2 4-3 2-3 0-2 2-1 0-2 2-2 0-2 6-13 0-3 2-3 0-3 2-3 0-3 2-2 0-3 2-3 2-7 2-2 0-2 2-1 2-3 4 0 0 1 2 0 0 1 2 1 0 2 4 3 0 2 2 1 0 1 2 1 2 3 2 0 0 1 2 0 0 1 4 1 0 1 4 3 2 3 0 2 2 2 0 2 2 3 0 3 2 2 0 3 2 3 0 3 2 2 0 3 2 2 0 3 2 2 0 2 2 2 0 2 2 1 2 4 2 0 0 1 8 3 28 0"/>
<path d="M12 632l14 0 0-1 2 0 4-2 0-1 2-1 2-3 6-3 8 1 4-1 0-1 2 0 6-4 4-8 0-3 2-3 0-4 2-3 0-5 2-4 0-4 2-5 0-5 2-5 0-5 2-5 0-5 2-5 0-4 2-4 0-3 2-3 2 0 2 2 0 2 2 3 0 3 2 3 0 4 2 3 0 3 2 2 0 3 2 1 0 2 4 3 4 6 10 32 2 2 0 2 10 15 2 1 0 2 2 1 0 1 2 0 0 1 6 2 38 0"/>
<path d="M12 632l14 0 8-2 0-1 2 0 0-1 4-2 0-1 4-1 0-1 12 0 4-1 0-1 2 0 0-1 2 0 4-6 0-2 2-3 0-4 2-4 0-4 2-5 0-6 2-5 0-6 2-7 0-6 2-5 0-6 2-5 0-4 2-3 0-3 2-2 2 0 0 1 2 1 0 2 2 3 0 3 2 4 0 4 2 4 0 4 2 4 0 4 2 4 0 4 2 3 0 4 2 3 2 7 2 3 2 1 0 2 2 0 2 3 2 0 0 1 2 1 0 1 2 1 0 1 2 1 0 1 2 1 2 3 2 0 0 1 10 0 4 1 0 1 2 0 0 1 6 3 0 1 4 2 0 1 4 2 0 1 4 2 0 1 8 2 8 0"/>
<path d="M12 632l12-1 4-1 0-1 2 0 4-2 0-1 2 0 0-1 4-2 0-1 2-1 0-1 2-1 2-3 4-2 0-2 10-9 2-4 2-1 0-1 2-1 0-1 2-1 0-1 2-1 2-3 2 0 0-1 2 0 0-1 4-1 10 0 0 1 4-1 16 0 4 1 0 1 2 0 0 1 4 1 0 1 4 2 2 3 4 2 2 4 2 1 4 6 2 1 0 2 4 3 0 2 2 1 0 1 2 1 0 1 2 1 0 1 2 1 2 3 2 0 0 1 2 0 0 1 2 0 0 1 8 1 0 1 10 0"/>
<path d="M12 632l12 0 10-2 0-1 2 0 0-1 2 0 0-1 2 0 0-1 2 0 0-1 2 0 0-1 2 0 0-1 2 0 0-1 2 0 0-1 4-1 0-1 4-3 4-6 0-2 2-2 0-2 2-2 0-2 2-2 0-2 2-2 0-2 4-6 0-2 2-1 0-2 2-1 0-1 8-4 0-1 2 0 0-1 4-3 2-4 2-1 2-4 4-2 4 2 2 3 0 2 2 2 0 2 2 3 0 2 2 3 0 2 2 3 2 7 2 2 0 2 2 2 0 2 2 2 0 2 2 1 0 2 2 1 0 2 6 8 0 2 2 1 0 2 4 3 0 2 4 2 0 1 2 0 0 1 2 0 0 1 4 0 0 1 26 0"/>
<path d="M12 632l28 0 4-1 0-1 2 0 0-1 2 0 2-3 4-2 0-1 2 0 0-1 10 1 6-4 6-9 0-2 2-2 0-2 2-3 0-2 2-4 0-3 2-3 0-4 2-4 0-4 2-4 0-5 2-4 0-5 2-4 0-4 2-4 0-4 2-3 0-3 4-3 0 1 2 1 0 3 2 2 0 4 2 3 0 4 2 4 0 5 2 3 0 4 2 3 0 3 4 6 2 1 4-1 2 1 2 3 0 2 2 2 0 3 2 3 0 3 2 4 0 3 2 3 0 3 2 3 0 3 2 3 0 2 2 2 0 2 2 1 2 3 4 2 2 0 0 1 26 0"/>
<path d="M12 632l14-1 0-1 2 0 6-3 0-1 2 0 0-1 8-7 0-2 4-3 0-2 2-1 2-4 2-1 0-2 2-1 0-2 4-5 0-2 2-1 0-2 2-1 0-2 2-1 0-2 2-1 0-1 2-1 2-3 8-4 2 0 0-1 8-1 0-1 2 0 0 1 2 0 4 2 2 4 2 1 0 2 2 1 0 2 2 2 0 2 2 1 0 2 6 9 2 1 2 3 2 0 0 1 8 5 0 1 4 3 2 4 4 3 0 2 6 4 0 1 4 2 2 0 0 1 4 0 0 1 24 0"/>
<path d="M12 632l22 0 2-1 4 0 10-3 0-1 6-1 0-1 2 0 0-1 2 0 4-2 0-1 4-3 2-3 0-2 2-2 0-2 4-8 0-3 2-3 0-4 2-3 0-3 2-3 0-3 2-3 0-3 2-3 0-2 2-2 0-2 2-3 2-1 4 0 0 1 4 3 0 2 2 1 0 2 2 2 0 2 2 1 0 2 2 2 0 2 2 1 0 2 2 3 4 3 0 1 6 3 8 1 0 1 2 0 0 1 4 3 0 2 2 1 0 2 2 1 0 2 2 2 0 2 2 2 0 2 2 1 0 2 4 6 2 1 2 3 2 0 0 1 4 1 4 0 0-1 4 0 0-1 10-2"/>
<path d="M12 632l14-1 0-1 2 0 8-4 0-1 6-4 0-2 4-3 2-4 2-1 0-2 2-1 0-2 2-1 2-4 2-1 0-1 2-1 2-3 4-2 0-1 2 0 0-1 16-4 10 0 0 1 2 0 14 7 2 0 0 1 6 0 0 1 10 1 0 1 2 0 0 1 2 0 0 1 4 2 0 1 10 9 2 4 2 1 2 3 4 2 2 3 2 0 0 1 2 0 0 1 2 0 0 1 2 0 0 1 4 0 0 1 6 0 0 1 2 0"/>
<path d="M12 632l10 0 0-1 6 0 0-1 2 0 6-3 0-1 2 0 2-3 4-2 0-1 4-3 2-4 4-3 0-2 2-1 2-3 0-2 2-1 0-2 2-2 0-2 4-6 0-3 2-2 2-7 2-2 0-3 4-5 0-2 2-1 0-1 2 0 0-1 2 0 4 2 0 2 2 1 0 2 2 1 0 2 2 2 0 2 2 2 0 2 2 1 0 2 2 3 4 3 0 1 8 3 6 0 0 1 2 0 0 1 6 5 0 2 2 1 0 2 2 1 0 2 2 2 0 2 2 1 0 2 6 9 2 1 2 3 2 0 0 1 4 1 0 1 4 0 0 1 26 0"/>
<path d="M12 632l12 0 0-1 8-1 0-1 2 0 10-5 2 0 0-1 10-1 0-1 2 0 4-2 0-1 6-5 6-9 0-2 2-1 0-2 2-2 0-2 4-5 0-2 2-1 0-2 2-2 0-2 2-1 0-2 2-2 0-2 2-2 0-2 2-1 0-2 4-6 4-2 4 2 0 2 2 1 0 2 2 2 0 2 2 2 0 2 2 2 0 2 4 6 6 4 0 1 2 0 0 1 4 3 2 3 0 2 2 1 0 2 2 2 0 2 2 2 0 2 2 2 0 2 2 2 0 2 8 11 2 0 0 1 4 1 0 1 4 0 0 1 18 0"/>
<path d="M12 632l14 0 8-2 0-1 2 0 0-1 2 0 0-1 2 0 0-1 2 0 0-1 4-1 0-1 2 0 0-1 2 0 6-3 0-1 2 0 0-1 2-1 0-2 2-1 0-2 2-1 0-2 2-2 0-3 2-2 0-3 2-2 0-3 2-3 0-3 2-3 0-3 2-3 0-3 2-2 0-3 2-3 0-2 2-2 0-2 2-3 2-1 0-1 2 0 0-1 4 0 0 1 2 0 2 3 2 0 0 1 6 5 0 2 2 1 2 3 0 2 2 1 0 2 2 2 0 2 2 3 0 2 2 2 0 3 2 2 0 3 4 6 0 3 2 2 0 2 4 5 0 2 4 6 2 1 0 2 2 1 2 3 2 0 0 1 4 1 0 1 4 0 0 1 30 0"/>
<path d="M12 632l26 0 0-1 2 0 6-4 0-2 2-1 0-2 4-8 0-3 2-3 0-3 2-3 2-7 4-7 2 0 0-1 10 1 0-1 4-3 0-2 2-1 0-2 2-2 0-2 4-8 0-3 2-4 0-3 2-3 0-3 2-3 0-3 4-6 2 1 4 8 0 4 2 4 0 4 2 5 0 5 2 4 0 4 2 4 0 4 2 4 0 3 2 3 0 3 2 2 0 2 2 3 0 2 2 2 0 2 2 2 0 2 4 5 0 2 2 1 0 2 6 4 0 1 4 0 0 1 40 0"/>
<path d="M12 631l6 0 0-1 8-1 0-1 6-1 0-1 2 0 0-1 4-1 0-1 4-2 0-1 8-7 0-2 2-1 10-16 2-1 2-3 6-3 8 0 2 1 4 0 0 1 12 0 0 1 12 0 0 1 4 0 0 1 2 0 8 4 0 1 2 0 0 1 4 2 0 1 2 1 0 1 2 1 0 1 2 1 0 1 10 9 0 2 2 1 2 3 2 0 0 1 6 4 0 1 8 2 0 1 12 1"/>
<path d="M12 632l10-1 6-3 0-1 2 0 0-1 2-1 0-1 2-1 0-1 2-1 0-1 2-1 0-1 2-1 0-1 2-1 2-3 2 0 0-1 4-1 0-1 10 0 4-2 4-6 0-3 2-2 0-3 2-2 0-3 2-3 0-3 2-2 0-3 2-2 0-2 2-2 0-2 2-1 0-2 10-9 0-2 6-4 4 3 0 2 2 3 0 3 2 3 0 4 2 4 0 4 2 5 0 4 2 5 0 4 2 4 0 3 2 4 0 3 2 2 0 3 4 6 4 2 0 1 2 0 0 1 2 0 0 1 12 6 4 0 0 1 32 0"/>
<path d="M12 632l4 0 0-1 8-1 0-1 10-3 0-1 16 1 0-1 4-1 2-4 2-1 0-2 2-1 0-2 4-6 0-3 2-2 0-2 2-3 0-2 2-3 2-7 2-2 0-3 4-6 0-2 2-1 0-2 2-1 2-3 4-2 6 0 0 1 8 1 0 1 2 0 4 2 0 1 4 3 2 3 0 2 2 2 0 2 2 2 0 3 2 2 0 3 4 8 0 3 2 3 2 7 2 2 0 2 2 2 0 2 2 1 0 2 2 1 2 3 6 3 4 0 0 1 30 0"/>
<path d="M12 632l30 0 0-1 4 0 0-1 2 0 0-1 4-3 4-6 0-2 4-8 0-3 2-3 0-3 2-3 0-3 4-8 0-3 4-6 0-2 2-3 4-3 0-1 4-1 0-1 6 0 0 1 2 0 2 1 0 1 2 0 0 1 4 3 0 2 2 1 0 1 2 1 2 3 2 0 0 1 2 0 0 1 10 0 4 2 2 3 0 2 2 2 0 2 2 2 0 2 4 8 0 3 2 2 0 3 2 2 0 2 6 9 2 0 0 1 8 3 26 0"/>
<path d="M12 632l18 0 0-1 4 0 6-3 0-1 4-3 2-3 0-2 2-1 0-2 2-2 0-3 2-2 0-3 2-2 0-3 4-8 0-3 2-3 2-7 2-2 0-2 4-6 2 0 0-1 6 0 0 1 4 1 0 1 4 2 0 1 4 1 0 1 4 2 2 3 2 0 0 2 4 3 2 4 2 1 0 2 2 1 4 6 4 2 0 1 4 2 2 0 0 1 2 0 0 1 2 0 12 6 0 1 2 0 2 3 2 0 0 1 6 4 2 3 2 0 0 1 6 3 2 0 0 1 6 0 0 1 12 0"/>
<path d="M12 632l30 0 4-1 0-1 6-5 0-2 2-2 0-2 2-2 0-2 2-1 0-2 2-3 2-1 2-3 2 0 0-1 2-1 0-1 2-1 0-1 2-1 0-1 2-1 2-3 8-5 6-12 0-3 2-4 0-5 2-4 0-5 2-5 0-5 2-5 0-4 2-3 0-2 2-1 0-1 2 1 0 2 2 3 0 3 2 4 0 5 4 14 0 5 2 4 0 5 2 4 2 10 2 3 0 2 2 2 0 2 2 2 0 2 2 1 0 2 4 5 0 2 2 2 0 2 2 2 0 2 4 6 2 1 2 3 4 1 32 0"/>
<path d="M12 632l14 0 0-1 6 0 0-1 2 0 12-6 0-1 2 0 0-1 2-1 2-3 2 0 0-2 4-3 0-2 2-1 0-2 2-1 0-2 2-2 0-2 4-6 0-2 2-3 0-2 2-3 0-2 2-3 0-2 2-3 2-7 6-9 2 0 4 2 2 3 0 2 2 1 0 2 2 2 0 2 2 2 0 2 4 6 2 1 0 1 2 1 2 3 4 2 0 1 2 0 0 1 8 7 0 2 6 5 0 2 4 2 2 3 2 0 0 1 8 5 2 3 2 0 2 3 2 0 0 1 6 3 2 0 0 1 4 0 2 1 12 0"/>
<path d="M12 632l10 0 0-1 4 0 14-7 2 0 0-1 2 0 6-3 0-1 2-1 0-2 2-1 0-2 2-2 0-2 4-6 0-3 2-2 0-2 2-3 2-7 2-2 2-7 6-9 0-2 2-1 2-3 8 0 10 4 4 6 0 2 2 2 0 2 2 3 0 2 2 3 0 3 2 2 2 7 6 9 6 4 0 1 2 1 0 1 2 1 0 1 2 1 0 1 2 1 0 1 2 1 2 3 4 2 0 1 8 4 4 1 26 0"/>
<path d="M12 631l2 0 8-4 0-1 2 0 0-1 6-4 0-1 2 0 0-1 6-3 0-1 4-1 0-1 4 0 0-1 2 0 4 1 0 1 2 0 0 1 4 1 0 1 2 0 4-3 2-3 0-2 2-3 0-3 2-3 0-4 2-4 0-4 2-4 0-5 2-4 0-5 2-4 0-4 2-4 0-3 2-3 0-2 2-2 0-2 4 0 4 8 0 3 2 3 2 10 2 3 0 3 2 3 0 3 2 2 0 2 2 2 0 2 2 1 0 2 8 7 0 2 2 1 10 16 2 1 2 3 4 1 0 1 8 0 0-1 2 0 8 2 0 1 2 0 0 1 2 0 0 1 2 0 0 1 8 2 12 0"/>
<path d="M12 632l18 0 4-1 0-1 4-3 8-14 2-1 0-1 10-4 0-1 6-5 0-2 2-1 4-8 0-3 2-4 0-4 2-5 0-5 2-5 0-6 2-5 0-4 2-4 0-4 2-3 0-2 2-1 2 0 2 3 0 2 2 3 0 3 2 3 0 4 2 5 0 4 4 14 0 5 2 4 0 5 2 4 0 4 2 3 0 3 2 2 0 2 2 1 0 1 4 0 0-1 2-1 0-1 2 0 0-1 4 1 0 1 2 1 0 2 2 1 0 2 2 2 0 2 2 2 0 2 2 3 4 3 4 0 6-4 0-1 4-1 0 1 4 1 2 3 2 0 0 1 2 1 0 1 2 0 0 1 4 1 14 0"/>
<path d="M12 632l14 0 0-1 4 0 0-1 2 0 0-1 6-5 0-2 4-6 0-3 2-3 0-3 2-3 0-3 2-3 0-3 2-3 0-3 2-3 2-7 2-2 0-2 6-8 4-2 0-1 4-1 0-1 2 0 4 2 0 1 4 3 4 6 2 0 0 1 2 1 6 1 0 1 2 0 0 1 2 1 2 3 0 2 2 1 0 2 2 3 0 2 2 2 0 3 4 6 0 3 2 2 0 2 2 1 0 2 4 6 2 1 0 2 2 1 2 3 2 0 0 1 4 2 2 0 0 1 4 0 0 1 42 0"/>
<path d="M12 632l6 0 0-1 8-1 0-1 2 0 0-1 2 0 0-1 4-2 0-1 2-1 0-1 2-1 0-1 2-1 0-1 2-1 2-3 4-2 0-1 2 0 0-1 2 0 0-1 8 0 8-3 0-1 4-3 0-2 2-1 0-2 2-2 0-2 2-2 0-2 2-2 0-2 2-2 0-2 4-5 0-2 2-1 2-3 4-1 0 1 2 0 6 4 2 4 2 1 2 4 2 1 0 2 2 1 6 10 2 1 0 2 2 1 0 1 2 1 0 1 2 1 2 3 2 0 0 1 2 0 0 1 8 4 0 1 2 0 0 1 2 1 0 1 2 0 0 1 2 1 2 3 2 0 2 3 2 0 0 1 2 0 0 1 4 1 0 1 8 1 0 1 8 0"/>
<path d="M12 632l26 0 0-1 2 0 4-2 0-1 4-2 0-1 2-1 0-1 2 0 0-1 2 0 4 2 0 1 2 0 0 1 2 1 4 0 2-3 0-2 2-2 0-4 2-3 0-5 2-5 0-5 2-6 0-6 2-6 0-6 2-6 0-5 2-5 0-5 2-4 0-4 2-3 0-3 4-6 2-1 4 1 0 2 2 2 0 2 2 3 0 3 2 4 0 3 2 4 0 3 2 4 0 3 4 8 0 3 2 2 2 7 2 2 0 3 6 13 0 3 2 2 0 2 2 2 0 2 2 1 0 2 10 4 0 1 4 2 0 1 2 1 2 3 2 0 0 1 4 1 26 0"/>
<path d="M12 632l20 0 4-1 2-1 0-1 2 0 4-6 2-1 0-2 4-5 0-2 4-6 0-2 6-13 0-3 2-3 0-3 2-3 2-10 2-2 0-3 2-3 2-7 2-2 0-2 2-2 0-2 6-9 4 0 2 3 0 3 2 3 0 4 2 4 0 5 2 5 0 5 2 5 0 5 2 4 0 5 2 3 0 4 2 2 0 3 2 1 0 2 2 0 0 1 8 0 0 1 2 1 2 3 0 2 2 2 0 2 2 2 0 2 2 2 0 2 2 1 0 2 2 1 0 1 4 2 2 0 0 1 44 0"/>
<path d="M12 630l6-1 0-1 2 0 0-1 2 0 0-1 2 0 0-1 4-2 0-1 2-1 0-1 2-1 0-1 10-9 2-4 4-3 2-4 2-1 2-3 4-2 0-1 2 0 0-1 2 0 0-1 8 0 0 1 2 0 0 1 2 0 0 1 2 0 0 1 2 0 0 1 2 0 0 1 2 0 0 1 2 0 0 1 2 0 0 1 4 0 0 1 22 0 2-1 10 1 0 1 2 0 4 2 0 1 2 0 2 3 2 0 0 1 6 5 2 4 2 1 2 3 4 2 2 3 2 0 0 1 6 3 2 0 0 1 14 2"/>
<path d="M12 632l14 0 0-1 4 0 0-1 4-1 0-1 4-2 0-1 2 0 0-1 4-1 4 1 0 1 2 0 0 1 6 0 0-1 2 0 2-3 0-2 2-2 0-2 2-3 0-2 2-4 0-3 2-3 0-4 2-4 0-3 2-4 0-4 2-3 0-4 2-3 0-4 2-3 0-3 2-3 2-7 2-2 0-2 2-1 2-3 4 0 2 1 2 3 0 2 2 2 0 2 4 8 0 3 2 3 0 4 2 3 0 3 2 3 2 7 14 20 0 2 4 5 0 2 2 1 0 2 2 1 0 2 2 1 0 1 2 1 2 3 8 3 32 0"/>
<path d="M12 632l8-1 10-5 0-1 4-2 0-1 6-3 10-1 0-1 4-1 4-6 0-2 2-2 0-2 2-3 0-3 2-3 0-3 2-3 0-4 2-3 0-3 2-4 0-3 2-3 0-3 2-3 0-2 4-7 2-1 2 0 0 1 2 0 0 1 2 1 0 2 2 1 0 2 8 12 4 2 0 1 4 2 0 1 4 3 0 2 2 2 0 2 2 2 0 2 2 3 0 3 2 2 0 3 2 3 0 2 2 3 2 7 4 5 0 2 2 1 2 3 2 0 0 1 2 0 0 1 4 0 0 1 40 0"/>
<path d="M12 632l12 0 2-1 4 0 0-1 4-1 0-1 4-2 0-1 4-3 2-4 2-1 0-1 2-1 0-1 2-1 0-1 2-1 0-1 2-1 2-3 2 0 0-1 2 0 0-1 2 0 0-1 6 0 4-2 6-9 0-3 2-3 0-3 2-3 0-3 2-4 2-10 2-3 0-3 2-2 0-2 4-3 4 3 0 2 4 6 0 3 4 8 0 3 4 8 0 3 2 2 0 3 2 3 2 7 2 2 0 2 2 2 0 2 2 2 0 2 2 1 0 2 2 1 0 1 4 2 0 1 2 0 0 1 2 0 0 1 2 0 0 1 4 1 0 1 4 1 8 0 0-1 4-1 8 0 0 1 2 0 10 5 2 0"/>
<path d="M12 632l20 0 0-1 2 0 6-3 0-1 2-1 0-1 2 0 2-3 6-3 2 0 0-1 2 0 0-1 4-3 0-2 4-6 0-3 2-3 0-3 2-3 0-4 2-3 0-3 2-3 0-3 2-2 0-2 4-6 2-1 0-2 2-1 0-2 4-8 0-4 2-3 0-4 2-4 0-4 2-3 0-4 4-8 2 0 2 3 0 4 2 4 0 6 2 6 0 8 2 7 0 8 2 8 0 8 2 7 0 6 2 7 0 5 2 5 0 4 2 3 0 3 2 2 0 2 2 3 4 2 2 0 0 1 52 0"/>
<path d="M12 632l10 0 2-1 4 0 0-1 2 0 2-1 0-1 4-1 2-3 4-2 0-1 4-2 2 0 0-1 10 0 0-1 2 0 0-1 6-5 18-27 0-2 2-1 0-2 2-1 0-2 2-1 0-2 2-1 0-2 6-5 4 0 4 3 0 2 2 1 0 2 2 2 2 7 2 2 0 2 2 2 0 2 2 2 0 2 2 2 0 2 2 1 2 4 2 1 0 1 2 1 0 1 2 1 0 1 2 1 2 3 2 0 0 1 2 1 0 1 2 0 0 1 16 2 0 1 4 2 0 1 2 0 2 3 2 0 0 1 8 4 4 0 0 1"/>
<path d="M12 632l6 0 0-1 8-1 0-1 2 0 0-1 2 0 0-1 2 0 0-1 2 0 0-1 2 0 0-1 12-3 0-1 4-1 0-1 6-5 4-6 0-2 2-2 0-3 2-2 0-3 2-2 0-3 2-3 0-3 2-3 0-3 2-3 0-3 2-3 0-3 2-3 0-2 2-2 0-2 4-3 2 0 0 1 2 1 4 6 0 2 2 2 0 2 2 3 2 1 0 2 2 0 0 1 2 1 6 0 0 1 2 0 0 1 2 1 0 2 4 6 0 3 2 3 0 3 2 3 0 3 2 3 0 3 2 3 0 3 2 2 0 2 6 10 6 3 2 0 0 1 38 0"/>
<path d="M12 632l12 0 0-1 4 0 0-1 2 0 2-3 2 0 2-3 4-1 0-1 8 2 0 1 6-1 0-1 2 0 0-1 4-1 0-1 2 0 0-1 2 0 0-1 2-1 6-13 0-4 2-3 0-4 2-4 0-4 4-11 0-4 2-3 0-3 2-3 0-3 2-3 0-3 2-2 0-2 4-6 2 0 0-1 2 0 0 1 4 3 0 2 2 2 0 2 4 8 0 3 4 8 0 3 2 3 0 3 2 3 0 4 2 3 0 4 2 3 0 4 2 4 0 3 2 3 0 3 2 3 0 3 4 6 6 0 0-1 2 0 0-1 6 0 0 1 2 0 2 3 2 0 0 1 2 1 0 1 2 0 0 1 4 0 0 1 22 0"/>
<path d="M12 632l34 0 8-3 6-8 0-2 4-8 0-3 2-3 0-3 2-4 0-3 2-4 2-10 2-3 0-3 2-3 0-2 2-2 0-2 4-3 6 0 2-1 0-1 8-7 2 0 4 6 0 2 2 3 0 3 2 3 0 3 2 3 0 3 2 2 0 3 2 2 0 2 2 1 0 2 2 1 0 2 8 7 0 2 2 1 6 9 0 2 2 1 0 2 2 1 0 2 2 1 0 2 2 1 2 3 2 0 0 1 2 0 0 1 4 1 26 0"/>
<path d="M12 632l24 0 4-1 4-2 2-3 2 0 2-3 2 0 0-1 4-1 4 0 0-1 2-1 2-3 0-2 2-2 0-3 2-3 0-3 2-3 2-7 2-2 0-2 2-3 4-2 0-1 4-3 0-2 2-2 0-3 2-3 0-3 2-3 0-3 2-3 0-4 2-2 0-3 2-2 0-2 2-3 4 1 2 3 0 2 2 2 0 2 2 2 0 2 2 2 0 2 2 2 0 2 4 8 0 3 2 3 0 3 2 4 0 4 2 4 0 4 2 3 0 4 2 3 0 4 2 2 0 3 2 3 0 2 4 6 2 1 0 1 4 2 2 0 0 1 36 0"/>
<path d="M12 632l38 0 0-1 2 0 4-2 4-6 8-7 0-2 2-1 0-2 4-8 0-4 2-3 0-3 2-3 0-2 8-12 0-2 2-2 0-2 2-3 0-3 2-3 0-3 2-3 0-3 2-4 0-4 2-4 0-4 2-4 0-3 2-3 0-2 2-2 2 0 0 2 2 2 0 4 2 4 0 5 2 5 0 6 2 6 0 6 2 6 0 5 2 6 0 5 2 5 0 5 2 4 0 4 2 3 0 3 2 2 0 3 6 9 0 2 2 1 0 2 2 1 0 1 6 3 36 0"/>
<path d="M12 632l12 0 2-1 4 0 0-1 2 0 0-1 2 0 0-1 2 0 0-1 2 0 0-1 2 0 0-1 2 0 0-1 6-1 0-1 4-1 6-9 0-3 2-2 0-2 2-3 0-3 2-2 0-3 2-2 0-2 2-2 0-2 2-1 0-1 2-1 0-1 2-1 2-3 4-2 0-1 8-7 0-2 2-1 0-1 2-1 2-3 2 0 0-1 4 0 0 1 2 1 2 3 0 2 2 2 0 3 4 8 0 3 2 3 0 3 2 3 2 7 2 1 0 2 2 3 10 9 2 4 2 1 0 2 2 1 2 4 2 1 2 3 2 0 0 1 2 0 0 1 4 0 0 1 28 0"/>
<path d="M12 632l28 0 4-1 6-4 4-6 0-2 2-2 0-2 4-8 0-3 2-2 0-3 2-3 0-3 2-3 0-3 2-3 0-3 2-3 0-3 2-3 0-3 2-3 2-7 2-2 0-2 2-1 0-2 2 0 0-1 2 0 0-1 4 1 0 1 4 3 0 2 2 1 0 2 2 2 0 2 2 2 0 2 4 5 0 2 2 1 0 1 2 1 2 3 2 0 0 1 2 1 2 3 0 2 4 6 0 3 2 3 0 3 2 3 0 3 2 3 0 3 2 2 0 3 6 9 4 2 2 0 0 1 40 0"/>
<path d="M12 632l14-1 0-1 2 0 8-4 0-1 2 0 0-1 8-7 4-6 0-2 4-5 0-2 2-2 0-2 2-2 0-2 2-2 0-2 4-6 2-1 2-3 6-3 2 0 0-1 4-1 8 0 4 1 0 1 4 0 0 1 4 0 0 1 4 0 0 1 4 1 0 1 4 3 0 2 2 1 2 3 0 2 2 2 0 2 2 1 0 2 2 2 0 2 2 2 0 2 2 2 0 2 2 2 0 2 2 1 0 2 2 3 2 1 0 1 4 3 0 1 6 3 4 0 0 1 30 0"/>
<path d="M12 632l28 0 4-1 6-3 0-1 2-1 4-6 0-2 2-2 0-2 2-3 0-3 2-2 0-3 2-4 0-3 2-3 0-4 4-11 0-4 2-3 0-4 2-3 0-3 2-3 0-3 2-2 0-2 2-3 2 0 0-1 4 2 0 2 2 1 0 2 2 2 0 3 2 2 0 3 2 2 0 3 2 3 0 3 4 8 0 3 2 3 0 2 2 3 2 7 2 2 0 2 4 6 2 1 2 3 4 2 6 0 0-1 2 0 2-3 2 0 2-3 4-1 6 4 0 2 2 1 2 4 2 1 2 3 2 0 0 1 12-1 12 6"/>
<path d="M12 632l22 0 10-4 0-1 6-5 0-2 2-1 0-2 2-1 0-2 2-2 0-2 2-1 0-2 2-2 0-2 2-1 0-2 2-1 0-2 2-1 0-2 2-1 2-4 2-1 0-2 4-5 0-2 2-2 0-2 2-2 0-2 4-5 0-2 2-3 2-1 0-2 2-1 0-1 4-1 0-1 2 0 0 1 4 1 0 1 4 3 6 9 0 2 4 8 0 3 2 3 0 3 2 3 0 4 2 3 0 4 2 3 0 4 2 3 0 3 2 2 0 3 2 2 0 2 2 1 0 2 2 1 0 1 4 2 2 0 0 1 40 0"/>
<path d="M12 632l12 0 0-1 4 0 0-1 2 0 2-1 0-1 2 0 0-1 4-3 4-6 0-2 2-2 0-2 2-2 0-2 2-2 0-2 2-2 0-3 2-2 0-2 2-2 0-2 2-2 0-2 2-2 0-2 4-6 2-1 0-2 4-2 0-1 2 0 0-1 4 0 4 2 0 1 4 3 2 4 2 1 2 4 2 1 2 3 4 2 0 1 8 2 0 1 4 0 0 1 6 1 0 1 2 0 0 1 4 2 0 1 6 5 2 4 2 1 0 2 2 1 0 2 2 1 2 4 2 1 2 3 4 2 0 1 2 0 0 1 4 1 4 0 0 1 24 0"/>
<path d="M12 628l0-1 2 0 0-1 4 0 2-1 10 0 0-1 2 0 6-3 2-3 4-2 0-1 4-3 0-2 6-5 0-2 2-1 0-2 2-1 0-2 2-1 0-2 2-2 0-2 4-5 0-2 2-2 0-2 2-2 0-2 6-9 2-1 0-1 6 0 0 1 2 1 0 2 2 1 0 2 2 1 0 2 4 6 0 3 2 2 0 2 2 2 0 2 2 1 0 2 4 6 2 1 2 3 2 0 0 1 2 0 0 1 2 0 0 1 2 0 0 1 2 0 0 1 4 2 0 1 4 3 0 2 4 3 4 6 2 0 0 1 6 3 6 0 0-1 4 0 0-1 6-1 0-1 10 0 0 1 6 1 0 1 4 1"/>
</g>
<path d="M11.5 633.0L12.4 633.0 13.4 633.0 14.6 633.0 16.0 633.0 17.5 633.0 19.1 633.0 20.8 632.9 22.6 632.9 24.4 632.9 26.2 632.9 28.0 632.9 29.8 632.9 31.6 632.9 33.3 632.9 34.9 632.9 36.4 632.8 37.7 632.8 39.0 632.8 40.0 632.8 42.9 632.8 44.7 632.8 45.8 632.8 46.6 632.7 47.5 632.4 49.7 631.1 51.5 629.0 53.5 626.4 55.5 622.9 57.5 617.7 59.5 611.5 61.2 605.7 63.4 597.4 64.8 592.0 66.4 585.5 68.1 578.4 69.8 571.6 71.4 565.5 73.2 558.8 74.9 552.6 76.5 547.2 77.8 543.2 79.5 539.9 81.0 540.1 82.3 540.9 83.8 542.6 85.7 546.4 87.1 550.0 88.7 554.5 90.3 559.5 92.0 564.9 93.7 570.3 95.4 576.0 97.1 582.4 98.8 588.7 100.4 594.4 101.7 599.0 103.7 605.0 105.0 608.0 106.5 611.3 108.0 613.3 109.5 613.2 111.0 612.0 112.7 610.3 114.4 608.5 116.1 607.1 118.0 606.0 119.9 605.0 122.4 605.3 123.7 606.3 125.1 607.6 126.7 609.3 128.5 611.3 130.3 613.3 131.8 615.0 133.4 617.0 135.2 619.1 137.0 621.3 138.7 623.2 140.2 624.9 141.5 626.0 143.6 626.7 145.0 626.0 146.5 625.0 147.9 624.3 149.4 623.4 150.9 622.6 152.6 622.5 154.1 623.0 155.7 624.0 157.3 625.2 159.0 626.5 160.6 627.6 162.2 628.6 163.7 629.7 165.2 630.8 166.8 631.7 168.5 632.4 170.1 632.8 171.9 632.9 173.7 633.0 175.4 633.0 176.9 633.0 177.9 633.0" fill="none" stroke="#011f4b" stroke-width="2.5" stroke-linejoin="round" shape-rendering="crispEdges"/>
<path d="M11.5 473V633.5H177.9" fill="none" stroke="#000" stroke-width="1.1"/>
<path d="M29.5 634v3M77.5 634v3M126.5 634v3M174.5 634v3" stroke="#333" stroke-width="1"/>
<text transform="translate(29 651) scale(0.84 1)" class="tk">20</text>
<text transform="translate(77 651) scale(0.84 1)" class="tk">40</text>
<text transform="translate(125.6 651) scale(0.84 1)" class="tk">60</text>
<text transform="translate(174.3 651) scale(0.84 1)" class="tk">80</text>
<text x="11" y="460.6" class="ti">Colegio 9</text>
<path d="M203 552h20" stroke="#011f4b" stroke-width="2"/>
<path d="M203 575.5h19" stroke="#b3cde0" stroke-opacity="0.7" stroke-width="1"/>
<text x="232" y="556" class="ly">y</text>
<text x="232" y="577.8" class="ly">y</text><text x="241" y="581" class="lr">rep</text>
<g fill="none" stroke="#b3cde0" stroke-opacity="0.7" stroke-width="1" shape-rendering="crispEdges" transform="translate(0.5 0.5)">
<path d="M284 631l10-2 3-2 2 0 22-11 13-9 7-7 2-4 4-20 7-83 3-20 2 5 1 8 7 78 3 15 2 4 4 2 7 0 5 2 35 27 6 3 5 4 7 3 2 2 2 0 4 2"/>
<path d="M284 632l33 0 5-2 2-2 4-8 3-9 11-41 3-7 9-15 13-36 2-3 1 0 1 2 2 7 8 59 4 22 4 13 5 10 6 7 3 2 3 0 1 1 42 0"/>
<path d="M284 632l11 0 1-1 6 0 10-4 13-12 9-12 12-11 2 0 4-2 19-1 4-4 3-8 7-36 2-6 1 0 2 5 7 38 4 12 6 7 10 7 21 21 9 5 2 0"/>
<path d="M284 632l21 0 8-3 7-7 12-16 5-10 8-22 5-10 5-5 12-5 3 1 3 3 15 43 4 7 7 7 16 11 10 5 4 0 1 1 19 0"/>
<path d="M284 632l10-1 12-6 2 0 3-2 6-1 7-3 6-7 11-23 6-9 20-15 3 0 5 4 14 28 3 4 10 9 1 0 11 12 4 3 7 3 17-1 1 1 6 1"/>
<path d="M284 632l12 0 1-1 6-1 3-2 6-7 9-16 5-7 6-4 6-1 5-3 5-6 14-21 5-4 4 0 5 6 14 34 8 16 4 6 8 8 5 2 3 0 1 1 30 0"/>
<path d="M284 632l2 0 1-1 5 0 1-1 6-1 7-3 3 0 7-3 4-3 13-14 13-19 11-11 8-10 5-4 5 0 5 5 21 41 7 11 6 7 6 4 6 1 1 1 22 0"/>
<path d="M284 627l5-1 1-1 3 0 1-1 14-1 8-3 12-9 5-5 10-13 9-8 5-1 5 2 10 0 7-3 5 0 5 3 10 12 27 26 10 6 2 0 1 1 5 0 1 1 4 0"/>
<path d="M284 631l14-7 5-1 11-8 5 0 9 7 7 0 2-1 4-5 4-8 13-37 7-13 6-5 4 3 2 4 10 31 3 7 4 6 8 6 4 1 8 4 2 2 10 5 7 5 8 4 8 1"/>
<path d="M284 629l5-3 14-14 1-2 8-7 4-2 22 1 12-6 6-6 8-6 2 0 1-1 7 0 7 4 22 23 1 0 8 8 11 8 6 3 6 1 1 1 13 1"/>
<path d="M284 626l5-2 7 0 1 1 3 0 3 2 2 0 4 2 4 0 1 1 7-2 7-7 4-6 15-29 6-9 8-7 8-4 5 0 7 6 19 36 12 13 10 5 4 0 1 1 14 0 8 3"/>
<path d="M284 632l17 0 8-3 8-8 12-18 7-7 6-3 4-4 5-9 7-17 5-6 4 1 6 5 8 3 3 3 6 15 10 34 4 8 4 4 5 1 1 1 35 0"/>
<path d="M284 632l14 0 1-1 4 0 6-3 4-4 9-16 13-30 7-8 7 0 3 2 2 0 5 3 4 1 7 5 8 8 10 7 5 5 9 13 12 11 16 6 5 0 1 1 13 0"/>
<path d="M284 630l3 0 1-1 8-2 3-2 3 0 1-1 3 0 1-1 3 0 1-1 5-1 6-5 13-20 6-7 6-3 6 0 1-1 6-1 8-5 8 0 6 3 6 5 4 2 10 10 10 16 10 12 5 3 7 1 1 1 14 0"/>
<path d="M284 632l18 0 1-1 4 0 9-5 12-12 8-6 6-7 4-6 13-26 2-3 5-4 3 0 3 2 13 14 11 15 14 23 8 8 5 2 13 1 1 1 3 0 1 1 8 2"/>
<path d="M284 631l7-1 10-5 2-2 4-2 2 0 11-6 29-30 12-7 8-7 2-1 4 0 3 2 4 5 15 24 12 16 10 10 8 4 5 0 1 1 16 0"/>
<path d="M284 626l9-4 4-3 31-32 8-4 7 0 8 4 15 13 10 6 2 0 1 1 6 0 1 1 9 0 1 1 5 1 6 3 21 14 2 0 6 3 12 1 1 1"/>
<path d="M284 632l10 0 5-2 7-7 5-8 6-6 2 0 1-1 6 1 12 8 4-1 3-3 5-11 11-37 2-4 4-4 6 0 4 4 2 3 7 19 4 8 8 9 9 14 4 4 8 3 15 10 3 0 1 1 11 0"/>
<path d="M284 632l38 0 1-1 5-1 4-4 5-9 11-28 11-40 3-9 2-3 2 0 3 4 14 35 9 26 4 7 2 1 1-1 2 0 5-4 4 0 3 3 7 13 5 7 8 4 16 0"/>
<path d="M284 632l24 0 1-1 7-1 5-3 4-4 4-6 5-10 9-23 6-12 3-4 3-2 5 0 5 3 18 19 1 0 20 19 5 3 2 0 8 4 17 14 7 3 4 0 2 1"/>
<path d="M284 628l7 0 1 1 13 0 5-2 11-9 23-28 1 0 6-6 10-7 5-1 1-1 3 0 1 1 5 1 12 6 9 8 14 25 4 6 6 6 6 3 5 0 1 1 16 0"/>
<path d="M284 632l6 0 1-1 4 0 1-1 5-1 16-8 14-4 6-4 13-17 10-15 9-16 7-6 3 1 5 6 22 47 4 6 7 7 6 1 11-4 5 0 10 4"/>
<path d="M284 628l1-1 5-1 7-4 5-5 1 0 17-18 6-4 2 0 3-2 6-1 1-1 10-1 1 1 4 0 13 5 14 0 1-1 8 0 1 1 2 0 5 3 25 25 3 2 9 4 15 2"/>
<path d="M284 632l28 0 5-2 3-3 6-10 5-5 4 1 5 4 4-3 7-17 5-16 9-62 1-5 2-4 2 5 9 57 4 14 3 6 4 4 7 0 1-1 3 0 3 3 8 23 5 9 4 2 28 0"/>
<path d="M284 632l15 0 1-1 3 0 4-2 13-14 4-2 4 1 11 9 3 0 3-3 4-10 3-12 10-50 2-5 2-2 2 1 3 6 10 32 4 8 6 5 10 0 2 1 4 4 13 24 7 7 8 3 14 0"/>
<path d="M284 632l9-1 1-1 3 0 1-1 5-1 16-8 4-4 4-6 17-36 2-3 5-4 7 1 2 2 17 8 6 6 15 28 7 8 6 3 10 2 12 5 9 1 1 1 6 0"/>
<path d="M284 632l9-2 13-7 14-3 6-6 3-5 15-34 2-3 7-6 9 1 8 4 5 6 12 23 5 4 6 1 4 2 16 21 3 2 6 1 1 1 21 0"/>
<path d="M284 632l20 0 1-1 4 0 4-2 9-9 9-11 8-5 9-9 20-29 5-4 4 0 5 3 10 10 6 11 10 26 5 10 4 5 7 4 4 0 1 1 20 0"/>
<path d="M284 632l1-1 5 0 1-1 2 0 4-2 3 0 1-1 3 0 1-1 7 0 1-1 2 0 4-2 5-5 7-5 10-10 20-37 6-6 5 0 3 2 5 7 14 33 5 8 3 3 5 2 7 0 1 1 2 0 6 4 6 6 9 5 11 1"/>
<path d="M284 631l5 0 1-1 5-1 6-4 4-4 10-15 14-26 6-8 4-3 5 0 2 1 7 8 7 12 7 7 2 1 13 0 1 1 2 0 4 3 12 15 9 8 4 2 4 0 1 1 16 0 1 1 4 0 1 1 8 1"/>
<path d="M284 632l7 0 1-1 10-1 7-3 7-5 9-10 20-30 3-3 6-3 3 0 5 2 15 13 13 9 26 13 15 10 10 4 6 0 2 1"/>
<path d="M284 626l5 0 5-2 12-12 4-2 7 0 8 3 2 0 4-2 6-10 8-23 5-11 3-3 4 0 2 1 16 16 10 13 16 25 4 5 6 5 5 2 3 0 1 1 29 0"/>
<path d="M284 632l33 0 5-2 3-3 4-8 10-40 3-10 3-6 2-1 5 0 2 1 5-3 1-2 6-5 4 1 4 6 11 27 10 21 6 9 7 7 7 5 5 2 3 0 1 1 25 0"/>
<path d="M284 632l36 0 1-1 5-1 5-5 5-9 12-33 5-10 6-7 8-4 5 0 6 3 8 1 4 3 7 13 14 37 4 7 4 4 5 1 1 1 24 0"/>
<path d="M284 628l11-1 1-1 18-1 1-1 4 0 7-3 9-8 15-22 7-7 4-2 12-2 4-2 6-5 6-2 4 2 4 5 12 27 10 18 4 4 8 4 4 0 1 1 13 0"/>
<path d="M284 631l8-2 7-4 2 0 5-3 5-1 7-4 6-6 10-14 5-5 8-5 13-12 4-2 5 0 4 2 22 22 16 21 9 9 5 3 7 1 1 1 16 0"/>
<path d="M284 629l17-2 8-3 6-5 11-14 11-11 15-10 8-4 4 0 2-1 1 1 6 1 17 9 7 7 15 22 6 5 7 3 4 0 1 1 5 0 1 1 4 0 1 1 5 0 1 1 2 0"/>
<path d="M284 632l12 0 1-1 7-1 12-6 7-7 7-14 13-34 5-10 4-4 3 0 6 4 17 19 7 13 12 30 7 8 8 0 1-1 7-1 1-1 1 1 4 0 10 4 4 0 1 1 8 0"/>
<path d="M284 632l23 0 1-1 5 0 6-3 2 0 4-3 3-1 9-10 6-12 11-28 4-7 5-5 2 0 1-1 4 0 6 4 10 14 13 13 13 23 8 9 5 1 1 1 8 1 11 4 4 0"/>
<path d="M284 632l13-1 13-5 6-4 16-16 4-2 4 0 1 1 9 0 4-3 18-24 9-9 2-1 5 1 4 4 17 31 7 10 6 6 15 8 2 0 3 2 7 1"/>
<path d="M284 632l10-1 7-3 3-2 19-19 13-8 12-11 15-6 10-10 4-2 3 1 4 4 16 33 7 10 8 8 7 4 3 0 1 1 8 0 1-1 14-2"/>
<path d="M284 632l22 0 1-1 4 0 9-5 8-10 14-29 3-4 5-4 8-4 6-6 7-5 7 0 5 4 7 13 6 15 7 14 9 11 1 0 6 6 8 4 4 0 1 1 17 0"/>
<path d="M284 632l24 0 7-3 5-5 15-22 4-8 11-34 4-9 3-3 1 0 4 4 3 6 16 43 6 10 2 1 3-1 8-9 2-1 4 0 4 4 9 15 8 9 8 3 14 0"/>
<path d="M284 632l1-1 7-1 8-5 8-10 9-9 2 0 1-1 6 0 5 2 4 0 4-2 6-6 12-15 4-3 7-3 8 0 9 5 15 16 13 17 11 11 9 4 4 0 1 1 11 0"/>
<path d="M284 632l14 0 1-1 3 0 10-5 12-3 5-3 11-11 18-28 7-7 4-7 7-18 3-4 2 0 3 4 13 47 4 9 4 6 11 11 12 8 6 1 1 1 14 0"/>
<path d="M284 632l16 0 1-1 4 0 5-2 8-8 4-6 14-28 7-11 7-5 3 0 5 2 8 6 13 6 4 3 6 6 7 9 14 14 6 4 4 2 2 0 5 3 2 0 10 4 10 1"/>
<path d="M284 629l12-6 16 1 5-2 4-3 7-8 17-26 4-4 4-2 9 0 1 1 10 0 6 3 11 11 1 2 18 12 18 19 9 4 4 0 1 1 8 0"/>
<path d="M284 631l4 0 13-5 3 0 11 4 3 0 6-3 4-4 8-12 16-35 5-5 3-1 4-4 7-13 2-2 3 0 4 7 7 22 7 15 7 8 13 22 4 4 8 3 23 0"/>
<path d="M284 631l6-1 7-3 4 0 1-1 4 0 1-1 5-1 8-8 12-18 6-6 10-5 7-7 11-19 2-2 3 0 4 4 4 8 10 25 6 12 4 6 6 6 3 2 2 0 3 2 5 1 3 2 2 0 3 2 2 0 4 2 5 0 1 1 11 0"/>
<path d="M284 632l5 0 1-1 5 0 1-1 2 0 12-8 20-19 19-27 7-5 5 0 16 7 9 10 12 22 3 4 6 5 28 12 14 1"/>
<path d="M284 632l40 0 1-1 2 0 3-3 5-12 6-23 3-8 3-2 4 2 3-3 4-17 5-29 2-7 2-2 4 10 11 44 3 6 3 3 2 0 5 3 4 6 9 18 10 10 6 4 2 0 1 1 22 0"/>
<path d="M284 632l20 0 5-2 6-7 8-17 3-4 3 0 1 1 6 11 4 5 4 0 2-2 3-5 4-11 14-55 4-12 3-5 3 0 4 9 14 67 5 15 4 4 6 0 1 1 2 0 7 5 5 1 1 1 23 0"/>
<path d="M284 632l10-1 1-1 4 0 1-1 14-2 1-1 7-1 7-4 7-8 15-29 4-6 3-3 2 0 1-1 1 1 2 0 7 7 5 7 4 4 4 2 7 0 11-4 8 2 5 4 15 21 9 9 3 2 7 2"/>
<path d="M284 632l35 0 5-2 3-3 3-5 5-15 12-53 2-6 4-6 3 2 11 26 3 2 5-2 5 0 4 5 7 15 9 23 5 10 6 7 5 1 1 1 32 0"/>
<path d="M284 632l19 0 1-1 3 0 7-4 6-7 21-32 12-7 13-21 2-2 2 0 1-1 4 2 6 8 7 16 9 25 4 8 6 7 10 4 3 0 3 2 2 0 4 2 5 0 1 1 14 0"/>
<path d="M284 632l11 0 1-1 4 0 8-4 5-5 14-21 8-9 9-5 2 0 16-8 9 0 4 2 14 11 9 4 9 9 12 18 7 6 5 2 4 0 1 1 13 0"/>
<path d="M284 632l29 0 8-3 5-6 15-33 7-6 5 0 1-1 2 0 6-6 8-14 5-4 1 1 2 0 5 6 15 25 15 29 8 9 8 3 20 0"/>
<path d="M284 632l15 0 1-1 3 0 5-2 4-3 18-19 8-3 3-3 3-5 18-43 3-6 3-3 3 2 2 4 8 31 5 15 3 6 14 20 4 4 5 1 8-6 2-1 4 0 12 10 5 1 1 1 5 0"/>
<path d="M284 630l5-1 4-2 4 0 1-1 12-1 11-5 20-15 13-15 4-4 1 0 16-17 2-1 5 2 3 4 15 32 7 8 5 1 1 1 2 0 1-1 9 0 1 1 2 0 6 4 9 8 4 2 2 0"/>
<path d="M284 629l8-2 24-12 2-2 12-6 21-15 4-2 7-1 1-1 1 1 6 0 10 4 3 0 1 1 3 0 4 2 6 1 10 6 12 11 7 5 6 3 17 5"/>
<path d="M284 632l7 0 1-1 11-1 4-2 3 0 11-5 9-8 10-13 8-8 6-4 9-4 12-10 4-2 5 0 2 1 7 7 17 25 12 12 14 9 6 1 1 1 6 0"/>
<path d="M284 632l18 0 1-1 4 0 4-2 8-9 17-35 5-8 7-8 6-3 5 1 3 2 9 11 8 8 12 6 6 8 9 16 6 6 4 2 4 0 1 1 7 1 8 3 13 1"/>
<path d="M284 632l10-2 11-4 15 0 1-1 4 0 8-4 6-8 15-31 5-5 8-2 12-14 4 0 2 2 16 33 22 29 9 6 4 0 1 1 12 0"/>
<path d="M284 632l13 0 1-1 3 0 14-8 11-2 5-4 5-8 11-22 13-34 8-9 3 0 4 5 12 41 4 7 6 7 12 23 3 3 5 2 32 0"/>
<path d="M284 630l5-1 1-1 24 0 8-3 7-7 8-17 11-31 4-7 3-2 3 0 17 19 4 2 2 0 8 5 5 7 13 24 7 8 4 2 22 0 1 1 8 1"/>
<path d="M284 632l11 0 1-1 7-1 8-5 11-9 4-2 2 0 5-3 4-4 4-6 13-33 4-7 2-1 3 0 4 4 5 9 15 35 6 7 5 0 8-5 6 0 9 5 2 0 4 2 10 1 6 3 6 5"/>
<path d="M284 632l24 0 1-1 5 0 1-1 2 0 7-4 5-5 7-10 14-25 7-7 2 0 1-1 14 1 1 1 3 0 8 4 17 15 13 6 6 4 12 11 6 4 9 4"/>
<path d="M284 631l6-1 8-4 2 0 23-13 11-11 11-16 8-8 5-2 8-1 7-4 5 0 4 4 4 8 8 21 7 12 8 4 5 0 1 1 5 1 12 7 2 0 4 2 11 1"/>
<path d="M284 632l22 0 1-1 3 0 7-4 6-8 21-43 4-6 3-3 4-2 2 0 4 2 3 3 12 21 4 4 5 1 9-4 5 2 3 3 15 24 6 6 5 3 7 1 1 1 13 0"/>
<path d="M284 632l20 0 1-1 4 0 8-6 7-10 4-4 4-2 4 0 5-4 6-15 9-32 4-7 2 0 3 3 8 19 6 10 4 3 2 0 7 3 7 7 16 26 7 7 4 2 4 0 1 1 18 0"/>
<path d="M284 629l5-2 9-6 4-4 16-12 15-10 3-1 12-9 6-3 6-1 1 1 5 1 6 4 21 19 6 4 7 3 2 2 7 3 8 6 16 7 10 1"/>
<path d="M284 632l2 0 1-1 5 0 1-1 3 0 5-2 23 0 2-1 5-5 5-9 14-40 5-9 3-2 2 0 6 6 9 12 7 4 4 1 4 3 17 22 8 5 5 1 8 4 9 7 6 3 6 1"/>
<path d="M284 630l4-1 14-8 21-17 16-11 2 0 4-2 8 0 1-1 11 0 1-1 6 0 1-1 8 0 1 1 7 1 10 7 16 20 10 9 12 5 12 1"/>
<path d="M284 632l12-1 6-3 14-13 4-6 11-22 2-3 12-11 10-22 4-4 2 1 5 12 12 48 4 9 5 5 5 0 1-1 3 0 5-2 11-1 5 2 8 7 7 4 3 0 1 1 13 0"/>
<path d="M284 632l15 0 1-1 3 0 4-2 7-7 6-8 13-12 12-14 6-11 7-18 4-6 4 0 2 2 15 21 5 10 10 27 6 11 5 5 8 3 32 0"/>
<path d="M284 632l17 0 1-1 7-1 3-2 2 0 4-2 11 0 2-1 5-6 5-10 12-30 8-16 2-3 5-4 4 1 8 8 9 11 14 21 12 24 8 9 5 1 1 1 20 0"/>
<path d="M284 632l26 0 5-2 5-5 15-34 13-12 11-18 5-4 7 0 2 1 7 9 7 16 10 27 6 12 5 6 5 3 3 0 1 1 32 0"/>
<path d="M284 632l16 0 1-1 4 0 7-5 3-4 6-12 10-26 8-17 3-4 3-2 4 0 5 3 15 15 6 4 6 6 4 6 12 25 5 7 5 3 8 0 8-3 8 0 11 4 5 0 2 1"/>
<path d="M284 632l14 0 1-1 4 0 7-4 11-10 5-3 7-2 6-5 5-7 5-10 12-38 3-6 2-1 3 3 2 5 12 36 5 10 3 4 2 2 5 2 7 0 2 1 12 13 10 7 11 4 9 0"/>
<path d="M284 632l10 0 1-1 4 0 7-3 7-7 4-6 12-23 4-6 5-4 5 0 12 6 3 0 1 1 17 0 1 1 3 0 1 1 3 0 4 2 3 0 1 1 5 1 5 3 4 4 12 17 8 8 8 4 15 1"/>
<path d="M284 632l2-1 9-1 11-5 12-11 8-10 7-5 9-2 7-4 20-20 4-2 5 0 7 6 11 20 9 14 13 13 10 6 8 1 1 1 12 0"/>
<path d="M284 631l13-3 11-6 28-30 7-3 14-1 1-1 9-1 1-1 7 1 5 3 20 20 3 2 8 4 2 0 1 1 35 11"/>
<path d="M284 632l8-1 6-3 8-6 6-3 5-1 8-5 13-14 5-8 10-20 5-4 4 1 8 7 11 5 7 7 13 20 7 9 6 7 7 6 5 2 3 0 1 1 19 0"/>
<path d="M284 631l13-4 17-10 4-3 13-13 1-2 7-6 5-1 1-1 6 0 1 1 9-1 6-3 10-7 2 0 1-1 5 0 7 5 17 26 9 10 9 6 2 0 3 2 6 1 1 1 10 1"/>
<path d="M284 632l11 0 1-1 5 0 1-1 5-1 5-3 9-9 15-25 8-9 6-2 1 1 4 0 1 1 4 0 2 1 1-1 3 0 6-4 5-1 1-1 5 2 4 4 19 27 11 12 8 4 4 0 1 1 5 0 1 1 4 0 1 1 8 1"/>
<path d="M284 632l15 0 1-1 3 0 12-6 5-1 5-4 13-31 2-2 3 0 3 2 4-2 3-7 7-28 2-6 3-4 2 1 2 4 9 34 4 12 5 9 5 3 2 0 4 2 10 9 2 0 7 3 8 8 6 4 3 0 1 1 14 0"/>
<path d="M284 630l8-3 3 0 1-1 17-2 7-3 20-19 6-8 13-21 4-4 5-1 4 2 23 22 6 8 11 18 4 4 7 4 3 0 1 1 6 1 8 3 6 0 2 1"/>
<path d="M284 632l16 0 1-1 7-1 6-3 8-9 17-29 5-5 8-3 2 0 1 1 6 0 1 1 3 0 1 1 5 1 8 5 15 12 8 4 23 7 8 4 13 9 3 1"/>
<path d="M284 627l8 3 8 1 1-1 5-1 5-4 11-15 15-17 12-32 2-3 3-2 2 1 2 3 12 27 5 7 5 5 20 12 6 1 7 3 7 8 8 7 6 1 1 1 14 0"/>
<path d="M284 632l17 0 1-1 3 0 6-3 6-6 4-6 14-28 4-3 6 0 3-3 2-4 8-26 3-7 2-2 3 2 2 4 11 44 5 10 3 3 7 3 30 21 6 1 1 1 18 0"/>
<path d="M284 632l16 0 1-1 7-1 5-3 7-7 15-20 10-10 12-17 6-5 5 1 4 4 10 14 7 7 1 0 13 11 14 9 15 13 9 4 8 1"/>
<path d="M284 632l36 0 5-2 6-6 7-13 13-37 4-8 6-7 4-8 7-19 2 0 2 5 9 49 4 13 1 1 4 0 3-2 2 0 3 3 11 24 2 3 4 3 2 0 1 1 27 0"/>
<path d="M284 632l16 0 1-1 3 0 9-8 7-11 3-3 2-1 13 1 7-8 16-37 2-3 10-9 5 0 3 3 3 6 13 51 3 8 4 7 3 2 7 0 4-2 7-1 12 5 12 1"/>
<path d="M284 632l11-1 6-3 6-5 5-2 5 0 1 1 4 0 2-1 3-3 5-10 8-23 3-7 4-6 5-3 5 0 5-2 4-5 5-4 2 0 3 3 2 4 12 39 7 15 4 4 4 2 8 1 7 3 10 0 4-2 10 0 5 2"/>
<path d="M284 632l13 0 1-1 4 0 7-4 2 0 4-2 6 0 2-1 6-7 7-17 3-6 2-2 3 0 9 10 2 0 2-2 5-13 9-40 4-8 2 1 2 5 10 47 4 13 3 6 3 2 3 0 5-4 5-2 2 1 18 19 7 4 10 1"/>
<path d="M284 632l18 0 1-1 7-1 5-3 5-5 5-7 20-40 4-6 5-4 2 0 4 2 9 12 6 6 10 6 11 11 1 2 11 10 6 4 5 2 2 2 2 0 3 2 2 0 3 2 2 0 4 2 3 0 1 1 8 2"/>
<path d="M284 632l24 0 1-1 7-1 5-3 7-7 18-25 8-9 13-13 9-6 5 1 6 6 7 10 11 13 11 16 12 12 8 5 7 1 1 1 5 0"/>
<path d="M284 627l2-1 3 0 1 1 10 0 5-3 9-8 10-6 7-7 3-5 14-36 4-5 4 0 4 5 4 8 9 23 6 11 5 1 7-4 3 1 5 6 8 15 6 6 8 0 4-2 10 0 10 4 4 0"/>
<path d="M284 630l2 0 1-1 5 0 1-1 14-1 7-3 7-7 11-17 8-9 5-2 14 0 12-6 2 0 1-1 6 0 5 2 8 7 1 0 17 17 1 2 14 13 9 5 2 0 4 2 3 0 1 1 4 0"/>
<path d="M284 632l18 0 10-4 8-10 15-25 19-22 4-4 5-3 4 0 4 3 4 6 11 23 4 6 6 6 6 3 7 2 15 14 7 4 4 0 1 1 13 0"/>
<path d="M284 632l7 0 1-1 9-1 1-1 17-5 7-4 8-8 8-11 11-11 4-2 6-6 10-15 5-5 5 0 6 7 5 10 10 25 3 6 6 8 4 3 4 2 2 0 5 3 2 0 5 3 14 3"/>
<path d="M284 628l1-1 10-2 1-1 13-1 10-5 14-14 10-6 8-8 12-19 4-4 5-1 4 2 3 3 10 13 8 13 11 21 7 9 7 4 4 0 1 1 22 0"/>
<path d="M284 632l11 0 1-1 4 0 6-3 10-8 4-2 6-6 11-18 7-7 3-1 7-7 9-16 4-6 4-4 5 1 5 9 12 40 7 14 10 10 8 4 3 0 1 1 27 0"/>
<path d="M284 630l1-1 3 0 5-2 8-1 1-1 5-1 7-4 10-11 16-24 9-6 7 0 1 1 5 1 20 10 6 4 24 25 9 5 9 1 1 1 14 0 1 1 3 0"/>
<path d="M284 632l7 0 1-1 7-1 15-9 10-9 1 0 22-23 14-23 5-5 4 0 7 8 17 37 8 10 6 4 2 0 3 2 2 0 4 2 11 1 1 1 3 0 1 1 14 4"/>
<path d="M284 632l25 0 1-1 4 0 6-3 6-6 12-18 8-8 4-2 6-1 6-5 12-22 5-6 4 0 2 1 4 5 5 10 10 25 4 8 5 7 6 4 11 3 11 6 8 2"/>
<path d="M284 632l36 0 5-2 4-4 4-8 12-34 8-9 4-2 5-1 4-3 9-18 2-2 2 0 3 6 9 36 6 15 5 4 5 0 6 3 6 7 11 10 6 1 1 1 12 0"/>
<path d="M284 629l4-2 2 0 9-5 2 0 7-4 2 0 10-5 2-2 7-3 2-2 7-3 9-6 19-18 6-4 2 0 1-1 5 0 9 8 17 29 12 13 7 4 2 0 4 2 10 1 1 1 7 0"/>
<path d="M284 628l2-1 7 0 9-4 13-12 6-4 4-1 15-8 4-4 1 0 17-18 4-2 3 0 4 2 4 4 15 21 16 15 9 5 2 2 12 6 6 1 1 1 11 1"/>
<path d="M284 632l9-1 1-1 5-1 11-6 18-12 8-8 4-6 15-33 4-4 3 0 3 3 8 18 6 11 4 3 6 0 1-1 4 0 2 1 6 6 11 18 6 7 9 5 4 0 1 1 16 0"/>
<path d="M284 628l9-4 4-3 2 0 4-2 17 0 8-3 22-20 10-7 19-19 4-1 2 1 6 7 12 25 7 11 10 10 4 3 11 5 14 1"/>
<path d="M284 632l25 0 8-3 7-9 14-31 9-16 3-2 8 0 2-1 3-3 6-10 4-3 2 0 6 8 4 11 9 33 6 15 5 5 10 0 1 1 3 0 3 2 2 0 4 2 4 0 1 1 16 0"/>
<path d="M284 631l7-3 9-7 5-2 21-1 10-4 7-7 5-10 7-20 5-10 4-3 2 0 4 2 8 8 14 26 23 25 7 0 10-5 9 0 8 5"/>
<path d="M284 632l12-1 12-6 12-11 16-25 5-6 8-4 5-1 9-6 5-1 1-1 5 1 4 2 8 8 7 13 12 27 7 8 4 2 4 0 1 1 28 0"/>
<path d="M284 631l10-2 12-6 26-24 10-5 2-2 9-4 2-2 14-6 9 0 4 2 10 10 10 13 9 9 1 0 11 10 11 6 9 1 1 1 5 0"/>
<path d="M284 632l21 0 1-1 6-1 5-3 2 0 4-2 7-1 3-3 6-14 12-47 3-8 3-4 2 0 13 15 11 18 13 14 13 23 4 6 5 5 8 3 23 0"/>
<path d="M284 632l15 0 1-1 3 0 1-1 2 0 9-7 4-2 11 0 5-4 3-6 4-12 9-38 3-10 3-6 3 0 1 1 4 8 7 20 4 7 21 20 7 4 3 3 9 14 8 8 5 1 1 1 19 0"/>
<path d="M284 632l11-2 8-4 4-4 1 0 21-23 10-16 7-8 4-1 5 2 8 0 8-4 4 1 4 4 16 32 12 13 10 7 2 0 4 2 4 0 1 1 21 0"/>
<path d="M284 630l15 1 1-1 3 0 5-2 14-13 9-11 7-5 16-5 20-14 2 0 1-1 8 0 7 4 7 7 20 28 8 8 7 4 9 1 1 1 5 0"/>
<path d="M284 632l20 0 1-1 3 0 5-2 9-10 19-37 11-16 6-5 4 0 4 3 13 25 4 6 6 6 18 10 19 17 6 3 4 0 1 1 12 0"/>
<path d="M284 632l15 0 1-1 4 0 6-3 10-11 7-12 10-14 15-14 8-4 4 0 7 4 19 20 14 8 23 21 3 1 2 2 2 0 4 2 11 1"/>
<path d="M284 632l26 0 1-1 4 0 4-2 6-6 4-6 13-23 8-8 12-6 4-4 5-8 6-7 4 0 3 3 3 6 10 29 7 12 4 2 7 0 1 1 2 0 16 14 6 3 9 1"/>
<path d="M284 632l13 0 1-1 6-1 5-3 19-25 4-2 3 0 1-1 5-1 6-6 10-17 4-3 4 0 2 1 16 17 6 4 4 1 7 4 23 23 14 8 12 2"/>
<path d="M284 631l6 0 1-1 5-1 8-5 8-8 12-16 6-6 8-4 8 0 1 1 4 0 1 1 4 0 1 1 25 0 1 1 3 0 1 1 5 1 11 7 17 15 6 4 11 5 12 1"/>
<path d="M284 632l24 0 1-1 4 0 9-5 3-3 6-10 10-30 5-11 4-3 10-2 12-12 2-1 3 0 4 6 11 41 6 14 2 2 7 3 9 8 6 3 3 0 1 1 23 0"/>
<path d="M284 632l2-1 5 0 9-4 9-9 14-21 8-8 5-2 5 0 5 2 13 0 5-2 9 0 1 1 2 0 7 4 12 9 16 15 8 6 9 4 21 4"/>
<path d="M284 632l8-1 1-1 5-1 6-3 2-2 9-4 2-2 3-1 2-2 9-5 5-5 6-9 14-30 2-3 5-4 3 0 5 4 5 10 9 24 3 5 4 4 11 2 4 2 3 2 15 15 7 4 4 0 1 1 12 0"/>
<path d="M284 632l1-1 5 0 1-1 6-1 10-5 2 0 7-4 16-5 3-2 6-7 16-35 3-4 4-2 5 2 2 2 17 26 11 12 6 3 14 2 7 4 12 10 3 1 2 2 2 0 4 2"/>
<path d="M284 627l1-1 16 0 1-1 7 0 1-1 3 0 1-1 5-1 11-7 14-13 11-7 6-1 1-1 8 0 1-1 4 0 1-1 5-1 9-5 7-1 5 2 8 8 11 16 12 13 8 5 2 0 3 2 3 0"/>
<path d="M284 631l7-1 6-3 4-4 1 0 21-22 3-1 2-2 13-4 1-1 3 0 7-3 10-2 1-1 14 0 1 1 5 1 5 3 14 14 1 2 13 12 4 2 15 3 1 1 2 0 7 3 3 0 1 1"/>
</g>
<path d="M284.3 632.1L285.3 632.1 286.7 632.0 288.3 632.0 290.1 631.9 292.0 631.8 293.7 631.6 295.3 631.3 296.9 630.9 298.5 630.5 300.0 630.0 301.4 629.4 302.9 628.6 304.4 627.5 305.9 626.2 307.5 624.6 309.0 622.8 310.5 620.9 312.1 618.8 313.6 616.8 315.1 614.7 316.7 612.5 318.2 610.2 319.7 607.8 321.3 605.4 322.8 603.0 324.3 600.5 325.9 597.9 327.4 595.3 328.9 592.6 330.5 590.1 332.0 587.7 333.6 585.4 335.1 583.1 336.7 580.9 338.2 578.8 339.8 577.0 341.2 575.4 342.8 573.9 344.4 572.6 345.9 571.7 347.4 571.1 348.9 570.8 350.4 570.8 351.9 571.2 353.3 571.9 354.9 572.8 356.5 573.9 357.9 575.0 359.4 576.3 361.0 577.8 362.6 579.5 364.1 581.2 365.7 583.1 367.2 585.2 368.8 587.4 370.3 589.9 371.8 592.3 373.4 594.6 374.9 596.8 376.4 598.9 378.0 600.9 379.5 602.9 381.0 604.7 382.6 606.3 384.1 607.6 385.6 608.5 387.2 609.2 388.7 609.6 390.2 609.8 391.8 609.9 393.3 609.9 394.8 609.8 396.3 609.5 397.9 609.1 399.4 608.6 400.9 608.1 402.4 607.6 403.9 607.0 405.5 606.3 407.0 605.6 408.5 605.0 410.1 604.6 411.6 604.5 413.1 604.8 414.7 605.3 416.2 606.0 417.7 606.9 419.3 608.0 420.8 609.1 422.3 610.4 423.9 611.9 425.4 613.5 426.9 615.2 428.5 616.8 430.0 618.3 431.5 619.7 433.1 621.1 434.6 622.4 436.1 623.6 437.7 624.8 439.2 625.9 440.8 626.9 442.6 627.8 444.3 628.7 446.0 629.4 447.4 630.0 448.4 630.5 449.4 630.9 449.2 630.8" fill="none" stroke="#011f4b" stroke-width="2.5" stroke-linejoin="round" shape-rendering="crispEdges"/>
<path d="M284.3 473V633.5H449.2" fill="none" stroke="#000" stroke-width="1.1"/>
<path d="M291.5 634v3M345.5 634v3M399.5 634v3" stroke="#333" stroke-width="1"/>
<text transform="translate(291.1 651) scale(0.84 1)" class="tk">20</text>
<text transform="translate(345 651) scale(0.84 1)" class="tk">40</text>
<text transform="translate(398.9 651) scale(0.84 1)" class="tk">60</text>
<text x="283.8" y="460.6" class="ti">Colegio 10</text>
<path d="M475.8 552h20" stroke="#011f4b" stroke-width="2"/>
<path d="M475.8 575.5h19" stroke="#b3cde0" stroke-opacity="0.7" stroke-width="1"/>
<text x="504.8" y="556" class="ly">y</text>
<text x="504.8" y="577.8" class="ly">y</text><text x="513.8" y="581" class="lr">rep</text>
</svg>
</body></html>
